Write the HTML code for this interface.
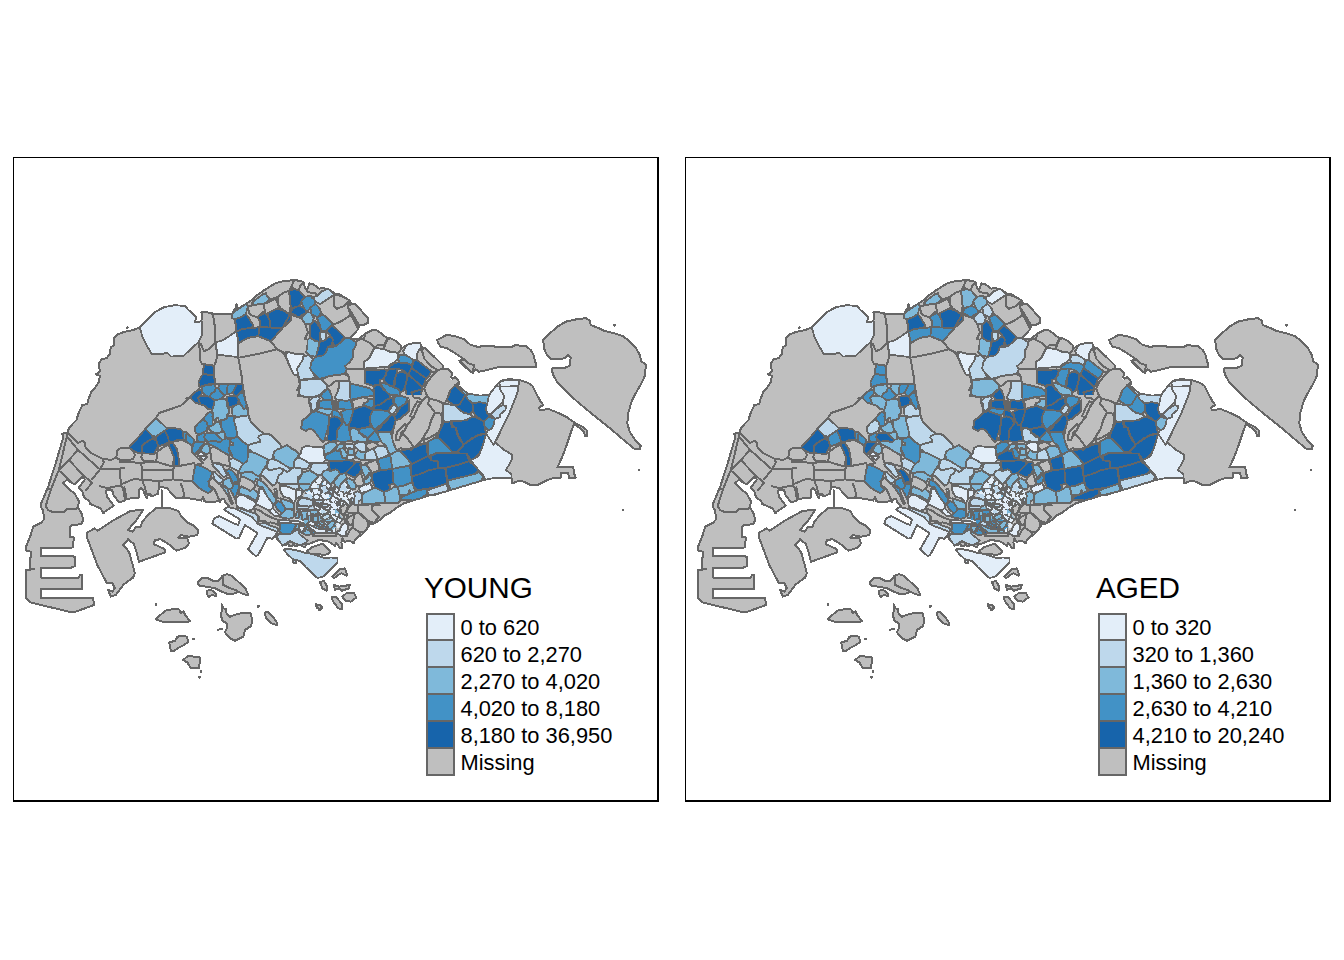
<!DOCTYPE html>
<html><head><meta charset="utf-8"><title>map</title>
<style>
html,body{margin:0;padding:0;background:#fff;}
body{width:1344px;height:960px;overflow:hidden;position:relative;font-family:"Liberation Sans",sans-serif;}
svg{position:absolute;left:0;top:0;}
text{font-family:"Liberation Sans",sans-serif;fill:#000;}
.m .b{fill:#BFBFBF;stroke:#BFBFBF;stroke-width:0.6;}
.m .w{fill:#fff;}
.m .g polygon{stroke:#666;stroke-width:2;stroke-linejoin:round;}
.m .l.t{stroke-width:1.85;}
.m .e{stroke-width:1.7;stroke-linejoin:round;}
.m .l{fill:none;stroke:#666;stroke-width:2;stroke-linejoin:round;stroke-linecap:round;}
</style></head><body>
<svg width="1344" height="960" viewBox="0 0 1344 960">

<rect x="0" y="0" width="1344" height="960" fill="#fff"/>
<g class="m" shape-rendering="crispEdges">
<polygon class="b" points="139.8,327.5 133.2,330 124.8,331.7 118.2,334.2 114,338.3 114,345 110.7,347.5 109.8,354.2 106.5,358.3 101.5,359.2 99,363.3 99.8,371.7 95.7,374.2 99.8,375.8 99,381.7 94.8,388.3 91.5,391.7 88.2,400 87.3,404.2 82.3,405 78.2,414.2 76.5,420 72.3,424.2 69,428.3 67.3,432.5 62.3,433.7 63.2,437.5 55.7,463.3 48.2,486.7 41.5,502.5 40.7,506.7 43.2,510.8 44,519.2 41.5,522.5 33.2,526.7 30.7,535 25.7,547.5 26.5,550.8 30.7,551.7 31.5,555.8 29.8,558.3 29.8,568.3 34,569.2 25.7,570 26,598.3 30.7,602.5 69,611.7 75.7,611.7 94,605 93.2,598 40.7,598 40.7,589.2 82.3,588.7 82,575 79.8,574.7 79.3,577.5 40.7,577.5 40.7,568.3 70.7,568 75.3,565.8 75.3,557.5 73.2,556.3 40.7,556.3 40.7,548 73.2,547.5 73.7,537.5 69.8,536.7 69.8,527.5 71.5,525 81.5,524.2 83.2,520 83.1,518.8 81.2,512.5 78.1,507.5 78.8,501.2 75,493.8 70,490 63.1,483.1 66.9,479.8 74.4,484.4 81.9,476.9 85,479.4 78.8,487.5 82.5,491.9 83.1,495 85,498.1 89.4,501.2 90,503.8 100,508.1 103.8,513.1 102.5,513.1 113.8,505.6 107.5,497.5 105.6,490.6 111.9,489.8 113.8,495.6 119.4,502.5 125,500.6 123.1,488.1 124.4,487.5 126.2,496.9 126.9,498.8 138.8,497.5 139,490 141.2,488.1 143.1,490 145,495 146.9,498.1 148.1,494.4 150,493.8 151.9,496.2 158.1,493.8 158.8,488.1 160.6,486.9 166.9,488.1 175.6,498.1 182.5,497.5 192.5,498.8 201.2,500.6 203.1,496.9 204.4,501.2 208.8,502.5 215,501.9 220,500 223.8,498.8 225.6,502.5 228.8,506.2 224.4,509.4 225.1,510.6 228.5,512.4 235.1,516.5 240.1,519.4 238.1,525 233.1,523.1 219.4,516.2 214.4,518.1 212.2,523.5 236.2,538.5 238.8,538.1 245,525 257.5,533.1 248.1,549.4 255.6,556 258.1,555 267.5,537.5 272.5,538.8 275.6,535 277.5,540 282.5,543.8 286.2,545 287.5,542.5 290,541.2 292.5,542.5 295,546.2 300,545 305,547.5 306.2,543.8 309.4,543.8 312.5,542.5 318.8,540 327.5,541.2 331.2,543.1 335,546.2 336.2,542.5 339.4,547.5 341.9,548.1 341.5,542.5 342.3,538.3 344.8,541.7 349.8,540.8 354,543.3 354.8,540 357.3,537.5 362.3,534.2 367.3,528.3 369.8,524.2 374.8,523.3 379.8,520 384,515.8 390.7,512.5 395.7,508.3 404,503.3 417.3,499.2 430.7,495 434,495 450.7,490 467.3,485 484,480 492.3,478.3 500.7,477.5 511.5,478.3 512.3,483.3 519,480.8 524,481.7 529.8,484.7 538.2,484.7 547.3,480 552.3,478.3 560.7,477.5 561.5,472.5 568.2,472.5 569,478 575.7,477.5 574,473.3 573.2,466.7 557.3,467.5 562.3,456.7 562.3,456.7 567.3,443.3 572.3,428.3 574,424.2 579,427.5 584,431.7 584.8,435.8 587.3,435.8 586.5,430 582.3,426.7 575.7,423.3 567.3,417.5 557.3,412.5 549,409.2 539.8,410 539,407.5 543.2,405 540.7,401.7 535.7,392.5 532.3,385.8 527.3,382.5 519,380 509,379.2 500.7,380.8 497.3,384.2 492.3,390.8 489,395 477.3,395.8 467.3,393.3 458.2,386.7 459,381.7 458,380 455,376.9 452.5,378.8 451.2,376.9 452.5,373.8 447.5,368.8 443.1,368.8 442.5,365 433.8,356.2 428.1,351.2 425,348.1 421.2,346.9 420,342.5 413.1,343.1 406.9,345 401.9,348.1 401.2,345.6 396.2,341.2 390,338.1 386.2,337.5 380,332.5 376.2,329.8 372.5,330 366.2,333.1 365,333.8 358.1,339.6 350,338.1 358.1,329.4 359.4,325.6 363.8,325 368.5,322.5 368.1,318.1 361.2,310.6 355,303.8 351.2,303.8 350,300.6 345.6,298.1 340,294.4 336.2,294.4 328.1,288.8 321.2,288.1 319.4,288.8 313.1,284 309.4,283.5 306.9,290 305,288.1 303.8,282.5 301.2,281.2 300.7,280.7 294,280.3 284.8,280.8 275.7,283 265.7,289.2 257.3,295 250.7,300.8 241.5,306.7 237.3,309.2 236.5,304.2 235.7,307.5 232.3,313.7 225.7,314.2 214,313.7 204,311.7 201.5,312.5 202.3,312.5 201.5,320 199,322.5 194.8,321.7 196.5,317.5 193.2,314.2 188.2,309.7 184.8,305.8 174,305.3 164,307.2 155.7,311.7 147.3,320 139.8,327.5"/>
<polygon class="b" points="87.3,532.5 94.8,528.3 97.3,530.8 114,520 130.7,510.8 143.2,510 136.5,520 130.7,526.7 128.2,530 132.3,531.7 136.5,526.7 140.7,526.7 142.3,521.7 147.3,515.8 155.7,508.3 161.5,507.5 170.7,508.3 178.2,510.8 181.5,516.7 187.3,522.5 194,525.8 198.2,530 197.3,535 189,536.7 180.7,535 178.2,537.5 187.3,538.3 189,543.3 185.7,547.5 176.5,550.8 169.8,545 160.7,539.2 154.8,540 154,544.2 164.8,549.2 164.8,552.5 139,561.7 136.5,551.7 134,544.2 128.2,539.2 123.2,545 129,551.7 133.2,566.7 134.8,573.3 133.2,577.5 124,584.2 115.7,595 110.7,596.7 108.2,590 112.3,591.7 114.8,588.3 112.3,583.3 106.5,582.5 97.3,565 87.3,538.3"/>
<polygon class="b" points="197.5,582.5 201.7,578.3 206.7,577.5 213.3,580.8 218.3,580.8 222.5,575.8 226.7,574.2 231.7,575.8 240,583.3 245.8,589.2 248.3,595 243.3,594.2 238.3,591.7 235.8,593.3 228.3,594.2 221.7,591.7 215,588.3 206.7,586.7 199.2,585.8"/>
<polygon class="b" points="206.7,590.8 210.8,589.7 215.8,593.3 215.8,595.8 211.7,595 209.2,597 206.7,594.2"/>
<polygon class="b" points="155.7,604.3 156.2,604.3 156.2,604.8 155.7,604.8"/>
<polygon class="b" points="155.8,619.2 165,610.8 174.2,608.8 179.2,609.5 180.8,613.3 183.3,611.3 185.8,615.8 190,621.3 181.7,622.5 162.5,621.7"/>
<polygon class="b" points="221.7,604.2 223.3,608.3 225.8,609.2 226.7,614.2 230,616.7 236.7,614.2 245,612.5 250.8,613.3 252,620 251.3,625.8 245,630 243.3,636.7 235,640.8 230,638.3 225,632.5 227.5,626.7 226.7,623.3 222.5,620.8 220.8,615 222,610"/>
<polygon class="b" points="258,606 258.7,606 258.7,606.7 258,606.7"/>
<polygon class="b" points="265,612.5 267.5,611.7 273.3,617.5 277.5,623.3 276.7,625.3 271.7,623.3 265.8,617.5"/>
<polygon class="b" points="169.2,642.5 175,640.8 177.5,636.7 181.7,635.8 186.7,636.7 188.3,641.7 184.2,645 179.2,647.5 174.2,650.8 170.8,650.8"/>
<polygon class="b" points="193.3,638.5 194,638.5 194,639.2 193.3,639.2"/>
<polygon class="b" points="183,660 188.3,655.8 200,657.5 199.2,668.3 190.8,668.3 187.5,662.5"/>
<polygon class="b" points="200.7,671 201.2,671 201.2,671.7 200.7,671.7"/>
<polygon class="b" points="199.2,676.7 199.8,676.7 199.8,677.7 199.2,677.7"/>
<polygon class="b" points="315.8,604.2 319.2,605 322.5,607.5 320,610 316.7,607.5"/>
<polygon class="b" points="437.3,340 446.5,335 454,335.8 464,339.2 470.7,345 477.3,346.7 492.3,345.8 497.3,347.5 512.3,346.7 514.8,345.3 525.7,345.8 530.7,350 533.2,354.2 535.7,363.3 535.7,367.5 527.3,366.7 514,367.5 504,366.7 497.3,367.5 487.3,370 479,371.7 475.7,369.2 473.2,372.5 470.7,371.7 460.7,363.3 459.8,360.8 464,360 461.5,357.5 447.3,348.3 440.7,346.7 438.2,343.3"/>
<polygon class="b" points="543.2,340 549,334.2 557.3,326.7 565.7,321.7 579,318.7 586.5,318.3 589.8,320.8 590.7,325 599,328.3 604,330.8 614,333.3 622.3,335.8 629,340.8 635.7,347.5 639.8,355 641.5,361.7 645.7,364.2 645.3,375 641.5,383.3 635.7,393.3 631.5,401.7 628.2,413.3 627.3,423.3 629.8,431.7 635.7,440.8 640.7,445.8 639.8,449.2 634.8,449.2 625.7,441.7 609,427.5 592.3,414.2 577.3,401.7 565.7,390.8 557.3,382.5 553.2,375 551.5,369.2 553.2,367.5 565.7,367.5 569.8,365.8 570.7,357.5 568.2,354.7 565.7,357.5 561.5,359.2 550.7,359.2 546.5,354.2 544,348.3"/>
<polygon class="b" points="306.9,551.2 312.5,546.9 322.5,543.8 326.2,547.5 330.6,551.2 328.8,553.8 323.8,555 317.5,553.8 310,553.8"/>
<polygon class="b" points="332.3,576.7 339.8,569.2 344.8,568.3 346.5,572.5 346.5,575.8 341.5,573.3 338.2,575 334,578.3"/>
<polygon class="b" points="319.8,581.7 324,581.3 327.3,586.7 326.5,590.8 322.3,588.3"/>
<polygon class="b" points="334,585 339,586.7 349.8,585 349,588.3 341.5,590.8 339,588.3 334.8,590"/>
<polygon class="b" points="342.3,596.7 347.3,592.5 354,593.3 356.5,597.5 350.7,601.7 345.7,600.8"/>
<polygon class="b" points="331.5,597.5 335.7,596.7 341.5,603.3 342.3,609.2 338.2,608.3 333.2,601.7"/>
<polygon class="b" points="315.7,604.2 319.8,605 322.3,608.3 319,610"/>
<polygon class="b" points="127.1,327.4 127.5,327.4 127.5,327.8 127.1,327.8"/>
<polygon class="b" points="459.4,360.6 465,359.4 468.1,363.1 473.8,365 473.1,373.1 467.5,368.8 462.5,363.8"/>
<polygon class="b" points="314.8,524.1 317.9,522.2 321.6,521 324.8,524.1 322.2,526.6 320.4,527.9 317.2,526"/>
<polygon class="b" points="312.9,534.1 316,532.9 333.5,532.6 336,534.1 336.6,536 312.9,536"/>
<polygon class="b" points="329.1,490.4 331.6,487.9 334.1,487.2 334.1,492.2 332.2,495.4 330.1,493.5"/>
<polygon class="b" points="337.2,501.6 339.8,502.2 340.4,504.1 338.5,505.4"/>
<polygon class="b" points="255.2,509 260.2,510.7 266,514.8 272.7,518.2 277.7,519.8 278.1,524.8 274.3,523.2 270.2,522.3 267.7,524 266,521.5 259.3,520.7 259.3,517.3 256,514.8 254.8,511.5"/>
<polygon class="b" points="315.2,524 321,521.1 325.2,524 321,527.3"/>
<polygon class="b" points="287.7,542.3 290.2,540.7 293.5,542.3 292.7,545.7 289.3,546.1"/>
<polygon class="b" points="614.3,325 614.8,325 614.8,325.5 614.3,325.5"/>
<polygon class="b" points="638.8,469.5 639.3,469.5 639.3,470 638.8,470"/>
<polygon class="b" points="622.8,509.5 623.3,509.5 623.3,510 622.8,510"/>
<clipPath id="c273_0"><polygon points="310.4,480.4 316.6,477.9 321,477.2 327.2,482.9 333.5,486.6 339.8,485.4 346,481.6 349.8,487.2 354.8,492.2 354.1,503.5 347.9,504.8 341,507.2 339.8,514.8 343.5,519.8 339.8,524.8 336,523.5 331,519.8 321,519.8 314.8,514.8 313.5,507.2 305.4,507.2 304.1,494.8 308.5,487.2"/></clipPath>
<g clip-path="url(#c273_0)" class="g"><polygon style="fill:#E3EEF9" points="312.7,445.1 316.5,448.5 314.9,452.4 311.3,449.7"/><polygon style="fill:#E3EEF9" points="311.3,449.7 314.9,452.4 312.9,458.2 308.2,454.7"/><polygon style="fill:#E3EEF9" points="308.2,454.7 312.9,458.2 309.3,461.6 304.5,458.8"/><polygon style="fill:#7FB9DA" points="304.5,458.8 309.3,461.6 307.3,467.1 302.2,463.0"/><polygon style="fill:#E3EEF9" points="302.2,463.0 307.3,467.1 306.2,470.3 300.4,466.6"/><polygon style="fill:#E3EEF9" points="300.4,466.6 306.2,470.3 304.7,474.7 298.0,473.3"/><polygon style="fill:#E3EEF9" points="298.0,473.3 304.7,474.7 300.1,479.9 295.7,475.9"/><polygon style="fill:#E3EEF9" points="295.7,475.9 300.1,479.9 297.5,483.3 293.6,482.7"/><polygon style="fill:#BED8EC" points="293.6,482.7 297.5,483.3 294.6,488.0 291.9,485.7"/><polygon style="fill:#BED8EC" points="291.9,485.7 294.6,488.0 294.2,493.2 291.0,489.8"/><polygon style="fill:#BED8EC" points="291.0,489.8 294.2,493.2 292.4,497.1 288.0,494.7"/><polygon style="fill:#7FB9DA" points="288.0,494.7 292.4,497.1 289.3,502.0 284.1,497.7"/><polygon style="fill:#7FB9DA" points="284.1,497.7 289.3,502.0 286.8,505.9 281.3,504.1"/><polygon style="fill:#E3EEF9" points="281.3,504.1 286.8,505.9 284.5,511.8 278.9,507.7"/><polygon style="fill:#E3EEF9" points="278.9,507.7 284.5,511.8 281.6,515.1 278.0,512.2"/><polygon style="fill:#7FB9DA" points="278.0,512.2 281.6,515.1 278.2,519.0 275.8,515.8"/><polygon style="fill:#BED8EC" points="275.8,515.8 278.2,519.0 276.9,525.0 272.1,519.9"/><polygon style="fill:#E3EEF9" points="272.1,519.9 276.9,525.0 275.9,527.8 271.0,525.7"/><polygon style="fill:#BED8EC" points="316.5,448.5 321.0,451.1 318.0,454.5 314.9,452.4"/><polygon style="fill:#E3EEF9" points="314.9,452.4 318.0,454.5 316.5,458.3 312.9,458.2"/><polygon style="fill:#E3EEF9" points="312.9,458.2 316.5,458.3 313.0,464.2 309.3,461.6"/><polygon style="fill:#E3EEF9" points="309.3,461.6 313.0,464.2 311.5,467.4 307.3,467.1"/><polygon style="fill:#E3EEF9" points="307.3,467.1 311.5,467.4 309.0,473.7 306.2,470.3"/><polygon style="fill:#E3EEF9" points="306.2,470.3 309.0,473.7 306.5,476.7 304.7,474.7"/><polygon style="fill:#E3EEF9" points="304.7,474.7 306.5,476.7 304.7,482.8 300.1,479.9"/><polygon style="fill:#E3EEF9" points="300.1,479.9 304.7,482.8 303.0,487.5 297.5,483.3"/><polygon style="fill:#7FB9DA" points="297.5,483.3 303.0,487.5 299.9,490.1 294.6,488.0"/><polygon style="fill:#E3EEF9" points="294.6,488.0 299.9,490.1 297.2,495.8 294.2,493.2"/><polygon style="fill:#7FB9DA" points="294.2,493.2 297.2,495.8 297.3,499.1 292.4,497.1"/><polygon style="fill:#E3EEF9" points="292.4,497.1 297.3,499.1 292.9,502.7 289.3,502.0"/><polygon style="fill:#E3EEF9" points="289.3,502.0 292.9,502.7 290.4,507.8 286.8,505.9"/><polygon style="fill:#BED8EC" points="286.8,505.9 290.4,507.8 289.2,512.2 284.5,511.8"/><polygon style="fill:#BED8EC" points="284.5,511.8 289.2,512.2 285.2,516.2 281.6,515.1"/><polygon style="fill:#E3EEF9" points="281.6,515.1 285.2,516.2 283.5,521.5 278.2,519.0"/><polygon style="fill:#E3EEF9" points="278.2,519.0 283.5,521.5 282.5,527.0 276.9,525.0"/><polygon style="fill:#E3EEF9" points="276.9,525.0 282.5,527.0 279.1,530.6 275.9,527.8"/><polygon style="fill:#E3EEF9" points="321.0,451.1 326.9,452.3 324.2,458.8 318.0,454.5"/><polygon style="fill:#7FB9DA" points="318.0,454.5 324.2,458.8 321.8,463.2 316.5,458.3"/><polygon style="fill:#E3EEF9" points="316.5,458.3 321.8,463.2 318.7,466.0 313.0,464.2"/><polygon style="fill:#E3EEF9" points="313.0,464.2 318.7,466.0 315.4,470.7 311.5,467.4"/><polygon style="fill:#BED8EC" points="311.5,467.4 315.4,470.7 313.7,473.6 309.0,473.7"/><polygon style="fill:#E3EEF9" points="309.0,473.7 313.7,473.6 311.6,478.5 306.5,476.7"/><polygon style="fill:#E3EEF9" points="306.5,476.7 311.6,478.5 309.7,482.8 304.7,482.8"/><polygon style="fill:#BED8EC" points="304.7,482.8 309.7,482.8 306.4,487.0 303.0,487.5"/><polygon style="fill:#BED8EC" points="303.0,487.5 306.4,487.0 304.0,492.1 299.9,490.1"/><polygon style="fill:#E3EEF9" points="299.9,490.1 304.0,492.1 300.8,497.6 297.2,495.8"/><polygon style="fill:#E3EEF9" points="297.2,495.8 300.8,497.6 300.8,501.0 297.3,499.1"/><polygon style="fill:#E3EEF9" points="297.3,499.1 300.8,501.0 297.3,505.5 292.9,502.7"/><polygon style="fill:#7FB9DA" points="292.9,502.7 297.3,505.5 295.6,509.5 290.4,507.8"/><polygon style="fill:#E3EEF9" points="290.4,507.8 295.6,509.5 293.3,516.7 289.2,512.2"/><polygon style="fill:#BED8EC" points="289.2,512.2 293.3,516.7 290.7,519.3 285.2,516.2"/><polygon style="fill:#BED8EC" points="285.2,516.2 290.7,519.3 287.9,522.3 283.5,521.5"/><polygon style="fill:#E3EEF9" points="283.5,521.5 287.9,522.3 285.9,527.5 282.5,527.0"/><polygon style="fill:#E3EEF9" points="282.5,527.0 285.9,527.5 284.9,532.2 279.1,530.6"/><polygon style="fill:#7FB9DA" points="326.9,452.3 328.6,456.0 328.5,459.1 324.2,458.8"/><polygon style="fill:#E3EEF9" points="324.2,458.8 328.5,459.1 326.4,463.3 321.8,463.2"/><polygon style="fill:#E3EEF9" points="321.8,463.2 326.4,463.3 322.7,470.0 318.7,466.0"/><polygon style="fill:#BED8EC" points="318.7,466.0 322.7,470.0 321.6,474.2 315.4,470.7"/><polygon style="fill:#E3EEF9" points="315.4,470.7 321.6,474.2 318.2,477.0 313.7,473.6"/><polygon style="fill:#E3EEF9" points="313.7,473.6 318.2,477.0 315.1,482.3 311.6,478.5"/><polygon style="fill:#E3EEF9" points="311.6,478.5 315.1,482.3 313.6,487.2 309.7,482.8"/><polygon style="fill:#BED8EC" points="309.7,482.8 313.6,487.2 311.5,489.9 306.4,487.0"/><polygon style="fill:#7FB9DA" points="306.4,487.0 311.5,489.9 309.3,496.9 304.0,492.1"/><polygon style="fill:#BED8EC" points="304.0,492.1 309.3,496.9 307.3,500.9 300.8,497.6"/><polygon style="fill:#7FB9DA" points="300.8,497.6 307.3,500.9 305.0,505.1 300.8,501.0"/><polygon style="fill:#E3EEF9" points="300.8,501.0 305.0,505.1 301.5,508.2 297.3,505.5"/><polygon style="fill:#E3EEF9" points="297.3,505.5 301.5,508.2 300.1,511.6 295.6,509.5"/><polygon style="fill:#E3EEF9" points="295.6,509.5 300.1,511.6 296.6,516.2 293.3,516.7"/><polygon style="fill:#7FB9DA" points="293.3,516.7 296.6,516.2 294.3,521.9 290.7,519.3"/><polygon style="fill:#7FB9DA" points="290.7,519.3 294.3,521.9 294.0,526.6 287.9,522.3"/><polygon style="fill:#E3EEF9" points="287.9,522.3 294.0,526.6 290.9,532.4 285.9,527.5"/><polygon style="fill:#E3EEF9" points="285.9,527.5 290.9,532.4 289.4,535.3 284.9,532.2"/><polygon style="fill:#E3EEF9" points="328.6,456.0 334.4,456.8 332.0,461.2 328.5,459.1"/><polygon style="fill:#E3EEF9" points="328.5,459.1 332.0,461.2 329.8,467.9 326.4,463.3"/><polygon style="fill:#7FB9DA" points="326.4,463.3 329.8,467.9 328.6,471.5 322.7,470.0"/><polygon style="fill:#E3EEF9" points="322.7,470.0 328.6,471.5 325.3,476.5 321.6,474.2"/><polygon style="fill:#BED8EC" points="321.6,474.2 325.3,476.5 321.8,479.8 318.2,477.0"/><polygon style="fill:#BED8EC" points="318.2,477.0 321.8,479.8 321.3,485.6 315.1,482.3"/><polygon style="fill:#BED8EC" points="315.1,482.3 321.3,485.6 319.0,489.1 313.6,487.2"/><polygon style="fill:#BED8EC" points="313.6,487.2 319.0,489.1 314.8,493.5 311.5,489.9"/><polygon style="fill:#E3EEF9" points="311.5,489.9 314.8,493.5 312.8,498.1 309.3,496.9"/><polygon style="fill:#E3EEF9" points="309.3,496.9 312.8,498.1 312.6,502.4 307.3,500.9"/><polygon style="fill:#E3EEF9" points="307.3,500.9 312.6,502.4 308.1,507.4 305.0,505.1"/><polygon style="fill:#E3EEF9" points="305.0,505.1 308.1,507.4 307.6,510.3 301.5,508.2"/><polygon style="fill:#BED8EC" points="301.5,508.2 307.6,510.3 303.8,513.9 300.1,511.6"/><polygon style="fill:#E3EEF9" points="300.1,511.6 303.8,513.9 302.5,521.0 296.6,516.2"/><polygon style="fill:#E3EEF9" points="296.6,516.2 302.5,521.0 298.2,524.4 294.3,521.9"/><polygon style="fill:#BED8EC" points="294.3,521.9 298.2,524.4 298.2,529.5 294.0,526.6"/><polygon style="fill:#E3EEF9" points="294.0,526.6 298.2,529.5 294.4,532.9 290.9,532.4"/><polygon style="fill:#E3EEF9" points="290.9,532.4 294.4,532.9 292.2,535.7 289.4,535.3"/><polygon style="fill:#E3EEF9" points="334.4,456.8 340.1,461.2 336.3,465.8 332.0,461.2"/><polygon style="fill:#E3EEF9" points="332.0,461.2 336.3,465.8 333.8,469.9 329.8,467.9"/><polygon style="fill:#E3EEF9" points="329.8,467.9 333.8,469.9 333.3,473.2 328.6,471.5"/><polygon style="fill:#7FB9DA" points="328.6,471.5 333.3,473.2 329.4,477.1 325.3,476.5"/><polygon style="fill:#BED8EC" points="325.3,476.5 329.4,477.1 326.7,482.2 321.8,479.8"/><polygon style="fill:#7FB9DA" points="321.8,479.8 326.7,482.2 324.6,486.2 321.3,485.6"/><polygon style="fill:#E3EEF9" points="321.3,485.6 324.6,486.2 321.3,491.7 319.0,489.1"/><polygon style="fill:#E3EEF9" points="319.0,489.1 321.3,491.7 320.1,495.3 314.8,493.5"/><polygon style="fill:#E3EEF9" points="314.8,493.5 320.1,495.3 317.7,501.1 312.8,498.1"/><polygon style="fill:#E3EEF9" points="312.8,498.1 317.7,501.1 314.9,505.3 312.6,502.4"/><polygon style="fill:#BED8EC" points="312.6,502.4 314.9,505.3 313.3,508.9 308.1,507.4"/><polygon style="fill:#E3EEF9" points="308.1,507.4 313.3,508.9 311.7,512.0 307.6,510.3"/><polygon style="fill:#E3EEF9" points="307.6,510.3 311.7,512.0 308.9,516.8 303.8,513.9"/><polygon style="fill:#E3EEF9" points="303.8,513.9 308.9,516.8 304.7,522.1 302.5,521.0"/><polygon style="fill:#BED8EC" points="302.5,521.0 304.7,522.1 303.2,526.0 298.2,524.4"/><polygon style="fill:#BED8EC" points="298.2,524.4 303.2,526.0 302.1,531.3 298.2,529.5"/><polygon style="fill:#BED8EC" points="298.2,529.5 302.1,531.3 298.8,535.1 294.4,532.9"/><polygon style="fill:#BED8EC" points="294.4,532.9 298.8,535.1 296.7,540.5 292.2,535.7"/><polygon style="fill:#BED8EC" points="340.1,461.2 342.5,462.2 340.9,466.1 336.3,465.8"/><polygon style="fill:#E3EEF9" points="336.3,465.8 340.9,466.1 339.6,471.8 333.8,469.9"/><polygon style="fill:#BED8EC" points="333.8,469.9 339.6,471.8 336.4,476.5 333.3,473.2"/><polygon style="fill:#E3EEF9" points="333.3,473.2 336.4,476.5 335.3,480.6 329.4,477.1"/><polygon style="fill:#E3EEF9" points="329.4,477.1 335.3,480.6 332.1,484.8 326.7,482.2"/><polygon style="fill:#E3EEF9" points="326.7,482.2 332.1,484.8 329.3,489.6 324.6,486.2"/><polygon style="fill:#BED8EC" points="324.6,486.2 329.3,489.6 327.0,493.5 321.3,491.7"/><polygon style="fill:#E3EEF9" points="321.3,491.7 327.0,493.5 324.2,499.0 320.1,495.3"/><polygon style="fill:#E3EEF9" points="320.1,495.3 324.2,499.0 322.5,503.5 317.7,501.1"/><polygon style="fill:#E3EEF9" points="317.7,501.1 322.5,503.5 321.5,506.7 314.9,505.3"/><polygon style="fill:#E3EEF9" points="314.9,505.3 321.5,506.7 317.3,512.3 313.3,508.9"/><polygon style="fill:#BED8EC" points="313.3,508.9 317.3,512.3 316.7,515.1 311.7,512.0"/><polygon style="fill:#E3EEF9" points="311.7,512.0 316.7,515.1 312.2,519.3 308.9,516.8"/><polygon style="fill:#E3EEF9" points="308.9,516.8 312.2,519.3 310.0,523.2 304.7,522.1"/><polygon style="fill:#E3EEF9" points="304.7,522.1 310.0,523.2 307.1,528.7 303.2,526.0"/><polygon style="fill:#7FB9DA" points="303.2,526.0 307.1,528.7 306.2,534.6 302.1,531.3"/><polygon style="fill:#E3EEF9" points="302.1,531.3 306.2,534.6 302.5,537.7 298.8,535.1"/><polygon style="fill:#E3EEF9" points="298.8,535.1 302.5,537.7 302.2,541.4 296.7,540.5"/><polygon style="fill:#BED8EC" points="342.5,462.2 348.3,466.6 344.4,470.1 340.9,466.1"/><polygon style="fill:#BED8EC" points="340.9,466.1 344.4,470.1 343.1,473.6 339.6,471.8"/><polygon style="fill:#7FB9DA" points="339.6,471.8 343.1,473.6 341.7,479.6 336.4,476.5"/><polygon style="fill:#E3EEF9" points="336.4,476.5 341.7,479.6 337.9,482.0 335.3,480.6"/><polygon style="fill:#E3EEF9" points="335.3,480.6 337.9,482.0 336.5,486.6 332.1,484.8"/><polygon style="fill:#BED8EC" points="332.1,484.8 336.5,486.6 333.4,490.6 329.3,489.6"/><polygon style="fill:#BED8EC" points="329.3,489.6 333.4,490.6 332.7,494.9 327.0,493.5"/><polygon style="fill:#7FB9DA" points="327.0,493.5 332.7,494.9 329.4,500.2 324.2,499.0"/><polygon style="fill:#E3EEF9" points="324.2,499.0 329.4,500.2 325.9,503.6 322.5,503.5"/><polygon style="fill:#E3EEF9" points="322.5,503.5 325.9,503.6 324.8,509.3 321.5,506.7"/><polygon style="fill:#E3EEF9" points="321.5,506.7 324.8,509.3 320.5,514.1 317.3,512.3"/><polygon style="fill:#E3EEF9" points="317.3,512.3 320.5,514.1 319.9,519.4 316.7,515.1"/><polygon style="fill:#7FB9DA" points="316.7,515.1 319.9,519.4 316.8,521.2 312.2,519.3"/><polygon style="fill:#E3EEF9" points="312.2,519.3 316.8,521.2 313.6,526.8 310.0,523.2"/><polygon style="fill:#7FB9DA" points="310.0,523.2 313.6,526.8 312.7,529.9 307.1,528.7"/><polygon style="fill:#E3EEF9" points="307.1,528.7 312.7,529.9 309.7,536.5 306.2,534.6"/><polygon style="fill:#BED8EC" points="306.2,534.6 309.7,536.5 309.2,539.8 302.5,537.7"/><polygon style="fill:#E3EEF9" points="302.5,537.7 309.2,539.8 304.3,545.0 302.2,541.4"/><polygon style="fill:#E3EEF9" points="348.3,466.6 352.3,467.9 349.6,470.1 344.4,470.1"/><polygon style="fill:#BED8EC" points="344.4,470.1 349.6,470.1 348.3,476.2 343.1,473.6"/><polygon style="fill:#7FB9DA" points="343.1,473.6 348.3,476.2 343.7,481.0 341.7,479.6"/><polygon style="fill:#E3EEF9" points="341.7,479.6 343.7,481.0 343.0,485.9 337.9,482.0"/><polygon style="fill:#E3EEF9" points="337.9,482.0 343.0,485.9 339.2,489.7 336.5,486.6"/><polygon style="fill:#E3EEF9" points="336.5,486.6 339.2,489.7 336.8,494.1 333.4,490.6"/><polygon style="fill:#E3EEF9" points="333.4,490.6 336.8,494.1 336.1,497.7 332.7,494.9"/><polygon style="fill:#E3EEF9" points="332.7,494.9 336.1,497.7 333.2,503.7 329.4,500.2"/><polygon style="fill:#E3EEF9" points="329.4,500.2 333.2,503.7 331.2,505.8 325.9,503.6"/><polygon style="fill:#E3EEF9" points="325.9,503.6 331.2,505.8 329.3,510.8 324.8,509.3"/><polygon style="fill:#E3EEF9" points="324.8,509.3 329.3,510.8 326.1,514.5 320.5,514.1"/><polygon style="fill:#E3EEF9" points="320.5,514.1 326.1,514.5 323.5,518.9 319.9,519.4"/><polygon style="fill:#BED8EC" points="319.9,519.4 323.5,518.9 321.7,523.9 316.8,521.2"/><polygon style="fill:#E3EEF9" points="316.8,521.2 321.7,523.9 320.5,528.9 313.6,526.8"/><polygon style="fill:#E3EEF9" points="313.6,526.8 320.5,528.9 317.6,532.7 312.7,529.9"/><polygon style="fill:#E3EEF9" points="312.7,529.9 317.6,532.7 315.1,536.5 309.7,536.5"/><polygon style="fill:#BED8EC" points="309.7,536.5 315.1,536.5 312.5,540.8 309.2,539.8"/><polygon style="fill:#E3EEF9" points="309.2,539.8 312.5,540.8 310.7,547.2 304.3,545.0"/><polygon style="fill:#E3EEF9" points="352.3,467.9 356.1,469.1 356.1,473.6 349.6,470.1"/><polygon style="fill:#E3EEF9" points="349.6,470.1 356.1,473.6 353.0,478.7 348.3,476.2"/><polygon style="fill:#BED8EC" points="348.3,476.2 353.0,478.7 349.3,483.7 343.7,481.0"/><polygon style="fill:#E3EEF9" points="343.7,481.0 349.3,483.7 347.2,487.2 343.0,485.9"/><polygon style="fill:#E3EEF9" points="343.0,485.9 347.2,487.2 344.9,493.1 339.2,489.7"/><polygon style="fill:#E3EEF9" points="339.2,489.7 344.9,493.1 341.9,496.7 336.8,494.1"/><polygon style="fill:#E3EEF9" points="336.8,494.1 341.9,496.7 340.7,501.1 336.1,497.7"/><polygon style="fill:#E3EEF9" points="336.1,497.7 340.7,501.1 338.0,504.4 333.2,503.7"/><polygon style="fill:#BED8EC" points="333.2,503.7 338.0,504.4 335.1,507.9 331.2,505.8"/><polygon style="fill:#E3EEF9" points="331.2,505.8 335.1,507.9 332.0,513.8 329.3,510.8"/><polygon style="fill:#E3EEF9" points="329.3,510.8 332.0,513.8 330.8,517.0 326.1,514.5"/><polygon style="fill:#BED8EC" points="326.1,514.5 330.8,517.0 327.2,522.9 323.5,518.9"/><polygon style="fill:#E3EEF9" points="323.5,518.9 327.2,522.9 327.0,527.9 321.7,523.9"/><polygon style="fill:#E3EEF9" points="321.7,523.9 327.0,527.9 323.8,530.5 320.5,528.9"/><polygon style="fill:#E3EEF9" points="320.5,528.9 323.8,530.5 321.2,535.5 317.6,532.7"/><polygon style="fill:#7FB9DA" points="317.6,532.7 321.2,535.5 318.5,539.7 315.1,536.5"/><polygon style="fill:#E3EEF9" points="315.1,536.5 318.5,539.7 315.7,545.5 312.5,540.8"/><polygon style="fill:#E3EEF9" points="312.5,540.8 315.7,545.5 315.7,549.8 310.7,547.2"/><polygon style="fill:#E3EEF9" points="356.1,469.1 360.0,472.8 358.6,475.8 356.1,473.6"/><polygon style="fill:#E3EEF9" points="356.1,473.6 358.6,475.8 355.5,479.8 353.0,478.7"/><polygon style="fill:#BED8EC" points="353.0,478.7 355.5,479.8 354.1,485.2 349.3,483.7"/><polygon style="fill:#7FB9DA" points="349.3,483.7 354.1,485.2 351.1,489.2 347.2,487.2"/><polygon style="fill:#E3EEF9" points="347.2,487.2 351.1,489.2 348.6,492.8 344.9,493.1"/><polygon style="fill:#E3EEF9" points="344.9,493.1 348.6,492.8 346.3,497.7 341.9,496.7"/><polygon style="fill:#BED8EC" points="341.9,496.7 346.3,497.7 344.3,501.1 340.7,501.1"/><polygon style="fill:#E3EEF9" points="340.7,501.1 344.3,501.1 342.3,506.4 338.0,504.4"/><polygon style="fill:#E3EEF9" points="338.0,504.4 342.3,506.4 340.3,511.9 335.1,507.9"/><polygon style="fill:#7FB9DA" points="335.1,507.9 340.3,511.9 338.2,516.8 332.0,513.8"/><polygon style="fill:#E3EEF9" points="332.0,513.8 338.2,516.8 335.5,521.8 330.8,517.0"/><polygon style="fill:#BED8EC" points="330.8,517.0 335.5,521.8 333.0,524.4 327.2,522.9"/><polygon style="fill:#E3EEF9" points="327.2,522.9 333.0,524.4 332.4,529.1 327.0,527.9"/><polygon style="fill:#BED8EC" points="327.0,527.9 332.4,529.1 328.7,534.4 323.8,530.5"/><polygon style="fill:#E3EEF9" points="323.8,530.5 328.7,534.4 324.5,538.4 321.2,535.5"/><polygon style="fill:#E3EEF9" points="321.2,535.5 324.5,538.4 324.5,543.4 318.5,539.7"/><polygon style="fill:#E3EEF9" points="318.5,539.7 324.5,543.4 321.5,548.1 315.7,545.5"/><polygon style="fill:#E3EEF9" points="315.7,545.5 321.5,548.1 318.1,551.0 315.7,549.8"/><polygon style="fill:#BED8EC" points="360.0,472.8 365.2,475.1 363.6,479.9 358.6,475.8"/><polygon style="fill:#7FB9DA" points="358.6,475.8 363.6,479.9 360.7,484.2 355.5,479.8"/><polygon style="fill:#E3EEF9" points="355.5,479.8 360.7,484.2 358.8,488.3 354.1,485.2"/><polygon style="fill:#BED8EC" points="354.1,485.2 358.8,488.3 356.2,490.5 351.1,489.2"/><polygon style="fill:#E3EEF9" points="351.1,489.2 356.2,490.5 353.2,495.6 348.6,492.8"/><polygon style="fill:#E3EEF9" points="348.6,492.8 353.2,495.6 350.2,501.1 346.3,497.7"/><polygon style="fill:#E3EEF9" points="346.3,497.7 350.2,501.1 349.2,505.6 344.3,501.1"/><polygon style="fill:#E3EEF9" points="344.3,501.1 349.2,505.6 347.0,510.2 342.3,506.4"/><polygon style="fill:#E3EEF9" points="342.3,506.4 347.0,510.2 345.2,512.8 340.3,511.9"/><polygon style="fill:#7FB9DA" points="340.3,511.9 345.2,512.8 342.6,519.5 338.2,516.8"/><polygon style="fill:#E3EEF9" points="338.2,516.8 342.6,519.5 339.8,523.0 335.5,521.8"/><polygon style="fill:#E3EEF9" points="335.5,521.8 339.8,523.0 338.5,526.4 333.0,524.4"/><polygon style="fill:#BED8EC" points="333.0,524.4 338.5,526.4 336.1,531.4 332.4,529.1"/><polygon style="fill:#7FB9DA" points="332.4,529.1 336.1,531.4 332.0,535.0 328.7,534.4"/><polygon style="fill:#E3EEF9" points="328.7,534.4 332.0,535.0 331.4,540.1 324.5,538.4"/><polygon style="fill:#E3EEF9" points="324.5,538.4 331.4,540.1 328.1,546.4 324.5,543.4"/><polygon style="fill:#7FB9DA" points="324.5,543.4 328.1,546.4 325.9,549.1 321.5,548.1"/><polygon style="fill:#7FB9DA" points="321.5,548.1 325.9,549.1 323.1,554.2 318.1,551.0"/><polygon style="fill:#E3EEF9" points="365.2,475.1 370.6,477.3 368.6,480.2 363.6,479.9"/><polygon style="fill:#E3EEF9" points="363.6,479.9 368.6,480.2 364.8,484.4 360.7,484.2"/><polygon style="fill:#7FB9DA" points="360.7,484.2 364.8,484.4 363.9,489.7 358.8,488.3"/><polygon style="fill:#E3EEF9" points="358.8,488.3 363.9,489.7 361.5,493.2 356.2,490.5"/><polygon style="fill:#7FB9DA" points="356.2,490.5 361.5,493.2 357.6,497.6 353.2,495.6"/><polygon style="fill:#BED8EC" points="353.2,495.6 357.6,497.6 356.2,503.9 350.2,501.1"/><polygon style="fill:#BED8EC" points="350.2,501.1 356.2,503.9 354.3,507.3 349.2,505.6"/><polygon style="fill:#E3EEF9" points="349.2,505.6 354.3,507.3 351.4,511.9 347.0,510.2"/><polygon style="fill:#BED8EC" points="347.0,510.2 351.4,511.9 349.4,515.4 345.2,512.8"/><polygon style="fill:#E3EEF9" points="345.2,512.8 349.4,515.4 348.0,520.6 342.6,519.5"/><polygon style="fill:#E3EEF9" points="342.6,519.5 348.0,520.6 344.9,526.9 339.8,523.0"/><polygon style="fill:#BED8EC" points="339.8,523.0 344.9,526.9 340.8,528.9 338.5,526.4"/><polygon style="fill:#BED8EC" points="338.5,526.4 340.8,528.9 339.7,535.6 336.1,531.4"/><polygon style="fill:#E3EEF9" points="336.1,531.4 339.7,535.6 337.4,537.8 332.0,535.0"/><polygon style="fill:#E3EEF9" points="332.0,535.0 337.4,537.8 333.6,543.6 331.4,540.1"/><polygon style="fill:#E3EEF9" points="331.4,540.1 333.6,543.6 331.7,547.1 328.1,546.4"/><polygon style="fill:#E3EEF9" points="328.1,546.4 331.7,547.1 329.2,551.3 325.9,549.1"/><polygon style="fill:#E3EEF9" points="325.9,549.1 329.2,551.3 329.4,555.8 323.1,554.2"/><polygon style="fill:#E3EEF9" points="370.6,477.3 375.3,479.5 372.8,484.4 368.6,480.2"/><polygon style="fill:#E3EEF9" points="368.6,480.2 372.8,484.4 368.6,488.5 364.8,484.4"/><polygon style="fill:#BED8EC" points="364.8,484.4 368.6,488.5 368.0,491.1 363.9,489.7"/><polygon style="fill:#BED8EC" points="363.9,489.7 368.0,491.1 363.9,496.0 361.5,493.2"/><polygon style="fill:#E3EEF9" points="361.5,493.2 363.9,496.0 362.9,500.5 357.6,497.6"/><polygon style="fill:#E3EEF9" points="357.6,497.6 362.9,500.5 359.7,504.6 356.2,503.9"/><polygon style="fill:#BED8EC" points="356.2,503.9 359.7,504.6 357.2,510.5 354.3,507.3"/><polygon style="fill:#E3EEF9" points="354.3,507.3 357.2,510.5 354.1,514.3 351.4,511.9"/><polygon style="fill:#BED8EC" points="351.4,511.9 354.1,514.3 354.7,518.2 349.4,515.4"/><polygon style="fill:#E3EEF9" points="349.4,515.4 354.7,518.2 351.8,524.2 348.0,520.6"/><polygon style="fill:#E3EEF9" points="348.0,520.6 351.8,524.2 349.9,527.6 344.9,526.9"/><polygon style="fill:#E3EEF9" points="344.9,526.9 349.9,527.6 346.1,531.6 340.8,528.9"/><polygon style="fill:#BED8EC" points="340.8,528.9 346.1,531.6 345.1,537.3 339.7,535.6"/><polygon style="fill:#E3EEF9" points="339.7,535.6 345.1,537.3 341.4,540.5 337.4,537.8"/><polygon style="fill:#E3EEF9" points="337.4,537.8 341.4,540.5 339.3,543.8 333.6,543.6"/><polygon style="fill:#E3EEF9" points="333.6,543.6 339.3,543.8 335.5,549.9 331.7,547.1"/><polygon style="fill:#E3EEF9" points="331.7,547.1 335.5,549.9 333.5,554.9 329.2,551.3"/><polygon style="fill:#BED8EC" points="329.2,551.3 333.5,554.9 331.9,557.6 329.4,555.8"/><polygon style="fill:#E3EEF9" points="375.3,479.5 379.3,480.6 375.6,486.7 372.8,484.4"/><polygon style="fill:#E3EEF9" points="372.8,484.4 375.6,486.7 374.7,491.5 368.6,488.5"/><polygon style="fill:#E3EEF9" points="368.6,488.5 374.7,491.5 371.6,495.8 368.0,491.1"/><polygon style="fill:#E3EEF9" points="368.0,491.1 371.6,495.8 370.5,499.7 363.9,496.0"/><polygon style="fill:#E3EEF9" points="363.9,496.0 370.5,499.7 368.3,502.6 362.9,500.5"/><polygon style="fill:#E3EEF9" points="362.9,500.5 368.3,502.6 365.5,508.0 359.7,504.6"/><polygon style="fill:#BED8EC" points="359.7,504.6 365.5,508.0 362.9,512.9 357.2,510.5"/><polygon style="fill:#BED8EC" points="357.2,510.5 362.9,512.9 360.2,515.3 354.1,514.3"/><polygon style="fill:#E3EEF9" points="354.1,514.3 360.2,515.3 359.3,520.7 354.7,518.2"/><polygon style="fill:#E3EEF9" points="354.7,518.2 359.3,520.7 355.6,525.1 351.8,524.2"/><polygon style="fill:#E3EEF9" points="351.8,524.2 355.6,525.1 352.3,530.2 349.9,527.6"/><polygon style="fill:#E3EEF9" points="349.9,527.6 352.3,530.2 352.2,534.4 346.1,531.6"/><polygon style="fill:#E3EEF9" points="346.1,531.6 352.2,534.4 349.0,538.5 345.1,537.3"/><polygon style="fill:#E3EEF9" points="345.1,537.3 349.0,538.5 346.3,543.0 341.4,540.5"/><polygon style="fill:#E3EEF9" points="341.4,540.5 346.3,543.0 343.3,546.3 339.3,543.8"/><polygon style="fill:#E3EEF9" points="339.3,543.8 343.3,546.3 340.1,552.6 335.5,549.9"/><polygon style="fill:#E3EEF9" points="335.5,549.9 340.1,552.6 339.4,555.7 333.5,554.9"/><polygon style="fill:#E3EEF9" points="333.5,554.9 339.4,555.7 337.0,562.6 331.9,557.6"/><polygon style="fill:#BED8EC" points="379.3,480.6 383.7,482.7 380.7,486.7 375.6,486.7"/><polygon style="fill:#E3EEF9" points="375.6,486.7 380.7,486.7 378.8,491.3 374.7,491.5"/><polygon style="fill:#BED8EC" points="374.7,491.5 378.8,491.3 375.9,496.0 371.6,495.8"/><polygon style="fill:#BED8EC" points="371.6,495.8 375.9,496.0 373.6,502.4 370.5,499.7"/><polygon style="fill:#E3EEF9" points="370.5,499.7 373.6,502.4 372.3,505.9 368.3,502.6"/><polygon style="fill:#E3EEF9" points="368.3,502.6 372.3,505.9 369.0,510.1 365.5,508.0"/><polygon style="fill:#E3EEF9" points="365.5,508.0 369.0,510.1 366.8,514.0 362.9,512.9"/><polygon style="fill:#E3EEF9" points="362.9,512.9 366.8,514.0 363.7,517.9 360.2,515.3"/><polygon style="fill:#7FB9DA" points="360.2,515.3 363.7,517.9 363.8,523.1 359.3,520.7"/><polygon style="fill:#E3EEF9" points="359.3,520.7 363.8,523.1 359.7,528.2 355.6,525.1"/><polygon style="fill:#BED8EC" points="355.6,525.1 359.7,528.2 358.8,532.0 352.3,530.2"/><polygon style="fill:#7FB9DA" points="352.3,530.2 358.8,532.0 354.9,535.8 352.2,534.4"/><polygon style="fill:#BED8EC" points="352.2,534.4 354.9,535.8 352.6,540.8 349.0,538.5"/><polygon style="fill:#BED8EC" points="349.0,538.5 352.6,540.8 351.1,547.0 346.3,543.0"/><polygon style="fill:#E3EEF9" points="346.3,543.0 351.1,547.0 349.7,549.2 343.3,546.3"/><polygon style="fill:#7FB9DA" points="343.3,546.3 349.7,549.2 344.3,554.2 340.1,552.6"/><polygon style="fill:#E3EEF9" points="340.1,552.6 344.3,554.2 344.4,559.2 339.4,555.7"/><polygon style="fill:#7FB9DA" points="339.4,555.7 344.4,559.2 341.9,562.0 337.0,562.6"/><polygon style="fill:#7FB9DA" points="383.7,482.7 386.9,487.0 385.7,491.8 380.7,486.7"/><polygon style="fill:#E3EEF9" points="380.7,486.7 385.7,491.8 384.5,494.9 378.8,491.3"/><polygon style="fill:#BED8EC" points="378.8,491.3 384.5,494.9 380.2,497.9 375.9,496.0"/><polygon style="fill:#7FB9DA" points="375.9,496.0 380.2,497.9 378.2,504.2 373.6,502.4"/><polygon style="fill:#E3EEF9" points="373.6,502.4 378.2,504.2 376.8,509.3 372.3,505.9"/><polygon style="fill:#E3EEF9" points="372.3,505.9 376.8,509.3 373.7,513.4 369.0,510.1"/><polygon style="fill:#BED8EC" points="369.0,510.1 373.7,513.4 371.1,517.0 366.8,514.0"/><polygon style="fill:#E3EEF9" points="366.8,514.0 371.1,517.0 367.4,521.5 363.7,517.9"/><polygon style="fill:#BED8EC" points="363.7,517.9 367.4,521.5 365.4,526.5 363.8,523.1"/><polygon style="fill:#E3EEF9" points="363.8,523.1 365.4,526.5 364.9,529.9 359.7,528.2"/><polygon style="fill:#BED8EC" points="359.7,528.2 364.9,529.9 361.3,533.5 358.8,532.0"/><polygon style="fill:#E3EEF9" points="358.8,532.0 361.3,533.5 359.6,539.7 354.9,535.8"/><polygon style="fill:#E3EEF9" points="354.9,535.8 359.6,539.7 356.8,541.9 352.6,540.8"/><polygon style="fill:#7FB9DA" points="352.6,540.8 356.8,541.9 354.8,548.1 351.1,547.0"/><polygon style="fill:#E3EEF9" points="351.1,547.0 354.8,548.1 352.6,551.4 349.7,549.2"/><polygon style="fill:#E3EEF9" points="349.7,549.2 352.6,551.4 351.1,555.6 344.3,554.2"/><polygon style="fill:#E3EEF9" points="344.3,554.2 351.1,555.6 347.4,560.7 344.4,559.2"/><polygon style="fill:#E3EEF9" points="344.4,559.2 347.4,560.7 346.4,566.5 341.9,562.0"/><polygon style="fill:#E3EEF9" points="386.9,487.0 393.1,488.8 389.5,491.8 385.7,491.8"/><polygon style="fill:#E3EEF9" points="385.7,491.8 389.5,491.8 388.3,498.3 384.5,494.9"/><polygon style="fill:#E3EEF9" points="384.5,494.9 388.3,498.3 385.3,500.2 380.2,497.9"/><polygon style="fill:#7FB9DA" points="380.2,497.9 385.3,500.2 382.5,506.5 378.2,504.2"/><polygon style="fill:#BED8EC" points="378.2,504.2 382.5,506.5 380.5,509.8 376.8,509.3"/><polygon style="fill:#BED8EC" points="376.8,509.3 380.5,509.8 377.9,516.2 373.7,513.4"/><polygon style="fill:#E3EEF9" points="373.7,513.4 377.9,516.2 375.7,517.8 371.1,517.0"/><polygon style="fill:#BED8EC" points="371.1,517.0 375.7,517.8 373.1,523.3 367.4,521.5"/><polygon style="fill:#E3EEF9" points="367.4,521.5 373.1,523.3 371.9,527.6 365.4,526.5"/><polygon style="fill:#E3EEF9" points="365.4,526.5 371.9,527.6 369.1,533.5 364.9,529.9"/><polygon style="fill:#BED8EC" points="364.9,529.9 369.1,533.5 366.7,536.2 361.3,533.5"/><polygon style="fill:#E3EEF9" points="361.3,533.5 366.7,536.2 365.4,541.5 359.6,539.7"/><polygon style="fill:#BED8EC" points="359.6,539.7 365.4,541.5 362.8,545.5 356.8,541.9"/><polygon style="fill:#E3EEF9" points="356.8,541.9 362.8,545.5 358.3,550.5 354.8,548.1"/><polygon style="fill:#E3EEF9" points="354.8,548.1 358.3,550.5 355.8,555.5 352.6,551.4"/><polygon style="fill:#BED8EC" points="352.6,551.4 355.8,555.5 355.0,558.3 351.1,555.6"/><polygon style="fill:#E3EEF9" points="351.1,555.6 355.0,558.3 351.7,562.9 347.4,560.7"/><polygon style="fill:#7FB9DA" points="347.4,560.7 351.7,562.9 349.7,569.2 346.4,566.5"/></g>
<clipPath id="c274_0"><polygon points="296,508.5 305.4,507.2 313.5,507.2 314.8,514.8 321,519.8 331,519.8 336,523.5 336,532.2 312.9,534.1 299.8,534.1 296,531"/></clipPath>
<g clip-path="url(#c274_0)" class="g"><polygon style="fill:#BED8EC" points="302.8,476.3 308.4,479.2 304.7,487.1 300.5,482.5"/><polygon style="fill:#4292C6" points="300.5,482.5 304.7,487.1 301.5,492.4 296.6,489.1"/><polygon style="fill:#E3EEF9" points="296.6,489.1 301.5,492.4 299.7,498.4 292.1,494.8"/><polygon style="fill:#7FB9DA" points="292.1,494.8 299.7,498.4 296.7,503.6 288.9,500.6"/><polygon style="fill:#7FB9DA" points="288.9,500.6 296.7,503.6 292.1,509.3 286.3,505.8"/><polygon style="fill:#7FB9DA" points="286.3,505.8 292.1,509.3 290.2,516.6 283.0,514.1"/><polygon style="fill:#7FB9DA" points="283.0,514.1 290.2,516.6 285.9,522.6 279.9,518.2"/><polygon style="fill:#7FB9DA" points="279.9,518.2 285.9,522.6 283.4,528.0 277.0,526.7"/><polygon style="fill:#7FB9DA" points="277.0,526.7 283.4,528.0 280.5,535.5 274.4,531.3"/><polygon style="fill:#BED8EC" points="274.4,531.3 280.5,535.5 276.1,540.5 272.6,536.9"/><polygon style="fill:#BED8EC" points="272.6,536.9 276.1,540.5 273.2,547.6 268.8,543.4"/><polygon style="fill:#E3EEF9" points="308.4,479.2 315.6,483.5 313.3,489.4 304.7,487.1"/><polygon style="fill:#7FB9DA" points="304.7,487.1 313.3,489.4 307.9,496.3 301.5,492.4"/><polygon style="fill:#BED8EC" points="301.5,492.4 307.9,496.3 304.4,501.3 299.7,498.4"/><polygon style="fill:#BED8EC" points="299.7,498.4 304.4,501.3 300.6,507.6 296.7,503.6"/><polygon style="fill:#7FB9DA" points="296.7,503.6 300.6,507.6 299.4,514.3 292.1,509.3"/><polygon style="fill:#E3EEF9" points="292.1,509.3 299.4,514.3 296.8,519.8 290.2,516.6"/><polygon style="fill:#4292C6" points="290.2,516.6 296.8,519.8 292.8,526.3 285.9,522.6"/><polygon style="fill:#7FB9DA" points="285.9,522.6 292.8,526.3 289.5,531.8 283.4,528.0"/><polygon style="fill:#4292C6" points="283.4,528.0 289.5,531.8 286.3,539.3 280.5,535.5"/><polygon style="fill:#7FB9DA" points="280.5,535.5 286.3,539.3 282.6,544.2 276.1,540.5"/><polygon style="fill:#7FB9DA" points="276.1,540.5 282.6,544.2 278.3,549.7 273.2,547.6"/><polygon style="fill:#4292C6" points="315.6,483.5 320.5,488.4 318.7,492.8 313.3,489.4"/><polygon style="fill:#E3EEF9" points="313.3,489.4 318.7,492.8 313.9,499.2 307.9,496.3"/><polygon style="fill:#7FB9DA" points="307.9,496.3 313.9,499.2 310.1,504.2 304.4,501.3"/><polygon style="fill:#7FB9DA" points="304.4,501.3 310.1,504.2 307.7,509.6 300.6,507.6"/><polygon style="fill:#BED8EC" points="300.6,507.6 307.7,509.6 303.4,517.1 299.4,514.3"/><polygon style="fill:#7FB9DA" points="299.4,514.3 303.4,517.1 301.0,521.9 296.8,519.8"/><polygon style="fill:#7FB9DA" points="296.8,519.8 301.0,521.9 297.7,529.8 292.8,526.3"/><polygon style="fill:#7FB9DA" points="292.8,526.3 297.7,529.8 294.3,534.3 289.5,531.8"/><polygon style="fill:#BED8EC" points="289.5,531.8 294.3,534.3 291.7,542.0 286.3,539.3"/><polygon style="fill:#7FB9DA" points="286.3,539.3 291.7,542.0 289.2,548.3 282.6,544.2"/><polygon style="fill:#BED8EC" points="282.6,544.2 289.2,548.3 285.2,552.5 278.3,549.7"/><polygon style="fill:#7FB9DA" points="320.5,488.4 325.9,490.9 325.2,495.9 318.7,492.8"/><polygon style="fill:#7FB9DA" points="318.7,492.8 325.2,495.9 320.0,501.1 313.9,499.2"/><polygon style="fill:#7FB9DA" points="313.9,499.2 320.0,501.1 316.6,507.8 310.1,504.2"/><polygon style="fill:#BED8EC" points="310.1,504.2 316.6,507.8 314.5,513.7 307.7,509.6"/><polygon style="fill:#BED8EC" points="307.7,509.6 314.5,513.7 309.7,519.3 303.4,517.1"/><polygon style="fill:#7FB9DA" points="303.4,517.1 309.7,519.3 307.2,526.2 301.0,521.9"/><polygon style="fill:#4292C6" points="301.0,521.9 307.2,526.2 305.3,533.2 297.7,529.8"/><polygon style="fill:#BED8EC" points="297.7,529.8 305.3,533.2 301.1,538.5 294.3,534.3"/><polygon style="fill:#4292C6" points="294.3,534.3 301.1,538.5 299.1,543.3 291.7,542.0"/><polygon style="fill:#7FB9DA" points="291.7,542.0 299.1,543.3 295.5,551.4 289.2,548.3"/><polygon style="fill:#7FB9DA" points="289.2,548.3 295.5,551.4 292.2,557.4 285.2,552.5"/><polygon style="fill:#7FB9DA" points="325.9,490.9 332.7,492.9 328.4,499.1 325.2,495.9"/><polygon style="fill:#BED8EC" points="325.2,495.9 328.4,499.1 325.9,503.7 320.0,501.1"/><polygon style="fill:#7FB9DA" points="320.0,501.1 325.9,503.7 322.9,510.1 316.6,507.8"/><polygon style="fill:#7FB9DA" points="316.6,507.8 322.9,510.1 320.2,516.0 314.5,513.7"/><polygon style="fill:#7FB9DA" points="314.5,513.7 320.2,516.0 316.0,521.8 309.7,519.3"/><polygon style="fill:#E3EEF9" points="309.7,519.3 316.0,521.8 312.8,528.5 307.2,526.2"/><polygon style="fill:#E3EEF9" points="307.2,526.2 312.8,528.5 308.8,535.7 305.3,533.2"/><polygon style="fill:#7FB9DA" points="305.3,533.2 308.8,535.7 308.0,540.6 301.1,538.5"/><polygon style="fill:#7FB9DA" points="301.1,538.5 308.0,540.6 303.6,546.7 299.1,543.3"/><polygon style="fill:#E3EEF9" points="299.1,543.3 303.6,546.7 301.0,552.3 295.5,551.4"/><polygon style="fill:#BED8EC" points="295.5,551.4 301.0,552.3 297.9,561.1 292.2,557.4"/><polygon style="fill:#BED8EC" points="332.7,492.9 338.7,496.4 335.1,501.0 328.4,499.1"/><polygon style="fill:#7FB9DA" points="328.4,499.1 335.1,501.0 332.3,507.7 325.9,503.7"/><polygon style="fill:#7FB9DA" points="325.9,503.7 332.3,507.7 330.5,514.1 322.9,510.1"/><polygon style="fill:#BED8EC" points="322.9,510.1 330.5,514.1 324.3,521.0 320.2,516.0"/><polygon style="fill:#7FB9DA" points="320.2,516.0 324.3,521.0 323.4,525.7 316.0,521.8"/><polygon style="fill:#7FB9DA" points="316.0,521.8 323.4,525.7 320.4,531.4 312.8,528.5"/><polygon style="fill:#4292C6" points="312.8,528.5 320.4,531.4 315.9,539.8 308.8,535.7"/><polygon style="fill:#BED8EC" points="308.8,535.7 315.9,539.8 313.9,545.5 308.0,540.6"/><polygon style="fill:#E3EEF9" points="308.0,540.6 313.9,545.5 309.6,549.9 303.6,546.7"/><polygon style="fill:#7FB9DA" points="303.6,546.7 309.6,549.9 305.7,556.8 301.0,552.3"/><polygon style="fill:#E3EEF9" points="301.0,552.3 305.7,556.8 303.4,563.3 297.9,561.1"/><polygon style="fill:#7FB9DA" points="338.7,496.4 344.7,498.8 341.7,507.3 335.1,501.0"/><polygon style="fill:#E3EEF9" points="335.1,501.0 341.7,507.3 338.9,512.9 332.3,507.7"/><polygon style="fill:#7FB9DA" points="332.3,507.7 338.9,512.9 335.7,518.7 330.5,514.1"/><polygon style="fill:#7FB9DA" points="330.5,514.1 335.7,518.7 331.3,523.4 324.3,521.0"/><polygon style="fill:#BED8EC" points="324.3,521.0 331.3,523.4 329.1,528.4 323.4,525.7"/><polygon style="fill:#4292C6" points="323.4,525.7 329.1,528.4 324.8,534.6 320.4,531.4"/><polygon style="fill:#7FB9DA" points="320.4,531.4 324.8,534.6 321.6,541.9 315.9,539.8"/><polygon style="fill:#7FB9DA" points="315.9,539.8 321.6,541.9 320.5,548.2 313.9,545.5"/><polygon style="fill:#BED8EC" points="313.9,545.5 320.5,548.2 316.5,555.5 309.6,549.9"/><polygon style="fill:#7FB9DA" points="309.6,549.9 316.5,555.5 314.2,560.0 305.7,556.8"/><polygon style="fill:#7FB9DA" points="305.7,556.8 314.2,560.0 309.3,564.7 303.4,563.3"/><polygon style="fill:#7FB9DA" points="344.7,498.8 350.4,501.8 347.4,510.1 341.7,507.3"/><polygon style="fill:#7FB9DA" points="341.7,507.3 347.4,510.1 345.3,515.3 338.9,512.9"/><polygon style="fill:#7FB9DA" points="338.9,512.9 345.3,515.3 341.2,521.9 335.7,518.7"/><polygon style="fill:#7FB9DA" points="335.7,518.7 341.2,521.9 336.8,526.8 331.3,523.4"/><polygon style="fill:#7FB9DA" points="331.3,523.4 336.8,526.8 335.5,534.2 329.1,528.4"/><polygon style="fill:#BED8EC" points="329.1,528.4 335.5,534.2 332.3,539.2 324.8,534.6"/><polygon style="fill:#7FB9DA" points="324.8,534.6 332.3,539.2 327.3,545.2 321.6,541.9"/><polygon style="fill:#BED8EC" points="321.6,541.9 327.3,545.2 324.5,551.5 320.5,548.2"/><polygon style="fill:#7FB9DA" points="320.5,548.2 324.5,551.5 323.4,557.3 316.5,555.5"/><polygon style="fill:#7FB9DA" points="316.5,555.5 323.4,557.3 318.0,563.9 314.2,560.0"/><polygon style="fill:#7FB9DA" points="314.2,560.0 318.0,563.9 316.7,568.4 309.3,564.7"/><polygon style="fill:#7FB9DA" points="350.4,501.8 356.3,504.8 354.2,513.4 347.4,510.1"/><polygon style="fill:#7FB9DA" points="347.4,510.1 354.2,513.4 349.1,518.5 345.3,515.3"/><polygon style="fill:#BED8EC" points="345.3,515.3 349.1,518.5 348.2,525.1 341.2,521.9"/><polygon style="fill:#BED8EC" points="341.2,521.9 348.2,525.1 343.6,530.0 336.8,526.8"/><polygon style="fill:#7FB9DA" points="336.8,526.8 343.6,530.0 340.6,534.4 335.5,534.2"/><polygon style="fill:#7FB9DA" points="335.5,534.2 340.6,534.4 338.6,543.1 332.3,539.2"/><polygon style="fill:#4292C6" points="332.3,539.2 338.6,543.1 334.0,549.2 327.3,545.2"/><polygon style="fill:#7FB9DA" points="327.3,545.2 334.0,549.2 330.6,555.0 324.5,551.5"/><polygon style="fill:#E3EEF9" points="324.5,551.5 330.6,555.0 329.3,559.9 323.4,557.3"/><polygon style="fill:#7FB9DA" points="323.4,557.3 329.3,559.9 324.5,565.3 318.0,563.9"/><polygon style="fill:#7FB9DA" points="318.0,563.9 324.5,565.3 320.9,572.0 316.7,568.4"/><polygon style="fill:#E3EEF9" points="356.3,504.8 362.3,508.8 358.2,515.8 354.2,513.4"/><polygon style="fill:#7FB9DA" points="354.2,513.4 358.2,515.8 356.1,521.0 349.1,518.5"/><polygon style="fill:#BED8EC" points="349.1,518.5 356.1,521.0 352.9,528.4 348.2,525.1"/><polygon style="fill:#BED8EC" points="348.2,525.1 352.9,528.4 349.3,534.2 343.6,530.0"/><polygon style="fill:#4292C6" points="343.6,530.0 349.3,534.2 346.8,539.4 340.6,534.4"/><polygon style="fill:#7FB9DA" points="340.6,534.4 346.8,539.4 344.3,544.2 338.6,543.1"/><polygon style="fill:#E3EEF9" points="338.6,543.1 344.3,544.2 340.7,550.5 334.0,549.2"/><polygon style="fill:#BED8EC" points="334.0,549.2 340.7,550.5 335.7,557.4 330.6,555.0"/><polygon style="fill:#BED8EC" points="330.6,555.0 335.7,557.4 333.3,562.8 329.3,559.9"/><polygon style="fill:#7FB9DA" points="329.3,559.9 333.3,562.8 331.4,569.8 324.5,565.3"/><polygon style="fill:#7FB9DA" points="324.5,565.3 331.4,569.8 327.2,575.2 320.9,572.0"/><polygon style="fill:#7FB9DA" points="362.3,508.8 368.6,513.3 364.6,518.1 358.2,515.8"/><polygon style="fill:#7FB9DA" points="358.2,515.8 364.6,518.1 362.1,523.6 356.1,521.0"/><polygon style="fill:#7FB9DA" points="356.1,521.0 362.1,523.6 359.9,530.9 352.9,528.4"/><polygon style="fill:#BED8EC" points="352.9,528.4 359.9,530.9 355.9,537.2 349.3,534.2"/><polygon style="fill:#7FB9DA" points="349.3,534.2 355.9,537.2 353.9,542.9 346.8,539.4"/><polygon style="fill:#7FB9DA" points="346.8,539.4 353.9,542.9 349.9,548.7 344.3,544.2"/><polygon style="fill:#7FB9DA" points="344.3,544.2 349.9,548.7 346.2,555.0 340.7,550.5"/><polygon style="fill:#E3EEF9" points="340.7,550.5 346.2,555.0 343.1,560.5 335.7,557.4"/><polygon style="fill:#E3EEF9" points="335.7,557.4 343.1,560.5 339.4,567.6 333.3,562.8"/><polygon style="fill:#BED8EC" points="333.3,562.8 339.4,567.6 336.9,573.7 331.4,569.8"/><polygon style="fill:#7FB9DA" points="331.4,569.8 336.9,573.7 335.1,578.5 327.2,575.2"/></g>
<polygon class="w" points="450,378.1 452.5,376.2 453.8,378.1 451.2,380"/>
<polygon class="l" points="139.8,327.5 133.2,330 124.8,331.7 118.2,334.2 114,338.3 114,345 110.7,347.5 109.8,354.2 106.5,358.3 101.5,359.2 99,363.3 99.8,371.7 95.7,374.2 99.8,375.8 99,381.7 94.8,388.3 91.5,391.7 88.2,400 87.3,404.2 82.3,405 78.2,414.2 76.5,420 72.3,424.2 69,428.3 67.3,432.5 62.3,433.7 63.2,437.5 55.7,463.3 48.2,486.7 41.5,502.5 40.7,506.7 43.2,510.8 44,519.2 41.5,522.5 33.2,526.7 30.7,535 25.7,547.5 26.5,550.8 30.7,551.7 31.5,555.8 29.8,558.3 29.8,568.3 34,569.2 25.7,570 26,598.3 30.7,602.5 69,611.7 75.7,611.7 94,605 93.2,598 40.7,598 40.7,589.2 82.3,588.7 82,575 79.8,574.7 79.3,577.5 40.7,577.5 40.7,568.3 70.7,568 75.3,565.8 75.3,557.5 73.2,556.3 40.7,556.3 40.7,548 73.2,547.5 73.7,537.5 69.8,536.7 69.8,527.5 71.5,525 81.5,524.2 83.2,520 83.1,518.8 81.2,512.5 78.1,507.5 78.8,501.2 75,493.8 70,490 63.1,483.1 66.9,479.8 74.4,484.4 81.9,476.9 85,479.4 78.8,487.5 82.5,491.9 83.1,495 85,498.1 89.4,501.2 90,503.8 100,508.1 103.8,513.1 102.5,513.1 113.8,505.6 107.5,497.5 105.6,490.6 111.9,489.8 113.8,495.6 119.4,502.5 125,500.6 123.1,488.1 124.4,487.5 126.2,496.9 126.9,498.8 138.8,497.5 139,490 141.2,488.1 143.1,490 145,495 146.9,498.1 148.1,494.4 150,493.8 151.9,496.2 158.1,493.8 158.8,488.1 160.6,486.9 166.9,488.1 175.6,498.1 182.5,497.5 192.5,498.8 201.2,500.6 203.1,496.9 204.4,501.2 208.8,502.5 215,501.9 220,500 223.8,498.8 225.6,502.5 228.8,506.2 224.4,509.4 225.1,510.6 228.5,512.4 235.1,516.5 240.1,519.4 238.1,525 233.1,523.1 219.4,516.2 214.4,518.1 212.2,523.5 236.2,538.5 238.8,538.1 245,525 257.5,533.1 248.1,549.4 255.6,556 258.1,555 267.5,537.5 272.5,538.8 275.6,535 277.5,540 282.5,543.8 286.2,545 287.5,542.5 290,541.2 292.5,542.5 295,546.2 300,545 305,547.5 306.2,543.8 309.4,543.8 312.5,542.5 318.8,540 327.5,541.2 331.2,543.1 335,546.2 336.2,542.5 339.4,547.5 341.9,548.1 341.5,542.5 342.3,538.3 344.8,541.7 349.8,540.8 354,543.3 354.8,540 357.3,537.5 362.3,534.2 367.3,528.3 369.8,524.2 374.8,523.3 379.8,520 384,515.8 390.7,512.5 395.7,508.3 404,503.3 417.3,499.2 430.7,495 434,495 450.7,490 467.3,485 484,480 492.3,478.3 500.7,477.5 511.5,478.3 512.3,483.3 519,480.8 524,481.7 529.8,484.7 538.2,484.7 547.3,480 552.3,478.3 560.7,477.5 561.5,472.5 568.2,472.5 569,478 575.7,477.5 574,473.3 573.2,466.7 557.3,467.5 562.3,456.7 562.3,456.7 567.3,443.3 572.3,428.3 574,424.2 579,427.5 584,431.7 584.8,435.8 587.3,435.8 586.5,430 582.3,426.7 575.7,423.3 567.3,417.5 557.3,412.5 549,409.2 539.8,410 539,407.5 543.2,405 540.7,401.7 535.7,392.5 532.3,385.8 527.3,382.5 519,380 509,379.2 500.7,380.8 497.3,384.2 492.3,390.8 489,395 477.3,395.8 467.3,393.3 458.2,386.7 459,381.7 458,380 455,376.9 452.5,378.8 451.2,376.9 452.5,373.8 447.5,368.8 443.1,368.8 442.5,365 433.8,356.2 428.1,351.2 425,348.1 421.2,346.9 420,342.5 413.1,343.1 406.9,345 401.9,348.1 401.2,345.6 396.2,341.2 390,338.1 386.2,337.5 380,332.5 376.2,329.8 372.5,330 366.2,333.1 365,333.8 358.1,339.6 350,338.1 358.1,329.4 359.4,325.6 363.8,325 368.5,322.5 368.1,318.1 361.2,310.6 355,303.8 351.2,303.8 350,300.6 345.6,298.1 340,294.4 336.2,294.4 328.1,288.8 321.2,288.1 319.4,288.8 313.1,284 309.4,283.5 306.9,290 305,288.1 303.8,282.5 301.2,281.2 300.7,280.7 294,280.3 284.8,280.8 275.7,283 265.7,289.2 257.3,295 250.7,300.8 241.5,306.7 237.3,309.2 236.5,304.2 235.7,307.5 232.3,313.7 225.7,314.2 214,313.7 204,311.7 201.5,312.5 202.3,312.5 201.5,320 199,322.5 194.8,321.7 196.5,317.5 193.2,314.2 188.2,309.7 184.8,305.8 174,305.3 164,307.2 155.7,311.7 147.3,320 139.8,327.5"/>
<polygon class="l" points="87.3,532.5 94.8,528.3 97.3,530.8 114,520 130.7,510.8 143.2,510 136.5,520 130.7,526.7 128.2,530 132.3,531.7 136.5,526.7 140.7,526.7 142.3,521.7 147.3,515.8 155.7,508.3 161.5,507.5 170.7,508.3 178.2,510.8 181.5,516.7 187.3,522.5 194,525.8 198.2,530 197.3,535 189,536.7 180.7,535 178.2,537.5 187.3,538.3 189,543.3 185.7,547.5 176.5,550.8 169.8,545 160.7,539.2 154.8,540 154,544.2 164.8,549.2 164.8,552.5 139,561.7 136.5,551.7 134,544.2 128.2,539.2 123.2,545 129,551.7 133.2,566.7 134.8,573.3 133.2,577.5 124,584.2 115.7,595 110.7,596.7 108.2,590 112.3,591.7 114.8,588.3 112.3,583.3 106.5,582.5 97.3,565 87.3,538.3"/>
<polygon class="l" points="197.5,582.5 201.7,578.3 206.7,577.5 213.3,580.8 218.3,580.8 222.5,575.8 226.7,574.2 231.7,575.8 240,583.3 245.8,589.2 248.3,595 243.3,594.2 238.3,591.7 235.8,593.3 228.3,594.2 221.7,591.7 215,588.3 206.7,586.7 199.2,585.8"/>
<polygon class="l" points="206.7,590.8 210.8,589.7 215.8,593.3 215.8,595.8 211.7,595 209.2,597 206.7,594.2"/>
<polygon class="l" points="155.7,604.3 156.2,604.3 156.2,604.8 155.7,604.8"/>
<polygon class="l" points="155.8,619.2 165,610.8 174.2,608.8 179.2,609.5 180.8,613.3 183.3,611.3 185.8,615.8 190,621.3 181.7,622.5 162.5,621.7"/>
<polygon class="l" points="221.7,604.2 223.3,608.3 225.8,609.2 226.7,614.2 230,616.7 236.7,614.2 245,612.5 250.8,613.3 252,620 251.3,625.8 245,630 243.3,636.7 235,640.8 230,638.3 225,632.5 227.5,626.7 226.7,623.3 222.5,620.8 220.8,615 222,610"/>
<polygon class="l" points="258,606 258.7,606 258.7,606.7 258,606.7"/>
<polygon class="l" points="265,612.5 267.5,611.7 273.3,617.5 277.5,623.3 276.7,625.3 271.7,623.3 265.8,617.5"/>
<polygon class="l" points="169.2,642.5 175,640.8 177.5,636.7 181.7,635.8 186.7,636.7 188.3,641.7 184.2,645 179.2,647.5 174.2,650.8 170.8,650.8"/>
<polygon class="l" points="193.3,638.5 194,638.5 194,639.2 193.3,639.2"/>
<polygon class="l" points="183,660 188.3,655.8 200,657.5 199.2,668.3 190.8,668.3 187.5,662.5"/>
<polygon class="l" points="200.7,671 201.2,671 201.2,671.7 200.7,671.7"/>
<polygon class="l" points="199.2,676.7 199.8,676.7 199.8,677.7 199.2,677.7"/>
<polygon class="l" points="315.8,604.2 319.2,605 322.5,607.5 320,610 316.7,607.5"/>
<polygon class="l" points="437.3,340 446.5,335 454,335.8 464,339.2 470.7,345 477.3,346.7 492.3,345.8 497.3,347.5 512.3,346.7 514.8,345.3 525.7,345.8 530.7,350 533.2,354.2 535.7,363.3 535.7,367.5 527.3,366.7 514,367.5 504,366.7 497.3,367.5 487.3,370 479,371.7 475.7,369.2 473.2,372.5 470.7,371.7 460.7,363.3 459.8,360.8 464,360 461.5,357.5 447.3,348.3 440.7,346.7 438.2,343.3"/>
<polygon class="l" points="543.2,340 549,334.2 557.3,326.7 565.7,321.7 579,318.7 586.5,318.3 589.8,320.8 590.7,325 599,328.3 604,330.8 614,333.3 622.3,335.8 629,340.8 635.7,347.5 639.8,355 641.5,361.7 645.7,364.2 645.3,375 641.5,383.3 635.7,393.3 631.5,401.7 628.2,413.3 627.3,423.3 629.8,431.7 635.7,440.8 640.7,445.8 639.8,449.2 634.8,449.2 625.7,441.7 609,427.5 592.3,414.2 577.3,401.7 565.7,390.8 557.3,382.5 553.2,375 551.5,369.2 553.2,367.5 565.7,367.5 569.8,365.8 570.7,357.5 568.2,354.7 565.7,357.5 561.5,359.2 550.7,359.2 546.5,354.2 544,348.3"/>
<polygon class="l" points="306.9,551.2 312.5,546.9 322.5,543.8 326.2,547.5 330.6,551.2 328.8,553.8 323.8,555 317.5,553.8 310,553.8"/>
<polygon class="l" points="332.3,576.7 339.8,569.2 344.8,568.3 346.5,572.5 346.5,575.8 341.5,573.3 338.2,575 334,578.3"/>
<polygon class="l" points="319.8,581.7 324,581.3 327.3,586.7 326.5,590.8 322.3,588.3"/>
<polygon class="l" points="334,585 339,586.7 349.8,585 349,588.3 341.5,590.8 339,588.3 334.8,590"/>
<polygon class="l" points="342.3,596.7 347.3,592.5 354,593.3 356.5,597.5 350.7,601.7 345.7,600.8"/>
<polygon class="l" points="331.5,597.5 335.7,596.7 341.5,603.3 342.3,609.2 338.2,608.3 333.2,601.7"/>
<polygon class="l" points="315.7,604.2 319.8,605 322.3,608.3 319,610"/>
<polygon class="l" points="127.1,327.4 127.5,327.4 127.5,327.8 127.1,327.8"/>
<polygon class="l" points="459.4,360.6 465,359.4 468.1,363.1 473.8,365 473.1,373.1 467.5,368.8 462.5,363.8"/>
<polygon class="l" points="314.8,524.1 317.9,522.2 321.6,521 324.8,524.1 322.2,526.6 320.4,527.9 317.2,526"/>
<polygon class="l" points="312.9,534.1 316,532.9 333.5,532.6 336,534.1 336.6,536 312.9,536"/>
<polygon class="l" points="329.1,490.4 331.6,487.9 334.1,487.2 334.1,492.2 332.2,495.4 330.1,493.5"/>
<polygon class="l" points="337.2,501.6 339.8,502.2 340.4,504.1 338.5,505.4"/>
<polygon class="l" points="255.2,509 260.2,510.7 266,514.8 272.7,518.2 277.7,519.8 278.1,524.8 274.3,523.2 270.2,522.3 267.7,524 266,521.5 259.3,520.7 259.3,517.3 256,514.8 254.8,511.5"/>
<polygon class="l" points="315.2,524 321,521.1 325.2,524 321,527.3"/>
<polygon class="l" points="287.7,542.3 290.2,540.7 293.5,542.3 292.7,545.7 289.3,546.1"/>
<polygon class="l" points="614.3,325 614.8,325 614.8,325.5 614.3,325.5"/>
<polygon class="l" points="638.8,469.5 639.3,469.5 639.3,470 638.8,470"/>
<polygon class="l" points="622.8,509.5 623.3,509.5 623.3,510 622.8,510"/>
<polygon class="e" style="fill:#BED8EC;stroke:#BED8EC" points="283.8,549.4 287.5,548.8 295,550 300,551.2 306.2,553.1 312.5,553.8 318.8,556.2 325,558.1 331.2,557.5 337.5,558.1 337.5,562.5 330,570 323.8,576.2 317.5,578.1 312.5,573.8 306.2,567.5 300,561.2 296.2,560 296.2,563.1 292.5,562.5 293.8,560 287.5,554.4"/>
<polygon class="e" style="fill:#E3EEF9;stroke:#E3EEF9" points="139.8,327.5 147.3,320 155.7,311.7 164,307.2 174,305.3 184.8,305.8 188.2,309.7 193.2,314.2 196.5,317.5 194.8,321.7 199,322.5 201.5,320 202,328.1 202,335 200.1,339.4 198,342.5 183.2,356.2 170.8,356.5 167,352.5 160.8,354.4 152,354.4 147.6,346.9 145.1,341.9 142.6,337.5"/>
<polygon class="e" style="fill:#E3EEF9;stroke:#E3EEF9" points="215.5,342.3 222,340.6 228.2,336.9 235.9,331.6 237.3,335.6 238.2,345 238.2,356.9 228.2,356.2 222,355 217.3,355"/>
<polygon class="e" style="fill:#7FB9DA;stroke:#7FB9DA" points="232,318.1 232.3,313.7 236,310.6 246.4,303.5 247.8,306.7 245.8,314.1 240.8,317.2 235.3,319.2"/>
<polygon class="e" style="fill:#7FB9DA;stroke:#7FB9DA" points="251.4,303.1 263.2,293.8 266.2,294.6 269.9,299.5 263.7,304.1 253.8,304.7"/>
<polygon class="e" style="fill:#1764AB;stroke:#1764AB" points="235.3,319.2 240.8,317.2 245.8,314.1 248.2,316.9 250.8,321.2 253.2,325.6 250.2,328.1 242,329.1 235.9,331.6 235.6,325"/>
<polygon class="e" style="fill:#1764AB;stroke:#1764AB" points="235.9,331.6 242,329.1 250.2,328.1 259.6,327.2 258.2,336.2 248.2,337.8 238.9,342.8 237.3,335.6"/>
<polygon class="e" style="fill:#1764AB;stroke:#1764AB" points="257.2,317.1 265.1,313.1 267.9,316.2 269.8,321.2 269.7,327.5 259.6,327.2 260.5,321.9"/>
<polygon class="e" style="fill:#1764AB;stroke:#1764AB" points="267.6,313.1 277,308.8 283.2,310.3 289.8,314.6 290.8,316.9 290.8,320 282.3,328.4 269.7,327.5 269.8,321.2 267.9,316.2"/>
<polygon class="e" style="fill:#1764AB;stroke:#1764AB" points="259.6,327.2 269.7,327.5 282.3,328.4 278.1,333.1 270.9,341.4 265.8,339.1 258.2,336.2"/>
<polygon class="e" style="fill:#1764AB;stroke:#1764AB" points="204.7,364.2 209.5,365 214.3,365.8 214.3,375.2 209.5,375.3 203.2,373.5 203.2,368.8"/>
<polygon class="e" style="fill:#1764AB;stroke:#1764AB" points="203.2,373.5 209.5,375.3 214.3,375.2 214.9,384.2 208.2,384.3 202.9,385.8 199.5,386.9 198.5,382.5 200.8,377.5"/>
<polygon class="e" style="fill:#1764AB;stroke:#1764AB" points="289,290.8 295,289.1 298.8,290.3 302.5,294.4 304.7,296.9 301.2,301.2 300,305.9 295.3,307 292.5,309.1 290.6,306.2 290,298.8"/>
<polygon class="e" style="fill:#4292C6;stroke:#4292C6" points="301.2,301.2 304.7,296.9 310.6,295.6 314.3,298.6 315.3,303.8 310.3,307.8 306.9,312.3 303.8,307.8"/>
<polygon class="e" style="fill:#BED8EC;stroke:#BED8EC" points="312,297.7 318.1,295.3 321.9,291.2 328.1,288.8 334.4,294.8 327.5,299.1 320,304.1 316.9,302.5"/>
<polygon class="e" style="fill:#1764AB;stroke:#1764AB" points="292.5,309.1 295.3,307 300,305.9 303.8,307.8 306.9,312.3 301.2,315.6 298.5,317.2 290,312.4"/>
<polygon class="e" style="fill:#4292C6;stroke:#4292C6" points="310.3,307.8 315.3,303.8 319.4,308.1 321.2,312.5 317.8,317.5 311.8,314.6"/>
<polygon class="e" style="fill:#7FB9DA;stroke:#7FB9DA" points="301.2,318.1 306.9,312.3 310.6,312.5 313.8,318.1 312.5,323.1 308.1,324.4 305,323.8"/>
<polygon class="e" style="fill:#4292C6;stroke:#4292C6" points="316.9,318.1 322.5,314.4 327.5,318.1 332.5,323.8 329.4,328.2 325.9,331.2 321.2,331.2 320,325"/>
<polygon class="e" style="fill:#1764AB;stroke:#1764AB" points="310,325.6 315,320.6 317.5,323.8 320.9,329.7 319.6,341.9 315,340.9 310.3,337.8 310,332.5"/>
<polygon class="e" style="fill:#BED8EC;stroke:#BED8EC" points="319.5,333.1 324.4,331.2 326.5,335 325.9,339.7 321.4,341.3"/>
<polygon class="e" style="fill:#1764AB;stroke:#1764AB" points="325.9,331.2 331.6,324.7 338.8,331.2 344.4,336.9 340.3,342.8 335,346.5 332.4,341.9 332.8,339.4 329.4,334.4"/>
<polygon class="e" style="fill:#1764AB;stroke:#1764AB" points="319.6,341.9 325.9,339.7 330.2,335.6 332.8,339.4 331.9,345 327.8,347.2 326.5,351.5 323.5,355.3 315.8,356.9 317.8,350"/>
<polygon class="e" style="fill:#7FB9DA;stroke:#7FB9DA" points="307.5,339.7 310.3,337.8 315,340.9 319.6,341.9 317.8,350 315.8,356.9 309.4,355.3 306.2,352.5 307.5,345"/>
<polygon class="e" style="fill:#4292C6;stroke:#4292C6" points="315.8,356.9 323.5,355.3 326.5,351.5 327.8,347.2 335,346.5 340.3,342.8 345.6,338.1 350,338.1 356.2,342.5 355.6,346.2 353.1,350 353.1,357.5 349.4,362.5 345,366.2 347,369.1 344.5,374.1 335,375.3 327.7,376.6 318.9,379 313.5,373.8 310.3,368.8 310.9,363.1 313.1,359.4"/>
<polygon class="e" style="fill:#E3EEF9;stroke:#E3EEF9" points="284.8,355 288.1,351.9 295,353.8 303.8,354.4 302.8,359.7 300,364.1 297.2,368.8 298.1,375.4 293.8,374.4 290,366.9"/>
<polygon class="e" style="fill:#BED8EC;stroke:#BED8EC" points="303.5,355.9 309.4,355.3 313.1,359.4 310.9,363.1 310.3,368.8 313.5,373.8 315,377.5 307.6,379.7 299.9,379.8 298.1,375.4 297.2,368.8 300,364.1 302.8,359.7"/>
<polygon class="e" style="fill:#E3EEF9;stroke:#E3EEF9" points="363.7,365 363.5,362.2 369.5,357.9 372.3,351.1 374.7,348 383.8,349 389.4,351.5 398.1,352.8 398.2,358.2 392.3,364.6 387.8,366.9 377.5,367.5 364,368.6"/>
<polygon class="e" style="fill:#E3EEF9;stroke:#E3EEF9" points="403.1,351.2 406.9,345 413.1,343.1 420,342.5 421.2,346.9 418.8,350 416.9,355 416.5,359.7 414,360.6 409.4,357.2 405,354.7"/>
<polygon class="e" style="fill:#4292C6;stroke:#4292C6" points="397.5,359.4 400,355 405,354.7 409.4,357.2 414,360.6 411.5,365.3 406.2,362.8 400,362.6"/>
<polygon class="e" style="fill:#1764AB;stroke:#1764AB" points="414,360.6 416.5,359.7 431.2,371.2 429.4,375.6 426.2,378.5 411.7,368.1"/>
<polygon class="e" style="fill:#1764AB;stroke:#1764AB" points="411.7,368.1 426.2,378.5 423.8,385 422.5,387.2 408.3,374.4"/>
<polygon class="e" style="fill:#1764AB;stroke:#1764AB" points="387.8,366.9 392.6,362.9 397.5,362.5 406.2,362.8 411.5,365.3 411.7,368.1 408.3,374.4 402.5,370 396.2,368.5 390,369.1"/>
<polygon class="e" style="fill:#1764AB;stroke:#1764AB" points="365.1,370.1 385,369.4 386.9,370.3 385.9,375 383.5,378.8 380,380 380.2,384.5 372.5,385.6 365,383.1"/>
<polygon class="e" style="fill:#1764AB;stroke:#1764AB" points="386.9,370.3 390,369.1 396.2,368.5 397.5,370.6 395.7,376.5 394.5,385.4 390.1,386 383.8,381.2 383.5,378.8 385.9,375"/>
<polygon class="e" style="fill:#1764AB;stroke:#1764AB" points="406.2,393.8 405.1,386.4 406.9,379.4 408.3,374.4 422.5,387.2 421.2,393.8"/>
<polygon class="e" style="fill:#1764AB;stroke:#1764AB" points="446.3,400 447.8,397.5 450.3,390.3 455,385.4 458.8,388.8 465.6,395.1 462.8,399.1 460,404.1 455,405.6"/>
<polygon class="e" style="fill:#7FB9DA;stroke:#7FB9DA" points="455,385.4 456.3,384.2 467.3,393.3 465.6,395.1"/>
<polygon class="e" style="fill:#7FB9DA;stroke:#7FB9DA" points="465.6,395.1 470,394 480,395.6 487.6,395.1 489,395 487.3,403.6 480,402.2 472.5,403.1 468.1,399.7"/>
<polygon class="e" style="fill:#1764AB;stroke:#1764AB" points="455,405.6 460,404.1 462.8,399.1 465.6,395.1 468.1,399.7 472.5,403.1 472.8,411.2 470,414.1 463.8,412.8 458.8,409.1"/>
<polygon class="e" style="fill:#1764AB;stroke:#1764AB" points="472.5,403.1 480,402.2 487.3,403.6 485.9,408.8 487.5,413.5 489.1,416.5 483.8,421.5 480,419.1 475,415 472.8,411.2"/>
<polygon class="e" style="fill:#BED8EC;stroke:#BED8EC" points="443.1,404.4 446.2,403.8 455,405.6 458.8,409.1 463.8,412.8 470,414.1 472.8,416.5 466.2,420.3 460,420.7 452.8,421.2 443.7,422.1 443.1,412.5"/>
<polygon class="e" style="fill:#1764AB;stroke:#1764AB" points="452.8,421.2 466.2,420.3 472.8,416.5 480,419.1 483.8,421.5 485,428.8 486.1,433.9 481.2,433.8 475.8,436.2 470.1,440.1 463.6,444.5 459.4,438.8 457.2,434 455.9,427.9 451.5,425.1"/>
<polygon class="e" style="fill:#4292C6;stroke:#4292C6" points="483.8,421.5 489.1,416.5 494.8,419 493.5,425 491.5,429.1 487.8,430.3 484.6,426.4"/>
<polygon class="e" style="fill:#E3EEF9;stroke:#E3EEF9" points="485.9,408.8 487.3,403.6 489,395 495.6,386.4 499.7,386.6 500.3,390 504.1,395.6 503.1,401.2 495.6,409.1 490.3,414.4 487.5,413.5"/>
<polygon class="e" style="fill:#E3EEF9;stroke:#E3EEF9" points="499.7,386.6 499.5,382 506,379.8 519,380 518.5,385.9 508.8,386.5 499.7,386.6"/>
<polygon class="e" style="fill:#BED8EC;stroke:#BED8EC" points="490.3,414.4 495.6,409.1 502.5,405.3 506.5,405.9 505.3,410.3 500.3,414.1 499.7,417.2 494.8,419"/>
<polygon class="e" style="fill:#E3EEF9;stroke:#E3EEF9" points="487.8,430.3 491.5,429.1 493.5,425 494.8,419 499.7,417.2 500.3,414.1 505.3,410.3 506.5,405.9 502.5,405.3 503.1,401.2 504.1,395.6 500.3,390 499.7,386.6 508.8,386.5 518.5,385.9 517.5,392.5 513.1,403.8 507.5,417.5 501.2,430 496.9,438.8 493.6,444.8 490.4,440 486.1,433.9"/>
<polygon class="e" style="fill:#4292C6;stroke:#4292C6" points="202.9,385.8 205.8,385.4 214.9,384.2 215.8,388.5 214.4,392 211.4,393.3 209.6,396.7 205.6,396 202.7,392.7 201.8,389.3"/>
<polygon class="e" style="fill:#1764AB;stroke:#1764AB" points="190.2,397.2 194.3,392.9 198.9,389.1 202.4,391.4 201,395.6 198.1,397.4 198.9,400.4 200.2,404.3 195.2,402.7 191.8,399.3"/>
<polygon class="e" style="fill:#1764AB;stroke:#1764AB" points="198.1,397.4 201,395.6 205.6,396 209.6,396.7 214.8,400.3 213.9,404.8 212.2,409.7 208.1,408.9 204.8,405.6 200.2,404.3 198.9,400.4"/>
<polygon class="e" style="fill:#4292C6;stroke:#4292C6" points="209.6,396.7 211.4,393.3 214.4,392 215.8,388.5 218.3,387.4 219.6,390.4 222.9,393.7 224.6,395.8 221,398.9 214.8,400.3"/>
<polygon class="e" style="fill:#4292C6;stroke:#4292C6" points="218.3,387.4 220.2,384.1 228,383.9 227.2,388.5 226.8,393.9 224.6,395.8 222.9,393.7 219.6,390.4"/>
<polygon class="e" style="fill:#4292C6;stroke:#4292C6" points="228,383.9 237.2,383.9 234.8,388.7 232.6,393.3 226.8,393.9 227.2,388.5"/>
<polygon class="e" style="fill:#1764AB;stroke:#1764AB" points="237.2,383.9 242.4,383.6 243,389.2 240.4,392.9 236.3,396.4 232.6,393.3 234.8,388.7"/>
<polygon class="e" style="fill:#1764AB;stroke:#1764AB" points="226.8,396.8 231.8,396 236.3,396.4 238.9,400.2 237.2,404.4 232.7,406.4 227.8,408.6 226.6,403.7"/>
<polygon class="e" style="fill:#4292C6;stroke:#4292C6" points="236.3,396.4 240.4,392.9 243.3,392.7 244.6,397.6 246.6,404.2 245.6,408.5 243.3,408.7 242,405.8 240.2,403.9 238.9,400.2"/>
<polygon class="e" style="fill:#7FB9DA;stroke:#7FB9DA" points="231.8,409.8 233.7,405.9 237.2,404.4 240.2,403.9 242,405.8 243.3,408.7 245.6,408.5 247.8,409.2 248.4,415.3 244.4,415.9 237.9,416.8 232.8,416"/>
<polygon class="e" style="fill:#7FB9DA;stroke:#7FB9DA" points="211.8,411 213.9,404.8 214.8,400.3 221,398.9 224.8,398.9 227.3,400.8 228.7,406.3 229.3,412.7 226.8,415.2 227.4,418.5 223,420.5 218.9,421 218.1,417.7 216.4,417.7 215.8,422.4 212.3,417 213.1,412.7"/>
<polygon class="e" style="fill:#4292C6;stroke:#4292C6" points="202.9,419.1 206.8,414.3 209.8,411.8 213.2,414.2 212.7,419.3 212.4,425.4 207.8,425.6 206.4,421.8"/>
<polygon class="e" style="fill:#4292C6;stroke:#4292C6" points="194.8,427.2 198.5,423.1 202.9,419.1 206.4,421.8 207.8,425.6 206.8,431 203.5,432.2 200.6,434.1 196,433.5 194.8,430.2"/>
<polygon class="e" style="fill:#7FB9DA;stroke:#7FB9DA" points="207.4,427.8 212.4,425.4 215.2,422.7 218.9,421 220.8,426 222.9,430.6 219.3,432.9 215.2,433.2 211,431"/>
<polygon class="e" style="fill:#4292C6;stroke:#4292C6" points="220.7,420.4 227.4,418.5 227,416.3 232.8,416 233.9,418.1 234.6,423.1 236.4,429.3 237.1,436.4 233.6,438 226.4,438.5 225,433.7 222.9,430.6 220.8,426"/>
<polygon class="e" style="fill:#BED8EC;stroke:#BED8EC" points="233.9,418.1 237.9,416.8 248.4,415.3 250.2,420.6 252.9,424.1 258.1,429.1 263.9,433.8 258.9,435.8 258.1,437.7 260.2,439.8 259.8,442 255.2,442.9 251,444.3 248.1,445.2 243.5,442.2 240.2,439.1 237.1,436.4 236.4,429.3 234.6,423.1"/>
<polygon class="e" style="fill:#BED8EC;stroke:#BED8EC" points="248.1,445.2 255.2,442.9 259.8,442 260.2,439.8 258.1,437.7 258.9,435.8 263.9,433.8 270.2,434.6 274.8,438.5 279.8,444.1 282.4,447.3 277.2,449.5 274.1,451.6 273.3,455.1 272.9,459.1 268.2,459.8 261,456 252.7,452.2 248.5,449.1"/>
<polygon class="e" style="fill:#4292C6;stroke:#4292C6" points="196.8,436 200.6,434.1 203.5,432.2 205.2,433.9 204.2,437 205.6,440.2 203.1,442.7 196.8,440.6"/>
<polygon class="e" style="fill:#4292C6;stroke:#4292C6" points="205.2,433.9 208.5,432.7 215.2,433.2 219.6,437.4 222.4,439.9 220.4,442.2 214.3,441 207.8,441.7 205,438.7 204.2,437"/>
<polygon class="e" style="fill:#7FB9DA;stroke:#7FB9DA" points="215.2,433.2 223.8,431.9 225,433.7 225.2,438.9 222.4,439.9 219.6,437.4"/>
<polygon class="e" style="fill:#4292C6;stroke:#4292C6" points="206.4,441.8 214.3,441 220.4,442.2 222.4,439.9 226.4,438.5 230.6,439.3 229.8,445.2 228.9,449.3 231.2,453.8 232.1,455.6 227.9,454.9 221,450.9 213.5,446 207.7,443.5"/>
<polygon class="e" style="fill:#4292C6;stroke:#4292C6" points="230.6,439.3 237.1,436.4 240.2,439.1 243.5,442.2 248.1,445.2 248.5,449.1 248,452.1 247.4,461 243.4,463.8 239.3,461.2 233.5,458.4 229.8,452.9 228.9,449.3 229.8,445.2 233.5,445.2 232.7,442.7 230.3,441.6"/>
<polygon class="e" style="fill:#4292C6;stroke:#4292C6" points="191.9,449.3 193.8,442.6 201.1,441.4 204.8,443.5 202,447.9 198.5,450.2 194.6,454.9 192.1,452.3"/>
<polygon class="e" style="fill:#7FB9DA;stroke:#7FB9DA" points="200.3,447.7 204,444.2 208.3,443.8 209.9,448.4 210.4,452.5 206.8,454.3 202,452.7"/>
<polygon class="e" style="fill:#E3EEF9;stroke:#E3EEF9" points="197.7,453.5 201,451.8 205.2,454.8 204.3,456 197.7,456"/>
<polygon class="e" style="fill:#4292C6;stroke:#4292C6" points="186.5,431.9 188.8,434.7 194.2,439.6 193.8,442.6 191.6,445.3 186.2,441.6"/>
<polygon class="e" style="fill:#7FB9DA;stroke:#7FB9DA" points="145.4,428.8 155.7,418 167.3,428.5 164.7,430.6 155.4,436.9 152,435.3"/>
<polygon class="e" style="fill:#1764AB;stroke:#1764AB" points="128.9,447.5 137,438.8 145.4,428.8 152,435.3 152.9,438.5 147.3,441.5 142.3,445.3 142,450.1 141.8,453.3 137,452.5 132.6,450.3"/>
<polygon class="e" style="fill:#1764AB;stroke:#1764AB" points="141.8,453.3 142.3,445.3 147.3,441.5 152.9,438.5 156.7,441.2 158.4,446.4 155.8,450 154.5,453.8"/>
<polygon class="e" style="fill:#1764AB;stroke:#1764AB" points="155.4,436.9 164.7,430.6 167.3,435.6 169.2,441.9 165.8,443.8 158.4,446.4 156.7,441.2"/>
<polygon class="e" style="fill:#1764AB;stroke:#1764AB" points="164.7,430.6 167.3,428.5 174.5,428.1 180.8,429.4 183.2,431.5 183.6,440 177,440 172,442.2 169.2,441.9 167.3,435.6"/>
<polygon class="e" style="fill:#1764AB;stroke:#1764AB" points="168.6,444.4 172,442.2 175.1,446.2 177,449.4 178.2,455 178.9,461.2 179.5,465.9 175.7,466.2 173.9,466.5 174.5,458.1 172,452.5 170.1,448.1"/>
<polygon class="e" style="fill:#4292C6;stroke:#4292C6" points="183.2,431.5 186.5,431.9 192.8,438.1 194.2,439.6 193.8,442.6 191.6,445.3 188.2,442.8 183.6,440"/>
<polygon class="e" style="fill:#4292C6;stroke:#4292C6" points="195.2,465 196.6,464.7 204.5,467.5 212.6,472.6 211.4,475.6 209.2,480.8 209,485.7 212.6,490 208.2,493.1 202,490 197,486.2 192.3,481.5 193.2,476.2"/>
<polygon class="e" style="fill:#E3EEF9;stroke:#E3EEF9" points="197.2,454.6 200.6,451.7 204.6,453 206.8,457.1 203.9,460 201.8,458.8"/>
<polygon class="e" style="fill:#BED8EC;stroke:#BED8EC" points="229.4,458.8 233.5,458.4 239.3,461.2 243.4,463.8 240.6,467.5 238.8,471.3 232.7,468.3 229.6,466.7"/>
<polygon class="e" style="fill:#7FB9DA;stroke:#7FB9DA" points="248,452.1 252.7,452.2 261,456 268.2,459.8 268.1,462.5 264.6,467.7 262,471.9 259.6,476.2 255.6,475 252.4,472.3 246,471.9 241.2,473.6 238.3,472.5 240.6,467.5 243.4,463.8 247.4,461 248,452.1"/>
<polygon class="e" style="fill:#7FB9DA;stroke:#7FB9DA" points="273.3,455.1 274.1,451.6 277.2,449.5 282.4,447.3 287.2,445 291.2,448.3 296,450.8 299.4,454.8 297.9,456.2 296.4,458.4 293.9,461.9 293.6,467.4 289.1,467.7 284.8,465.2 278.9,461.4 274.3,459.6"/>
<polygon class="e" style="fill:#BED8EC;stroke:#BED8EC" points="268.2,459.8 272.9,459.1 278.9,461.4 284.8,465.2 289.1,467.7 290.2,470.2 287.2,472.3 284,469.5 280,468.1 274.3,469 270,470.6 267.4,468.6 266.7,463.5"/>
<polygon class="e" style="fill:#BED8EC;stroke:#BED8EC" points="262,471.9 264.6,467.7 267.4,468.6 270,470.6 274.3,469 280,468.1 284,469.5 282,473.3 278.7,475.2 277.9,478.3 276.6,481.7 275.6,484.2 272.7,485.8 269.3,482.5 266,478.8 262.7,475.8 259.6,476.2"/>
<polygon class="e" style="fill:#7FB9DA;stroke:#7FB9DA" points="241.2,473.6 246,471.9 252.4,472.3 255.6,475 259.6,476.2 261,478.8 258.9,479.6 256,479.2 254.1,482.9 251,480.4 246,477.9 241.2,476.2"/>
<polygon class="e" style="fill:#7FB9DA;stroke:#7FB9DA" points="238.8,490 241.5,486.4 246.8,488.8 250.2,491 253.1,488.8 256.8,491.7 258.8,495.9 257.5,500.5 252,500.3 247,497.1 243.1,494.8 239,493.3"/>
<polygon class="e" style="fill:#E3EEF9;stroke:#E3EEF9" points="235.7,497.9 239.1,495.6 243.1,494.8 248.5,496.3 253.1,499.3 256.2,504.4 252.7,509.2 247.3,510.9 242.3,509.4 236.8,506.7"/>
<polygon class="e" style="fill:#E3EEF9;stroke:#E3EEF9" points="256.2,504.4 257.5,497 259.3,492.5 258.5,489.2 263.3,488.9 265.6,493.8 268.9,498.8 272.7,503.8 272.9,508.1 269.4,510.5 264.3,508.3 259.3,505.8"/>
<polygon class="e" style="fill:#E3EEF9;stroke:#E3EEF9" points="268.9,510.8 272.9,508.1 276,511.7 279.6,515.2 278.1,516.2 274.3,515.8"/>
<polygon class="e" style="fill:#4292C6;stroke:#4292C6" points="274.8,505 277.7,500.8 282,503.1 283.9,506.2 285.7,509.5 282.2,513.3 277.7,510"/>
<polygon class="e" style="fill:#7FB9DA;stroke:#7FB9DA" points="278.1,516.2 282.2,513.3 285.7,509.5 289.3,509 294.3,510.4 293.5,517.5 289.3,518.8 281.8,517.5"/>
<polygon class="e" style="fill:#7FB9DA;stroke:#7FB9DA" points="280.2,498.3 283.9,499.6 289.3,501.2 294.3,503.3 294.3,508.3 289.3,509 285.7,509.5 283.9,506.2 282,503.1"/>
<polygon class="e" style="fill:#7FB9DA;stroke:#7FB9DA" points="256.8,481.7 258.9,479.6 262.7,481.7 266,485 269.3,489.2 272.7,493.3 275.6,498.3 276.1,503.1 272.7,503.8 268.9,498.8 265.6,493.8 262.7,487.5 259.3,486.7 256.8,485.4"/>
<polygon class="e" style="fill:#BED8EC;stroke:#BED8EC" points="274.3,489.2 276.4,489.2 277.2,493.3 277.7,498.3 276,497.5"/>
<polygon class="e" style="fill:#BED8EC;stroke:#BED8EC" points="299.9,379.8 305.9,379 314.3,379.3 321,378.9 323.5,381.8 327.7,386 325.4,391.2 320.2,394.3 316.1,397.1 310.2,397.2 304.1,397.2 298.5,393.9 299.8,387.7"/>
<polygon class="e" style="fill:#BED8EC;stroke:#BED8EC" points="309,401.2 313.8,397 318.2,395.5 319.8,398.5 317.2,402.7 316.8,407.7 313.9,412 311.6,409.8 311.4,404.3"/>
<polygon class="e" style="fill:#4292C6;stroke:#4292C6" points="321,396 323.8,390.8 328.1,388.5 329.8,391 331.4,394.8 332,399.8 323.5,399.8"/>
<polygon class="e" style="fill:#4292C6;stroke:#4292C6" points="318.9,403.5 320.2,401 323.5,399.8 332,399.8 332.8,409.6 328.5,409.1 323.5,408.5 318.9,407.5"/>
<polygon class="e" style="fill:#7FB9DA;stroke:#7FB9DA" points="316.6,411.2 318.9,407.5 323.5,408.5 332.8,409.6 332.2,412.2 329.3,415.2 323.5,413.9 319.3,412.2"/>
<polygon class="e" style="fill:#4292C6;stroke:#4292C6" points="301.3,428.5 301.8,421 306,417.7 311.3,412.6 316.6,411.2 323.5,413.9 329.3,415.2 329.4,421.1 328.2,428.2"/>
<polygon class="e" style="fill:#BED8EC;stroke:#BED8EC" points="339,381.3 349.6,381.2 350.2,389.3 350.5,399.7 346,401 341,400 335.6,399.3 335.2,396.8 337.2,392.7 339.4,386"/>
<polygon class="e" style="fill:#E3EEF9;stroke:#E3EEF9" points="333.9,400.6 336,400.6 336.4,408.9 333.9,408.9"/>
<polygon class="e" style="fill:#4292C6;stroke:#4292C6" points="337.7,401.8 341,400 346,401 350.5,399.7 352.8,404 353.3,409.4 346,409.5 337.7,408.9"/>
<polygon class="e" style="fill:#4292C6;stroke:#4292C6" points="332.2,412.2 332.8,409.6 336.8,410.6 339.3,412.7 342,416.4 341,419.8 337.7,417.2 334.6,416.4 331.8,417"/>
<polygon class="e" style="fill:#1764AB;stroke:#1764AB" points="328.2,428.2 328.9,418.4 331.8,417 334.6,416.4 337.7,417.2 341,419.8 341.8,424 339,427.9"/>
<polygon class="e" style="fill:#4292C6;stroke:#4292C6" points="341,411.8 346,409.5 353.3,409.4 352.2,414.8 350.6,420.6 348.5,425.1 346,424.8 343.7,421.4 342,416.4"/>
<polygon class="e" style="fill:#4292C6;stroke:#4292C6" points="349.8,383.6 356,384.8 362.7,386.4 369.3,388.1 373.7,391.4 373.9,396 369.3,396.4 362.7,397.2 356,398.9 350.5,399.7 350.2,389.3"/>
<polygon class="e" style="fill:#4292C6;stroke:#4292C6" points="363.9,403.1 367.4,402.2 368.1,398.9 374,398.9 374.4,406 370.6,408.9 367.2,407.2 364.3,406"/>
<polygon class="e" style="fill:#1764AB;stroke:#1764AB" points="350.6,420.6 352.2,414.8 353.3,409.4 358.9,407.2 364.3,406 369,406.9 372.9,410.2 370.6,415.2 369.5,418.9 370.6,423.8 369.3,426.9 362.7,428.1 358.4,429.2 358.4,429.2 348.8,427.3 348.5,425.1"/>
<polygon class="e" style="fill:#1764AB;stroke:#1764AB" points="373.5,387.7 376.8,385 380.2,384.5 382.6,386.9 386.4,392 389.8,394.8 390.4,398.5 386.2,399.8 383.5,402.2 379.3,404.8 374.4,406 373.9,396"/>
<polygon class="e" style="fill:#4292C6;stroke:#4292C6" points="380.2,384.5 382.7,382.7 388.1,384.7 393.9,387.4 398.9,389.3 400.4,392.4 399.3,395.6 394.3,394.8 389.8,394.8 386.4,392 382.7,388.5"/>
<polygon class="e" style="fill:#1764AB;stroke:#1764AB" points="396.7,373.3 401,371.8 406.4,373 406.9,379.4 405.1,386.4 403.5,391 400.4,392.4 398.9,389.3 393.9,387.4 394.2,381.4 395.7,376.5"/>
<polygon class="e" style="fill:#1764AB;stroke:#1764AB" points="374.4,406 379.3,404.8 383.5,402.2 386.2,399.8 390.4,398.5 392.7,396.8 393.5,403.9 390.7,408.2 388.1,411 379.3,410.2 373.9,410.2"/>
<polygon class="e" style="fill:#4292C6;stroke:#4292C6" points="394.8,396.8 399.3,395.6 404.3,396.8 408,398.1 405.1,404 400.6,406.6 397.4,408.3 396,404.3 393.5,403.9"/>
<polygon class="e" style="fill:#BED8EC;stroke:#BED8EC" points="388.1,411 392.1,405.5 394.5,404.1 397.4,408.3 393.5,413.5 391.5,414.9"/>
<polygon class="e" style="fill:#4292C6;stroke:#4292C6" points="369.5,418.9 370.6,415.2 372.9,410.2 379.3,410.2 388.1,411 391.5,414.9 387.5,419.3 383.6,423.3 379.3,425.8 374.8,430.6 371.8,425.8 370.6,423.8"/>
<polygon class="e" style="fill:#1764AB;stroke:#1764AB" points="380.2,428.2 383.7,421.6 387.9,417.7 391.5,414.9 394.3,416.4 395.6,420.6 393.6,428.2"/>
<polygon class="e" style="fill:#1764AB;stroke:#1764AB" points="394.3,416.4 398.5,410.2 400.6,406.6 406,403.5 409.3,400.2 409.3,411 403.9,415.8 399.8,418.9 395.6,420.6"/>
<polygon class="e" style="fill:#4292C6;stroke:#4292C6" points="328.2,428.2 328.2,428.2 325.6,435 325.2,440.4 322.7,442.1 319.3,437.9 315.2,432.5 312.7,429.6 309.3,428.8 306,430.8 301.3,428.5 301.3,428.5"/>
<polygon class="e" style="fill:#1764AB;stroke:#1764AB" points="339,427.9 337,431 336.4,441 330.9,442.2 327.2,440 328.2,428.2 328.2,428.2"/>
<polygon class="e" style="fill:#4292C6;stroke:#4292C6" points="337,431 339,427.9 341.8,424 343.7,421.4 346,424.8 348.5,425.1 349.7,430.7 351.4,440.6 342.7,442.1 336.4,441"/>
<polygon class="e" style="fill:#1764AB;stroke:#1764AB" points="380.2,428.2 374.8,430.6 379.3,431.9 390.8,432.3 393.6,428.2"/>
<polygon class="e" style="fill:#4292C6;stroke:#4292C6" points="358.4,429.2 362.7,428.1 369.3,426.9 372.7,427.3 374.8,430.6 371.4,434.6 368.1,438.4 363.6,436.6 360.5,434.1"/>
<polygon class="e" style="fill:#7FB9DA;stroke:#7FB9DA" points="349.1,429.2 353.7,428 358.4,429.2 358.5,432.9 362.3,434.3 365.9,436.9 367.9,440.2 365.2,442.5 357.7,441.2 353.5,442.1 351.4,440.6 350.1,434.3"/>
<polygon class="e" style="fill:#4292C6;stroke:#4292C6" points="368.1,438.4 371.4,434.6 374.8,430.6 377.9,434.4 379.8,438.3 381.2,441.2 376,442.1 371,441.2 367.7,441.7"/>
<polygon class="e" style="fill:#7FB9DA;stroke:#7FB9DA" points="377.9,434.4 379.3,431.9 390.8,432.3 391.8,437.1 393.7,443.3 396.8,451 390.3,454.7 388.1,451.2 386,445.8 381.8,442.5 379.8,438.3"/>
<polygon class="e" style="fill:#7FB9DA;stroke:#7FB9DA" points="390.3,454.7 396.8,451 399.6,450.8 403.7,454.4 411.7,464 409.1,465.8 400.2,467.3 392.4,468.9 391.2,461.7"/>
<polygon class="e" style="fill:#4292C6;stroke:#4292C6" points="377.8,459.3 383.5,457.5 387.8,455.3 390.3,454.7 391.2,461.7 392.4,468.9 386.4,469.6 381,470.4 378.9,465"/>
<polygon class="e" style="fill:#BED8EC;stroke:#BED8EC" points="373.6,448.5 377.4,446.4 381.8,445.8 386.5,447.1 388.1,451.2 389.3,455.8 383.5,457.5 377.8,459.3 375.6,453.3"/>
<polygon class="e" style="fill:#BED8EC;stroke:#BED8EC" points="365.6,452.1 369.3,450 373.6,448.5 375.6,453.3 376.7,456.3 377.8,459.3 371,460 365,460.4 365.3,455.8"/>
<polygon class="e" style="fill:#BED8EC;stroke:#BED8EC" points="353.4,445 359.5,441.5 365.2,442.5 366.4,447.9 365.6,452.1 361,452.1 357.7,449.2 354.8,446.7"/>
<polygon class="e" style="fill:#7FB9DA;stroke:#7FB9DA" points="356,452.5 358.5,449.9 361,452.1 365.6,452.1 365,460.4 361.8,460.4 357.7,458.3 354.5,456"/>
<polygon class="e" style="fill:#BED8EC;stroke:#BED8EC" points="344.8,444.4 352.7,444.2 354.8,446.7 353.9,448.8 349.5,449.4 346,447.9"/>
<polygon class="e" style="fill:#7FB9DA;stroke:#7FB9DA" points="348.3,448.2 353.9,448.8 354.3,454.8 347.8,454.6"/>
<polygon class="e" style="fill:#BED8EC;stroke:#BED8EC" points="346.5,458.1 347.8,454.6 354.3,454.8 354.8,458.3 349.3,460.6 346.5,458.1"/>
<polygon class="e" style="fill:#7FB9DA;stroke:#7FB9DA" points="340.2,448.8 343.7,448.1 346,451.7 347.8,454.6 346.5,458.1 342.2,457.7 341.2,453.8"/>
<polygon class="e" style="fill:#7FB9DA;stroke:#7FB9DA" points="324.3,445 329.3,442.1 334.4,440.9 337.4,445.6 334.3,448.8 331,452.3 324.1,454.6 323.5,449.2"/>
<polygon class="e" style="fill:#7FB9DA;stroke:#7FB9DA" points="335.4,450.4 337.7,445 341,443.8 344.8,444.4 343.7,448.1 340.2,448.8 337.6,451.1"/>
<polygon class="e" style="fill:#4292C6;stroke:#4292C6" points="324.5,456 331,452.3 335.4,450.4 340.7,451.4 341.2,453.8 342.2,457.7 346.5,458.1 345.6,460.4 337.7,461 329.1,461 325.6,459.6"/>
<polygon class="e" style="fill:#1764AB;stroke:#1764AB" points="329.1,461 337.7,461 345.6,460.4 354.3,460.8 353.9,464.6 349.8,468.8 345.5,473.2 339.9,474 338.1,470.4 335.2,469.2 331,471.2 328.7,466.7"/>
<polygon class="e" style="fill:#1764AB;stroke:#1764AB" points="345.5,473.2 349.8,468.8 353.9,464.6 356,461.7 361,462.5 360.2,465 361.6,469.6 358.5,475.2 354.3,477.5 350.2,475.8"/>
<polygon class="e" style="fill:#E3EEF9;stroke:#E3EEF9" points="297.9,456.2 301,453.3 301.8,448.3 306,446.2 314.3,446.7 321.8,446.7 323.5,449.2 324.1,454.6 325.6,459.6 323.5,462.9 316,463.2 312.2,463.4 307.2,462.3 304.5,460 301,458.4"/>
<polygon class="e" style="fill:#BED8EC;stroke:#BED8EC" points="309.6,470.4 311,466.7 312.2,463.4 323.5,462.9 326.8,462.5 328.7,466.7 328.1,470.2 323.7,470.8 321.4,474.6 316.8,474.6 312.7,472.1"/>
<polygon class="e" style="fill:#7FB9DA;stroke:#7FB9DA" points="297.5,481.7 300.2,477.5 302.7,472.5 309.6,470.4 312.7,472.1 316.8,474.6 318.5,476.7 315.2,480 311.8,483.3 309.3,489.1 303.7,490.9 299.8,487.5"/>
<polygon class="e" style="fill:#7FB9DA;stroke:#7FB9DA" points="323.7,470.8 328.1,470.2 331,471.2 335.2,469.2 338.1,470.4 339.9,474 336.8,478.1 332.7,481.7 331,485 327.7,481.7 324.3,478.3 321.4,474.6"/>
<polygon class="e" style="fill:#7FB9DA;stroke:#7FB9DA" points="333.9,483.3 335.2,478.6 339.9,474 345.5,473.2 346.8,477.5 344.3,480.8 341,484.2 339.3,488.3 336,486.7"/>
<polygon class="e" style="fill:#7FB9DA;stroke:#7FB9DA" points="345.6,479.1 349.3,478.3 353.8,481.1 356.4,485.4 355.2,489.2 351.8,489.2 348.5,485.8"/>
<polygon class="e" style="fill:#7FB9DA;stroke:#7FB9DA" points="360.4,465.8 364.3,464.2 367.9,466.9 371.2,471.1 368.8,475.9 366.4,479 363.5,474.2 361.6,469.6"/>
<polygon class="e" style="fill:#1764AB;stroke:#1764AB" points="372.2,472.9 379.3,470.6 386.4,469.6 392.4,468.9 392.9,477.5 393.6,483.8 389.3,485 390.2,489.6 383.8,492.1 379.8,489.8 374.8,487.3 372.2,480"/>
<polygon class="e" style="fill:#4292C6;stroke:#4292C6" points="392.4,468.9 400.2,467.3 409.1,465.8 411,470 411.5,476.5 411.6,482.3 404.5,485.4 397.5,486.7 393.6,483.8 392.9,477.5"/>
<polygon class="e" style="fill:#7FB9DA;stroke:#7FB9DA" points="363.4,482 365.8,477.5 369,473.3 372.2,477.5 370.2,483.1 366.3,484.7"/>
<polygon class="e" style="fill:#E3EEF9;stroke:#E3EEF9" points="358.9,488.3 363,484.5 370.2,483.1 372.2,486.7 371.4,489.4 364.8,492.3 360.4,492.7"/>
<polygon class="e" style="fill:#7FB9DA;stroke:#7FB9DA" points="361.6,505.3 362.1,494.9 364.8,492.3 371.4,489.4 374.8,487.3 379.8,489.8 383.8,492.1 385.7,502.9"/>
<polygon class="e" style="fill:#7FB9DA;stroke:#7FB9DA" points="385.7,502.9 383.8,492.1 390.2,489.6 394.3,486.7 397.5,486.7 399.3,492.5 400.1,500.8 397.6,503.3"/>
<polygon class="e" style="fill:#7FB9DA;stroke:#7FB9DA" points="397.5,486.7 404.5,485.4 411.6,482.3 413.4,486.2 415.4,491.1 411.4,493 409.5,490.4 407.6,494.7 399.5,495.1 398.8,490.8"/>
<polygon class="e" style="fill:#BED8EC;stroke:#BED8EC" points="293.9,461.9 296.4,458.4 301,458.4 304.5,460 307.2,462.3 310.3,463 308.5,467.5 306.8,468.8 301.6,468.6 293.6,467.4"/>
<polygon class="e" style="fill:#BED8EC;stroke:#BED8EC" points="284,469.5 287.2,472.3 290.2,470.2 293.6,467.4 301.6,468.6 302,474 297.7,477.5 297.5,481.7 299.8,487.5 295.6,489.9 291,487.9 284.3,485.5 280.6,484.1 276.6,481.7 277.9,478.3 278.7,475.2 282,473.3"/>
<polygon class="e" style="fill:#E3EEF9;stroke:#E3EEF9" points="279.8,486.2 284.3,485.5 291,487.9 295.6,489.9 299.8,487.5 303.7,490.9 302.3,492.5 300.6,497.1 296.4,498.6 293.7,503.1 289.3,498.3 283.5,496.7 281.4,493.3 280.2,490"/>
<polygon class="e" style="fill:#BED8EC;stroke:#BED8EC" points="297.8,502.1 300.6,497.1 306.3,497.8 312.8,500.6 313.5,505.3 308.5,506.5 302.7,505.8 297.2,506"/>
<polygon class="e" style="fill:#BED8EC;stroke:#BED8EC" points="354.1,492.9 357.9,491.3 360.4,492.7 362.1,494.9 361.8,499.2 358.5,501.6 358.5,505.7 354.3,504.6 354.1,499.8 354.8,496"/>
<polygon class="e" style="fill:#E3EEF9;stroke:#E3EEF9" points="336,532.2 339.8,530.4 341,526.6 343.5,523.5 346,522.9 347.9,525.4 347.9,529.1 346,532.2 345.4,536 341,536 338.5,534.1"/>
<polygon class="e" style="fill:#7FB9DA;stroke:#7FB9DA" points="327.2,524.8 329.8,522.2 332.9,520.4 335.4,522.2 334.1,525.4 331.6,527.9 329.8,530.4 328.5,527.9"/>
<polygon class="e" style="fill:#BED8EC;stroke:#BED8EC" points="321.6,516.6 325.4,514.8 328.5,514.1 331,516 328.5,518.5 325.4,519.8 322.9,519.1"/>
<polygon class="e" style="fill:#7FB9DA;stroke:#7FB9DA" points="310.1,509.8 316,509.2 318.3,511.2 318.9,513.8 314.6,514.5 310.7,514.1"/>
<polygon class="e" style="fill:#BED8EC;stroke:#BED8EC" points="297,503.5 299,499 303.8,497.8 308.5,499.1 312.8,500.6 313.5,505.3 308.5,506.5 305.5,506.1 301,505.9"/>
<polygon class="e" style="fill:#BED8EC;stroke:#BED8EC" points="314.8,500.4 322.2,500.1 322.9,502.2 319.8,503.5 314.8,502.9"/>
<polygon class="e" style="fill:#BED8EC;stroke:#BED8EC" points="317.9,504.8 327.2,504.4 327.9,506.6 323.5,507.2 319.1,506.9"/>
<polygon class="e" style="fill:#E3EEF9;stroke:#E3EEF9" points="295.6,489.9 303.7,490.9 301.1,496.1 296.4,498.6 296.4,498.6"/>
<polygon class="e" style="fill:#7FB9DA;stroke:#7FB9DA" points="301.3,532.6 304.7,528.4 307.9,529.8 311.5,531.4 310.4,534.5 306.7,535.1 303.5,533.6"/>
<polygon class="e" style="fill:#E3EEF9;stroke:#E3EEF9" points="306.6,524.1 310.4,525.4 314.1,527.2 316.6,528.5 326,529.1 326.6,532.7 316,532.9 313.5,530.4 308.3,527.5"/>
<polygon class="e" style="fill:#E3EEF9;stroke:#E3EEF9" points="224.4,509.4 226.9,507.6 227.7,507 235.4,508.7 241,511.3 246.9,514.6 251.9,517.1 254.7,520.2 257.9,523.7 262.6,526.3 269.4,528.8 274.3,530.8 277.6,532.1 275.6,535 272.5,538.8 267.5,537.5 258.1,555 255.6,556 248.1,549.4 257.5,533.1 245,525 238.8,538.1 236.2,538.5 212.2,523.5 214.4,518.1 219.4,516.2 233.1,523.1 238.1,525 240.1,519.4 235.1,516.5 228.5,512.4 224.4,509.4"/>
<polygon class="e" style="fill:#BED8EC;stroke:#BED8EC" points="235.4,508.7 241.3,507.6 249.3,511.5 255.5,513.5 257.7,516.1 257.9,523.7 251.9,517.1 246.9,514.6 241,511.3 235.4,508.7"/>
<polygon class="e" style="fill:#BED8EC;stroke:#BED8EC" points="257.9,523.7 265.2,523.2 267.7,524 270.2,525.7 277.7,528.2 277.6,532.1 269.4,528.8 262.6,526.3"/>
<polygon class="e" style="fill:#BED8EC;stroke:#BED8EC" points="297.2,506 302.7,505.8 308.5,506.5 308.5,509 296.8,509"/>
<polygon class="e" style="fill:#4292C6;stroke:#4292C6" points="279.3,531.5 280.2,525.7 280,522.8 285.2,523.1 291,523.4 296.8,523.8 294.3,529 291,533.6 282.7,534.4"/>
<polygon class="e" style="fill:#BED8EC;stroke:#BED8EC" points="276.4,537.1 278.5,534 282.7,534.4 291,533.6 295.2,530.7 297.7,529 299.3,534 303.5,537.3 307.7,540.7 304.3,544 300,545 292.5,542.5 290,541.2 287.5,542.5 282.7,545.7 279.7,541.7"/>
<polygon class="e" style="fill:#7FB9DA;stroke:#7FB9DA" points="295.2,516.5 297.7,510.7 299.3,511.5 299.3,517.3 296,518.2"/>
<polygon class="e" style="fill:#7FB9DA;stroke:#7FB9DA" points="301,511.5 307.7,511.1 306.8,519 302.7,519.8"/>
<polygon class="e" style="fill:#7FB9DA;stroke:#7FB9DA" points="310.1,509.8 317.2,509.8 318.9,513.8 314.6,514.5 310.7,514.1"/>
<polygon class="e" style="fill:#7FB9DA;stroke:#7FB9DA" points="308.5,515.7 311,515.2 311.4,521.5 308.5,521.5"/>
<polygon class="e" style="fill:#7FB9DA;stroke:#7FB9DA" points="312.7,516.5 318.5,515.7 317.9,522.2 312.7,522.3"/>
<polygon class="e" style="fill:#7FB9DA;stroke:#7FB9DA" points="301.3,532.6 305,531.1 307.1,525 310.5,528.5 312.9,534.1 306.7,535.1"/>
<polygon class="e" style="fill:#BED8EC;stroke:#BED8EC" points="298.5,526.5 304.3,525.7 305,531.1 301.3,532.6"/>
<polygon class="e" style="fill:#E3EEF9;stroke:#E3EEF9" points="277.7,519.8 291,520.7 299.3,521.5 303.5,524 296.8,523.8 291,523.4 280,522.8"/>
<polygon class="e" style="fill:#7FB9DA;stroke:#7FB9DA" points="298.9,484 311.3,484.5 309.3,489.1 303.7,490.9 299.8,487.5"/>
<polygon class="e" style="fill:#BED8EC;stroke:#BED8EC" points="280.6,484.1 298.9,484 299.8,487.5 303.7,490.9 295.6,489.9 291,487.9 284.3,485.5"/>
<polygon class="e" style="fill:#1764AB;stroke:#1764AB" points="437.1,438 439.9,430.4 443.7,422.1 451.1,421.4 451.6,426.7 455.9,427.9 458.8,436.4 463.6,444.5 462.4,446.7 457.4,451.9 452.6,452.1 445.3,444.4 439.5,438.6"/>
<polygon class="e" style="fill:#1764AB;stroke:#1764AB" points="463.6,444.5 471.6,438.4 479.5,435 486.1,433.9 484.1,440.8 482,447.9 479.6,453.7 474.8,458.1 470.8,460.4 466.8,453.6 458.7,453.4 457.4,451.9 462.4,446.7"/>
<polygon class="e" style="fill:#4292C6;stroke:#4292C6" points="427.8,441.7 435.3,437.5 439.5,438.6 445.3,444.4 452.6,452.1 445.3,453.4 437,452.9 431.7,455.9 427.8,456.2"/>
<polygon class="e" style="fill:#1764AB;stroke:#1764AB" points="399.6,450.8 407.5,449.2 414.1,447.5 419.7,444.6 426.2,443.3 427.8,456.2 419.5,460.4 411.7,464 408.1,459.7 403.7,454.4"/>
<polygon class="e" style="fill:#1764AB;stroke:#1764AB" points="429.9,455.5 437,452.9 445.3,453.4 458.7,453.4 466.8,453.6 469.1,461.2 458.7,464.6 445.3,468 438.1,468.1 437.6,461 431.6,460.4"/>
<polygon class="e" style="fill:#1764AB;stroke:#1764AB" points="411.7,464 419.5,460.4 427.8,456.2 431.6,460.4 437.6,461 438.1,468.1 428.7,470.4 419.5,474.2 411.5,476.5 411,470"/>
<polygon class="e" style="fill:#1764AB;stroke:#1764AB" points="445.3,468 458.7,464.6 469.1,461.2 475.3,466.2 478.7,470.4 475.3,473.8 458.7,477.9 447.6,480.6 445.8,474.3"/>
<polygon class="e" style="fill:#1764AB;stroke:#1764AB" points="411.5,476.5 419.5,474.2 428.7,470.4 438.1,468.1 445.3,468 447.2,478.1 446.6,483.8 433.7,487.9 425.8,488.8 417,490.4 413.4,486.2"/>
<polygon class="e" style="fill:#7FB9DA;stroke:#7FB9DA" points="447.6,480.6 458.7,477.9 475.3,473.8 480.2,471.7 483.7,476.2 481.2,480.8 467.3,485 450.7,490 448.7,485.8"/>
<polygon class="e" style="fill:#BED8EC;stroke:#BED8EC" points="426.9,491.2 433.7,487.9 446.6,483.8 448.3,490.7 442.2,492.5 428.9,495.6"/>
<polygon class="e" style="fill:#4292C6;stroke:#4292C6" points="399.8,497.6 408.7,494.2 417,490.4 425.8,488.8 428.3,493.2 421.6,497.9 413.2,500.5 402,500"/>
<polygon class="e" style="fill:#E3EEF9;stroke:#E3EEF9" points="470.8,460.4 478.7,455.8 482,447.9 484.1,440.8 486.1,433.9 490.4,440 493.6,444.8 495,442.2 504,450 511.5,454.2 512.3,458.3 509,465 505.7,470 511.5,474.2 511.5,478.3 500.7,477.5 492.3,478.3 485.5,479.7 480.8,474.2 478.7,470.4 475.3,466.2"/>
<polygon class="e" style="fill:#BED8EC;stroke:#BED8EC" points="212.2,464.3 216.9,462.7 221.1,463.9 224.3,469.5 227.2,475.3 223.9,477.4 220.2,473.7 216.4,469.1 213.1,465.8"/>
<polygon class="e" style="fill:#BED8EC;stroke:#BED8EC" points="212.6,472.6 214.3,471.6 218.5,475.8 223.9,480.1 219.2,483.9 214.6,479.7 213.5,475.3"/>
<polygon class="e" style="fill:#4292C6;stroke:#4292C6" points="224.8,470.5 229.3,468.9 232.7,471 236,474.9 238.3,478.7 238.5,482 231.7,482.7 230.4,478.4 228.5,473.7"/>
<polygon class="e" style="fill:#7FB9DA;stroke:#7FB9DA" points="222.6,484.2 223.9,480.1 227.7,477.8 230.4,478.4 232.5,481.2 233.1,485.6 232.1,488.2 228.5,489.1 224.8,487.2"/>
<polygon class="e" style="fill:#4292C6;stroke:#4292C6" points="229.8,488.8 232.1,488.2 233.1,485.6 234.3,483.7 238.5,483.7 238.7,487.8 236.8,494.5 235.2,499.5 234.3,497.8 232.7,493.7"/>
<polygon class="e" style="fill:#7FB9DA;stroke:#7FB9DA" points="220.8,485.3 222.6,484.2 226.9,487.7 229.3,494.5 231.4,499.5 233.1,503.7 231,503.7 228.1,496.2 224.6,490.3"/>
<polygon style="fill:#7FB9DA" points="295.6,510.3 299.4,510.3 300.2,516.6 295.6,517.3"/>
<polygon style="fill:#7FB9DA" points="300.4,510.9 305.9,510.6 306.7,516.4 302,518 300.8,514.9"/>
<polygon style="fill:#7FB9DA" points="308.2,515.4 312.1,514.7 312.9,520.1 308.2,521.7 307.4,518.6"/>
<polygon style="fill:#7FB9DA" points="313.1,515.2 319.3,514.5 320.1,519.2 314.6,520.8 312.2,523.1 311.5,519.9"/>
<polygon style="fill:#BED8EC" points="304.4,494.2 310.6,493.5 313,497.4 311.4,499.8 306.8,498.2"/>
<polygon style="fill:#E3EEF9" points="295.2,519.2 300.6,519.6 303.8,521.6 302.2,524.7 295.2,523.9"/>
<polygon style="fill:#E3EEF9" points="298.4,526.3 303.9,525.5 304.7,529.4 300,530.2"/>
<polygon style="fill:#E3EEF9" points="310.2,485.3 314.1,482.2 317.2,483.8 316.5,488.4 311.8,487.7"/>
<polygon style="fill:#E3EEF9" points="315.9,481 319.9,477.1 322.2,479.4 320.6,483.3 317.5,484.1"/>
<polygon style="fill:#BED8EC" points="321.7,486.7 325.6,485.9 326.4,492.1 323.2,492.9"/>
<polygon style="fill:#E3EEF9" points="312.8,490.1 318.2,489.2 319.1,493.2 314.4,493.9"/>
<polygon style="fill:#E3EEF9" points="313.6,495.8 319,495.8 319,498.1 313.6,498.1"/>
<polygon style="fill:#E3EEF9" points="306.1,492.1 310.1,490.6 310.8,493.7 306.9,494.4"/>
<polygon style="fill:#E3EEF9" points="321.2,495.1 329.1,494.2 329.8,498.2 324.4,498.9"/>
<polygon style="fill:#E3EEF9" points="330.2,503.6 334.9,502.8 337.3,508.2 334.9,509.8 331.8,506.7"/>
<polygon style="fill:#E3EEF9" points="330.5,510.7 334.4,509.9 335.2,513.8 331.3,514.6"/>
<polygon style="fill:#E3EEF9" points="335.7,513.2 338.1,512.5 338.4,515.6 336.1,515.6"/>
<polygon style="fill:#E3EEF9" points="331.1,501.1 333.5,498 335.8,499.6 333.5,502.7"/>
<polygon style="fill:#BED8EC" points="339.1,488.7 340.7,485.6 343.8,483.2 346.1,486.4 343,490.2 340.7,491.1"/>
<polygon style="fill:#BED8EC" points="343,488.9 346.1,486.6 347.7,490.5 344.6,492.9"/>
<polygon style="fill:#E3EEF9" points="350.6,494.4 353.8,493.7 354.5,497.6 350.6,497.2"/>
<polygon style="fill:#E3EEF9" points="340.1,495.1 342.4,493.6 343.2,497.5 340.8,498.2"/>
<polygon style="fill:#E3EEF9" points="334.4,495.1 336.8,494.8 337.2,497.1 334.8,497.5"/>
<polygon style="fill:#BED8EC" points="320.4,510.8 324.3,509.2 325.9,512.4 322,513.9"/>
<polygon style="fill:#E3EEF9" points="336.2,525.2 339.3,522.9 340.1,526.1 337.8,528.4"/>
<polygon style="fill:#E3EEF9" points="332.6,528.9 334.9,528.1 335.7,531.2 333.3,532"/>
<polygon style="fill:#E3EEF9" points="322.4,482 325.6,481.2 326.4,484.3 323.2,485.1"/>
<polygon style="fill:#E3EEF9" points="342.9,497.7 346.1,496.1 348.4,498.5 345.2,501.6"/>
<polygon style="fill:#E3EEF9" points="324.9,500.8 328.8,500.1 329.6,502.4 325.7,503.2"/>
<polygon class="l t" points="283.8,549.4 287.5,548.8 295,550 300,551.2 306.2,553.1 312.5,553.8 318.8,556.2 325,558.1 331.2,557.5 337.5,558.1 337.5,562.5 330,570 323.8,576.2 317.5,578.1 312.5,573.8 306.2,567.5 300,561.2 296.2,560 296.2,563.1 292.5,562.5 293.8,560 287.5,554.4"/>
<polygon class="l t" points="139.8,327.5 147.3,320 155.7,311.7 164,307.2 174,305.3 184.8,305.8 188.2,309.7 193.2,314.2 196.5,317.5 194.8,321.7 199,322.5 201.5,320 202,328.1 202,335 200.1,339.4 198,342.5 183.2,356.2 170.8,356.5 167,352.5 160.8,354.4 152,354.4 147.6,346.9 145.1,341.9 142.6,337.5"/>
<polygon class="l t" points="215.5,342.3 222,340.6 228.2,336.9 235.9,331.6 237.3,335.6 238.2,345 238.2,356.9 228.2,356.2 222,355 217.3,355"/>
<polygon class="l t" points="232,318.1 232.3,313.7 236,310.6 246.4,303.5 247.8,306.7 245.8,314.1 240.8,317.2 235.3,319.2"/>
<polygon class="l t" points="251.4,303.1 263.2,293.8 266.2,294.6 269.9,299.5 263.7,304.1 253.8,304.7"/>
<polygon class="l t" points="235.3,319.2 240.8,317.2 245.8,314.1 248.2,316.9 250.8,321.2 253.2,325.6 250.2,328.1 242,329.1 235.9,331.6 235.6,325"/>
<polygon class="l t" points="235.9,331.6 242,329.1 250.2,328.1 259.6,327.2 258.2,336.2 248.2,337.8 238.9,342.8 237.3,335.6"/>
<polygon class="l t" points="257.2,317.1 265.1,313.1 267.9,316.2 269.8,321.2 269.7,327.5 259.6,327.2 260.5,321.9"/>
<polygon class="l t" points="267.6,313.1 277,308.8 283.2,310.3 289.8,314.6 290.8,316.9 290.8,320 282.3,328.4 269.7,327.5 269.8,321.2 267.9,316.2"/>
<polygon class="l t" points="259.6,327.2 269.7,327.5 282.3,328.4 278.1,333.1 270.9,341.4 265.8,339.1 258.2,336.2"/>
<polygon class="l t" points="204.7,364.2 209.5,365 214.3,365.8 214.3,375.2 209.5,375.3 203.2,373.5 203.2,368.8"/>
<polygon class="l t" points="203.2,373.5 209.5,375.3 214.3,375.2 214.9,384.2 208.2,384.3 202.9,385.8 199.5,386.9 198.5,382.5 200.8,377.5"/>
<polygon class="l t" points="289,290.8 295,289.1 298.8,290.3 302.5,294.4 304.7,296.9 301.2,301.2 300,305.9 295.3,307 292.5,309.1 290.6,306.2 290,298.8"/>
<polygon class="l t" points="301.2,301.2 304.7,296.9 310.6,295.6 314.3,298.6 315.3,303.8 310.3,307.8 306.9,312.3 303.8,307.8"/>
<polygon class="l t" points="312,297.7 318.1,295.3 321.9,291.2 328.1,288.8 334.4,294.8 327.5,299.1 320,304.1 316.9,302.5"/>
<polygon class="l t" points="292.5,309.1 295.3,307 300,305.9 303.8,307.8 306.9,312.3 301.2,315.6 298.5,317.2 290,312.4"/>
<polygon class="l t" points="310.3,307.8 315.3,303.8 319.4,308.1 321.2,312.5 317.8,317.5 311.8,314.6"/>
<polygon class="l t" points="301.2,318.1 306.9,312.3 310.6,312.5 313.8,318.1 312.5,323.1 308.1,324.4 305,323.8"/>
<polygon class="l t" points="316.9,318.1 322.5,314.4 327.5,318.1 332.5,323.8 329.4,328.2 325.9,331.2 321.2,331.2 320,325"/>
<polygon class="l t" points="310,325.6 315,320.6 317.5,323.8 320.9,329.7 319.6,341.9 315,340.9 310.3,337.8 310,332.5"/>
<polygon class="l t" points="319.5,333.1 324.4,331.2 326.5,335 325.9,339.7 321.4,341.3"/>
<polygon class="l t" points="325.9,331.2 331.6,324.7 338.8,331.2 344.4,336.9 340.3,342.8 335,346.5 332.4,341.9 332.8,339.4 329.4,334.4"/>
<polygon class="l t" points="319.6,341.9 325.9,339.7 330.2,335.6 332.8,339.4 331.9,345 327.8,347.2 326.5,351.5 323.5,355.3 315.8,356.9 317.8,350"/>
<polygon class="l t" points="307.5,339.7 310.3,337.8 315,340.9 319.6,341.9 317.8,350 315.8,356.9 309.4,355.3 306.2,352.5 307.5,345"/>
<polygon class="l t" points="315.8,356.9 323.5,355.3 326.5,351.5 327.8,347.2 335,346.5 340.3,342.8 345.6,338.1 350,338.1 356.2,342.5 355.6,346.2 353.1,350 353.1,357.5 349.4,362.5 345,366.2 347,369.1 344.5,374.1 335,375.3 327.7,376.6 318.9,379 313.5,373.8 310.3,368.8 310.9,363.1 313.1,359.4"/>
<polygon class="l t" points="284.8,355 288.1,351.9 295,353.8 303.8,354.4 302.8,359.7 300,364.1 297.2,368.8 298.1,375.4 293.8,374.4 290,366.9"/>
<polygon class="l t" points="303.5,355.9 309.4,355.3 313.1,359.4 310.9,363.1 310.3,368.8 313.5,373.8 315,377.5 307.6,379.7 299.9,379.8 298.1,375.4 297.2,368.8 300,364.1 302.8,359.7"/>
<polygon class="l t" points="363.7,365 363.5,362.2 369.5,357.9 372.3,351.1 374.7,348 383.8,349 389.4,351.5 398.1,352.8 398.2,358.2 392.3,364.6 387.8,366.9 377.5,367.5 364,368.6"/>
<polygon class="l t" points="403.1,351.2 406.9,345 413.1,343.1 420,342.5 421.2,346.9 418.8,350 416.9,355 416.5,359.7 414,360.6 409.4,357.2 405,354.7"/>
<polygon class="l t" points="397.5,359.4 400,355 405,354.7 409.4,357.2 414,360.6 411.5,365.3 406.2,362.8 400,362.6"/>
<polygon class="l t" points="414,360.6 416.5,359.7 431.2,371.2 429.4,375.6 426.2,378.5 411.7,368.1"/>
<polygon class="l t" points="411.7,368.1 426.2,378.5 423.8,385 422.5,387.2 408.3,374.4"/>
<polygon class="l t" points="387.8,366.9 392.6,362.9 397.5,362.5 406.2,362.8 411.5,365.3 411.7,368.1 408.3,374.4 402.5,370 396.2,368.5 390,369.1"/>
<polygon class="l t" points="365.1,370.1 385,369.4 386.9,370.3 385.9,375 383.5,378.8 380,380 380.2,384.5 372.5,385.6 365,383.1"/>
<polygon class="l t" points="386.9,370.3 390,369.1 396.2,368.5 397.5,370.6 395.7,376.5 394.5,385.4 390.1,386 383.8,381.2 383.5,378.8 385.9,375"/>
<polyline class="l t" points="406.2,393.8 405.1,386.4 406.9,379.4 408.3,374.4 422.5,387.2 421.2,393.8"/>
<polygon class="l t" points="446.3,400 447.8,397.5 450.3,390.3 455,385.4 458.8,388.8 465.6,395.1 462.8,399.1 460,404.1 455,405.6"/>
<polygon class="l t" points="455,385.4 456.3,384.2 467.3,393.3 465.6,395.1"/>
<polygon class="l t" points="465.6,395.1 470,394 480,395.6 487.6,395.1 489,395 487.3,403.6 480,402.2 472.5,403.1 468.1,399.7"/>
<polygon class="l t" points="455,405.6 460,404.1 462.8,399.1 465.6,395.1 468.1,399.7 472.5,403.1 472.8,411.2 470,414.1 463.8,412.8 458.8,409.1"/>
<polygon class="l t" points="472.5,403.1 480,402.2 487.3,403.6 485.9,408.8 487.5,413.5 489.1,416.5 483.8,421.5 480,419.1 475,415 472.8,411.2"/>
<polygon class="l t" points="443.1,404.4 446.2,403.8 455,405.6 458.8,409.1 463.8,412.8 470,414.1 472.8,416.5 466.2,420.3 460,420.7 452.8,421.2 443.7,422.1 443.1,412.5"/>
<polygon class="l t" points="452.8,421.2 466.2,420.3 472.8,416.5 480,419.1 483.8,421.5 485,428.8 486.1,433.9 481.2,433.8 475.8,436.2 470.1,440.1 463.6,444.5 459.4,438.8 457.2,434 455.9,427.9 451.5,425.1"/>
<polygon class="l t" points="483.8,421.5 489.1,416.5 494.8,419 493.5,425 491.5,429.1 487.8,430.3 484.6,426.4"/>
<polygon class="l t" points="485.9,408.8 487.3,403.6 489,395 495.6,386.4 499.7,386.6 500.3,390 504.1,395.6 503.1,401.2 495.6,409.1 490.3,414.4 487.5,413.5"/>
<polygon class="l t" points="499.7,386.6 499.5,382 506,379.8 519,380 518.5,385.9 508.8,386.5 499.7,386.6"/>
<polygon class="l t" points="490.3,414.4 495.6,409.1 502.5,405.3 506.5,405.9 505.3,410.3 500.3,414.1 499.7,417.2 494.8,419"/>
<polygon class="l t" points="487.8,430.3 491.5,429.1 493.5,425 494.8,419 499.7,417.2 500.3,414.1 505.3,410.3 506.5,405.9 502.5,405.3 503.1,401.2 504.1,395.6 500.3,390 499.7,386.6 508.8,386.5 518.5,385.9 517.5,392.5 513.1,403.8 507.5,417.5 501.2,430 496.9,438.8 493.6,444.8 490.4,440 486.1,433.9"/>
<polygon class="l t" points="202.9,385.8 205.8,385.4 214.9,384.2 215.8,388.5 214.4,392 211.4,393.3 209.6,396.7 205.6,396 202.7,392.7 201.8,389.3"/>
<polygon class="l t" points="190.2,397.2 194.3,392.9 198.9,389.1 202.4,391.4 201,395.6 198.1,397.4 198.9,400.4 200.2,404.3 195.2,402.7 191.8,399.3"/>
<polygon class="l t" points="198.1,397.4 201,395.6 205.6,396 209.6,396.7 214.8,400.3 213.9,404.8 212.2,409.7 208.1,408.9 204.8,405.6 200.2,404.3 198.9,400.4"/>
<polygon class="l t" points="209.6,396.7 211.4,393.3 214.4,392 215.8,388.5 218.3,387.4 219.6,390.4 222.9,393.7 224.6,395.8 221,398.9 214.8,400.3"/>
<polygon class="l t" points="218.3,387.4 220.2,384.1 228,383.9 227.2,388.5 226.8,393.9 224.6,395.8 222.9,393.7 219.6,390.4"/>
<polygon class="l t" points="228,383.9 237.2,383.9 234.8,388.7 232.6,393.3 226.8,393.9 227.2,388.5"/>
<polygon class="l t" points="237.2,383.9 242.4,383.6 243,389.2 240.4,392.9 236.3,396.4 232.6,393.3 234.8,388.7"/>
<polygon class="l t" points="226.8,396.8 231.8,396 236.3,396.4 238.9,400.2 237.2,404.4 232.7,406.4 227.8,408.6 226.6,403.7"/>
<polygon class="l t" points="236.3,396.4 240.4,392.9 243.3,392.7 244.6,397.6 246.6,404.2 245.6,408.5 243.3,408.7 242,405.8 240.2,403.9 238.9,400.2"/>
<polygon class="l t" points="231.8,409.8 233.7,405.9 237.2,404.4 240.2,403.9 242,405.8 243.3,408.7 245.6,408.5 247.8,409.2 248.4,415.3 244.4,415.9 237.9,416.8 232.8,416"/>
<polygon class="l t" points="211.8,411 213.9,404.8 214.8,400.3 221,398.9 224.8,398.9 227.3,400.8 228.7,406.3 229.3,412.7 226.8,415.2 227.4,418.5 223,420.5 218.9,421 218.1,417.7 216.4,417.7 215.8,422.4 212.3,417 213.1,412.7"/>
<polygon class="l t" points="202.9,419.1 206.8,414.3 209.8,411.8 213.2,414.2 212.7,419.3 212.4,425.4 207.8,425.6 206.4,421.8"/>
<polygon class="l t" points="194.8,427.2 198.5,423.1 202.9,419.1 206.4,421.8 207.8,425.6 206.8,431 203.5,432.2 200.6,434.1 196,433.5 194.8,430.2"/>
<polygon class="l t" points="207.4,427.8 212.4,425.4 215.2,422.7 218.9,421 220.8,426 222.9,430.6 219.3,432.9 215.2,433.2 211,431"/>
<polygon class="l t" points="220.7,420.4 227.4,418.5 227,416.3 232.8,416 233.9,418.1 234.6,423.1 236.4,429.3 237.1,436.4 233.6,438 226.4,438.5 225,433.7 222.9,430.6 220.8,426"/>
<polygon class="l t" points="233.9,418.1 237.9,416.8 248.4,415.3 250.2,420.6 252.9,424.1 258.1,429.1 263.9,433.8 258.9,435.8 258.1,437.7 260.2,439.8 259.8,442 255.2,442.9 251,444.3 248.1,445.2 243.5,442.2 240.2,439.1 237.1,436.4 236.4,429.3 234.6,423.1"/>
<polygon class="l t" points="248.1,445.2 255.2,442.9 259.8,442 260.2,439.8 258.1,437.7 258.9,435.8 263.9,433.8 270.2,434.6 274.8,438.5 279.8,444.1 282.4,447.3 277.2,449.5 274.1,451.6 273.3,455.1 272.9,459.1 268.2,459.8 261,456 252.7,452.2 248.5,449.1"/>
<polygon class="l t" points="196.8,436 200.6,434.1 203.5,432.2 205.2,433.9 204.2,437 205.6,440.2 203.1,442.7 196.8,440.6"/>
<polygon class="l t" points="205.2,433.9 208.5,432.7 215.2,433.2 219.6,437.4 222.4,439.9 220.4,442.2 214.3,441 207.8,441.7 205,438.7 204.2,437"/>
<polygon class="l t" points="215.2,433.2 223.8,431.9 225,433.7 225.2,438.9 222.4,439.9 219.6,437.4"/>
<polygon class="l t" points="206.4,441.8 214.3,441 220.4,442.2 222.4,439.9 226.4,438.5 230.6,439.3 229.8,445.2 228.9,449.3 231.2,453.8 232.1,455.6 227.9,454.9 221,450.9 213.5,446 207.7,443.5"/>
<polygon class="l t" points="230.6,439.3 237.1,436.4 240.2,439.1 243.5,442.2 248.1,445.2 248.5,449.1 248,452.1 247.4,461 243.4,463.8 239.3,461.2 233.5,458.4 229.8,452.9 228.9,449.3 229.8,445.2 233.5,445.2 232.7,442.7 230.3,441.6"/>
<polygon class="l t" points="191.9,449.3 193.8,442.6 201.1,441.4 204.8,443.5 202,447.9 198.5,450.2 194.6,454.9 192.1,452.3"/>
<polygon class="l t" points="200.3,447.7 204,444.2 208.3,443.8 209.9,448.4 210.4,452.5 206.8,454.3 202,452.7"/>
<polygon class="l t" points="197.7,453.5 201,451.8 205.2,454.8 204.3,456 197.7,456"/>
<polygon class="l t" points="186.5,431.9 188.8,434.7 194.2,439.6 193.8,442.6 191.6,445.3 186.2,441.6"/>
<polygon class="l t" points="145.4,428.8 155.7,418 167.3,428.5 164.7,430.6 155.4,436.9 152,435.3"/>
<polygon class="l t" points="128.9,447.5 137,438.8 145.4,428.8 152,435.3 152.9,438.5 147.3,441.5 142.3,445.3 142,450.1 141.8,453.3 137,452.5 132.6,450.3"/>
<polygon class="l t" points="141.8,453.3 142.3,445.3 147.3,441.5 152.9,438.5 156.7,441.2 158.4,446.4 155.8,450 154.5,453.8"/>
<polygon class="l t" points="155.4,436.9 164.7,430.6 167.3,435.6 169.2,441.9 165.8,443.8 158.4,446.4 156.7,441.2"/>
<polygon class="l t" points="164.7,430.6 167.3,428.5 174.5,428.1 180.8,429.4 183.2,431.5 183.6,440 177,440 172,442.2 169.2,441.9 167.3,435.6"/>
<polygon class="l t" points="168.6,444.4 172,442.2 175.1,446.2 177,449.4 178.2,455 178.9,461.2 179.5,465.9 175.7,466.2 173.9,466.5 174.5,458.1 172,452.5 170.1,448.1"/>
<polygon class="l t" points="183.2,431.5 186.5,431.9 192.8,438.1 194.2,439.6 193.8,442.6 191.6,445.3 188.2,442.8 183.6,440"/>
<polygon class="l t" points="195.2,465 196.6,464.7 204.5,467.5 212.6,472.6 211.4,475.6 209.2,480.8 209,485.7 212.6,490 208.2,493.1 202,490 197,486.2 192.3,481.5 193.2,476.2"/>
<polygon class="l t" points="197.2,454.6 200.6,451.7 204.6,453 206.8,457.1 203.9,460 201.8,458.8"/>
<polygon class="l t" points="229.4,458.8 233.5,458.4 239.3,461.2 243.4,463.8 240.6,467.5 238.8,471.3 232.7,468.3 229.6,466.7"/>
<polygon class="l t" points="248,452.1 252.7,452.2 261,456 268.2,459.8 268.1,462.5 264.6,467.7 262,471.9 259.6,476.2 255.6,475 252.4,472.3 246,471.9 241.2,473.6 238.3,472.5 240.6,467.5 243.4,463.8 247.4,461 248,452.1"/>
<polygon class="l t" points="273.3,455.1 274.1,451.6 277.2,449.5 282.4,447.3 287.2,445 291.2,448.3 296,450.8 299.4,454.8 297.9,456.2 296.4,458.4 293.9,461.9 293.6,467.4 289.1,467.7 284.8,465.2 278.9,461.4 274.3,459.6"/>
<polygon class="l t" points="268.2,459.8 272.9,459.1 278.9,461.4 284.8,465.2 289.1,467.7 290.2,470.2 287.2,472.3 284,469.5 280,468.1 274.3,469 270,470.6 267.4,468.6 266.7,463.5"/>
<polygon class="l t" points="262,471.9 264.6,467.7 267.4,468.6 270,470.6 274.3,469 280,468.1 284,469.5 282,473.3 278.7,475.2 277.9,478.3 276.6,481.7 275.6,484.2 272.7,485.8 269.3,482.5 266,478.8 262.7,475.8 259.6,476.2"/>
<polygon class="l t" points="241.2,473.6 246,471.9 252.4,472.3 255.6,475 259.6,476.2 261,478.8 258.9,479.6 256,479.2 254.1,482.9 251,480.4 246,477.9 241.2,476.2"/>
<polygon class="l t" points="238.8,490 241.5,486.4 246.8,488.8 250.2,491 253.1,488.8 256.8,491.7 258.8,495.9 257.5,500.5 252,500.3 247,497.1 243.1,494.8 239,493.3"/>
<polygon class="l t" points="235.7,497.9 239.1,495.6 243.1,494.8 248.5,496.3 253.1,499.3 256.2,504.4 252.7,509.2 247.3,510.9 242.3,509.4 236.8,506.7"/>
<polygon class="l t" points="256.2,504.4 257.5,497 259.3,492.5 258.5,489.2 263.3,488.9 265.6,493.8 268.9,498.8 272.7,503.8 272.9,508.1 269.4,510.5 264.3,508.3 259.3,505.8"/>
<polygon class="l t" points="268.9,510.8 272.9,508.1 276,511.7 279.6,515.2 278.1,516.2 274.3,515.8"/>
<polygon class="l t" points="274.8,505 277.7,500.8 282,503.1 283.9,506.2 285.7,509.5 282.2,513.3 277.7,510"/>
<polygon class="l t" points="278.1,516.2 282.2,513.3 285.7,509.5 289.3,509 294.3,510.4 293.5,517.5 289.3,518.8 281.8,517.5"/>
<polygon class="l t" points="280.2,498.3 283.9,499.6 289.3,501.2 294.3,503.3 294.3,508.3 289.3,509 285.7,509.5 283.9,506.2 282,503.1"/>
<polygon class="l t" points="256.8,481.7 258.9,479.6 262.7,481.7 266,485 269.3,489.2 272.7,493.3 275.6,498.3 276.1,503.1 272.7,503.8 268.9,498.8 265.6,493.8 262.7,487.5 259.3,486.7 256.8,485.4"/>
<polygon class="l t" points="274.3,489.2 276.4,489.2 277.2,493.3 277.7,498.3 276,497.5"/>
<polygon class="l t" points="299.9,379.8 305.9,379 314.3,379.3 321,378.9 323.5,381.8 327.7,386 325.4,391.2 320.2,394.3 316.1,397.1 310.2,397.2 304.1,397.2 298.5,393.9 299.8,387.7"/>
<polygon class="l t" points="309,401.2 313.8,397 318.2,395.5 319.8,398.5 317.2,402.7 316.8,407.7 313.9,412 311.6,409.8 311.4,404.3"/>
<polygon class="l t" points="321,396 323.8,390.8 328.1,388.5 329.8,391 331.4,394.8 332,399.8 323.5,399.8"/>
<polygon class="l t" points="318.9,403.5 320.2,401 323.5,399.8 332,399.8 332.8,409.6 328.5,409.1 323.5,408.5 318.9,407.5"/>
<polygon class="l t" points="316.6,411.2 318.9,407.5 323.5,408.5 332.8,409.6 332.2,412.2 329.3,415.2 323.5,413.9 319.3,412.2"/>
<polyline class="l t" points="301.3,428.5 301.8,421 306,417.7 311.3,412.6 316.6,411.2 323.5,413.9 329.3,415.2 329.4,421.1 328.2,428.2"/>
<polygon class="l t" points="339,381.3 349.6,381.2 350.2,389.3 350.5,399.7 346,401 341,400 335.6,399.3 335.2,396.8 337.2,392.7 339.4,386"/>
<polygon class="l t" points="333.9,400.6 336,400.6 336.4,408.9 333.9,408.9"/>
<polygon class="l t" points="337.7,401.8 341,400 346,401 350.5,399.7 352.8,404 353.3,409.4 346,409.5 337.7,408.9"/>
<polygon class="l t" points="332.2,412.2 332.8,409.6 336.8,410.6 339.3,412.7 342,416.4 341,419.8 337.7,417.2 334.6,416.4 331.8,417"/>
<polyline class="l t" points="328.2,428.2 328.9,418.4 331.8,417 334.6,416.4 337.7,417.2 341,419.8 341.8,424 339,427.9"/>
<polygon class="l t" points="341,411.8 346,409.5 353.3,409.4 352.2,414.8 350.6,420.6 348.5,425.1 346,424.8 343.7,421.4 342,416.4"/>
<polygon class="l t" points="349.8,383.6 356,384.8 362.7,386.4 369.3,388.1 373.7,391.4 373.9,396 369.3,396.4 362.7,397.2 356,398.9 350.5,399.7 350.2,389.3"/>
<polygon class="l t" points="363.9,403.1 367.4,402.2 368.1,398.9 374,398.9 374.4,406 370.6,408.9 367.2,407.2 364.3,406"/>
<polygon class="l t" points="350.6,420.6 352.2,414.8 353.3,409.4 358.9,407.2 364.3,406 369,406.9 372.9,410.2 370.6,415.2 369.5,418.9 370.6,423.8 369.3,426.9 362.7,428.1 358.4,429.2 358.4,429.2 348.8,427.3 348.5,425.1"/>
<polygon class="l t" points="373.5,387.7 376.8,385 380.2,384.5 382.6,386.9 386.4,392 389.8,394.8 390.4,398.5 386.2,399.8 383.5,402.2 379.3,404.8 374.4,406 373.9,396"/>
<polygon class="l t" points="380.2,384.5 382.7,382.7 388.1,384.7 393.9,387.4 398.9,389.3 400.4,392.4 399.3,395.6 394.3,394.8 389.8,394.8 386.4,392 382.7,388.5"/>
<polygon class="l t" points="396.7,373.3 401,371.8 406.4,373 406.9,379.4 405.1,386.4 403.5,391 400.4,392.4 398.9,389.3 393.9,387.4 394.2,381.4 395.7,376.5"/>
<polygon class="l t" points="374.4,406 379.3,404.8 383.5,402.2 386.2,399.8 390.4,398.5 392.7,396.8 393.5,403.9 390.7,408.2 388.1,411 379.3,410.2 373.9,410.2"/>
<polygon class="l t" points="394.8,396.8 399.3,395.6 404.3,396.8 408,398.1 405.1,404 400.6,406.6 397.4,408.3 396,404.3 393.5,403.9"/>
<polygon class="l t" points="388.1,411 392.1,405.5 394.5,404.1 397.4,408.3 393.5,413.5 391.5,414.9"/>
<polygon class="l t" points="369.5,418.9 370.6,415.2 372.9,410.2 379.3,410.2 388.1,411 391.5,414.9 387.5,419.3 383.6,423.3 379.3,425.8 374.8,430.6 371.8,425.8 370.6,423.8"/>
<polyline class="l t" points="380.2,428.2 383.7,421.6 387.9,417.7 391.5,414.9 394.3,416.4 395.6,420.6 393.6,428.2"/>
<polygon class="l t" points="394.3,416.4 398.5,410.2 400.6,406.6 406,403.5 409.3,400.2 409.3,411 403.9,415.8 399.8,418.9 395.6,420.6"/>
<polyline class="l t" points="328.2,428.2 328.2,428.2 325.6,435 325.2,440.4 322.7,442.1 319.3,437.9 315.2,432.5 312.7,429.6 309.3,428.8 306,430.8 301.3,428.5 301.3,428.5"/>
<polyline class="l t" points="339,427.9 337,431 336.4,441 330.9,442.2 327.2,440 328.2,428.2 328.2,428.2"/>
<polygon class="l t" points="337,431 339,427.9 341.8,424 343.7,421.4 346,424.8 348.5,425.1 349.7,430.7 351.4,440.6 342.7,442.1 336.4,441"/>
<polyline class="l t" points="380.2,428.2 374.8,430.6 379.3,431.9 390.8,432.3 393.6,428.2"/>
<polygon class="l t" points="358.4,429.2 362.7,428.1 369.3,426.9 372.7,427.3 374.8,430.6 371.4,434.6 368.1,438.4 363.6,436.6 360.5,434.1"/>
<polygon class="l t" points="349.1,429.2 353.7,428 358.4,429.2 358.5,432.9 362.3,434.3 365.9,436.9 367.9,440.2 365.2,442.5 357.7,441.2 353.5,442.1 351.4,440.6 350.1,434.3"/>
<polygon class="l t" points="368.1,438.4 371.4,434.6 374.8,430.6 377.9,434.4 379.8,438.3 381.2,441.2 376,442.1 371,441.2 367.7,441.7"/>
<polygon class="l t" points="377.9,434.4 379.3,431.9 390.8,432.3 391.8,437.1 393.7,443.3 396.8,451 390.3,454.7 388.1,451.2 386,445.8 381.8,442.5 379.8,438.3"/>
<polygon class="l t" points="390.3,454.7 396.8,451 399.6,450.8 403.7,454.4 411.7,464 409.1,465.8 400.2,467.3 392.4,468.9 391.2,461.7"/>
<polygon class="l t" points="377.8,459.3 383.5,457.5 387.8,455.3 390.3,454.7 391.2,461.7 392.4,468.9 386.4,469.6 381,470.4 378.9,465"/>
<polygon class="l t" points="373.6,448.5 377.4,446.4 381.8,445.8 386.5,447.1 388.1,451.2 389.3,455.8 383.5,457.5 377.8,459.3 375.6,453.3"/>
<polygon class="l t" points="365.6,452.1 369.3,450 373.6,448.5 375.6,453.3 376.7,456.3 377.8,459.3 371,460 365,460.4 365.3,455.8"/>
<polygon class="l t" points="353.4,445 359.5,441.5 365.2,442.5 366.4,447.9 365.6,452.1 361,452.1 357.7,449.2 354.8,446.7"/>
<polygon class="l t" points="356,452.5 358.5,449.9 361,452.1 365.6,452.1 365,460.4 361.8,460.4 357.7,458.3 354.5,456"/>
<polygon class="l t" points="344.8,444.4 352.7,444.2 354.8,446.7 353.9,448.8 349.5,449.4 346,447.9"/>
<polygon class="l t" points="348.3,448.2 353.9,448.8 354.3,454.8 347.8,454.6"/>
<polygon class="l t" points="346.5,458.1 347.8,454.6 354.3,454.8 354.8,458.3 349.3,460.6 346.5,458.1"/>
<polygon class="l t" points="340.2,448.8 343.7,448.1 346,451.7 347.8,454.6 346.5,458.1 342.2,457.7 341.2,453.8"/>
<polygon class="l t" points="324.3,445 329.3,442.1 334.4,440.9 337.4,445.6 334.3,448.8 331,452.3 324.1,454.6 323.5,449.2"/>
<polygon class="l t" points="335.4,450.4 337.7,445 341,443.8 344.8,444.4 343.7,448.1 340.2,448.8 337.6,451.1"/>
<polygon class="l t" points="324.5,456 331,452.3 335.4,450.4 340.7,451.4 341.2,453.8 342.2,457.7 346.5,458.1 345.6,460.4 337.7,461 329.1,461 325.6,459.6"/>
<polygon class="l t" points="329.1,461 337.7,461 345.6,460.4 354.3,460.8 353.9,464.6 349.8,468.8 345.5,473.2 339.9,474 338.1,470.4 335.2,469.2 331,471.2 328.7,466.7"/>
<polygon class="l t" points="345.5,473.2 349.8,468.8 353.9,464.6 356,461.7 361,462.5 360.2,465 361.6,469.6 358.5,475.2 354.3,477.5 350.2,475.8"/>
<polygon class="l t" points="297.9,456.2 301,453.3 301.8,448.3 306,446.2 314.3,446.7 321.8,446.7 323.5,449.2 324.1,454.6 325.6,459.6 323.5,462.9 316,463.2 312.2,463.4 307.2,462.3 304.5,460 301,458.4"/>
<polygon class="l t" points="309.6,470.4 311,466.7 312.2,463.4 323.5,462.9 326.8,462.5 328.7,466.7 328.1,470.2 323.7,470.8 321.4,474.6 316.8,474.6 312.7,472.1"/>
<polygon class="l t" points="297.5,481.7 300.2,477.5 302.7,472.5 309.6,470.4 312.7,472.1 316.8,474.6 318.5,476.7 315.2,480 311.8,483.3 309.3,489.1 303.7,490.9 299.8,487.5"/>
<polygon class="l t" points="323.7,470.8 328.1,470.2 331,471.2 335.2,469.2 338.1,470.4 339.9,474 336.8,478.1 332.7,481.7 331,485 327.7,481.7 324.3,478.3 321.4,474.6"/>
<polygon class="l t" points="333.9,483.3 335.2,478.6 339.9,474 345.5,473.2 346.8,477.5 344.3,480.8 341,484.2 339.3,488.3 336,486.7"/>
<polygon class="l t" points="345.6,479.1 349.3,478.3 353.8,481.1 356.4,485.4 355.2,489.2 351.8,489.2 348.5,485.8"/>
<polygon class="l t" points="360.4,465.8 364.3,464.2 367.9,466.9 371.2,471.1 368.8,475.9 366.4,479 363.5,474.2 361.6,469.6"/>
<polygon class="l t" points="372.2,472.9 379.3,470.6 386.4,469.6 392.4,468.9 392.9,477.5 393.6,483.8 389.3,485 390.2,489.6 383.8,492.1 379.8,489.8 374.8,487.3 372.2,480"/>
<polygon class="l t" points="392.4,468.9 400.2,467.3 409.1,465.8 411,470 411.5,476.5 411.6,482.3 404.5,485.4 397.5,486.7 393.6,483.8 392.9,477.5"/>
<polygon class="l t" points="363.4,482 365.8,477.5 369,473.3 372.2,477.5 370.2,483.1 366.3,484.7"/>
<polygon class="l t" points="358.9,488.3 363,484.5 370.2,483.1 372.2,486.7 371.4,489.4 364.8,492.3 360.4,492.7"/>
<polygon class="l t" points="361.6,505.3 362.1,494.9 364.8,492.3 371.4,489.4 374.8,487.3 379.8,489.8 383.8,492.1 385.7,502.9"/>
<polygon class="l t" points="385.7,502.9 383.8,492.1 390.2,489.6 394.3,486.7 397.5,486.7 399.3,492.5 400.1,500.8 397.6,503.3"/>
<polygon class="l t" points="397.5,486.7 404.5,485.4 411.6,482.3 413.4,486.2 415.4,491.1 411.4,493 409.5,490.4 407.6,494.7 399.5,495.1 398.8,490.8"/>
<polygon class="l t" points="293.9,461.9 296.4,458.4 301,458.4 304.5,460 307.2,462.3 310.3,463 308.5,467.5 306.8,468.8 301.6,468.6 293.6,467.4"/>
<polygon class="l t" points="284,469.5 287.2,472.3 290.2,470.2 293.6,467.4 301.6,468.6 302,474 297.7,477.5 297.5,481.7 299.8,487.5 295.6,489.9 291,487.9 284.3,485.5 280.6,484.1 276.6,481.7 277.9,478.3 278.7,475.2 282,473.3"/>
<polygon class="l t" points="279.8,486.2 284.3,485.5 291,487.9 295.6,489.9 299.8,487.5 303.7,490.9 302.3,492.5 300.6,497.1 296.4,498.6 293.7,503.1 289.3,498.3 283.5,496.7 281.4,493.3 280.2,490"/>
<polygon class="l t" points="297.8,502.1 300.6,497.1 306.3,497.8 312.8,500.6 313.5,505.3 308.5,506.5 302.7,505.8 297.2,506"/>
<polygon class="l t" points="354.1,492.9 357.9,491.3 360.4,492.7 362.1,494.9 361.8,499.2 358.5,501.6 358.5,505.7 354.3,504.6 354.1,499.8 354.8,496"/>
<polygon class="l t" points="336,532.2 339.8,530.4 341,526.6 343.5,523.5 346,522.9 347.9,525.4 347.9,529.1 346,532.2 345.4,536 341,536 338.5,534.1"/>
<polygon class="l t" points="327.2,524.8 329.8,522.2 332.9,520.4 335.4,522.2 334.1,525.4 331.6,527.9 329.8,530.4 328.5,527.9"/>
<polygon class="l t" points="321.6,516.6 325.4,514.8 328.5,514.1 331,516 328.5,518.5 325.4,519.8 322.9,519.1"/>
<polygon class="l t" points="310.1,509.8 316,509.2 318.3,511.2 318.9,513.8 314.6,514.5 310.7,514.1"/>
<polygon class="l t" points="297,503.5 299,499 303.8,497.8 308.5,499.1 312.8,500.6 313.5,505.3 308.5,506.5 305.5,506.1 301,505.9"/>
<polygon class="l t" points="314.8,500.4 322.2,500.1 322.9,502.2 319.8,503.5 314.8,502.9"/>
<polygon class="l t" points="317.9,504.8 327.2,504.4 327.9,506.6 323.5,507.2 319.1,506.9"/>
<polygon class="l t" points="295.6,489.9 303.7,490.9 301.1,496.1 296.4,498.6 296.4,498.6"/>
<polygon class="l t" points="301.3,532.6 304.7,528.4 307.9,529.8 311.5,531.4 310.4,534.5 306.7,535.1 303.5,533.6"/>
<polygon class="l t" points="306.6,524.1 310.4,525.4 314.1,527.2 316.6,528.5 326,529.1 326.6,532.7 316,532.9 313.5,530.4 308.3,527.5"/>
<polygon class="l t" points="224.4,509.4 226.9,507.6 227.7,507 235.4,508.7 241,511.3 246.9,514.6 251.9,517.1 254.7,520.2 257.9,523.7 262.6,526.3 269.4,528.8 274.3,530.8 277.6,532.1 275.6,535 272.5,538.8 267.5,537.5 258.1,555 255.6,556 248.1,549.4 257.5,533.1 245,525 238.8,538.1 236.2,538.5 212.2,523.5 214.4,518.1 219.4,516.2 233.1,523.1 238.1,525 240.1,519.4 235.1,516.5 228.5,512.4 224.4,509.4"/>
<polygon class="l t" points="235.4,508.7 241.3,507.6 249.3,511.5 255.5,513.5 257.7,516.1 257.9,523.7 251.9,517.1 246.9,514.6 241,511.3 235.4,508.7"/>
<polygon class="l t" points="257.9,523.7 265.2,523.2 267.7,524 270.2,525.7 277.7,528.2 277.6,532.1 269.4,528.8 262.6,526.3"/>
<polygon class="l t" points="297.2,506 302.7,505.8 308.5,506.5 308.5,509 296.8,509"/>
<polygon class="l t" points="279.3,531.5 280.2,525.7 280,522.8 285.2,523.1 291,523.4 296.8,523.8 294.3,529 291,533.6 282.7,534.4"/>
<polygon class="l t" points="276.4,537.1 278.5,534 282.7,534.4 291,533.6 295.2,530.7 297.7,529 299.3,534 303.5,537.3 307.7,540.7 304.3,544 300,545 292.5,542.5 290,541.2 287.5,542.5 282.7,545.7 279.7,541.7"/>
<polygon class="l t" points="295.2,516.5 297.7,510.7 299.3,511.5 299.3,517.3 296,518.2"/>
<polygon class="l t" points="301,511.5 307.7,511.1 306.8,519 302.7,519.8"/>
<polygon class="l t" points="310.1,509.8 317.2,509.8 318.9,513.8 314.6,514.5 310.7,514.1"/>
<polygon class="l t" points="308.5,515.7 311,515.2 311.4,521.5 308.5,521.5"/>
<polygon class="l t" points="312.7,516.5 318.5,515.7 317.9,522.2 312.7,522.3"/>
<polygon class="l t" points="301.3,532.6 305,531.1 307.1,525 310.5,528.5 312.9,534.1 306.7,535.1"/>
<polygon class="l t" points="298.5,526.5 304.3,525.7 305,531.1 301.3,532.6"/>
<polygon class="l t" points="277.7,519.8 291,520.7 299.3,521.5 303.5,524 296.8,523.8 291,523.4 280,522.8"/>
<polygon class="l t" points="298.9,484 311.3,484.5 309.3,489.1 303.7,490.9 299.8,487.5"/>
<polygon class="l t" points="280.6,484.1 298.9,484 299.8,487.5 303.7,490.9 295.6,489.9 291,487.9 284.3,485.5"/>
<polygon class="l t" points="437.1,438 439.9,430.4 443.7,422.1 451.1,421.4 451.6,426.7 455.9,427.9 458.8,436.4 463.6,444.5 462.4,446.7 457.4,451.9 452.6,452.1 445.3,444.4 439.5,438.6"/>
<polygon class="l t" points="463.6,444.5 471.6,438.4 479.5,435 486.1,433.9 484.1,440.8 482,447.9 479.6,453.7 474.8,458.1 470.8,460.4 466.8,453.6 458.7,453.4 457.4,451.9 462.4,446.7"/>
<polygon class="l t" points="427.8,441.7 435.3,437.5 439.5,438.6 445.3,444.4 452.6,452.1 445.3,453.4 437,452.9 431.7,455.9 427.8,456.2"/>
<polygon class="l t" points="399.6,450.8 407.5,449.2 414.1,447.5 419.7,444.6 426.2,443.3 427.8,456.2 419.5,460.4 411.7,464 408.1,459.7 403.7,454.4"/>
<polygon class="l t" points="429.9,455.5 437,452.9 445.3,453.4 458.7,453.4 466.8,453.6 469.1,461.2 458.7,464.6 445.3,468 438.1,468.1 437.6,461 431.6,460.4"/>
<polygon class="l t" points="411.7,464 419.5,460.4 427.8,456.2 431.6,460.4 437.6,461 438.1,468.1 428.7,470.4 419.5,474.2 411.5,476.5 411,470"/>
<polygon class="l t" points="445.3,468 458.7,464.6 469.1,461.2 475.3,466.2 478.7,470.4 475.3,473.8 458.7,477.9 447.6,480.6 445.8,474.3"/>
<polygon class="l t" points="411.5,476.5 419.5,474.2 428.7,470.4 438.1,468.1 445.3,468 447.2,478.1 446.6,483.8 433.7,487.9 425.8,488.8 417,490.4 413.4,486.2"/>
<polygon class="l t" points="447.6,480.6 458.7,477.9 475.3,473.8 480.2,471.7 483.7,476.2 481.2,480.8 467.3,485 450.7,490 448.7,485.8"/>
<polygon class="l t" points="426.9,491.2 433.7,487.9 446.6,483.8 448.3,490.7 442.2,492.5 428.9,495.6"/>
<polygon class="l t" points="399.8,497.6 408.7,494.2 417,490.4 425.8,488.8 428.3,493.2 421.6,497.9 413.2,500.5 402,500"/>
<polygon class="l t" points="470.8,460.4 478.7,455.8 482,447.9 484.1,440.8 486.1,433.9 490.4,440 493.6,444.8 495,442.2 504,450 511.5,454.2 512.3,458.3 509,465 505.7,470 511.5,474.2 511.5,478.3 500.7,477.5 492.3,478.3 485.5,479.7 480.8,474.2 478.7,470.4 475.3,466.2"/>
<polygon class="l t" points="212.2,464.3 216.9,462.7 221.1,463.9 224.3,469.5 227.2,475.3 223.9,477.4 220.2,473.7 216.4,469.1 213.1,465.8"/>
<polygon class="l t" points="212.6,472.6 214.3,471.6 218.5,475.8 223.9,480.1 219.2,483.9 214.6,479.7 213.5,475.3"/>
<polygon class="l t" points="224.8,470.5 229.3,468.9 232.7,471 236,474.9 238.3,478.7 238.5,482 231.7,482.7 230.4,478.4 228.5,473.7"/>
<polygon class="l t" points="222.6,484.2 223.9,480.1 227.7,477.8 230.4,478.4 232.5,481.2 233.1,485.6 232.1,488.2 228.5,489.1 224.8,487.2"/>
<polygon class="l t" points="229.8,488.8 232.1,488.2 233.1,485.6 234.3,483.7 238.5,483.7 238.7,487.8 236.8,494.5 235.2,499.5 234.3,497.8 232.7,493.7"/>
<polygon class="l t" points="220.8,485.3 222.6,484.2 226.9,487.7 229.3,494.5 231.4,499.5 233.1,503.7 231,503.7 228.1,496.2 224.6,490.3"/>
<polyline class="l" points="161.5,490 161.5,507.5"/>
<polyline class="l" points="222.5,575.8 223.3,585 228.3,587.5 235.8,590 238.3,591.7"/>
<polyline class="l" points="217.5,629.7 222.5,629.2"/>
<polyline class="l" points="212,313.3 213.9,318.8 215.1,330 215.5,342.3 217.3,355 216.4,360 214.3,365.8 214.3,375.2 214.9,384.2"/>
<polyline class="l" points="215.5,342.3 208.2,349.4 203.9,351.2 200.8,343.8 198,342.5"/>
<polyline class="l" points="198,342.5 200.1,350 200.1,360 202,363.8 214.3,365.8"/>
<polyline class="l" points="247.8,306.7 253.8,304.7 263.7,304.1 264.8,310.9 257.2,317.1 252,315.6 248.9,312.5 247.8,306.7"/>
<polyline class="l" points="252,315.6 257.2,317.1 260.5,321.9 259.6,327.2"/>
<polyline class="l" points="263.7,304.1 275.8,298.8 278.9,306.9 277,308.8"/>
<polyline class="l" points="266.2,294.6 269.9,299.5 275.8,298.8"/>
<polyline class="l" points="278.9,306.9 283.2,310.3"/>
<polyline class="l" points="235.3,319.2 235.9,331.6"/>
<polyline class="l" points="238.9,342.8 248.2,337.8 258.2,336.2 265.8,339.1 270.9,341.4 277.1,349.2 280.6,350.9 284.8,355"/>
<polyline class="l" points="238.2,356.9 240.1,367.5 241.9,377.6 242.4,383.6 245.3,400.1"/>
<polyline class="l" points="214.9,384.2 228,383.9 242.4,383.6"/>
<polyline class="l" points="266.2,292.5 266.2,294.6 269.9,299.5 277.5,296.9 283.8,292.5 289,290.8 291.2,287.5 294,280.3"/>
<polyline class="l" points="291.2,287.5 295,289.1 298.8,290.3 300,286.2 303.8,282.5"/>
<polyline class="l" points="269.9,299.5 263.7,304.1 264.8,310.9"/>
<polyline class="l" points="277.5,296.9 277.9,304.2 280.9,308.5 289.8,314.6"/>
<polyline class="l" points="289,290.8 290,298.8 290.6,306.2 289.8,314.6"/>
<polyline class="l" points="306.9,290 307.5,291.9 310,292.5 315,293.1 318.1,295.3"/>
<polyline class="l" points="363.1,339.4 370,343.1 374.7,348"/>
<polyline class="l" points="383.8,345.6 387.1,339.7 390,338.1"/>
<polyline class="l" points="384.3,347.3 383.8,345.6 377.5,345 374.7,348"/>
<polyline class="l" points="356.2,342.5 358.1,339.6 363.1,339.4 365,336.2"/>
<polyline class="l" points="364,368.6 347,369.1 345,366.2"/>
<polyline class="l" points="320,304.1 327.5,299.1 334.4,294.8 336.2,294.4 343.8,296.9 350,300.6 350,300.6 343.8,306.2 336.9,308.8 334.4,306.2 333.8,298.1 334.4,294.8"/>
<polyline class="l" points="350,300.6 347.6,306.4 349.4,311.2 350.3,315.3 345,318.8 340,321.9 335.6,323.8 332.5,323.8"/>
<polyline class="l" points="347.6,306.4 359.4,325.6"/>
<polyline class="l" points="347.6,306.4 351.2,303.8 355,303.8 361.2,310.6 368.1,318.1 368.5,322.5 363.8,325 359.4,325.6 359.4,325.6 353.5,319.4 349.4,311.2 347.6,306.4"/>
<polyline class="l" points="350.3,315.3 353.5,319.4 356.9,326.2 358.1,329.4 352.1,335.8 350,338.1"/>
<polyline class="l" points="289.8,314.6 282.3,328.4 270.9,341.4 277.1,349.2 284.4,352.8 288.1,351.9"/>
<polyline class="l" points="289.8,314.6 298.5,317.2 301.2,318.1"/>
<polyline class="l" points="305,323.8 308.1,332.5 305,338.8 307.5,339.7"/>
<polyline class="l" points="240,357.5 258.8,353.8 277.1,349.2"/>
<polyline class="l" points="284.4,352.8 290,366.9 293.8,374.4 298.1,375.4 299.8,385 296.9,390"/>
<polyline class="l" points="418.8,350 425,348.1 428.1,351.2 436.9,359.3 442.5,365"/>
<polyline class="l" points="421.5,349.2 424.4,358.8 431.2,366.2 437.5,370.2"/>
<polyline class="l" points="443.1,368.8 437.5,370.2 433.1,372.5 431.2,371.2"/>
<polyline class="l" points="374.7,348 371.9,352.8 368.3,359.2 363.5,362.2 364,368.6"/>
<polyline class="l" points="383.8,349 389.4,351.5 398.1,352.8 400.6,350 401.2,345.6"/>
<polyline class="l" points="383.8,349 386.6,341.4 388.1,337.8"/>
<polyline class="l" points="424.4,388.6 426.9,382.5 431.9,376.2 437.5,370.2 443.1,368.8 447.5,368.8"/>
<polyline class="l" points="424.4,388.6 426.2,394.4 429.4,398.5 437.5,400.6 444.6,404.1 447.8,397.5 450.3,390.3 455,385.4 459,381.7"/>
<polyline class="l" points="411.2,392.5 424.4,388.6"/>
<polyline class="l" points="411.2,392.5 413.8,397.5 418.8,398.1 422.3,400.4 426.9,396.5"/>
<polyline class="l" points="429.4,398.5 428.1,403.8 431.2,407.5 435,412.5 441.2,413.8 443.1,412.5"/>
<polyline class="l" points="426.9,396.5 422.3,400.4 417.5,408.1 413.6,417.1 407.5,425 402.5,433.8 400,438.1"/>
<polyline class="l" points="422.3,400.4 418.8,405 413.6,417.1 411.6,419.7"/>
<polyline class="l" points="435,412.5 431.2,420 428.8,428.6 424,436.3 423.9,443.6 414.1,447.5"/>
<polyline class="l" points="441.2,413.8 442.4,423.2 438.6,432.4 430,437.5 423.8,440"/>
<polyline class="l" points="402.5,433.8 407.5,438.8 414.1,447.5 411.2,450"/>
<polyline class="l" points="242.2,375.9 242.4,383.6 243.3,392.7 245.3,400.1 247.7,407.7 248.4,415.3 250.2,420.6 252.9,424.1 258.1,429.1 263.9,433.8 270.2,434.6 274.8,438.5 279.8,444.1 282.4,447.3 287.2,445 291.2,448.3 296,450.8 297.3,452.4"/>
<polyline class="l" points="186,398.5 190.2,397.2 194.3,392.9 198.9,389.1"/>
<polyline class="l" points="190.2,397.2 180.8,405.6 166.4,410.6 159.5,412.8 155.7,418"/>
<polyline class="l" points="122,447.5 128.9,447.5"/>
<polyline class="l" points="132.6,450.3 135.1,455 132.6,459.4 122,460"/>
<polyline class="l" points="141.8,453.3 141.4,457.5 143.2,460.6 156.2,461.7 157,455 158.4,446.4"/>
<polyline class="l" points="159.5,450 165.1,446.2 168.6,444.4"/>
<polyline class="l" points="174.5,458.1 172,466.5 156.2,461.7"/>
<polyline class="l" points="122,461.9 141.4,462.8 156.2,461.7 172,466.5 179.5,465.9 194.5,463.1"/>
<polyline class="l" points="141.4,462.8 142,480 134.5,478.8 122,483.9"/>
<polyline class="l" points="141.7,470 173.2,470 173.9,466.5"/>
<polyline class="l" points="173.2,470 173.2,479.4 159.5,480.9 142,480"/>
<polyline class="l" points="173.2,479.4 192.3,481.5"/>
<polyline class="l" points="142,480 144.5,486.2 146.4,493.8 151.9,496.2"/>
<polyline class="l" points="159.5,480.9 158.8,488.1 158.3,492.3"/>
<polyline class="l" points="180.8,483.8 183.2,490 184.5,497.8"/>
<polyline class="l" points="174.5,441.1 182,440 188.2,442.8 191.6,445.3 192.1,452.3 197,457.5 203.2,463.1 195.2,465"/>
<polyline class="l" points="209.9,448.4 214.4,446.6 221,450.9 229.4,455.6 229.6,466.7 224.3,465 218,464.2 211.8,462.1 211,456.7 209.9,448.4"/>
<polyline class="l" points="240.2,478.8 241.2,476.2 246,477.9 251,480.4 254.1,482.9 255.2,486.7 253.1,488.8 250.2,491 246.8,488.8 238.6,485.9 240.2,478.8"/>
<polyline class="l" points="321.5,379.5 329.3,375.9 344.5,374.1 348.5,376 349.6,381.2 339,381.3 335.2,381.4 332.2,383.7 329.3,386"/>
<polyline class="l" points="332.2,383.7 335.2,381.4 339,381.3 339.4,386 337.2,392.7 335.2,396.8 335.6,399.3"/>
<polyline class="l" points="350.9,401.2 356,398.9 362.7,397.2 368.1,398.9 367.4,402.2 363.9,403.1 362.9,406.3 358.9,407.2 353.3,409.4 352.4,406.3 350.9,401.2"/>
<polyline class="l" points="347,369.1 364,368.6 365.1,370.1"/>
<polyline class="l" points="347,369.1 345.6,372 348.5,376"/>
<polyline class="l" points="298.5,393.9 297.7,396 308.7,396.9 309.3,403.5 311.6,409.8 310.1,414.2 306,417.7 301.8,421 301.5,426.1"/>
<polyline class="l" points="395.6,420.6 399.8,418.9 407.6,412.2"/>
<polyline class="l" points="391.8,437.1 393.6,428.2 395.6,420.6"/>
<polyline class="l" points="393.7,443.3 396.8,451 400.2,448.3 407.5,449.2"/>
<polyline class="l" points="365.7,444.5 372.9,441.5 377.7,444.2 377.4,446.4 373.6,448.5 369.3,450 366.4,447.9 365.7,444.5"/>
<polyline class="l" points="353.8,481.1 356.9,475 361,473.3 362.7,478.3 364.4,485.4 359.3,485.8 356.4,485.4 353.8,481.1"/>
<polyline class="l" points="366,463.3 371,461.7 375.9,459.5 378.9,465 379.3,470.6 372.2,472.9 369.2,469.7 367.9,466.9 366,463.3"/>
<polyline class="l" points="358.5,505.7 364.8,504 371,503.7 372.8,505.4 371.6,509.6 374.1,512.2 378.9,517 376,520.4 374.8,523.3 369.8,521.6 366.3,519.5 360.7,515.1 358.2,512.6 358.4,508.5 358.5,505.7"/>
<polyline class="l" points="372.8,505.4 372.8,505.4 380,505.4"/>
<polyline class="l" points="346.4,510.6 349.1,507.2 352.2,503.5 354.3,504.6 355.4,504.9 358.5,505.7 358.2,512.6 352.2,512.9 345.4,512.2 346.4,510.6"/>
<polyline class="l" points="340.4,507.9 343.5,505.4 346,504.1 347.9,505.4 346.4,510.6 344.1,514.4 342.2,514.8 340.7,512.2 340.4,507.9"/>
<polyline class="l" points="344.1,514.4 347.9,515.1 346.6,518.5 345.1,521 344.1,518.5 344.1,514.4"/>
<polyline class="l" points="346.3,519 351,516 354.4,514.2 353.5,519.1 352.9,522.5 350.4,525.4 348.5,523.5 346.3,519"/>
<polyline class="l" points="354.4,514.2 358.2,512.6 362.5,515.2 366.3,519.5 368.5,522.9 367.3,528.3 364.9,531.1 360.7,532.5 356,530.1 352.5,527.2 352.9,522.5 354.4,514.2"/>
<polyline class="l" points="351,528.5 352.5,527.2 356,530.1 360.7,532.5 358.8,536.5"/>
<polyline class="l" points="351,528.5 349.1,531.6 347.2,536"/>
<polyline class="l" points="414.1,447.5 416.1,446.3 421.2,440.8 425.2,434.1 428.8,428.6 431.2,420"/>
<polyline class="l" points="435.3,437.5 439.9,430.4 441.4,424.2 443.7,422.1"/>
<polyline class="l" points="375,503.5 385.7,502.9 397.6,503.3 400.1,500.8"/>
<polyline class="l" points="372.8,505.4 371.6,509.6 378.9,517"/>
<polyline class="l" points="67.3,432.5 72.5,437.5 78.1,443.1 82.5,440.6 85,443.1 85.6,448.1 91.2,453.1 96.2,455.6 102.5,458.8 103.8,462.5 100,469.4 95.6,475 91.9,478.8"/>
<polyline class="l" points="67.3,432.5 66.9,436.5 58.8,470 51.2,488.8 45.6,506.2 48.1,510 52.5,511.9 64.4,511.9 66.2,509.4 75,509.4 78.1,507.5"/>
<polyline class="l" points="47,489.5 51.2,488.8"/>
<polyline class="l" points="66.9,436.5 78.1,450 100,469.4"/>
<polyline class="l" points="78.1,450 68.8,460 58.8,470"/>
<polyline class="l" points="68.8,460 83.1,475 92.2,483"/>
<polyline class="l" points="58.6,470.6 63.1,473.8 71.2,482.5 74.4,484.4"/>
<polyline class="l" points="102.5,458.8 111.2,460 116.2,457.5 117.5,450 122,447.5"/>
<polyline class="l" points="116.2,457.5 120,460 122,460"/>
<polyline class="l" points="120,461.9 122,461.9"/>
<polyline class="l" points="100,469.4 120,468.5 123.8,467.9"/>
<polyline class="l" points="120,468.5 120.8,485.4 123.1,488.1"/>
<polyline class="l" points="120.8,485.4 122,483.9"/>
<polyline class="l" points="100,486.2 107.5,488.1 120.8,485.4"/>
<polyline class="l" points="85.8,490.1 92.2,483"/>
<polyline class="l" points="85.8,490.1 92.2,483"/>
<polyline class="l" points="208.5,481.6 211.8,477.8 213.5,478.7 219.2,483.9 220.8,485.3 224.6,490.3 228.1,496.2 229.9,500.8"/>
<polyline class="l" points="208.5,481.6 209,485.7 213.5,487.8 216,492.4 218.5,498.7 220.2,502"/>
<polyline class="l" points="238.3,472.5 238.3,478.7 239.1,495.6"/>
<polyline class="l" points="410,416.2 413.8,407.5 417.5,401.2 420.7,402.5 417.5,408.1 415,413.8 413.6,417.1 410,416.2"/>
<polyline class="l" points="395.6,437.5 397.5,431.2 401.2,428.1 405,423.8 406.7,426.5 404.4,430.4 401.2,432.5 400,438.1 398.8,440 396.2,440 395.6,437.5"/>
</g>
<g class="m" shape-rendering="crispEdges">
<polygon class="b" points="811.8,327.5 805.2,330 796.8,331.7 790.2,334.2 786,338.3 786,345 782.7,347.5 781.8,354.2 778.5,358.3 773.5,359.2 771,363.3 771.8,371.7 767.7,374.2 771.8,375.8 771,381.7 766.8,388.3 763.5,391.7 760.2,400 759.3,404.2 754.3,405 750.2,414.2 748.5,420 744.3,424.2 741,428.3 739.3,432.5 734.3,433.7 735.2,437.5 727.7,463.3 720.2,486.7 713.5,502.5 712.7,506.7 715.2,510.8 716,519.2 713.5,522.5 705.2,526.7 702.7,535 697.7,547.5 698.5,550.8 702.7,551.7 703.5,555.8 701.8,558.3 701.8,568.3 706,569.2 697.7,570 698,598.3 702.7,602.5 741,611.7 747.7,611.7 766,605 765.2,598 712.7,598 712.7,589.2 754.3,588.7 754,575 751.8,574.7 751.3,577.5 712.7,577.5 712.7,568.3 742.7,568 747.3,565.8 747.3,557.5 745.2,556.3 712.7,556.3 712.7,548 745.2,547.5 745.7,537.5 741.8,536.7 741.8,527.5 743.5,525 753.5,524.2 755.2,520 755.1,518.8 753.2,512.5 750.1,507.5 750.8,501.2 747,493.8 742,490 735.1,483.1 738.9,479.8 746.4,484.4 753.9,476.9 757,479.4 750.8,487.5 754.5,491.9 755.1,495 757,498.1 761.4,501.2 762,503.8 772,508.1 775.8,513.1 774.5,513.1 785.8,505.6 779.5,497.5 777.6,490.6 783.9,489.8 785.8,495.6 791.4,502.5 797,500.6 795.1,488.1 796.4,487.5 798.2,496.9 798.9,498.8 810.8,497.5 811,490 813.2,488.1 815.1,490 817,495 818.9,498.1 820.1,494.4 822,493.8 823.9,496.2 830.1,493.8 830.8,488.1 832.6,486.9 838.9,488.1 847.6,498.1 854.5,497.5 864.5,498.8 873.2,500.6 875.1,496.9 876.4,501.2 880.8,502.5 887,501.9 892,500 895.8,498.8 897.6,502.5 900.8,506.2 896.4,509.4 897.1,510.6 900.5,512.4 907.1,516.5 912.1,519.4 910.1,525 905.1,523.1 891.4,516.2 886.4,518.1 884.2,523.5 908.2,538.5 910.8,538.1 917,525 929.5,533.1 920.1,549.4 927.6,556 930.1,555 939.5,537.5 944.5,538.8 947.6,535 949.5,540 954.5,543.8 958.2,545 959.5,542.5 962,541.2 964.5,542.5 967,546.2 972,545 977,547.5 978.2,543.8 981.4,543.8 984.5,542.5 990.8,540 999.5,541.2 1003.2,543.1 1007,546.2 1008.2,542.5 1011.4,547.5 1013.9,548.1 1013.5,542.5 1014.3,538.3 1016.8,541.7 1021.8,540.8 1026,543.3 1026.8,540 1029.3,537.5 1034.3,534.2 1039.3,528.3 1041.8,524.2 1046.8,523.3 1051.8,520 1056,515.8 1062.7,512.5 1067.7,508.3 1076,503.3 1089.3,499.2 1102.7,495 1106,495 1122.7,490 1139.3,485 1156,480 1164.3,478.3 1172.7,477.5 1183.5,478.3 1184.3,483.3 1191,480.8 1196,481.7 1201.8,484.7 1210.2,484.7 1219.3,480 1224.3,478.3 1232.7,477.5 1233.5,472.5 1240.2,472.5 1241,478 1247.7,477.5 1246,473.3 1245.2,466.7 1229.3,467.5 1234.3,456.7 1234.3,456.7 1239.3,443.3 1244.3,428.3 1246,424.2 1251,427.5 1256,431.7 1256.8,435.8 1259.3,435.8 1258.5,430 1254.3,426.7 1247.7,423.3 1239.3,417.5 1229.3,412.5 1221,409.2 1211.8,410 1211,407.5 1215.2,405 1212.7,401.7 1207.7,392.5 1204.3,385.8 1199.3,382.5 1191,380 1181,379.2 1172.7,380.8 1169.3,384.2 1164.3,390.8 1161,395 1149.3,395.8 1139.3,393.3 1130.2,386.7 1131,381.7 1130,380 1127,376.9 1124.5,378.8 1123.2,376.9 1124.5,373.8 1119.5,368.8 1115.1,368.8 1114.5,365 1105.8,356.2 1100.1,351.2 1097,348.1 1093.2,346.9 1092,342.5 1085.1,343.1 1078.9,345 1073.9,348.1 1073.2,345.6 1068.2,341.2 1062,338.1 1058.2,337.5 1052,332.5 1048.2,329.8 1044.5,330 1038.2,333.1 1037,333.8 1030.1,339.6 1022,338.1 1030.1,329.4 1031.4,325.6 1035.8,325 1040.5,322.5 1040.1,318.1 1033.2,310.6 1027,303.8 1023.2,303.8 1022,300.6 1017.6,298.1 1012,294.4 1008.2,294.4 1000.1,288.8 993.2,288.1 991.4,288.8 985.1,284 981.4,283.5 978.9,290 977,288.1 975.8,282.5 973.2,281.2 972.7,280.7 966,280.3 956.8,280.8 947.7,283 937.7,289.2 929.3,295 922.7,300.8 913.5,306.7 909.3,309.2 908.5,304.2 907.7,307.5 904.3,313.7 897.7,314.2 886,313.7 876,311.7 873.5,312.5 874.3,312.5 873.5,320 871,322.5 866.8,321.7 868.5,317.5 865.2,314.2 860.2,309.7 856.8,305.8 846,305.3 836,307.2 827.7,311.7 819.3,320 811.8,327.5"/>
<polygon class="b" points="759.3,532.5 766.8,528.3 769.3,530.8 786,520 802.7,510.8 815.2,510 808.5,520 802.7,526.7 800.2,530 804.3,531.7 808.5,526.7 812.7,526.7 814.3,521.7 819.3,515.8 827.7,508.3 833.5,507.5 842.7,508.3 850.2,510.8 853.5,516.7 859.3,522.5 866,525.8 870.2,530 869.3,535 861,536.7 852.7,535 850.2,537.5 859.3,538.3 861,543.3 857.7,547.5 848.5,550.8 841.8,545 832.7,539.2 826.8,540 826,544.2 836.8,549.2 836.8,552.5 811,561.7 808.5,551.7 806,544.2 800.2,539.2 795.2,545 801,551.7 805.2,566.7 806.8,573.3 805.2,577.5 796,584.2 787.7,595 782.7,596.7 780.2,590 784.3,591.7 786.8,588.3 784.3,583.3 778.5,582.5 769.3,565 759.3,538.3"/>
<polygon class="b" points="869.5,582.5 873.7,578.3 878.7,577.5 885.3,580.8 890.3,580.8 894.5,575.8 898.7,574.2 903.7,575.8 912,583.3 917.8,589.2 920.3,595 915.3,594.2 910.3,591.7 907.8,593.3 900.3,594.2 893.7,591.7 887,588.3 878.7,586.7 871.2,585.8"/>
<polygon class="b" points="878.7,590.8 882.8,589.7 887.8,593.3 887.8,595.8 883.7,595 881.2,597 878.7,594.2"/>
<polygon class="b" points="827.7,604.3 828.2,604.3 828.2,604.8 827.7,604.8"/>
<polygon class="b" points="827.8,619.2 837,610.8 846.2,608.8 851.2,609.5 852.8,613.3 855.3,611.3 857.8,615.8 862,621.3 853.7,622.5 834.5,621.7"/>
<polygon class="b" points="893.7,604.2 895.3,608.3 897.8,609.2 898.7,614.2 902,616.7 908.7,614.2 917,612.5 922.8,613.3 924,620 923.3,625.8 917,630 915.3,636.7 907,640.8 902,638.3 897,632.5 899.5,626.7 898.7,623.3 894.5,620.8 892.8,615 894,610"/>
<polygon class="b" points="930,606 930.7,606 930.7,606.7 930,606.7"/>
<polygon class="b" points="937,612.5 939.5,611.7 945.3,617.5 949.5,623.3 948.7,625.3 943.7,623.3 937.8,617.5"/>
<polygon class="b" points="841.2,642.5 847,640.8 849.5,636.7 853.7,635.8 858.7,636.7 860.3,641.7 856.2,645 851.2,647.5 846.2,650.8 842.8,650.8"/>
<polygon class="b" points="865.3,638.5 866,638.5 866,639.2 865.3,639.2"/>
<polygon class="b" points="855,660 860.3,655.8 872,657.5 871.2,668.3 862.8,668.3 859.5,662.5"/>
<polygon class="b" points="872.7,671 873.2,671 873.2,671.7 872.7,671.7"/>
<polygon class="b" points="871.2,676.7 871.8,676.7 871.8,677.7 871.2,677.7"/>
<polygon class="b" points="987.8,604.2 991.2,605 994.5,607.5 992,610 988.7,607.5"/>
<polygon class="b" points="1109.3,340 1118.5,335 1126,335.8 1136,339.2 1142.7,345 1149.3,346.7 1164.3,345.8 1169.3,347.5 1184.3,346.7 1186.8,345.3 1197.7,345.8 1202.7,350 1205.2,354.2 1207.7,363.3 1207.7,367.5 1199.3,366.7 1186,367.5 1176,366.7 1169.3,367.5 1159.3,370 1151,371.7 1147.7,369.2 1145.2,372.5 1142.7,371.7 1132.7,363.3 1131.8,360.8 1136,360 1133.5,357.5 1119.3,348.3 1112.7,346.7 1110.2,343.3"/>
<polygon class="b" points="1215.2,340 1221,334.2 1229.3,326.7 1237.7,321.7 1251,318.7 1258.5,318.3 1261.8,320.8 1262.7,325 1271,328.3 1276,330.8 1286,333.3 1294.3,335.8 1301,340.8 1307.7,347.5 1311.8,355 1313.5,361.7 1317.7,364.2 1317.3,375 1313.5,383.3 1307.7,393.3 1303.5,401.7 1300.2,413.3 1299.3,423.3 1301.8,431.7 1307.7,440.8 1312.7,445.8 1311.8,449.2 1306.8,449.2 1297.7,441.7 1281,427.5 1264.3,414.2 1249.3,401.7 1237.7,390.8 1229.3,382.5 1225.2,375 1223.5,369.2 1225.2,367.5 1237.7,367.5 1241.8,365.8 1242.7,357.5 1240.2,354.7 1237.7,357.5 1233.5,359.2 1222.7,359.2 1218.5,354.2 1216,348.3"/>
<polygon class="b" points="978.9,551.2 984.5,546.9 994.5,543.8 998.2,547.5 1002.6,551.2 1000.8,553.8 995.8,555 989.5,553.8 982,553.8"/>
<polygon class="b" points="1004.3,576.7 1011.8,569.2 1016.8,568.3 1018.5,572.5 1018.5,575.8 1013.5,573.3 1010.2,575 1006,578.3"/>
<polygon class="b" points="991.8,581.7 996,581.3 999.3,586.7 998.5,590.8 994.3,588.3"/>
<polygon class="b" points="1006,585 1011,586.7 1021.8,585 1021,588.3 1013.5,590.8 1011,588.3 1006.8,590"/>
<polygon class="b" points="1014.3,596.7 1019.3,592.5 1026,593.3 1028.5,597.5 1022.7,601.7 1017.7,600.8"/>
<polygon class="b" points="1003.5,597.5 1007.7,596.7 1013.5,603.3 1014.3,609.2 1010.2,608.3 1005.2,601.7"/>
<polygon class="b" points="987.7,604.2 991.8,605 994.3,608.3 991,610"/>
<polygon class="b" points="799.1,327.4 799.5,327.4 799.5,327.8 799.1,327.8"/>
<polygon class="b" points="1131.4,360.6 1137,359.4 1140.1,363.1 1145.8,365 1145.1,373.1 1139.5,368.8 1134.5,363.8"/>
<polygon class="b" points="986.8,524.1 989.9,522.2 993.6,521 996.8,524.1 994.2,526.6 992.4,527.9 989.2,526"/>
<polygon class="b" points="984.9,534.1 988,532.9 1005.5,532.6 1008,534.1 1008.6,536 984.9,536"/>
<polygon class="b" points="1001.1,490.4 1003.6,487.9 1006.1,487.2 1006.1,492.2 1004.2,495.4 1002.1,493.5"/>
<polygon class="b" points="1009.2,501.6 1011.8,502.2 1012.4,504.1 1010.5,505.4"/>
<polygon class="b" points="927.2,509 932.2,510.7 938,514.8 944.7,518.2 949.7,519.8 950.1,524.8 946.3,523.2 942.2,522.3 939.7,524 938,521.5 931.3,520.7 931.3,517.3 928,514.8 926.8,511.5"/>
<polygon class="b" points="987.2,524 993,521.1 997.2,524 993,527.3"/>
<polygon class="b" points="959.7,542.3 962.2,540.7 965.5,542.3 964.7,545.7 961.3,546.1"/>
<polygon class="b" points="1286.3,325 1286.8,325 1286.8,325.5 1286.3,325.5"/>
<polygon class="b" points="1310.8,469.5 1311.3,469.5 1311.3,470 1310.8,470"/>
<polygon class="b" points="1294.8,509.5 1295.3,509.5 1295.3,510 1294.8,510"/>
<clipPath id="c273_1"><polygon points="982.4,480.4 988.6,477.9 993,477.2 999.2,482.9 1005.5,486.6 1011.8,485.4 1018,481.6 1021.8,487.2 1026.8,492.2 1026.1,503.5 1019.9,504.8 1013,507.2 1011.8,514.8 1015.5,519.8 1011.8,524.8 1008,523.5 1003,519.8 993,519.8 986.8,514.8 985.5,507.2 977.4,507.2 976.1,494.8 980.5,487.2"/></clipPath>
<g clip-path="url(#c273_1)" class="g"><polygon style="fill:#E3EEF9" points="984.7,445.1 988.5,448.5 986.9,452.4 983.3,449.7"/><polygon style="fill:#E3EEF9" points="983.3,449.7 986.9,452.4 984.9,458.2 980.2,454.7"/><polygon style="fill:#E3EEF9" points="980.2,454.7 984.9,458.2 981.3,461.6 976.5,458.8"/><polygon style="fill:#7FB9DA" points="976.5,458.8 981.3,461.6 979.3,467.1 974.2,463.0"/><polygon style="fill:#E3EEF9" points="974.2,463.0 979.3,467.1 978.2,470.3 972.4,466.6"/><polygon style="fill:#E3EEF9" points="972.4,466.6 978.2,470.3 976.7,474.7 970.0,473.3"/><polygon style="fill:#E3EEF9" points="970.0,473.3 976.7,474.7 972.1,479.9 967.7,475.9"/><polygon style="fill:#E3EEF9" points="967.7,475.9 972.1,479.9 969.5,483.3 965.6,482.7"/><polygon style="fill:#BED8EC" points="965.6,482.7 969.5,483.3 966.6,488.0 963.9,485.7"/><polygon style="fill:#BED8EC" points="963.9,485.7 966.6,488.0 966.2,493.2 963.0,489.8"/><polygon style="fill:#BED8EC" points="963.0,489.8 966.2,493.2 964.4,497.1 960.0,494.7"/><polygon style="fill:#7FB9DA" points="960.0,494.7 964.4,497.1 961.3,502.0 956.1,497.7"/><polygon style="fill:#7FB9DA" points="956.1,497.7 961.3,502.0 958.8,505.9 953.3,504.1"/><polygon style="fill:#E3EEF9" points="953.3,504.1 958.8,505.9 956.5,511.8 950.9,507.7"/><polygon style="fill:#E3EEF9" points="950.9,507.7 956.5,511.8 953.6,515.1 950.0,512.2"/><polygon style="fill:#7FB9DA" points="950.0,512.2 953.6,515.1 950.2,519.0 947.8,515.8"/><polygon style="fill:#BED8EC" points="947.8,515.8 950.2,519.0 948.9,525.0 944.1,519.9"/><polygon style="fill:#E3EEF9" points="944.1,519.9 948.9,525.0 947.9,527.8 943.0,525.7"/><polygon style="fill:#BED8EC" points="988.5,448.5 993.0,451.1 990.0,454.5 986.9,452.4"/><polygon style="fill:#E3EEF9" points="986.9,452.4 990.0,454.5 988.5,458.3 984.9,458.2"/><polygon style="fill:#E3EEF9" points="984.9,458.2 988.5,458.3 985.0,464.2 981.3,461.6"/><polygon style="fill:#E3EEF9" points="981.3,461.6 985.0,464.2 983.5,467.4 979.3,467.1"/><polygon style="fill:#E3EEF9" points="979.3,467.1 983.5,467.4 981.0,473.7 978.2,470.3"/><polygon style="fill:#E3EEF9" points="978.2,470.3 981.0,473.7 978.5,476.7 976.7,474.7"/><polygon style="fill:#E3EEF9" points="976.7,474.7 978.5,476.7 976.7,482.8 972.1,479.9"/><polygon style="fill:#E3EEF9" points="972.1,479.9 976.7,482.8 975.0,487.5 969.5,483.3"/><polygon style="fill:#7FB9DA" points="969.5,483.3 975.0,487.5 971.9,490.1 966.6,488.0"/><polygon style="fill:#E3EEF9" points="966.6,488.0 971.9,490.1 969.2,495.8 966.2,493.2"/><polygon style="fill:#7FB9DA" points="966.2,493.2 969.2,495.8 969.3,499.1 964.4,497.1"/><polygon style="fill:#E3EEF9" points="964.4,497.1 969.3,499.1 964.9,502.7 961.3,502.0"/><polygon style="fill:#E3EEF9" points="961.3,502.0 964.9,502.7 962.4,507.8 958.8,505.9"/><polygon style="fill:#BED8EC" points="958.8,505.9 962.4,507.8 961.2,512.2 956.5,511.8"/><polygon style="fill:#BED8EC" points="956.5,511.8 961.2,512.2 957.2,516.2 953.6,515.1"/><polygon style="fill:#E3EEF9" points="953.6,515.1 957.2,516.2 955.5,521.5 950.2,519.0"/><polygon style="fill:#E3EEF9" points="950.2,519.0 955.5,521.5 954.5,527.0 948.9,525.0"/><polygon style="fill:#E3EEF9" points="948.9,525.0 954.5,527.0 951.1,530.6 947.9,527.8"/><polygon style="fill:#E3EEF9" points="993.0,451.1 998.9,452.3 996.2,458.8 990.0,454.5"/><polygon style="fill:#7FB9DA" points="990.0,454.5 996.2,458.8 993.8,463.2 988.5,458.3"/><polygon style="fill:#E3EEF9" points="988.5,458.3 993.8,463.2 990.7,466.0 985.0,464.2"/><polygon style="fill:#E3EEF9" points="985.0,464.2 990.7,466.0 987.4,470.7 983.5,467.4"/><polygon style="fill:#BED8EC" points="983.5,467.4 987.4,470.7 985.7,473.6 981.0,473.7"/><polygon style="fill:#E3EEF9" points="981.0,473.7 985.7,473.6 983.6,478.5 978.5,476.7"/><polygon style="fill:#E3EEF9" points="978.5,476.7 983.6,478.5 981.7,482.8 976.7,482.8"/><polygon style="fill:#BED8EC" points="976.7,482.8 981.7,482.8 978.4,487.0 975.0,487.5"/><polygon style="fill:#BED8EC" points="975.0,487.5 978.4,487.0 976.0,492.1 971.9,490.1"/><polygon style="fill:#E3EEF9" points="971.9,490.1 976.0,492.1 972.8,497.6 969.2,495.8"/><polygon style="fill:#E3EEF9" points="969.2,495.8 972.8,497.6 972.8,501.0 969.3,499.1"/><polygon style="fill:#E3EEF9" points="969.3,499.1 972.8,501.0 969.3,505.5 964.9,502.7"/><polygon style="fill:#7FB9DA" points="964.9,502.7 969.3,505.5 967.6,509.5 962.4,507.8"/><polygon style="fill:#E3EEF9" points="962.4,507.8 967.6,509.5 965.3,516.7 961.2,512.2"/><polygon style="fill:#BED8EC" points="961.2,512.2 965.3,516.7 962.7,519.3 957.2,516.2"/><polygon style="fill:#BED8EC" points="957.2,516.2 962.7,519.3 959.9,522.3 955.5,521.5"/><polygon style="fill:#E3EEF9" points="955.5,521.5 959.9,522.3 957.9,527.5 954.5,527.0"/><polygon style="fill:#E3EEF9" points="954.5,527.0 957.9,527.5 956.9,532.2 951.1,530.6"/><polygon style="fill:#7FB9DA" points="998.9,452.3 1000.6,456.0 1000.5,459.1 996.2,458.8"/><polygon style="fill:#E3EEF9" points="996.2,458.8 1000.5,459.1 998.4,463.3 993.8,463.2"/><polygon style="fill:#E3EEF9" points="993.8,463.2 998.4,463.3 994.7,470.0 990.7,466.0"/><polygon style="fill:#BED8EC" points="990.7,466.0 994.7,470.0 993.6,474.2 987.4,470.7"/><polygon style="fill:#E3EEF9" points="987.4,470.7 993.6,474.2 990.2,477.0 985.7,473.6"/><polygon style="fill:#E3EEF9" points="985.7,473.6 990.2,477.0 987.1,482.3 983.6,478.5"/><polygon style="fill:#E3EEF9" points="983.6,478.5 987.1,482.3 985.6,487.2 981.7,482.8"/><polygon style="fill:#BED8EC" points="981.7,482.8 985.6,487.2 983.5,489.9 978.4,487.0"/><polygon style="fill:#7FB9DA" points="978.4,487.0 983.5,489.9 981.3,496.9 976.0,492.1"/><polygon style="fill:#BED8EC" points="976.0,492.1 981.3,496.9 979.3,500.9 972.8,497.6"/><polygon style="fill:#7FB9DA" points="972.8,497.6 979.3,500.9 977.0,505.1 972.8,501.0"/><polygon style="fill:#E3EEF9" points="972.8,501.0 977.0,505.1 973.5,508.2 969.3,505.5"/><polygon style="fill:#E3EEF9" points="969.3,505.5 973.5,508.2 972.1,511.6 967.6,509.5"/><polygon style="fill:#E3EEF9" points="967.6,509.5 972.1,511.6 968.6,516.2 965.3,516.7"/><polygon style="fill:#7FB9DA" points="965.3,516.7 968.6,516.2 966.3,521.9 962.7,519.3"/><polygon style="fill:#7FB9DA" points="962.7,519.3 966.3,521.9 966.0,526.6 959.9,522.3"/><polygon style="fill:#E3EEF9" points="959.9,522.3 966.0,526.6 962.9,532.4 957.9,527.5"/><polygon style="fill:#E3EEF9" points="957.9,527.5 962.9,532.4 961.4,535.3 956.9,532.2"/><polygon style="fill:#E3EEF9" points="1000.6,456.0 1006.4,456.8 1004.0,461.2 1000.5,459.1"/><polygon style="fill:#E3EEF9" points="1000.5,459.1 1004.0,461.2 1001.8,467.9 998.4,463.3"/><polygon style="fill:#7FB9DA" points="998.4,463.3 1001.8,467.9 1000.6,471.5 994.7,470.0"/><polygon style="fill:#E3EEF9" points="994.7,470.0 1000.6,471.5 997.3,476.5 993.6,474.2"/><polygon style="fill:#BED8EC" points="993.6,474.2 997.3,476.5 993.8,479.8 990.2,477.0"/><polygon style="fill:#BED8EC" points="990.2,477.0 993.8,479.8 993.3,485.6 987.1,482.3"/><polygon style="fill:#BED8EC" points="987.1,482.3 993.3,485.6 991.0,489.1 985.6,487.2"/><polygon style="fill:#BED8EC" points="985.6,487.2 991.0,489.1 986.8,493.5 983.5,489.9"/><polygon style="fill:#E3EEF9" points="983.5,489.9 986.8,493.5 984.8,498.1 981.3,496.9"/><polygon style="fill:#E3EEF9" points="981.3,496.9 984.8,498.1 984.6,502.4 979.3,500.9"/><polygon style="fill:#E3EEF9" points="979.3,500.9 984.6,502.4 980.1,507.4 977.0,505.1"/><polygon style="fill:#E3EEF9" points="977.0,505.1 980.1,507.4 979.6,510.3 973.5,508.2"/><polygon style="fill:#BED8EC" points="973.5,508.2 979.6,510.3 975.8,513.9 972.1,511.6"/><polygon style="fill:#E3EEF9" points="972.1,511.6 975.8,513.9 974.5,521.0 968.6,516.2"/><polygon style="fill:#E3EEF9" points="968.6,516.2 974.5,521.0 970.2,524.4 966.3,521.9"/><polygon style="fill:#BED8EC" points="966.3,521.9 970.2,524.4 970.2,529.5 966.0,526.6"/><polygon style="fill:#E3EEF9" points="966.0,526.6 970.2,529.5 966.4,532.9 962.9,532.4"/><polygon style="fill:#E3EEF9" points="962.9,532.4 966.4,532.9 964.2,535.7 961.4,535.3"/><polygon style="fill:#E3EEF9" points="1006.4,456.8 1012.1,461.2 1008.3,465.8 1004.0,461.2"/><polygon style="fill:#E3EEF9" points="1004.0,461.2 1008.3,465.8 1005.8,469.9 1001.8,467.9"/><polygon style="fill:#E3EEF9" points="1001.8,467.9 1005.8,469.9 1005.3,473.2 1000.6,471.5"/><polygon style="fill:#7FB9DA" points="1000.6,471.5 1005.3,473.2 1001.4,477.1 997.3,476.5"/><polygon style="fill:#BED8EC" points="997.3,476.5 1001.4,477.1 998.7,482.2 993.8,479.8"/><polygon style="fill:#7FB9DA" points="993.8,479.8 998.7,482.2 996.6,486.2 993.3,485.6"/><polygon style="fill:#E3EEF9" points="993.3,485.6 996.6,486.2 993.3,491.7 991.0,489.1"/><polygon style="fill:#E3EEF9" points="991.0,489.1 993.3,491.7 992.1,495.3 986.8,493.5"/><polygon style="fill:#E3EEF9" points="986.8,493.5 992.1,495.3 989.7,501.1 984.8,498.1"/><polygon style="fill:#E3EEF9" points="984.8,498.1 989.7,501.1 986.9,505.3 984.6,502.4"/><polygon style="fill:#BED8EC" points="984.6,502.4 986.9,505.3 985.3,508.9 980.1,507.4"/><polygon style="fill:#E3EEF9" points="980.1,507.4 985.3,508.9 983.7,512.0 979.6,510.3"/><polygon style="fill:#E3EEF9" points="979.6,510.3 983.7,512.0 980.9,516.8 975.8,513.9"/><polygon style="fill:#E3EEF9" points="975.8,513.9 980.9,516.8 976.7,522.1 974.5,521.0"/><polygon style="fill:#BED8EC" points="974.5,521.0 976.7,522.1 975.2,526.0 970.2,524.4"/><polygon style="fill:#BED8EC" points="970.2,524.4 975.2,526.0 974.1,531.3 970.2,529.5"/><polygon style="fill:#BED8EC" points="970.2,529.5 974.1,531.3 970.8,535.1 966.4,532.9"/><polygon style="fill:#BED8EC" points="966.4,532.9 970.8,535.1 968.7,540.5 964.2,535.7"/><polygon style="fill:#BED8EC" points="1012.1,461.2 1014.5,462.2 1012.9,466.1 1008.3,465.8"/><polygon style="fill:#E3EEF9" points="1008.3,465.8 1012.9,466.1 1011.6,471.8 1005.8,469.9"/><polygon style="fill:#BED8EC" points="1005.8,469.9 1011.6,471.8 1008.4,476.5 1005.3,473.2"/><polygon style="fill:#E3EEF9" points="1005.3,473.2 1008.4,476.5 1007.3,480.6 1001.4,477.1"/><polygon style="fill:#E3EEF9" points="1001.4,477.1 1007.3,480.6 1004.1,484.8 998.7,482.2"/><polygon style="fill:#E3EEF9" points="998.7,482.2 1004.1,484.8 1001.3,489.6 996.6,486.2"/><polygon style="fill:#BED8EC" points="996.6,486.2 1001.3,489.6 999.0,493.5 993.3,491.7"/><polygon style="fill:#E3EEF9" points="993.3,491.7 999.0,493.5 996.2,499.0 992.1,495.3"/><polygon style="fill:#E3EEF9" points="992.1,495.3 996.2,499.0 994.5,503.5 989.7,501.1"/><polygon style="fill:#E3EEF9" points="989.7,501.1 994.5,503.5 993.5,506.7 986.9,505.3"/><polygon style="fill:#E3EEF9" points="986.9,505.3 993.5,506.7 989.3,512.3 985.3,508.9"/><polygon style="fill:#BED8EC" points="985.3,508.9 989.3,512.3 988.7,515.1 983.7,512.0"/><polygon style="fill:#E3EEF9" points="983.7,512.0 988.7,515.1 984.2,519.3 980.9,516.8"/><polygon style="fill:#E3EEF9" points="980.9,516.8 984.2,519.3 982.0,523.2 976.7,522.1"/><polygon style="fill:#E3EEF9" points="976.7,522.1 982.0,523.2 979.1,528.7 975.2,526.0"/><polygon style="fill:#7FB9DA" points="975.2,526.0 979.1,528.7 978.2,534.6 974.1,531.3"/><polygon style="fill:#E3EEF9" points="974.1,531.3 978.2,534.6 974.5,537.7 970.8,535.1"/><polygon style="fill:#E3EEF9" points="970.8,535.1 974.5,537.7 974.2,541.4 968.7,540.5"/><polygon style="fill:#BED8EC" points="1014.5,462.2 1020.3,466.6 1016.4,470.1 1012.9,466.1"/><polygon style="fill:#BED8EC" points="1012.9,466.1 1016.4,470.1 1015.1,473.6 1011.6,471.8"/><polygon style="fill:#7FB9DA" points="1011.6,471.8 1015.1,473.6 1013.7,479.6 1008.4,476.5"/><polygon style="fill:#E3EEF9" points="1008.4,476.5 1013.7,479.6 1009.9,482.0 1007.3,480.6"/><polygon style="fill:#E3EEF9" points="1007.3,480.6 1009.9,482.0 1008.5,486.6 1004.1,484.8"/><polygon style="fill:#BED8EC" points="1004.1,484.8 1008.5,486.6 1005.4,490.6 1001.3,489.6"/><polygon style="fill:#BED8EC" points="1001.3,489.6 1005.4,490.6 1004.7,494.9 999.0,493.5"/><polygon style="fill:#7FB9DA" points="999.0,493.5 1004.7,494.9 1001.4,500.2 996.2,499.0"/><polygon style="fill:#E3EEF9" points="996.2,499.0 1001.4,500.2 997.9,503.6 994.5,503.5"/><polygon style="fill:#E3EEF9" points="994.5,503.5 997.9,503.6 996.8,509.3 993.5,506.7"/><polygon style="fill:#E3EEF9" points="993.5,506.7 996.8,509.3 992.5,514.1 989.3,512.3"/><polygon style="fill:#E3EEF9" points="989.3,512.3 992.5,514.1 991.9,519.4 988.7,515.1"/><polygon style="fill:#7FB9DA" points="988.7,515.1 991.9,519.4 988.8,521.2 984.2,519.3"/><polygon style="fill:#E3EEF9" points="984.2,519.3 988.8,521.2 985.6,526.8 982.0,523.2"/><polygon style="fill:#7FB9DA" points="982.0,523.2 985.6,526.8 984.7,529.9 979.1,528.7"/><polygon style="fill:#E3EEF9" points="979.1,528.7 984.7,529.9 981.7,536.5 978.2,534.6"/><polygon style="fill:#BED8EC" points="978.2,534.6 981.7,536.5 981.2,539.8 974.5,537.7"/><polygon style="fill:#E3EEF9" points="974.5,537.7 981.2,539.8 976.3,545.0 974.2,541.4"/><polygon style="fill:#E3EEF9" points="1020.3,466.6 1024.3,467.9 1021.6,470.1 1016.4,470.1"/><polygon style="fill:#BED8EC" points="1016.4,470.1 1021.6,470.1 1020.3,476.2 1015.1,473.6"/><polygon style="fill:#7FB9DA" points="1015.1,473.6 1020.3,476.2 1015.7,481.0 1013.7,479.6"/><polygon style="fill:#E3EEF9" points="1013.7,479.6 1015.7,481.0 1015.0,485.9 1009.9,482.0"/><polygon style="fill:#E3EEF9" points="1009.9,482.0 1015.0,485.9 1011.2,489.7 1008.5,486.6"/><polygon style="fill:#E3EEF9" points="1008.5,486.6 1011.2,489.7 1008.8,494.1 1005.4,490.6"/><polygon style="fill:#E3EEF9" points="1005.4,490.6 1008.8,494.1 1008.1,497.7 1004.7,494.9"/><polygon style="fill:#E3EEF9" points="1004.7,494.9 1008.1,497.7 1005.2,503.7 1001.4,500.2"/><polygon style="fill:#E3EEF9" points="1001.4,500.2 1005.2,503.7 1003.2,505.8 997.9,503.6"/><polygon style="fill:#E3EEF9" points="997.9,503.6 1003.2,505.8 1001.3,510.8 996.8,509.3"/><polygon style="fill:#E3EEF9" points="996.8,509.3 1001.3,510.8 998.1,514.5 992.5,514.1"/><polygon style="fill:#E3EEF9" points="992.5,514.1 998.1,514.5 995.5,518.9 991.9,519.4"/><polygon style="fill:#BED8EC" points="991.9,519.4 995.5,518.9 993.7,523.9 988.8,521.2"/><polygon style="fill:#E3EEF9" points="988.8,521.2 993.7,523.9 992.5,528.9 985.6,526.8"/><polygon style="fill:#E3EEF9" points="985.6,526.8 992.5,528.9 989.6,532.7 984.7,529.9"/><polygon style="fill:#E3EEF9" points="984.7,529.9 989.6,532.7 987.1,536.5 981.7,536.5"/><polygon style="fill:#BED8EC" points="981.7,536.5 987.1,536.5 984.5,540.8 981.2,539.8"/><polygon style="fill:#E3EEF9" points="981.2,539.8 984.5,540.8 982.7,547.2 976.3,545.0"/><polygon style="fill:#E3EEF9" points="1024.3,467.9 1028.1,469.1 1028.1,473.6 1021.6,470.1"/><polygon style="fill:#E3EEF9" points="1021.6,470.1 1028.1,473.6 1025.0,478.7 1020.3,476.2"/><polygon style="fill:#BED8EC" points="1020.3,476.2 1025.0,478.7 1021.3,483.7 1015.7,481.0"/><polygon style="fill:#E3EEF9" points="1015.7,481.0 1021.3,483.7 1019.2,487.2 1015.0,485.9"/><polygon style="fill:#E3EEF9" points="1015.0,485.9 1019.2,487.2 1016.9,493.1 1011.2,489.7"/><polygon style="fill:#E3EEF9" points="1011.2,489.7 1016.9,493.1 1013.9,496.7 1008.8,494.1"/><polygon style="fill:#E3EEF9" points="1008.8,494.1 1013.9,496.7 1012.7,501.1 1008.1,497.7"/><polygon style="fill:#E3EEF9" points="1008.1,497.7 1012.7,501.1 1010.0,504.4 1005.2,503.7"/><polygon style="fill:#BED8EC" points="1005.2,503.7 1010.0,504.4 1007.1,507.9 1003.2,505.8"/><polygon style="fill:#E3EEF9" points="1003.2,505.8 1007.1,507.9 1004.0,513.8 1001.3,510.8"/><polygon style="fill:#E3EEF9" points="1001.3,510.8 1004.0,513.8 1002.8,517.0 998.1,514.5"/><polygon style="fill:#BED8EC" points="998.1,514.5 1002.8,517.0 999.2,522.9 995.5,518.9"/><polygon style="fill:#E3EEF9" points="995.5,518.9 999.2,522.9 999.0,527.9 993.7,523.9"/><polygon style="fill:#E3EEF9" points="993.7,523.9 999.0,527.9 995.8,530.5 992.5,528.9"/><polygon style="fill:#E3EEF9" points="992.5,528.9 995.8,530.5 993.2,535.5 989.6,532.7"/><polygon style="fill:#7FB9DA" points="989.6,532.7 993.2,535.5 990.5,539.7 987.1,536.5"/><polygon style="fill:#E3EEF9" points="987.1,536.5 990.5,539.7 987.7,545.5 984.5,540.8"/><polygon style="fill:#E3EEF9" points="984.5,540.8 987.7,545.5 987.7,549.8 982.7,547.2"/><polygon style="fill:#E3EEF9" points="1028.1,469.1 1032.0,472.8 1030.6,475.8 1028.1,473.6"/><polygon style="fill:#E3EEF9" points="1028.1,473.6 1030.6,475.8 1027.5,479.8 1025.0,478.7"/><polygon style="fill:#BED8EC" points="1025.0,478.7 1027.5,479.8 1026.1,485.2 1021.3,483.7"/><polygon style="fill:#7FB9DA" points="1021.3,483.7 1026.1,485.2 1023.1,489.2 1019.2,487.2"/><polygon style="fill:#E3EEF9" points="1019.2,487.2 1023.1,489.2 1020.6,492.8 1016.9,493.1"/><polygon style="fill:#E3EEF9" points="1016.9,493.1 1020.6,492.8 1018.3,497.7 1013.9,496.7"/><polygon style="fill:#BED8EC" points="1013.9,496.7 1018.3,497.7 1016.3,501.1 1012.7,501.1"/><polygon style="fill:#E3EEF9" points="1012.7,501.1 1016.3,501.1 1014.3,506.4 1010.0,504.4"/><polygon style="fill:#E3EEF9" points="1010.0,504.4 1014.3,506.4 1012.3,511.9 1007.1,507.9"/><polygon style="fill:#7FB9DA" points="1007.1,507.9 1012.3,511.9 1010.2,516.8 1004.0,513.8"/><polygon style="fill:#E3EEF9" points="1004.0,513.8 1010.2,516.8 1007.5,521.8 1002.8,517.0"/><polygon style="fill:#BED8EC" points="1002.8,517.0 1007.5,521.8 1005.0,524.4 999.2,522.9"/><polygon style="fill:#E3EEF9" points="999.2,522.9 1005.0,524.4 1004.4,529.1 999.0,527.9"/><polygon style="fill:#BED8EC" points="999.0,527.9 1004.4,529.1 1000.7,534.4 995.8,530.5"/><polygon style="fill:#E3EEF9" points="995.8,530.5 1000.7,534.4 996.5,538.4 993.2,535.5"/><polygon style="fill:#E3EEF9" points="993.2,535.5 996.5,538.4 996.5,543.4 990.5,539.7"/><polygon style="fill:#E3EEF9" points="990.5,539.7 996.5,543.4 993.5,548.1 987.7,545.5"/><polygon style="fill:#E3EEF9" points="987.7,545.5 993.5,548.1 990.1,551.0 987.7,549.8"/><polygon style="fill:#BED8EC" points="1032.0,472.8 1037.2,475.1 1035.6,479.9 1030.6,475.8"/><polygon style="fill:#7FB9DA" points="1030.6,475.8 1035.6,479.9 1032.7,484.2 1027.5,479.8"/><polygon style="fill:#E3EEF9" points="1027.5,479.8 1032.7,484.2 1030.8,488.3 1026.1,485.2"/><polygon style="fill:#BED8EC" points="1026.1,485.2 1030.8,488.3 1028.2,490.5 1023.1,489.2"/><polygon style="fill:#E3EEF9" points="1023.1,489.2 1028.2,490.5 1025.2,495.6 1020.6,492.8"/><polygon style="fill:#E3EEF9" points="1020.6,492.8 1025.2,495.6 1022.2,501.1 1018.3,497.7"/><polygon style="fill:#E3EEF9" points="1018.3,497.7 1022.2,501.1 1021.2,505.6 1016.3,501.1"/><polygon style="fill:#E3EEF9" points="1016.3,501.1 1021.2,505.6 1019.0,510.2 1014.3,506.4"/><polygon style="fill:#E3EEF9" points="1014.3,506.4 1019.0,510.2 1017.2,512.8 1012.3,511.9"/><polygon style="fill:#7FB9DA" points="1012.3,511.9 1017.2,512.8 1014.6,519.5 1010.2,516.8"/><polygon style="fill:#E3EEF9" points="1010.2,516.8 1014.6,519.5 1011.8,523.0 1007.5,521.8"/><polygon style="fill:#E3EEF9" points="1007.5,521.8 1011.8,523.0 1010.5,526.4 1005.0,524.4"/><polygon style="fill:#BED8EC" points="1005.0,524.4 1010.5,526.4 1008.1,531.4 1004.4,529.1"/><polygon style="fill:#7FB9DA" points="1004.4,529.1 1008.1,531.4 1004.0,535.0 1000.7,534.4"/><polygon style="fill:#E3EEF9" points="1000.7,534.4 1004.0,535.0 1003.4,540.1 996.5,538.4"/><polygon style="fill:#E3EEF9" points="996.5,538.4 1003.4,540.1 1000.1,546.4 996.5,543.4"/><polygon style="fill:#7FB9DA" points="996.5,543.4 1000.1,546.4 997.9,549.1 993.5,548.1"/><polygon style="fill:#7FB9DA" points="993.5,548.1 997.9,549.1 995.1,554.2 990.1,551.0"/><polygon style="fill:#E3EEF9" points="1037.2,475.1 1042.6,477.3 1040.6,480.2 1035.6,479.9"/><polygon style="fill:#E3EEF9" points="1035.6,479.9 1040.6,480.2 1036.8,484.4 1032.7,484.2"/><polygon style="fill:#7FB9DA" points="1032.7,484.2 1036.8,484.4 1035.9,489.7 1030.8,488.3"/><polygon style="fill:#E3EEF9" points="1030.8,488.3 1035.9,489.7 1033.5,493.2 1028.2,490.5"/><polygon style="fill:#7FB9DA" points="1028.2,490.5 1033.5,493.2 1029.6,497.6 1025.2,495.6"/><polygon style="fill:#BED8EC" points="1025.2,495.6 1029.6,497.6 1028.2,503.9 1022.2,501.1"/><polygon style="fill:#BED8EC" points="1022.2,501.1 1028.2,503.9 1026.3,507.3 1021.2,505.6"/><polygon style="fill:#E3EEF9" points="1021.2,505.6 1026.3,507.3 1023.4,511.9 1019.0,510.2"/><polygon style="fill:#BED8EC" points="1019.0,510.2 1023.4,511.9 1021.4,515.4 1017.2,512.8"/><polygon style="fill:#E3EEF9" points="1017.2,512.8 1021.4,515.4 1020.0,520.6 1014.6,519.5"/><polygon style="fill:#E3EEF9" points="1014.6,519.5 1020.0,520.6 1016.9,526.9 1011.8,523.0"/><polygon style="fill:#BED8EC" points="1011.8,523.0 1016.9,526.9 1012.8,528.9 1010.5,526.4"/><polygon style="fill:#BED8EC" points="1010.5,526.4 1012.8,528.9 1011.7,535.6 1008.1,531.4"/><polygon style="fill:#E3EEF9" points="1008.1,531.4 1011.7,535.6 1009.4,537.8 1004.0,535.0"/><polygon style="fill:#E3EEF9" points="1004.0,535.0 1009.4,537.8 1005.6,543.6 1003.4,540.1"/><polygon style="fill:#E3EEF9" points="1003.4,540.1 1005.6,543.6 1003.7,547.1 1000.1,546.4"/><polygon style="fill:#E3EEF9" points="1000.1,546.4 1003.7,547.1 1001.2,551.3 997.9,549.1"/><polygon style="fill:#E3EEF9" points="997.9,549.1 1001.2,551.3 1001.4,555.8 995.1,554.2"/><polygon style="fill:#E3EEF9" points="1042.6,477.3 1047.3,479.5 1044.8,484.4 1040.6,480.2"/><polygon style="fill:#E3EEF9" points="1040.6,480.2 1044.8,484.4 1040.6,488.5 1036.8,484.4"/><polygon style="fill:#BED8EC" points="1036.8,484.4 1040.6,488.5 1040.0,491.1 1035.9,489.7"/><polygon style="fill:#BED8EC" points="1035.9,489.7 1040.0,491.1 1035.9,496.0 1033.5,493.2"/><polygon style="fill:#E3EEF9" points="1033.5,493.2 1035.9,496.0 1034.9,500.5 1029.6,497.6"/><polygon style="fill:#E3EEF9" points="1029.6,497.6 1034.9,500.5 1031.7,504.6 1028.2,503.9"/><polygon style="fill:#BED8EC" points="1028.2,503.9 1031.7,504.6 1029.2,510.5 1026.3,507.3"/><polygon style="fill:#E3EEF9" points="1026.3,507.3 1029.2,510.5 1026.1,514.3 1023.4,511.9"/><polygon style="fill:#BED8EC" points="1023.4,511.9 1026.1,514.3 1026.7,518.2 1021.4,515.4"/><polygon style="fill:#E3EEF9" points="1021.4,515.4 1026.7,518.2 1023.8,524.2 1020.0,520.6"/><polygon style="fill:#E3EEF9" points="1020.0,520.6 1023.8,524.2 1021.9,527.6 1016.9,526.9"/><polygon style="fill:#E3EEF9" points="1016.9,526.9 1021.9,527.6 1018.1,531.6 1012.8,528.9"/><polygon style="fill:#BED8EC" points="1012.8,528.9 1018.1,531.6 1017.1,537.3 1011.7,535.6"/><polygon style="fill:#E3EEF9" points="1011.7,535.6 1017.1,537.3 1013.4,540.5 1009.4,537.8"/><polygon style="fill:#E3EEF9" points="1009.4,537.8 1013.4,540.5 1011.3,543.8 1005.6,543.6"/><polygon style="fill:#E3EEF9" points="1005.6,543.6 1011.3,543.8 1007.5,549.9 1003.7,547.1"/><polygon style="fill:#E3EEF9" points="1003.7,547.1 1007.5,549.9 1005.5,554.9 1001.2,551.3"/><polygon style="fill:#BED8EC" points="1001.2,551.3 1005.5,554.9 1003.9,557.6 1001.4,555.8"/><polygon style="fill:#E3EEF9" points="1047.3,479.5 1051.3,480.6 1047.6,486.7 1044.8,484.4"/><polygon style="fill:#E3EEF9" points="1044.8,484.4 1047.6,486.7 1046.7,491.5 1040.6,488.5"/><polygon style="fill:#E3EEF9" points="1040.6,488.5 1046.7,491.5 1043.6,495.8 1040.0,491.1"/><polygon style="fill:#E3EEF9" points="1040.0,491.1 1043.6,495.8 1042.5,499.7 1035.9,496.0"/><polygon style="fill:#E3EEF9" points="1035.9,496.0 1042.5,499.7 1040.3,502.6 1034.9,500.5"/><polygon style="fill:#E3EEF9" points="1034.9,500.5 1040.3,502.6 1037.5,508.0 1031.7,504.6"/><polygon style="fill:#BED8EC" points="1031.7,504.6 1037.5,508.0 1034.9,512.9 1029.2,510.5"/><polygon style="fill:#BED8EC" points="1029.2,510.5 1034.9,512.9 1032.2,515.3 1026.1,514.3"/><polygon style="fill:#E3EEF9" points="1026.1,514.3 1032.2,515.3 1031.3,520.7 1026.7,518.2"/><polygon style="fill:#E3EEF9" points="1026.7,518.2 1031.3,520.7 1027.6,525.1 1023.8,524.2"/><polygon style="fill:#E3EEF9" points="1023.8,524.2 1027.6,525.1 1024.3,530.2 1021.9,527.6"/><polygon style="fill:#E3EEF9" points="1021.9,527.6 1024.3,530.2 1024.2,534.4 1018.1,531.6"/><polygon style="fill:#E3EEF9" points="1018.1,531.6 1024.2,534.4 1021.0,538.5 1017.1,537.3"/><polygon style="fill:#E3EEF9" points="1017.1,537.3 1021.0,538.5 1018.3,543.0 1013.4,540.5"/><polygon style="fill:#E3EEF9" points="1013.4,540.5 1018.3,543.0 1015.3,546.3 1011.3,543.8"/><polygon style="fill:#E3EEF9" points="1011.3,543.8 1015.3,546.3 1012.1,552.6 1007.5,549.9"/><polygon style="fill:#E3EEF9" points="1007.5,549.9 1012.1,552.6 1011.4,555.7 1005.5,554.9"/><polygon style="fill:#E3EEF9" points="1005.5,554.9 1011.4,555.7 1009.0,562.6 1003.9,557.6"/><polygon style="fill:#BED8EC" points="1051.3,480.6 1055.7,482.7 1052.7,486.7 1047.6,486.7"/><polygon style="fill:#E3EEF9" points="1047.6,486.7 1052.7,486.7 1050.8,491.3 1046.7,491.5"/><polygon style="fill:#BED8EC" points="1046.7,491.5 1050.8,491.3 1047.9,496.0 1043.6,495.8"/><polygon style="fill:#BED8EC" points="1043.6,495.8 1047.9,496.0 1045.6,502.4 1042.5,499.7"/><polygon style="fill:#E3EEF9" points="1042.5,499.7 1045.6,502.4 1044.3,505.9 1040.3,502.6"/><polygon style="fill:#E3EEF9" points="1040.3,502.6 1044.3,505.9 1041.0,510.1 1037.5,508.0"/><polygon style="fill:#E3EEF9" points="1037.5,508.0 1041.0,510.1 1038.8,514.0 1034.9,512.9"/><polygon style="fill:#E3EEF9" points="1034.9,512.9 1038.8,514.0 1035.7,517.9 1032.2,515.3"/><polygon style="fill:#7FB9DA" points="1032.2,515.3 1035.7,517.9 1035.8,523.1 1031.3,520.7"/><polygon style="fill:#E3EEF9" points="1031.3,520.7 1035.8,523.1 1031.7,528.2 1027.6,525.1"/><polygon style="fill:#BED8EC" points="1027.6,525.1 1031.7,528.2 1030.8,532.0 1024.3,530.2"/><polygon style="fill:#7FB9DA" points="1024.3,530.2 1030.8,532.0 1026.9,535.8 1024.2,534.4"/><polygon style="fill:#BED8EC" points="1024.2,534.4 1026.9,535.8 1024.6,540.8 1021.0,538.5"/><polygon style="fill:#BED8EC" points="1021.0,538.5 1024.6,540.8 1023.1,547.0 1018.3,543.0"/><polygon style="fill:#E3EEF9" points="1018.3,543.0 1023.1,547.0 1021.7,549.2 1015.3,546.3"/><polygon style="fill:#7FB9DA" points="1015.3,546.3 1021.7,549.2 1016.3,554.2 1012.1,552.6"/><polygon style="fill:#E3EEF9" points="1012.1,552.6 1016.3,554.2 1016.4,559.2 1011.4,555.7"/><polygon style="fill:#7FB9DA" points="1011.4,555.7 1016.4,559.2 1013.9,562.0 1009.0,562.6"/><polygon style="fill:#7FB9DA" points="1055.7,482.7 1058.9,487.0 1057.7,491.8 1052.7,486.7"/><polygon style="fill:#E3EEF9" points="1052.7,486.7 1057.7,491.8 1056.5,494.9 1050.8,491.3"/><polygon style="fill:#BED8EC" points="1050.8,491.3 1056.5,494.9 1052.2,497.9 1047.9,496.0"/><polygon style="fill:#7FB9DA" points="1047.9,496.0 1052.2,497.9 1050.2,504.2 1045.6,502.4"/><polygon style="fill:#E3EEF9" points="1045.6,502.4 1050.2,504.2 1048.8,509.3 1044.3,505.9"/><polygon style="fill:#E3EEF9" points="1044.3,505.9 1048.8,509.3 1045.7,513.4 1041.0,510.1"/><polygon style="fill:#BED8EC" points="1041.0,510.1 1045.7,513.4 1043.1,517.0 1038.8,514.0"/><polygon style="fill:#E3EEF9" points="1038.8,514.0 1043.1,517.0 1039.4,521.5 1035.7,517.9"/><polygon style="fill:#BED8EC" points="1035.7,517.9 1039.4,521.5 1037.4,526.5 1035.8,523.1"/><polygon style="fill:#E3EEF9" points="1035.8,523.1 1037.4,526.5 1036.9,529.9 1031.7,528.2"/><polygon style="fill:#BED8EC" points="1031.7,528.2 1036.9,529.9 1033.3,533.5 1030.8,532.0"/><polygon style="fill:#E3EEF9" points="1030.8,532.0 1033.3,533.5 1031.6,539.7 1026.9,535.8"/><polygon style="fill:#E3EEF9" points="1026.9,535.8 1031.6,539.7 1028.8,541.9 1024.6,540.8"/><polygon style="fill:#7FB9DA" points="1024.6,540.8 1028.8,541.9 1026.8,548.1 1023.1,547.0"/><polygon style="fill:#E3EEF9" points="1023.1,547.0 1026.8,548.1 1024.6,551.4 1021.7,549.2"/><polygon style="fill:#E3EEF9" points="1021.7,549.2 1024.6,551.4 1023.1,555.6 1016.3,554.2"/><polygon style="fill:#E3EEF9" points="1016.3,554.2 1023.1,555.6 1019.4,560.7 1016.4,559.2"/><polygon style="fill:#E3EEF9" points="1016.4,559.2 1019.4,560.7 1018.4,566.5 1013.9,562.0"/><polygon style="fill:#E3EEF9" points="1058.9,487.0 1065.1,488.8 1061.5,491.8 1057.7,491.8"/><polygon style="fill:#E3EEF9" points="1057.7,491.8 1061.5,491.8 1060.3,498.3 1056.5,494.9"/><polygon style="fill:#E3EEF9" points="1056.5,494.9 1060.3,498.3 1057.3,500.2 1052.2,497.9"/><polygon style="fill:#7FB9DA" points="1052.2,497.9 1057.3,500.2 1054.5,506.5 1050.2,504.2"/><polygon style="fill:#BED8EC" points="1050.2,504.2 1054.5,506.5 1052.5,509.8 1048.8,509.3"/><polygon style="fill:#BED8EC" points="1048.8,509.3 1052.5,509.8 1049.9,516.2 1045.7,513.4"/><polygon style="fill:#E3EEF9" points="1045.7,513.4 1049.9,516.2 1047.7,517.8 1043.1,517.0"/><polygon style="fill:#BED8EC" points="1043.1,517.0 1047.7,517.8 1045.1,523.3 1039.4,521.5"/><polygon style="fill:#E3EEF9" points="1039.4,521.5 1045.1,523.3 1043.9,527.6 1037.4,526.5"/><polygon style="fill:#E3EEF9" points="1037.4,526.5 1043.9,527.6 1041.1,533.5 1036.9,529.9"/><polygon style="fill:#BED8EC" points="1036.9,529.9 1041.1,533.5 1038.7,536.2 1033.3,533.5"/><polygon style="fill:#E3EEF9" points="1033.3,533.5 1038.7,536.2 1037.4,541.5 1031.6,539.7"/><polygon style="fill:#BED8EC" points="1031.6,539.7 1037.4,541.5 1034.8,545.5 1028.8,541.9"/><polygon style="fill:#E3EEF9" points="1028.8,541.9 1034.8,545.5 1030.3,550.5 1026.8,548.1"/><polygon style="fill:#E3EEF9" points="1026.8,548.1 1030.3,550.5 1027.8,555.5 1024.6,551.4"/><polygon style="fill:#BED8EC" points="1024.6,551.4 1027.8,555.5 1027.0,558.3 1023.1,555.6"/><polygon style="fill:#E3EEF9" points="1023.1,555.6 1027.0,558.3 1023.7,562.9 1019.4,560.7"/><polygon style="fill:#7FB9DA" points="1019.4,560.7 1023.7,562.9 1021.7,569.2 1018.4,566.5"/></g>
<clipPath id="c274_1"><polygon points="968,508.5 977.4,507.2 985.5,507.2 986.8,514.8 993,519.8 1003,519.8 1008,523.5 1008,532.2 984.9,534.1 971.8,534.1 968,531"/></clipPath>
<g clip-path="url(#c274_1)" class="g"><polygon style="fill:#7FB9DA" points="974.8,476.3 980.4,479.2 976.7,487.1 972.5,482.5"/><polygon style="fill:#1764AB" points="972.5,482.5 976.7,487.1 973.5,492.4 968.6,489.1"/><polygon style="fill:#BED8EC" points="968.6,489.1 973.5,492.4 971.7,498.4 964.1,494.8"/><polygon style="fill:#4292C6" points="964.1,494.8 971.7,498.4 968.7,503.6 960.9,500.6"/><polygon style="fill:#4292C6" points="960.9,500.6 968.7,503.6 964.1,509.3 958.3,505.8"/><polygon style="fill:#4292C6" points="958.3,505.8 964.1,509.3 962.2,516.6 955.0,514.1"/><polygon style="fill:#4292C6" points="955.0,514.1 962.2,516.6 957.9,522.6 951.9,518.2"/><polygon style="fill:#4292C6" points="951.9,518.2 957.9,522.6 955.4,528.0 949.0,526.7"/><polygon style="fill:#4292C6" points="949.0,526.7 955.4,528.0 952.5,535.5 946.4,531.3"/><polygon style="fill:#7FB9DA" points="946.4,531.3 952.5,535.5 948.1,540.5 944.6,536.9"/><polygon style="fill:#7FB9DA" points="944.6,536.9 948.1,540.5 945.2,547.6 940.8,543.4"/><polygon style="fill:#BED8EC" points="980.4,479.2 987.6,483.5 985.3,489.4 976.7,487.1"/><polygon style="fill:#4292C6" points="976.7,487.1 985.3,489.4 979.9,496.3 973.5,492.4"/><polygon style="fill:#7FB9DA" points="973.5,492.4 979.9,496.3 976.4,501.3 971.7,498.4"/><polygon style="fill:#7FB9DA" points="971.7,498.4 976.4,501.3 972.6,507.6 968.7,503.6"/><polygon style="fill:#4292C6" points="968.7,503.6 972.6,507.6 971.4,514.3 964.1,509.3"/><polygon style="fill:#BED8EC" points="964.1,509.3 971.4,514.3 968.8,519.8 962.2,516.6"/><polygon style="fill:#1764AB" points="962.2,516.6 968.8,519.8 964.8,526.3 957.9,522.6"/><polygon style="fill:#4292C6" points="957.9,522.6 964.8,526.3 961.5,531.8 955.4,528.0"/><polygon style="fill:#1764AB" points="955.4,528.0 961.5,531.8 958.3,539.3 952.5,535.5"/><polygon style="fill:#4292C6" points="952.5,535.5 958.3,539.3 954.6,544.2 948.1,540.5"/><polygon style="fill:#4292C6" points="948.1,540.5 954.6,544.2 950.3,549.7 945.2,547.6"/><polygon style="fill:#1764AB" points="987.6,483.5 992.5,488.4 990.7,492.8 985.3,489.4"/><polygon style="fill:#BED8EC" points="985.3,489.4 990.7,492.8 985.9,499.2 979.9,496.3"/><polygon style="fill:#4292C6" points="979.9,496.3 985.9,499.2 982.1,504.2 976.4,501.3"/><polygon style="fill:#4292C6" points="976.4,501.3 982.1,504.2 979.7,509.6 972.6,507.6"/><polygon style="fill:#7FB9DA" points="972.6,507.6 979.7,509.6 975.4,517.1 971.4,514.3"/><polygon style="fill:#4292C6" points="971.4,514.3 975.4,517.1 973.0,521.9 968.8,519.8"/><polygon style="fill:#4292C6" points="968.8,519.8 973.0,521.9 969.7,529.8 964.8,526.3"/><polygon style="fill:#4292C6" points="964.8,526.3 969.7,529.8 966.3,534.3 961.5,531.8"/><polygon style="fill:#7FB9DA" points="961.5,531.8 966.3,534.3 963.7,542.0 958.3,539.3"/><polygon style="fill:#4292C6" points="958.3,539.3 963.7,542.0 961.2,548.3 954.6,544.2"/><polygon style="fill:#7FB9DA" points="954.6,544.2 961.2,548.3 957.2,552.5 950.3,549.7"/><polygon style="fill:#4292C6" points="992.5,488.4 997.9,490.9 997.2,495.9 990.7,492.8"/><polygon style="fill:#4292C6" points="990.7,492.8 997.2,495.9 992.0,501.1 985.9,499.2"/><polygon style="fill:#4292C6" points="985.9,499.2 992.0,501.1 988.6,507.8 982.1,504.2"/><polygon style="fill:#7FB9DA" points="982.1,504.2 988.6,507.8 986.5,513.7 979.7,509.6"/><polygon style="fill:#7FB9DA" points="979.7,509.6 986.5,513.7 981.7,519.3 975.4,517.1"/><polygon style="fill:#4292C6" points="975.4,517.1 981.7,519.3 979.2,526.2 973.0,521.9"/><polygon style="fill:#1764AB" points="973.0,521.9 979.2,526.2 977.3,533.2 969.7,529.8"/><polygon style="fill:#7FB9DA" points="969.7,529.8 977.3,533.2 973.1,538.5 966.3,534.3"/><polygon style="fill:#1764AB" points="966.3,534.3 973.1,538.5 971.1,543.3 963.7,542.0"/><polygon style="fill:#4292C6" points="963.7,542.0 971.1,543.3 967.5,551.4 961.2,548.3"/><polygon style="fill:#4292C6" points="961.2,548.3 967.5,551.4 964.2,557.4 957.2,552.5"/><polygon style="fill:#4292C6" points="997.9,490.9 1004.7,492.9 1000.4,499.1 997.2,495.9"/><polygon style="fill:#7FB9DA" points="997.2,495.9 1000.4,499.1 997.9,503.7 992.0,501.1"/><polygon style="fill:#4292C6" points="992.0,501.1 997.9,503.7 994.9,510.1 988.6,507.8"/><polygon style="fill:#4292C6" points="988.6,507.8 994.9,510.1 992.2,516.0 986.5,513.7"/><polygon style="fill:#4292C6" points="986.5,513.7 992.2,516.0 988.0,521.8 981.7,519.3"/><polygon style="fill:#BED8EC" points="981.7,519.3 988.0,521.8 984.8,528.5 979.2,526.2"/><polygon style="fill:#BED8EC" points="979.2,526.2 984.8,528.5 980.8,535.7 977.3,533.2"/><polygon style="fill:#4292C6" points="977.3,533.2 980.8,535.7 980.0,540.6 973.1,538.5"/><polygon style="fill:#4292C6" points="973.1,538.5 980.0,540.6 975.6,546.7 971.1,543.3"/><polygon style="fill:#BED8EC" points="971.1,543.3 975.6,546.7 973.0,552.3 967.5,551.4"/><polygon style="fill:#7FB9DA" points="967.5,551.4 973.0,552.3 969.9,561.1 964.2,557.4"/><polygon style="fill:#7FB9DA" points="1004.7,492.9 1010.7,496.4 1007.1,501.0 1000.4,499.1"/><polygon style="fill:#4292C6" points="1000.4,499.1 1007.1,501.0 1004.3,507.7 997.9,503.7"/><polygon style="fill:#4292C6" points="997.9,503.7 1004.3,507.7 1002.5,514.1 994.9,510.1"/><polygon style="fill:#7FB9DA" points="994.9,510.1 1002.5,514.1 996.3,521.0 992.2,516.0"/><polygon style="fill:#4292C6" points="992.2,516.0 996.3,521.0 995.4,525.7 988.0,521.8"/><polygon style="fill:#4292C6" points="988.0,521.8 995.4,525.7 992.4,531.4 984.8,528.5"/><polygon style="fill:#1764AB" points="984.8,528.5 992.4,531.4 987.9,539.8 980.8,535.7"/><polygon style="fill:#7FB9DA" points="980.8,535.7 987.9,539.8 985.9,545.5 980.0,540.6"/><polygon style="fill:#BED8EC" points="980.0,540.6 985.9,545.5 981.6,549.9 975.6,546.7"/><polygon style="fill:#4292C6" points="975.6,546.7 981.6,549.9 977.7,556.8 973.0,552.3"/><polygon style="fill:#BED8EC" points="973.0,552.3 977.7,556.8 975.4,563.3 969.9,561.1"/><polygon style="fill:#4292C6" points="1010.7,496.4 1016.7,498.8 1013.7,507.3 1007.1,501.0"/><polygon style="fill:#BED8EC" points="1007.1,501.0 1013.7,507.3 1010.9,512.9 1004.3,507.7"/><polygon style="fill:#4292C6" points="1004.3,507.7 1010.9,512.9 1007.7,518.7 1002.5,514.1"/><polygon style="fill:#4292C6" points="1002.5,514.1 1007.7,518.7 1003.3,523.4 996.3,521.0"/><polygon style="fill:#7FB9DA" points="996.3,521.0 1003.3,523.4 1001.1,528.4 995.4,525.7"/><polygon style="fill:#1764AB" points="995.4,525.7 1001.1,528.4 996.8,534.6 992.4,531.4"/><polygon style="fill:#4292C6" points="992.4,531.4 996.8,534.6 993.6,541.9 987.9,539.8"/><polygon style="fill:#4292C6" points="987.9,539.8 993.6,541.9 992.5,548.2 985.9,545.5"/><polygon style="fill:#7FB9DA" points="985.9,545.5 992.5,548.2 988.5,555.5 981.6,549.9"/><polygon style="fill:#4292C6" points="981.6,549.9 988.5,555.5 986.2,560.0 977.7,556.8"/><polygon style="fill:#4292C6" points="977.7,556.8 986.2,560.0 981.3,564.7 975.4,563.3"/><polygon style="fill:#4292C6" points="1016.7,498.8 1022.4,501.8 1019.4,510.1 1013.7,507.3"/><polygon style="fill:#4292C6" points="1013.7,507.3 1019.4,510.1 1017.3,515.3 1010.9,512.9"/><polygon style="fill:#4292C6" points="1010.9,512.9 1017.3,515.3 1013.2,521.9 1007.7,518.7"/><polygon style="fill:#4292C6" points="1007.7,518.7 1013.2,521.9 1008.8,526.8 1003.3,523.4"/><polygon style="fill:#4292C6" points="1003.3,523.4 1008.8,526.8 1007.5,534.2 1001.1,528.4"/><polygon style="fill:#7FB9DA" points="1001.1,528.4 1007.5,534.2 1004.3,539.2 996.8,534.6"/><polygon style="fill:#4292C6" points="996.8,534.6 1004.3,539.2 999.3,545.2 993.6,541.9"/><polygon style="fill:#7FB9DA" points="993.6,541.9 999.3,545.2 996.5,551.5 992.5,548.2"/><polygon style="fill:#4292C6" points="992.5,548.2 996.5,551.5 995.4,557.3 988.5,555.5"/><polygon style="fill:#4292C6" points="988.5,555.5 995.4,557.3 990.0,563.9 986.2,560.0"/><polygon style="fill:#4292C6" points="986.2,560.0 990.0,563.9 988.7,568.4 981.3,564.7"/><polygon style="fill:#4292C6" points="1022.4,501.8 1028.3,504.8 1026.2,513.4 1019.4,510.1"/><polygon style="fill:#4292C6" points="1019.4,510.1 1026.2,513.4 1021.1,518.5 1017.3,515.3"/><polygon style="fill:#7FB9DA" points="1017.3,515.3 1021.1,518.5 1020.2,525.1 1013.2,521.9"/><polygon style="fill:#7FB9DA" points="1013.2,521.9 1020.2,525.1 1015.6,530.0 1008.8,526.8"/><polygon style="fill:#4292C6" points="1008.8,526.8 1015.6,530.0 1012.6,534.4 1007.5,534.2"/><polygon style="fill:#4292C6" points="1007.5,534.2 1012.6,534.4 1010.6,543.1 1004.3,539.2"/><polygon style="fill:#1764AB" points="1004.3,539.2 1010.6,543.1 1006.0,549.2 999.3,545.2"/><polygon style="fill:#4292C6" points="999.3,545.2 1006.0,549.2 1002.6,555.0 996.5,551.5"/><polygon style="fill:#BED8EC" points="996.5,551.5 1002.6,555.0 1001.3,559.9 995.4,557.3"/><polygon style="fill:#4292C6" points="995.4,557.3 1001.3,559.9 996.5,565.3 990.0,563.9"/><polygon style="fill:#4292C6" points="990.0,563.9 996.5,565.3 992.9,572.0 988.7,568.4"/><polygon style="fill:#BED8EC" points="1028.3,504.8 1034.3,508.8 1030.2,515.8 1026.2,513.4"/><polygon style="fill:#4292C6" points="1026.2,513.4 1030.2,515.8 1028.1,521.0 1021.1,518.5"/><polygon style="fill:#7FB9DA" points="1021.1,518.5 1028.1,521.0 1024.9,528.4 1020.2,525.1"/><polygon style="fill:#7FB9DA" points="1020.2,525.1 1024.9,528.4 1021.3,534.2 1015.6,530.0"/><polygon style="fill:#1764AB" points="1015.6,530.0 1021.3,534.2 1018.8,539.4 1012.6,534.4"/><polygon style="fill:#4292C6" points="1012.6,534.4 1018.8,539.4 1016.3,544.2 1010.6,543.1"/><polygon style="fill:#BED8EC" points="1010.6,543.1 1016.3,544.2 1012.7,550.5 1006.0,549.2"/><polygon style="fill:#7FB9DA" points="1006.0,549.2 1012.7,550.5 1007.7,557.4 1002.6,555.0"/><polygon style="fill:#7FB9DA" points="1002.6,555.0 1007.7,557.4 1005.3,562.8 1001.3,559.9"/><polygon style="fill:#4292C6" points="1001.3,559.9 1005.3,562.8 1003.4,569.8 996.5,565.3"/><polygon style="fill:#4292C6" points="996.5,565.3 1003.4,569.8 999.2,575.2 992.9,572.0"/><polygon style="fill:#4292C6" points="1034.3,508.8 1040.6,513.3 1036.6,518.1 1030.2,515.8"/><polygon style="fill:#4292C6" points="1030.2,515.8 1036.6,518.1 1034.1,523.6 1028.1,521.0"/><polygon style="fill:#4292C6" points="1028.1,521.0 1034.1,523.6 1031.9,530.9 1024.9,528.4"/><polygon style="fill:#7FB9DA" points="1024.9,528.4 1031.9,530.9 1027.9,537.2 1021.3,534.2"/><polygon style="fill:#4292C6" points="1021.3,534.2 1027.9,537.2 1025.9,542.9 1018.8,539.4"/><polygon style="fill:#4292C6" points="1018.8,539.4 1025.9,542.9 1021.9,548.7 1016.3,544.2"/><polygon style="fill:#4292C6" points="1016.3,544.2 1021.9,548.7 1018.2,555.0 1012.7,550.5"/><polygon style="fill:#BED8EC" points="1012.7,550.5 1018.2,555.0 1015.1,560.5 1007.7,557.4"/><polygon style="fill:#BED8EC" points="1007.7,557.4 1015.1,560.5 1011.4,567.6 1005.3,562.8"/><polygon style="fill:#7FB9DA" points="1005.3,562.8 1011.4,567.6 1008.9,573.7 1003.4,569.8"/><polygon style="fill:#4292C6" points="1003.4,569.8 1008.9,573.7 1007.1,578.5 999.2,575.2"/></g>
<polygon class="w" points="1122,378.1 1124.5,376.2 1125.8,378.1 1123.2,380"/>
<polygon class="l" points="811.8,327.5 805.2,330 796.8,331.7 790.2,334.2 786,338.3 786,345 782.7,347.5 781.8,354.2 778.5,358.3 773.5,359.2 771,363.3 771.8,371.7 767.7,374.2 771.8,375.8 771,381.7 766.8,388.3 763.5,391.7 760.2,400 759.3,404.2 754.3,405 750.2,414.2 748.5,420 744.3,424.2 741,428.3 739.3,432.5 734.3,433.7 735.2,437.5 727.7,463.3 720.2,486.7 713.5,502.5 712.7,506.7 715.2,510.8 716,519.2 713.5,522.5 705.2,526.7 702.7,535 697.7,547.5 698.5,550.8 702.7,551.7 703.5,555.8 701.8,558.3 701.8,568.3 706,569.2 697.7,570 698,598.3 702.7,602.5 741,611.7 747.7,611.7 766,605 765.2,598 712.7,598 712.7,589.2 754.3,588.7 754,575 751.8,574.7 751.3,577.5 712.7,577.5 712.7,568.3 742.7,568 747.3,565.8 747.3,557.5 745.2,556.3 712.7,556.3 712.7,548 745.2,547.5 745.7,537.5 741.8,536.7 741.8,527.5 743.5,525 753.5,524.2 755.2,520 755.1,518.8 753.2,512.5 750.1,507.5 750.8,501.2 747,493.8 742,490 735.1,483.1 738.9,479.8 746.4,484.4 753.9,476.9 757,479.4 750.8,487.5 754.5,491.9 755.1,495 757,498.1 761.4,501.2 762,503.8 772,508.1 775.8,513.1 774.5,513.1 785.8,505.6 779.5,497.5 777.6,490.6 783.9,489.8 785.8,495.6 791.4,502.5 797,500.6 795.1,488.1 796.4,487.5 798.2,496.9 798.9,498.8 810.8,497.5 811,490 813.2,488.1 815.1,490 817,495 818.9,498.1 820.1,494.4 822,493.8 823.9,496.2 830.1,493.8 830.8,488.1 832.6,486.9 838.9,488.1 847.6,498.1 854.5,497.5 864.5,498.8 873.2,500.6 875.1,496.9 876.4,501.2 880.8,502.5 887,501.9 892,500 895.8,498.8 897.6,502.5 900.8,506.2 896.4,509.4 897.1,510.6 900.5,512.4 907.1,516.5 912.1,519.4 910.1,525 905.1,523.1 891.4,516.2 886.4,518.1 884.2,523.5 908.2,538.5 910.8,538.1 917,525 929.5,533.1 920.1,549.4 927.6,556 930.1,555 939.5,537.5 944.5,538.8 947.6,535 949.5,540 954.5,543.8 958.2,545 959.5,542.5 962,541.2 964.5,542.5 967,546.2 972,545 977,547.5 978.2,543.8 981.4,543.8 984.5,542.5 990.8,540 999.5,541.2 1003.2,543.1 1007,546.2 1008.2,542.5 1011.4,547.5 1013.9,548.1 1013.5,542.5 1014.3,538.3 1016.8,541.7 1021.8,540.8 1026,543.3 1026.8,540 1029.3,537.5 1034.3,534.2 1039.3,528.3 1041.8,524.2 1046.8,523.3 1051.8,520 1056,515.8 1062.7,512.5 1067.7,508.3 1076,503.3 1089.3,499.2 1102.7,495 1106,495 1122.7,490 1139.3,485 1156,480 1164.3,478.3 1172.7,477.5 1183.5,478.3 1184.3,483.3 1191,480.8 1196,481.7 1201.8,484.7 1210.2,484.7 1219.3,480 1224.3,478.3 1232.7,477.5 1233.5,472.5 1240.2,472.5 1241,478 1247.7,477.5 1246,473.3 1245.2,466.7 1229.3,467.5 1234.3,456.7 1234.3,456.7 1239.3,443.3 1244.3,428.3 1246,424.2 1251,427.5 1256,431.7 1256.8,435.8 1259.3,435.8 1258.5,430 1254.3,426.7 1247.7,423.3 1239.3,417.5 1229.3,412.5 1221,409.2 1211.8,410 1211,407.5 1215.2,405 1212.7,401.7 1207.7,392.5 1204.3,385.8 1199.3,382.5 1191,380 1181,379.2 1172.7,380.8 1169.3,384.2 1164.3,390.8 1161,395 1149.3,395.8 1139.3,393.3 1130.2,386.7 1131,381.7 1130,380 1127,376.9 1124.5,378.8 1123.2,376.9 1124.5,373.8 1119.5,368.8 1115.1,368.8 1114.5,365 1105.8,356.2 1100.1,351.2 1097,348.1 1093.2,346.9 1092,342.5 1085.1,343.1 1078.9,345 1073.9,348.1 1073.2,345.6 1068.2,341.2 1062,338.1 1058.2,337.5 1052,332.5 1048.2,329.8 1044.5,330 1038.2,333.1 1037,333.8 1030.1,339.6 1022,338.1 1030.1,329.4 1031.4,325.6 1035.8,325 1040.5,322.5 1040.1,318.1 1033.2,310.6 1027,303.8 1023.2,303.8 1022,300.6 1017.6,298.1 1012,294.4 1008.2,294.4 1000.1,288.8 993.2,288.1 991.4,288.8 985.1,284 981.4,283.5 978.9,290 977,288.1 975.8,282.5 973.2,281.2 972.7,280.7 966,280.3 956.8,280.8 947.7,283 937.7,289.2 929.3,295 922.7,300.8 913.5,306.7 909.3,309.2 908.5,304.2 907.7,307.5 904.3,313.7 897.7,314.2 886,313.7 876,311.7 873.5,312.5 874.3,312.5 873.5,320 871,322.5 866.8,321.7 868.5,317.5 865.2,314.2 860.2,309.7 856.8,305.8 846,305.3 836,307.2 827.7,311.7 819.3,320 811.8,327.5"/>
<polygon class="l" points="759.3,532.5 766.8,528.3 769.3,530.8 786,520 802.7,510.8 815.2,510 808.5,520 802.7,526.7 800.2,530 804.3,531.7 808.5,526.7 812.7,526.7 814.3,521.7 819.3,515.8 827.7,508.3 833.5,507.5 842.7,508.3 850.2,510.8 853.5,516.7 859.3,522.5 866,525.8 870.2,530 869.3,535 861,536.7 852.7,535 850.2,537.5 859.3,538.3 861,543.3 857.7,547.5 848.5,550.8 841.8,545 832.7,539.2 826.8,540 826,544.2 836.8,549.2 836.8,552.5 811,561.7 808.5,551.7 806,544.2 800.2,539.2 795.2,545 801,551.7 805.2,566.7 806.8,573.3 805.2,577.5 796,584.2 787.7,595 782.7,596.7 780.2,590 784.3,591.7 786.8,588.3 784.3,583.3 778.5,582.5 769.3,565 759.3,538.3"/>
<polygon class="l" points="869.5,582.5 873.7,578.3 878.7,577.5 885.3,580.8 890.3,580.8 894.5,575.8 898.7,574.2 903.7,575.8 912,583.3 917.8,589.2 920.3,595 915.3,594.2 910.3,591.7 907.8,593.3 900.3,594.2 893.7,591.7 887,588.3 878.7,586.7 871.2,585.8"/>
<polygon class="l" points="878.7,590.8 882.8,589.7 887.8,593.3 887.8,595.8 883.7,595 881.2,597 878.7,594.2"/>
<polygon class="l" points="827.7,604.3 828.2,604.3 828.2,604.8 827.7,604.8"/>
<polygon class="l" points="827.8,619.2 837,610.8 846.2,608.8 851.2,609.5 852.8,613.3 855.3,611.3 857.8,615.8 862,621.3 853.7,622.5 834.5,621.7"/>
<polygon class="l" points="893.7,604.2 895.3,608.3 897.8,609.2 898.7,614.2 902,616.7 908.7,614.2 917,612.5 922.8,613.3 924,620 923.3,625.8 917,630 915.3,636.7 907,640.8 902,638.3 897,632.5 899.5,626.7 898.7,623.3 894.5,620.8 892.8,615 894,610"/>
<polygon class="l" points="930,606 930.7,606 930.7,606.7 930,606.7"/>
<polygon class="l" points="937,612.5 939.5,611.7 945.3,617.5 949.5,623.3 948.7,625.3 943.7,623.3 937.8,617.5"/>
<polygon class="l" points="841.2,642.5 847,640.8 849.5,636.7 853.7,635.8 858.7,636.7 860.3,641.7 856.2,645 851.2,647.5 846.2,650.8 842.8,650.8"/>
<polygon class="l" points="865.3,638.5 866,638.5 866,639.2 865.3,639.2"/>
<polygon class="l" points="855,660 860.3,655.8 872,657.5 871.2,668.3 862.8,668.3 859.5,662.5"/>
<polygon class="l" points="872.7,671 873.2,671 873.2,671.7 872.7,671.7"/>
<polygon class="l" points="871.2,676.7 871.8,676.7 871.8,677.7 871.2,677.7"/>
<polygon class="l" points="987.8,604.2 991.2,605 994.5,607.5 992,610 988.7,607.5"/>
<polygon class="l" points="1109.3,340 1118.5,335 1126,335.8 1136,339.2 1142.7,345 1149.3,346.7 1164.3,345.8 1169.3,347.5 1184.3,346.7 1186.8,345.3 1197.7,345.8 1202.7,350 1205.2,354.2 1207.7,363.3 1207.7,367.5 1199.3,366.7 1186,367.5 1176,366.7 1169.3,367.5 1159.3,370 1151,371.7 1147.7,369.2 1145.2,372.5 1142.7,371.7 1132.7,363.3 1131.8,360.8 1136,360 1133.5,357.5 1119.3,348.3 1112.7,346.7 1110.2,343.3"/>
<polygon class="l" points="1215.2,340 1221,334.2 1229.3,326.7 1237.7,321.7 1251,318.7 1258.5,318.3 1261.8,320.8 1262.7,325 1271,328.3 1276,330.8 1286,333.3 1294.3,335.8 1301,340.8 1307.7,347.5 1311.8,355 1313.5,361.7 1317.7,364.2 1317.3,375 1313.5,383.3 1307.7,393.3 1303.5,401.7 1300.2,413.3 1299.3,423.3 1301.8,431.7 1307.7,440.8 1312.7,445.8 1311.8,449.2 1306.8,449.2 1297.7,441.7 1281,427.5 1264.3,414.2 1249.3,401.7 1237.7,390.8 1229.3,382.5 1225.2,375 1223.5,369.2 1225.2,367.5 1237.7,367.5 1241.8,365.8 1242.7,357.5 1240.2,354.7 1237.7,357.5 1233.5,359.2 1222.7,359.2 1218.5,354.2 1216,348.3"/>
<polygon class="l" points="978.9,551.2 984.5,546.9 994.5,543.8 998.2,547.5 1002.6,551.2 1000.8,553.8 995.8,555 989.5,553.8 982,553.8"/>
<polygon class="l" points="1004.3,576.7 1011.8,569.2 1016.8,568.3 1018.5,572.5 1018.5,575.8 1013.5,573.3 1010.2,575 1006,578.3"/>
<polygon class="l" points="991.8,581.7 996,581.3 999.3,586.7 998.5,590.8 994.3,588.3"/>
<polygon class="l" points="1006,585 1011,586.7 1021.8,585 1021,588.3 1013.5,590.8 1011,588.3 1006.8,590"/>
<polygon class="l" points="1014.3,596.7 1019.3,592.5 1026,593.3 1028.5,597.5 1022.7,601.7 1017.7,600.8"/>
<polygon class="l" points="1003.5,597.5 1007.7,596.7 1013.5,603.3 1014.3,609.2 1010.2,608.3 1005.2,601.7"/>
<polygon class="l" points="987.7,604.2 991.8,605 994.3,608.3 991,610"/>
<polygon class="l" points="799.1,327.4 799.5,327.4 799.5,327.8 799.1,327.8"/>
<polygon class="l" points="1131.4,360.6 1137,359.4 1140.1,363.1 1145.8,365 1145.1,373.1 1139.5,368.8 1134.5,363.8"/>
<polygon class="l" points="986.8,524.1 989.9,522.2 993.6,521 996.8,524.1 994.2,526.6 992.4,527.9 989.2,526"/>
<polygon class="l" points="984.9,534.1 988,532.9 1005.5,532.6 1008,534.1 1008.6,536 984.9,536"/>
<polygon class="l" points="1001.1,490.4 1003.6,487.9 1006.1,487.2 1006.1,492.2 1004.2,495.4 1002.1,493.5"/>
<polygon class="l" points="1009.2,501.6 1011.8,502.2 1012.4,504.1 1010.5,505.4"/>
<polygon class="l" points="927.2,509 932.2,510.7 938,514.8 944.7,518.2 949.7,519.8 950.1,524.8 946.3,523.2 942.2,522.3 939.7,524 938,521.5 931.3,520.7 931.3,517.3 928,514.8 926.8,511.5"/>
<polygon class="l" points="987.2,524 993,521.1 997.2,524 993,527.3"/>
<polygon class="l" points="959.7,542.3 962.2,540.7 965.5,542.3 964.7,545.7 961.3,546.1"/>
<polygon class="l" points="1286.3,325 1286.8,325 1286.8,325.5 1286.3,325.5"/>
<polygon class="l" points="1310.8,469.5 1311.3,469.5 1311.3,470 1310.8,470"/>
<polygon class="l" points="1294.8,509.5 1295.3,509.5 1295.3,510 1294.8,510"/>
<polygon class="e" style="fill:#E3EEF9;stroke:#E3EEF9" points="955.8,549.4 959.5,548.8 967,550 972,551.2 978.2,553.1 984.5,553.8 990.8,556.2 997,558.1 1003.2,557.5 1009.5,558.1 1009.5,562.5 1002,570 995.8,576.2 989.5,578.1 984.5,573.8 978.2,567.5 972,561.2 968.2,560 968.2,563.1 964.5,562.5 965.8,560 959.5,554.4"/>
<polygon class="e" style="fill:#E3EEF9;stroke:#E3EEF9" points="811.8,327.5 819.3,320 827.7,311.7 836,307.2 846,305.3 856.8,305.8 860.2,309.7 865.2,314.2 868.5,317.5 866.8,321.7 871,322.5 873.5,320 874,328.1 874,335 872.1,339.4 870,342.5 855.2,356.2 842.8,356.5 839,352.5 832.8,354.4 824,354.4 819.6,346.9 817.1,341.9 814.6,337.5"/>
<polygon class="e" style="fill:#E3EEF9;stroke:#E3EEF9" points="887.5,342.3 894,340.6 900.2,336.9 907.9,331.6 909.3,335.6 910.2,345 910.2,356.9 900.2,356.2 894,355 889.3,355"/>
<polygon class="e" style="fill:#7FB9DA;stroke:#7FB9DA" points="904,318.1 904.3,313.7 908,310.6 918.4,303.5 919.8,306.7 917.8,314.1 912.8,317.2 907.3,319.2"/>
<polygon class="e" style="fill:#7FB9DA;stroke:#7FB9DA" points="923.4,303.1 935.2,293.8 938.2,294.6 941.9,299.5 935.7,304.1 925.8,304.7"/>
<polygon class="e" style="fill:#1764AB;stroke:#1764AB" points="907.3,319.2 912.8,317.2 917.8,314.1 920.2,316.9 922.8,321.2 925.2,325.6 922.2,328.1 914,329.1 907.9,331.6 907.6,325"/>
<polygon class="e" style="fill:#4292C6;stroke:#4292C6" points="907.9,331.6 914,329.1 922.2,328.1 931.6,327.2 930.2,336.2 920.2,337.8 910.9,342.8 909.3,335.6"/>
<polygon class="e" style="fill:#4292C6;stroke:#4292C6" points="929.2,317.1 937.1,313.1 939.9,316.2 941.8,321.2 941.7,327.5 931.6,327.2 932.5,321.9"/>
<polygon class="e" style="fill:#1764AB;stroke:#1764AB" points="939.6,313.1 949,308.8 955.2,310.3 961.8,314.6 962.8,316.9 962.8,320 954.3,328.4 941.7,327.5 941.8,321.2 939.9,316.2"/>
<polygon class="e" style="fill:#4292C6;stroke:#4292C6" points="931.6,327.2 941.7,327.5 954.3,328.4 950.1,333.1 942.9,341.4 937.8,339.1 930.2,336.2"/>
<polygon class="e" style="fill:#4292C6;stroke:#4292C6" points="876.7,364.2 881.5,365 886.3,365.8 886.3,375.2 881.5,375.3 875.2,373.5 875.2,368.8"/>
<polygon class="e" style="fill:#4292C6;stroke:#4292C6" points="875.2,373.5 881.5,375.3 886.3,375.2 886.9,384.2 880.2,384.3 874.9,385.8 871.5,386.9 870.5,382.5 872.8,377.5"/>
<polygon class="e" style="fill:#7FB9DA;stroke:#7FB9DA" points="961,290.8 967,289.1 970.8,290.3 974.5,294.4 976.7,296.9 973.2,301.2 972,305.9 967.3,307 964.5,309.1 962.6,306.2 962,298.8"/>
<polygon class="e" style="fill:#7FB9DA;stroke:#7FB9DA" points="973.2,301.2 976.7,296.9 982.6,295.6 986.3,298.6 987.3,303.8 982.3,307.8 978.9,312.3 975.8,307.8"/>
<polygon class="e" style="fill:#E3EEF9;stroke:#E3EEF9" points="984,297.7 990.1,295.3 993.9,291.2 1000.1,288.8 1006.4,294.8 999.5,299.1 992,304.1 988.9,302.5"/>
<polygon class="e" style="fill:#4292C6;stroke:#4292C6" points="964.5,309.1 967.3,307 972,305.9 975.8,307.8 978.9,312.3 973.2,315.6 970.5,317.2 962,312.4"/>
<polygon class="e" style="fill:#BED8EC;stroke:#BED8EC" points="982.3,307.8 987.3,303.8 991.4,308.1 993.2,312.5 989.8,317.5 983.8,314.6"/>
<polygon class="e" style="fill:#BED8EC;stroke:#BED8EC" points="973.2,318.1 978.9,312.3 982.6,312.5 985.8,318.1 984.5,323.1 980.1,324.4 977,323.8"/>
<polygon class="e" style="fill:#4292C6;stroke:#4292C6" points="988.9,318.1 994.5,314.4 999.5,318.1 1004.5,323.8 1001.4,328.2 997.9,331.2 993.2,331.2 992,325"/>
<polygon class="e" style="fill:#1764AB;stroke:#1764AB" points="982,325.6 987,320.6 989.5,323.8 992.9,329.7 991.6,341.9 987,340.9 982.3,337.8 982,332.5"/>
<polygon class="e" style="fill:#BED8EC;stroke:#BED8EC" points="991.5,333.1 996.4,331.2 998.5,335 997.9,339.7 993.4,341.3"/>
<polygon class="e" style="fill:#1764AB;stroke:#1764AB" points="997.9,331.2 1003.6,324.7 1010.8,331.2 1016.4,336.9 1012.3,342.8 1007,346.5 1004.4,341.9 1004.8,339.4 1001.4,334.4"/>
<polygon class="e" style="fill:#1764AB;stroke:#1764AB" points="991.6,341.9 997.9,339.7 1002.2,335.6 1004.8,339.4 1003.9,345 999.8,347.2 998.5,351.5 995.5,355.3 987.8,356.9 989.8,350"/>
<polygon class="e" style="fill:#7FB9DA;stroke:#7FB9DA" points="979.5,339.7 982.3,337.8 987,340.9 991.6,341.9 989.8,350 987.8,356.9 981.4,355.3 978.2,352.5 979.5,345"/>
<polygon class="e" style="fill:#BED8EC;stroke:#BED8EC" points="987.8,356.9 995.5,355.3 998.5,351.5 999.8,347.2 1007,346.5 1012.3,342.8 1017.6,338.1 1022,338.1 1028.2,342.5 1027.6,346.2 1025.1,350 1025.1,357.5 1021.4,362.5 1017,366.2 1019,369.1 1016.5,374.1 1007,375.3 999.7,376.6 990.9,379 985.5,373.8 982.3,368.8 982.9,363.1 985.1,359.4"/>
<polygon class="e" style="fill:#E3EEF9;stroke:#E3EEF9" points="956.8,355 960.1,351.9 967,353.8 975.8,354.4 974.8,359.7 972,364.1 969.2,368.8 970.1,375.4 965.8,374.4 962,366.9"/>
<polygon class="e" style="fill:#BED8EC;stroke:#BED8EC" points="975.5,355.9 981.4,355.3 985.1,359.4 982.9,363.1 982.3,368.8 985.5,373.8 987,377.5 979.6,379.7 971.9,379.8 970.1,375.4 969.2,368.8 972,364.1 974.8,359.7"/>
<polygon class="e" style="fill:#E3EEF9;stroke:#E3EEF9" points="1035.7,365 1035.5,362.2 1041.5,357.9 1044.3,351.1 1046.7,348 1055.8,349 1061.4,351.5 1070.1,352.8 1070.2,358.2 1064.3,364.6 1059.8,366.9 1049.5,367.5 1036,368.6"/>
<polygon class="e" style="fill:#E3EEF9;stroke:#E3EEF9" points="1075.1,351.2 1078.9,345 1085.1,343.1 1092,342.5 1093.2,346.9 1090.8,350 1088.9,355 1088.5,359.7 1086,360.6 1081.4,357.2 1077,354.7"/>
<polygon class="e" style="fill:#BED8EC;stroke:#BED8EC" points="1069.5,359.4 1072,355 1077,354.7 1081.4,357.2 1086,360.6 1083.5,365.3 1078.2,362.8 1072,362.6"/>
<polygon class="e" style="fill:#4292C6;stroke:#4292C6" points="1086,360.6 1088.5,359.7 1103.2,371.2 1101.4,375.6 1098.2,378.5 1083.7,368.1"/>
<polygon class="e" style="fill:#1764AB;stroke:#1764AB" points="1083.7,368.1 1098.2,378.5 1095.8,385 1094.5,387.2 1080.3,374.4"/>
<polygon class="e" style="fill:#4292C6;stroke:#4292C6" points="1059.8,366.9 1064.6,362.9 1069.5,362.5 1078.2,362.8 1083.5,365.3 1083.7,368.1 1080.3,374.4 1074.5,370 1068.2,368.5 1062,369.1"/>
<polygon class="e" style="fill:#1764AB;stroke:#1764AB" points="1037.1,370.1 1057,369.4 1058.9,370.3 1057.9,375 1055.5,378.8 1052,380 1052.2,384.5 1044.5,385.6 1037,383.1"/>
<polygon class="e" style="fill:#4292C6;stroke:#4292C6" points="1058.9,370.3 1062,369.1 1068.2,368.5 1069.5,370.6 1067.7,376.5 1066.5,385.4 1062.1,386 1055.8,381.2 1055.5,378.8 1057.9,375"/>
<polygon class="e" style="fill:#1764AB;stroke:#1764AB" points="1078.2,393.8 1077.1,386.4 1078.9,379.4 1080.3,374.4 1094.5,387.2 1093.2,393.8"/>
<polygon class="e" style="fill:#4292C6;stroke:#4292C6" points="1118.3,400 1119.8,397.5 1122.3,390.3 1127,385.4 1130.8,388.8 1137.6,395.1 1134.8,399.1 1132,404.1 1127,405.6"/>
<polygon class="e" style="fill:#BED8EC;stroke:#BED8EC" points="1127,385.4 1128.3,384.2 1139.3,393.3 1137.6,395.1"/>
<polygon class="e" style="fill:#BED8EC;stroke:#BED8EC" points="1137.6,395.1 1142,394 1152,395.6 1159.6,395.1 1161,395 1159.3,403.6 1152,402.2 1144.5,403.1 1140.1,399.7"/>
<polygon class="e" style="fill:#4292C6;stroke:#4292C6" points="1127,405.6 1132,404.1 1134.8,399.1 1137.6,395.1 1140.1,399.7 1144.5,403.1 1144.8,411.2 1142,414.1 1135.8,412.8 1130.8,409.1"/>
<polygon class="e" style="fill:#1764AB;stroke:#1764AB" points="1144.5,403.1 1152,402.2 1159.3,403.6 1157.9,408.8 1159.5,413.5 1161.1,416.5 1155.8,421.5 1152,419.1 1147,415 1144.8,411.2"/>
<polygon class="e" style="fill:#BED8EC;stroke:#BED8EC" points="1115.1,404.4 1118.2,403.8 1127,405.6 1130.8,409.1 1135.8,412.8 1142,414.1 1144.8,416.5 1138.2,420.3 1132,420.7 1124.8,421.2 1115.7,422.1 1115.1,412.5"/>
<polygon class="e" style="fill:#1764AB;stroke:#1764AB" points="1124.8,421.2 1138.2,420.3 1144.8,416.5 1152,419.1 1155.8,421.5 1157,428.8 1158.1,433.9 1153.2,433.8 1147.8,436.2 1142.1,440.1 1135.6,444.5 1131.4,438.8 1129.2,434 1127.9,427.9 1123.5,425.1"/>
<polygon class="e" style="fill:#7FB9DA;stroke:#7FB9DA" points="1155.8,421.5 1161.1,416.5 1166.8,419 1165.5,425 1163.5,429.1 1159.8,430.3 1156.6,426.4"/>
<polygon class="e" style="fill:#E3EEF9;stroke:#E3EEF9" points="1157.9,408.8 1159.3,403.6 1161,395 1167.6,386.4 1171.7,386.6 1172.3,390 1176.1,395.6 1175.1,401.2 1167.6,409.1 1162.3,414.4 1159.5,413.5"/>
<polygon class="e" style="fill:#E3EEF9;stroke:#E3EEF9" points="1171.7,386.6 1171.5,382 1178,379.8 1191,380 1190.5,385.9 1180.8,386.5 1171.7,386.6"/>
<polygon class="e" style="fill:#BED8EC;stroke:#BED8EC" points="1162.3,414.4 1167.6,409.1 1174.5,405.3 1178.5,405.9 1177.3,410.3 1172.3,414.1 1171.7,417.2 1166.8,419"/>
<polygon class="e" style="fill:#E3EEF9;stroke:#E3EEF9" points="1159.8,430.3 1163.5,429.1 1165.5,425 1166.8,419 1171.7,417.2 1172.3,414.1 1177.3,410.3 1178.5,405.9 1174.5,405.3 1175.1,401.2 1176.1,395.6 1172.3,390 1171.7,386.6 1180.8,386.5 1190.5,385.9 1189.5,392.5 1185.1,403.8 1179.5,417.5 1173.2,430 1168.9,438.8 1165.6,444.8 1162.4,440 1158.1,433.9"/>
<polygon class="e" style="fill:#7FB9DA;stroke:#7FB9DA" points="874.9,385.8 877.8,385.4 886.9,384.2 887.8,388.5 886.4,392 883.4,393.3 881.6,396.7 877.6,396 874.7,392.7 873.8,389.3"/>
<polygon class="e" style="fill:#4292C6;stroke:#4292C6" points="862.2,397.2 866.3,392.9 870.9,389.1 874.4,391.4 873,395.6 870.1,397.4 870.9,400.4 872.2,404.3 867.2,402.7 863.8,399.3"/>
<polygon class="e" style="fill:#7FB9DA;stroke:#7FB9DA" points="870.1,397.4 873,395.6 877.6,396 881.6,396.7 886.8,400.3 885.9,404.8 884.2,409.7 880.1,408.9 876.8,405.6 872.2,404.3 870.9,400.4"/>
<polygon class="e" style="fill:#4292C6;stroke:#4292C6" points="881.6,396.7 883.4,393.3 886.4,392 887.8,388.5 890.3,387.4 891.6,390.4 894.9,393.7 896.6,395.8 893,398.9 886.8,400.3"/>
<polygon class="e" style="fill:#7FB9DA;stroke:#7FB9DA" points="890.3,387.4 892.2,384.1 900,383.9 899.2,388.5 898.8,393.9 896.6,395.8 894.9,393.7 891.6,390.4"/>
<polygon class="e" style="fill:#4292C6;stroke:#4292C6" points="900,383.9 909.2,383.9 906.8,388.7 904.6,393.3 898.8,393.9 899.2,388.5"/>
<polygon class="e" style="fill:#4292C6;stroke:#4292C6" points="909.2,383.9 914.4,383.6 915,389.2 912.4,392.9 908.3,396.4 904.6,393.3 906.8,388.7"/>
<polygon class="e" style="fill:#1764AB;stroke:#1764AB" points="898.8,396.8 903.8,396 908.3,396.4 910.9,400.2 909.2,404.4 904.7,406.4 899.8,408.6 898.6,403.7"/>
<polygon class="e" style="fill:#4292C6;stroke:#4292C6" points="908.3,396.4 912.4,392.9 915.3,392.7 916.6,397.6 918.6,404.2 917.6,408.5 915.3,408.7 914,405.8 912.2,403.9 910.9,400.2"/>
<polygon class="e" style="fill:#BED8EC;stroke:#BED8EC" points="903.8,409.8 905.7,405.9 909.2,404.4 912.2,403.9 914,405.8 915.3,408.7 917.6,408.5 919.8,409.2 920.4,415.3 916.4,415.9 909.9,416.8 904.8,416"/>
<polygon class="e" style="fill:#7FB9DA;stroke:#7FB9DA" points="883.8,411 885.9,404.8 886.8,400.3 893,398.9 896.8,398.9 899.3,400.8 900.7,406.3 901.3,412.7 898.8,415.2 899.4,418.5 895,420.5 890.9,421 890.1,417.7 888.4,417.7 887.8,422.4 884.3,417 885.1,412.7"/>
<polygon class="e" style="fill:#4292C6;stroke:#4292C6" points="874.9,419.1 878.8,414.3 881.8,411.8 885.2,414.2 884.7,419.3 884.4,425.4 879.8,425.6 878.4,421.8"/>
<polygon class="e" style="fill:#BED8EC;stroke:#BED8EC" points="866.8,427.2 870.5,423.1 874.9,419.1 878.4,421.8 879.8,425.6 878.8,431 875.5,432.2 872.6,434.1 868,433.5 866.8,430.2"/>
<polygon class="e" style="fill:#7FB9DA;stroke:#7FB9DA" points="879.4,427.8 884.4,425.4 887.2,422.7 890.9,421 892.8,426 894.9,430.6 891.3,432.9 887.2,433.2 883,431"/>
<polygon class="e" style="fill:#7FB9DA;stroke:#7FB9DA" points="892.7,420.4 899.4,418.5 899,416.3 904.8,416 905.9,418.1 906.6,423.1 908.4,429.3 909.1,436.4 905.6,438 898.4,438.5 897,433.7 894.9,430.6 892.8,426"/>
<polygon class="e" style="fill:#BED8EC;stroke:#BED8EC" points="905.9,418.1 909.9,416.8 920.4,415.3 922.2,420.6 924.9,424.1 930.1,429.1 935.9,433.8 930.9,435.8 930.1,437.7 932.2,439.8 931.8,442 927.2,442.9 923,444.3 920.1,445.2 915.5,442.2 912.2,439.1 909.1,436.4 908.4,429.3 906.6,423.1"/>
<polygon class="e" style="fill:#BED8EC;stroke:#BED8EC" points="920.1,445.2 927.2,442.9 931.8,442 932.2,439.8 930.1,437.7 930.9,435.8 935.9,433.8 942.2,434.6 946.8,438.5 951.8,444.1 954.4,447.3 949.2,449.5 946.1,451.6 945.3,455.1 944.9,459.1 940.2,459.8 933,456 924.7,452.2 920.5,449.1"/>
<polygon class="e" style="fill:#4292C6;stroke:#4292C6" points="868.8,436 872.6,434.1 875.5,432.2 877.2,433.9 876.2,437 877.6,440.2 875.1,442.7 868.8,440.6"/>
<polygon class="e" style="fill:#1764AB;stroke:#1764AB" points="877.2,433.9 880.5,432.7 887.2,433.2 891.6,437.4 894.4,439.9 892.4,442.2 886.3,441 879.8,441.7 877,438.7 876.2,437"/>
<polygon class="e" style="fill:#7FB9DA;stroke:#7FB9DA" points="887.2,433.2 895.8,431.9 897,433.7 897.2,438.9 894.4,439.9 891.6,437.4"/>
<polygon class="e" style="fill:#7FB9DA;stroke:#7FB9DA" points="878.4,441.8 886.3,441 892.4,442.2 894.4,439.9 898.4,438.5 902.6,439.3 901.8,445.2 900.9,449.3 903.2,453.8 904.1,455.6 899.9,454.9 893,450.9 885.5,446 879.7,443.5"/>
<polygon class="e" style="fill:#4292C6;stroke:#4292C6" points="902.6,439.3 909.1,436.4 912.2,439.1 915.5,442.2 920.1,445.2 920.5,449.1 920,452.1 919.4,461 915.4,463.8 911.3,461.2 905.5,458.4 901.8,452.9 900.9,449.3 901.8,445.2 905.5,445.2 904.7,442.7 902.3,441.6"/>
<polygon class="e" style="fill:#1764AB;stroke:#1764AB" points="863.9,449.3 865.8,442.6 873.1,441.4 876.8,443.5 874,447.9 870.5,450.2 866.6,454.9 864.1,452.3"/>
<polygon class="e" style="fill:#7FB9DA;stroke:#7FB9DA" points="872.3,447.7 876,444.2 880.3,443.8 881.9,448.4 882.4,452.5 878.8,454.3 874,452.7"/>
<polygon class="e" style="fill:#E3EEF9;stroke:#E3EEF9" points="869.7,453.5 873,451.8 877.2,454.8 876.3,456 869.7,456"/>
<polygon class="e" style="fill:#4292C6;stroke:#4292C6" points="858.5,431.9 860.8,434.7 866.2,439.6 865.8,442.6 863.6,445.3 858.2,441.6"/>
<polygon class="e" style="fill:#BED8EC;stroke:#BED8EC" points="817.4,428.8 827.7,418 839.3,428.5 836.7,430.6 827.4,436.9 824,435.3"/>
<polygon class="e" style="fill:#1764AB;stroke:#1764AB" points="800.9,447.5 809,438.8 817.4,428.8 824,435.3 824.9,438.5 819.3,441.5 814.3,445.3 814,450.1 813.8,453.3 809,452.5 804.6,450.3"/>
<polygon class="e" style="fill:#1764AB;stroke:#1764AB" points="813.8,453.3 814.3,445.3 819.3,441.5 824.9,438.5 828.7,441.2 830.4,446.4 827.8,450 826.5,453.8"/>
<polygon class="e" style="fill:#4292C6;stroke:#4292C6" points="827.4,436.9 836.7,430.6 839.3,435.6 841.2,441.9 837.8,443.8 830.4,446.4 828.7,441.2"/>
<polygon class="e" style="fill:#1764AB;stroke:#1764AB" points="836.7,430.6 839.3,428.5 846.5,428.1 852.8,429.4 855.2,431.5 855.6,440 849,440 844,442.2 841.2,441.9 839.3,435.6"/>
<polygon class="e" style="fill:#1764AB;stroke:#1764AB" points="840.6,444.4 844,442.2 847.1,446.2 849,449.4 850.2,455 850.9,461.2 851.5,465.9 847.7,466.2 845.9,466.5 846.5,458.1 844,452.5 842.1,448.1"/>
<polygon class="e" style="fill:#4292C6;stroke:#4292C6" points="855.2,431.5 858.5,431.9 864.8,438.1 866.2,439.6 865.8,442.6 863.6,445.3 860.2,442.8 855.6,440"/>
<polygon class="e" style="fill:#4292C6;stroke:#4292C6" points="867.2,465 868.6,464.7 876.5,467.5 884.6,472.6 883.4,475.6 881.2,480.8 881,485.7 884.6,490 880.2,493.1 874,490 869,486.2 864.3,481.5 865.2,476.2"/>
<polygon class="e" style="fill:#E3EEF9;stroke:#E3EEF9" points="869.2,454.6 872.6,451.7 876.6,453 878.8,457.1 875.9,460 873.8,458.8"/>
<polygon class="e" style="fill:#BED8EC;stroke:#BED8EC" points="901.4,458.8 905.5,458.4 911.3,461.2 915.4,463.8 912.6,467.5 910.8,471.3 904.7,468.3 901.6,466.7"/>
<polygon class="e" style="fill:#7FB9DA;stroke:#7FB9DA" points="920,452.1 924.7,452.2 933,456 940.2,459.8 940.1,462.5 936.6,467.7 934,471.9 931.6,476.2 927.6,475 924.4,472.3 918,471.9 913.2,473.6 910.3,472.5 912.6,467.5 915.4,463.8 919.4,461 920,452.1"/>
<polygon class="e" style="fill:#7FB9DA;stroke:#7FB9DA" points="945.3,455.1 946.1,451.6 949.2,449.5 954.4,447.3 959.2,445 963.2,448.3 968,450.8 971.4,454.8 969.9,456.2 968.4,458.4 965.9,461.9 965.6,467.4 961.1,467.7 956.8,465.2 950.9,461.4 946.3,459.6"/>
<polygon class="e" style="fill:#BED8EC;stroke:#BED8EC" points="940.2,459.8 944.9,459.1 950.9,461.4 956.8,465.2 961.1,467.7 962.2,470.2 959.2,472.3 956,469.5 952,468.1 946.3,469 942,470.6 939.4,468.6 938.7,463.5"/>
<polygon class="e" style="fill:#BED8EC;stroke:#BED8EC" points="934,471.9 936.6,467.7 939.4,468.6 942,470.6 946.3,469 952,468.1 956,469.5 954,473.3 950.7,475.2 949.9,478.3 948.6,481.7 947.6,484.2 944.7,485.8 941.3,482.5 938,478.8 934.7,475.8 931.6,476.2"/>
<polygon class="e" style="fill:#7FB9DA;stroke:#7FB9DA" points="913.2,473.6 918,471.9 924.4,472.3 927.6,475 931.6,476.2 933,478.8 930.9,479.6 928,479.2 926.1,482.9 923,480.4 918,477.9 913.2,476.2"/>
<polygon class="e" style="fill:#7FB9DA;stroke:#7FB9DA" points="910.8,490 913.5,486.4 918.8,488.8 922.2,491 925.1,488.8 928.8,491.7 930.8,495.9 929.5,500.5 924,500.3 919,497.1 915.1,494.8 911,493.3"/>
<polygon class="e" style="fill:#E3EEF9;stroke:#E3EEF9" points="907.7,497.9 911.1,495.6 915.1,494.8 920.5,496.3 925.1,499.3 928.2,504.4 924.7,509.2 919.3,510.9 914.3,509.4 908.8,506.7"/>
<polygon class="e" style="fill:#E3EEF9;stroke:#E3EEF9" points="928.2,504.4 929.5,497 931.3,492.5 930.5,489.2 935.3,488.9 937.6,493.8 940.9,498.8 944.7,503.8 944.9,508.1 941.4,510.5 936.3,508.3 931.3,505.8"/>
<polygon class="e" style="fill:#E3EEF9;stroke:#E3EEF9" points="940.9,510.8 944.9,508.1 948,511.7 951.6,515.2 950.1,516.2 946.3,515.8"/>
<polygon class="e" style="fill:#4292C6;stroke:#4292C6" points="946.8,505 949.7,500.8 954,503.1 955.9,506.2 957.7,509.5 954.2,513.3 949.7,510"/>
<polygon class="e" style="fill:#4292C6;stroke:#4292C6" points="950.1,516.2 954.2,513.3 957.7,509.5 961.3,509 966.3,510.4 965.5,517.5 961.3,518.8 953.8,517.5"/>
<polygon class="e" style="fill:#7FB9DA;stroke:#7FB9DA" points="952.2,498.3 955.9,499.6 961.3,501.2 966.3,503.3 966.3,508.3 961.3,509 957.7,509.5 955.9,506.2 954,503.1"/>
<polygon class="e" style="fill:#4292C6;stroke:#4292C6" points="928.8,481.7 930.9,479.6 934.7,481.7 938,485 941.3,489.2 944.7,493.3 947.6,498.3 948.1,503.1 944.7,503.8 940.9,498.8 937.6,493.8 934.7,487.5 931.3,486.7 928.8,485.4"/>
<polygon class="e" style="fill:#BED8EC;stroke:#BED8EC" points="946.3,489.2 948.4,489.2 949.2,493.3 949.7,498.3 948,497.5"/>
<polygon class="e" style="fill:#7FB9DA;stroke:#7FB9DA" points="971.9,379.8 977.9,379 986.3,379.3 993,378.9 995.5,381.8 999.7,386 997.4,391.2 992.2,394.3 988.1,397.1 982.2,397.2 976.1,397.2 970.5,393.9 971.8,387.7"/>
<polygon class="e" style="fill:#BED8EC;stroke:#BED8EC" points="981,401.2 985.8,397 990.2,395.5 991.8,398.5 989.2,402.7 988.8,407.7 985.9,412 983.6,409.8 983.4,404.3"/>
<polygon class="e" style="fill:#1764AB;stroke:#1764AB" points="993,396 995.8,390.8 1000.1,388.5 1001.8,391 1003.4,394.8 1004,399.8 995.5,399.8"/>
<polygon class="e" style="fill:#1764AB;stroke:#1764AB" points="990.9,403.5 992.2,401 995.5,399.8 1004,399.8 1004.8,409.6 1000.5,409.1 995.5,408.5 990.9,407.5"/>
<polygon class="e" style="fill:#4292C6;stroke:#4292C6" points="988.6,411.2 990.9,407.5 995.5,408.5 1004.8,409.6 1004.2,412.2 1001.3,415.2 995.5,413.9 991.3,412.2"/>
<polygon class="e" style="fill:#1764AB;stroke:#1764AB" points="973.3,428.5 973.8,421 978,417.7 983.3,412.6 988.6,411.2 995.5,413.9 1001.3,415.2 1001.4,421.1 1000.2,428.2"/>
<polygon class="e" style="fill:#BED8EC;stroke:#BED8EC" points="1011,381.3 1021.6,381.2 1022.2,389.3 1022.5,399.7 1018,401 1013,400 1007.6,399.3 1007.2,396.8 1009.2,392.7 1011.4,386"/>
<polygon class="e" style="fill:#E3EEF9;stroke:#E3EEF9" points="1005.9,400.6 1008,400.6 1008.4,408.9 1005.9,408.9"/>
<polygon class="e" style="fill:#1764AB;stroke:#1764AB" points="1009.7,401.8 1013,400 1018,401 1022.5,399.7 1024.8,404 1025.3,409.4 1018,409.5 1009.7,408.9"/>
<polygon class="e" style="fill:#1764AB;stroke:#1764AB" points="1004.2,412.2 1004.8,409.6 1008.8,410.6 1011.3,412.7 1014,416.4 1013,419.8 1009.7,417.2 1006.6,416.4 1003.8,417"/>
<polygon class="e" style="fill:#1764AB;stroke:#1764AB" points="1000.2,428.2 1000.9,418.4 1003.8,417 1006.6,416.4 1009.7,417.2 1013,419.8 1013.8,424 1011,427.9"/>
<polygon class="e" style="fill:#1764AB;stroke:#1764AB" points="1013,411.8 1018,409.5 1025.3,409.4 1024.2,414.8 1022.6,420.6 1020.5,425.1 1018,424.8 1015.7,421.4 1014,416.4"/>
<polygon class="e" style="fill:#4292C6;stroke:#4292C6" points="1021.8,383.6 1028,384.8 1034.7,386.4 1041.3,388.1 1045.7,391.4 1045.9,396 1041.3,396.4 1034.7,397.2 1028,398.9 1022.5,399.7 1022.2,389.3"/>
<polygon class="e" style="fill:#7FB9DA;stroke:#7FB9DA" points="1035.9,403.1 1039.4,402.2 1040.1,398.9 1046,398.9 1046.4,406 1042.6,408.9 1039.2,407.2 1036.3,406"/>
<polygon class="e" style="fill:#1764AB;stroke:#1764AB" points="1022.6,420.6 1024.2,414.8 1025.3,409.4 1030.9,407.2 1036.3,406 1041,406.9 1044.9,410.2 1042.6,415.2 1041.5,418.9 1042.6,423.8 1041.3,426.9 1034.7,428.1 1030.4,429.2 1030.4,429.2 1020.8,427.3 1020.5,425.1"/>
<polygon class="e" style="fill:#1764AB;stroke:#1764AB" points="1045.5,387.7 1048.8,385 1052.2,384.5 1054.6,386.9 1058.4,392 1061.8,394.8 1062.4,398.5 1058.2,399.8 1055.5,402.2 1051.3,404.8 1046.4,406 1045.9,396"/>
<polygon class="e" style="fill:#7FB9DA;stroke:#7FB9DA" points="1052.2,384.5 1054.7,382.7 1060.1,384.7 1065.9,387.4 1070.9,389.3 1072.4,392.4 1071.3,395.6 1066.3,394.8 1061.8,394.8 1058.4,392 1054.7,388.5"/>
<polygon class="e" style="fill:#1764AB;stroke:#1764AB" points="1068.7,373.3 1073,371.8 1078.4,373 1078.9,379.4 1077.1,386.4 1075.5,391 1072.4,392.4 1070.9,389.3 1065.9,387.4 1066.2,381.4 1067.7,376.5"/>
<polygon class="e" style="fill:#1764AB;stroke:#1764AB" points="1046.4,406 1051.3,404.8 1055.5,402.2 1058.2,399.8 1062.4,398.5 1064.7,396.8 1065.5,403.9 1062.7,408.2 1060.1,411 1051.3,410.2 1045.9,410.2"/>
<polygon class="e" style="fill:#4292C6;stroke:#4292C6" points="1066.8,396.8 1071.3,395.6 1076.3,396.8 1080,398.1 1077.1,404 1072.6,406.6 1069.4,408.3 1068,404.3 1065.5,403.9"/>
<polygon class="e" style="fill:#BED8EC;stroke:#BED8EC" points="1060.1,411 1064.1,405.5 1066.5,404.1 1069.4,408.3 1065.5,413.5 1063.5,414.9"/>
<polygon class="e" style="fill:#4292C6;stroke:#4292C6" points="1041.5,418.9 1042.6,415.2 1044.9,410.2 1051.3,410.2 1060.1,411 1063.5,414.9 1059.5,419.3 1055.6,423.3 1051.3,425.8 1046.8,430.6 1043.8,425.8 1042.6,423.8"/>
<polygon class="e" style="fill:#1764AB;stroke:#1764AB" points="1052.2,428.2 1055.7,421.6 1059.9,417.7 1063.5,414.9 1066.3,416.4 1067.6,420.6 1065.6,428.2"/>
<polygon class="e" style="fill:#1764AB;stroke:#1764AB" points="1066.3,416.4 1070.5,410.2 1072.6,406.6 1078,403.5 1081.3,400.2 1081.3,411 1075.9,415.8 1071.8,418.9 1067.6,420.6"/>
<polygon class="e" style="fill:#1764AB;stroke:#1764AB" points="1000.2,428.2 1000.2,428.2 997.6,435 997.2,440.4 994.7,442.1 991.3,437.9 987.2,432.5 984.7,429.6 981.3,428.8 978,430.8 973.3,428.5 973.3,428.5"/>
<polygon class="e" style="fill:#1764AB;stroke:#1764AB" points="1011,427.9 1009,431 1008.4,441 1002.9,442.2 999.2,440 1000.2,428.2 1000.2,428.2"/>
<polygon class="e" style="fill:#1764AB;stroke:#1764AB" points="1009,431 1011,427.9 1013.8,424 1015.7,421.4 1018,424.8 1020.5,425.1 1021.7,430.7 1023.4,440.6 1014.7,442.1 1008.4,441"/>
<polygon class="e" style="fill:#1764AB;stroke:#1764AB" points="1052.2,428.2 1046.8,430.6 1051.3,431.9 1062.8,432.3 1065.6,428.2"/>
<polygon class="e" style="fill:#1764AB;stroke:#1764AB" points="1030.4,429.2 1034.7,428.1 1041.3,426.9 1044.7,427.3 1046.8,430.6 1043.4,434.6 1040.1,438.4 1035.6,436.6 1032.5,434.1"/>
<polygon class="e" style="fill:#BED8EC;stroke:#BED8EC" points="1021.1,429.2 1025.7,428 1030.4,429.2 1030.5,432.9 1034.3,434.3 1037.9,436.9 1039.9,440.2 1037.2,442.5 1029.7,441.2 1025.5,442.1 1023.4,440.6 1022.1,434.3"/>
<polygon class="e" style="fill:#4292C6;stroke:#4292C6" points="1040.1,438.4 1043.4,434.6 1046.8,430.6 1049.9,434.4 1051.8,438.3 1053.2,441.2 1048,442.1 1043,441.2 1039.7,441.7"/>
<polygon class="e" style="fill:#4292C6;stroke:#4292C6" points="1049.9,434.4 1051.3,431.9 1062.8,432.3 1063.8,437.1 1065.7,443.3 1068.8,451 1062.3,454.7 1060.1,451.2 1058,445.8 1053.8,442.5 1051.8,438.3"/>
<polygon class="e" style="fill:#7FB9DA;stroke:#7FB9DA" points="1062.3,454.7 1068.8,451 1071.6,450.8 1075.7,454.4 1083.7,464 1081.1,465.8 1072.2,467.3 1064.4,468.9 1063.2,461.7"/>
<polygon class="e" style="fill:#1764AB;stroke:#1764AB" points="1049.8,459.3 1055.5,457.5 1059.8,455.3 1062.3,454.7 1063.2,461.7 1064.4,468.9 1058.4,469.6 1053,470.4 1050.9,465"/>
<polygon class="e" style="fill:#7FB9DA;stroke:#7FB9DA" points="1045.6,448.5 1049.4,446.4 1053.8,445.8 1058.5,447.1 1060.1,451.2 1061.3,455.8 1055.5,457.5 1049.8,459.3 1047.6,453.3"/>
<polygon class="e" style="fill:#BED8EC;stroke:#BED8EC" points="1037.6,452.1 1041.3,450 1045.6,448.5 1047.6,453.3 1048.7,456.3 1049.8,459.3 1043,460 1037,460.4 1037.3,455.8"/>
<polygon class="e" style="fill:#E3EEF9;stroke:#E3EEF9" points="1025.4,445 1031.5,441.5 1037.2,442.5 1038.4,447.9 1037.6,452.1 1033,452.1 1029.7,449.2 1026.8,446.7"/>
<polygon class="e" style="fill:#7FB9DA;stroke:#7FB9DA" points="1028,452.5 1030.5,449.9 1033,452.1 1037.6,452.1 1037,460.4 1033.8,460.4 1029.7,458.3 1026.5,456"/>
<polygon class="e" style="fill:#7FB9DA;stroke:#7FB9DA" points="1016.8,444.4 1024.7,444.2 1026.8,446.7 1025.9,448.8 1021.5,449.4 1018,447.9"/>
<polygon class="e" style="fill:#7FB9DA;stroke:#7FB9DA" points="1020.3,448.2 1025.9,448.8 1026.3,454.8 1019.8,454.6"/>
<polygon class="e" style="fill:#7FB9DA;stroke:#7FB9DA" points="1018.5,458.1 1019.8,454.6 1026.3,454.8 1026.8,458.3 1021.3,460.6 1018.5,458.1"/>
<polygon class="e" style="fill:#4292C6;stroke:#4292C6" points="1012.2,448.8 1015.7,448.1 1018,451.7 1019.8,454.6 1018.5,458.1 1014.2,457.7 1013.2,453.8"/>
<polygon class="e" style="fill:#4292C6;stroke:#4292C6" points="996.3,445 1001.3,442.1 1006.4,440.9 1009.4,445.6 1006.3,448.8 1003,452.3 996.1,454.6 995.5,449.2"/>
<polygon class="e" style="fill:#7FB9DA;stroke:#7FB9DA" points="1007.4,450.4 1009.7,445 1013,443.8 1016.8,444.4 1015.7,448.1 1012.2,448.8 1009.6,451.1"/>
<polygon class="e" style="fill:#1764AB;stroke:#1764AB" points="996.5,456 1003,452.3 1007.4,450.4 1012.7,451.4 1013.2,453.8 1014.2,457.7 1018.5,458.1 1017.6,460.4 1009.7,461 1001.1,461 997.6,459.6"/>
<polygon class="e" style="fill:#1764AB;stroke:#1764AB" points="1001.1,461 1009.7,461 1017.6,460.4 1026.3,460.8 1025.9,464.6 1021.8,468.8 1017.5,473.2 1011.9,474 1010.1,470.4 1007.2,469.2 1003,471.2 1000.7,466.7"/>
<polygon class="e" style="fill:#1764AB;stroke:#1764AB" points="1017.5,473.2 1021.8,468.8 1025.9,464.6 1028,461.7 1033,462.5 1032.2,465 1033.6,469.6 1030.5,475.2 1026.3,477.5 1022.2,475.8"/>
<polygon class="e" style="fill:#E3EEF9;stroke:#E3EEF9" points="969.9,456.2 973,453.3 973.8,448.3 978,446.2 986.3,446.7 993.8,446.7 995.5,449.2 996.1,454.6 997.6,459.6 995.5,462.9 988,463.2 984.2,463.4 979.2,462.3 976.5,460 973,458.4"/>
<polygon class="e" style="fill:#BED8EC;stroke:#BED8EC" points="981.6,470.4 983,466.7 984.2,463.4 995.5,462.9 998.8,462.5 1000.7,466.7 1000.1,470.2 995.7,470.8 993.4,474.6 988.8,474.6 984.7,472.1"/>
<polygon class="e" style="fill:#7FB9DA;stroke:#7FB9DA" points="969.5,481.7 972.2,477.5 974.7,472.5 981.6,470.4 984.7,472.1 988.8,474.6 990.5,476.7 987.2,480 983.8,483.3 981.3,489.1 975.7,490.9 971.8,487.5"/>
<polygon class="e" style="fill:#BED8EC;stroke:#BED8EC" points="995.7,470.8 1000.1,470.2 1003,471.2 1007.2,469.2 1010.1,470.4 1011.9,474 1008.8,478.1 1004.7,481.7 1003,485 999.7,481.7 996.3,478.3 993.4,474.6"/>
<polygon class="e" style="fill:#7FB9DA;stroke:#7FB9DA" points="1005.9,483.3 1007.2,478.6 1011.9,474 1017.5,473.2 1018.8,477.5 1016.3,480.8 1013,484.2 1011.3,488.3 1008,486.7"/>
<polygon class="e" style="fill:#7FB9DA;stroke:#7FB9DA" points="1017.6,479.1 1021.3,478.3 1025.8,481.1 1028.4,485.4 1027.2,489.2 1023.8,489.2 1020.5,485.8"/>
<polygon class="e" style="fill:#7FB9DA;stroke:#7FB9DA" points="1032.4,465.8 1036.3,464.2 1039.9,466.9 1043.2,471.1 1040.8,475.9 1038.4,479 1035.5,474.2 1033.6,469.6"/>
<polygon class="e" style="fill:#1764AB;stroke:#1764AB" points="1044.2,472.9 1051.3,470.6 1058.4,469.6 1064.4,468.9 1064.9,477.5 1065.6,483.8 1061.3,485 1062.2,489.6 1055.8,492.1 1051.8,489.8 1046.8,487.3 1044.2,480"/>
<polygon class="e" style="fill:#1764AB;stroke:#1764AB" points="1064.4,468.9 1072.2,467.3 1081.1,465.8 1083,470 1083.5,476.5 1083.6,482.3 1076.5,485.4 1069.5,486.7 1065.6,483.8 1064.9,477.5"/>
<polygon class="e" style="fill:#4292C6;stroke:#4292C6" points="1035.4,482 1037.8,477.5 1041,473.3 1044.2,477.5 1042.2,483.1 1038.3,484.7"/>
<polygon class="e" style="fill:#E3EEF9;stroke:#E3EEF9" points="1030.9,488.3 1035,484.5 1042.2,483.1 1044.2,486.7 1043.4,489.4 1036.8,492.3 1032.4,492.7"/>
<polygon class="e" style="fill:#7FB9DA;stroke:#7FB9DA" points="1033.6,505.3 1034.1,494.9 1036.8,492.3 1043.4,489.4 1046.8,487.3 1051.8,489.8 1055.8,492.1 1057.7,502.9"/>
<polygon class="e" style="fill:#7FB9DA;stroke:#7FB9DA" points="1057.7,502.9 1055.8,492.1 1062.2,489.6 1066.3,486.7 1069.5,486.7 1071.3,492.5 1072.1,500.8 1069.6,503.3"/>
<polygon class="e" style="fill:#7FB9DA;stroke:#7FB9DA" points="1069.5,486.7 1076.5,485.4 1083.6,482.3 1085.4,486.2 1087.4,491.1 1083.4,493 1081.5,490.4 1079.6,494.7 1071.5,495.1 1070.8,490.8"/>
<polygon class="e" style="fill:#BED8EC;stroke:#BED8EC" points="965.9,461.9 968.4,458.4 973,458.4 976.5,460 979.2,462.3 982.3,463 980.5,467.5 978.8,468.8 973.6,468.6 965.6,467.4"/>
<polygon class="e" style="fill:#BED8EC;stroke:#BED8EC" points="956,469.5 959.2,472.3 962.2,470.2 965.6,467.4 973.6,468.6 974,474 969.7,477.5 969.5,481.7 971.8,487.5 967.6,489.9 963,487.9 956.3,485.5 952.6,484.1 948.6,481.7 949.9,478.3 950.7,475.2 954,473.3"/>
<polygon class="e" style="fill:#E3EEF9;stroke:#E3EEF9" points="951.8,486.2 956.3,485.5 963,487.9 967.6,489.9 971.8,487.5 975.7,490.9 974.3,492.5 972.6,497.1 968.4,498.6 965.7,503.1 961.3,498.3 955.5,496.7 953.4,493.3 952.2,490"/>
<polygon class="e" style="fill:#BED8EC;stroke:#BED8EC" points="969.8,502.1 972.6,497.1 978.3,497.8 984.8,500.6 985.5,505.3 980.5,506.5 974.7,505.8 969.2,506"/>
<polygon class="e" style="fill:#7FB9DA;stroke:#7FB9DA" points="1026.1,492.9 1029.9,491.3 1032.4,492.7 1034.1,494.9 1033.8,499.2 1030.5,501.6 1030.5,505.7 1026.3,504.6 1026.1,499.8 1026.8,496"/>
<polygon class="e" style="fill:#E3EEF9;stroke:#E3EEF9" points="1008,532.2 1011.8,530.4 1013,526.6 1015.5,523.5 1018,522.9 1019.9,525.4 1019.9,529.1 1018,532.2 1017.4,536 1013,536 1010.5,534.1"/>
<polygon class="e" style="fill:#7FB9DA;stroke:#7FB9DA" points="999.2,524.8 1001.8,522.2 1004.9,520.4 1007.4,522.2 1006.1,525.4 1003.6,527.9 1001.8,530.4 1000.5,527.9"/>
<polygon class="e" style="fill:#7FB9DA;stroke:#7FB9DA" points="993.6,516.6 997.4,514.8 1000.5,514.1 1003,516 1000.5,518.5 997.4,519.8 994.9,519.1"/>
<polygon class="e" style="fill:#4292C6;stroke:#4292C6" points="982.1,509.8 988,509.2 990.3,511.2 990.9,513.8 986.6,514.5 982.7,514.1"/>
<polygon class="e" style="fill:#BED8EC;stroke:#BED8EC" points="969,503.5 971,499 975.8,497.8 980.5,499.1 984.8,500.6 985.5,505.3 980.5,506.5 977.5,506.1 973,505.9"/>
<polygon class="e" style="fill:#BED8EC;stroke:#BED8EC" points="986.8,500.4 994.2,500.1 994.9,502.2 991.8,503.5 986.8,502.9"/>
<polygon class="e" style="fill:#BED8EC;stroke:#BED8EC" points="989.9,504.8 999.2,504.4 999.9,506.6 995.5,507.2 991.1,506.9"/>
<polygon class="e" style="fill:#E3EEF9;stroke:#E3EEF9" points="967.6,489.9 975.7,490.9 973.1,496.1 968.4,498.6 968.4,498.6"/>
<polygon class="e" style="fill:#4292C6;stroke:#4292C6" points="973.3,532.6 976.7,528.4 979.9,529.8 983.5,531.4 982.4,534.5 978.7,535.1 975.5,533.6"/>
<polygon class="e" style="fill:#7FB9DA;stroke:#7FB9DA" points="978.6,524.1 982.4,525.4 986.1,527.2 988.6,528.5 998,529.1 998.6,532.7 988,532.9 985.5,530.4 980.3,527.5"/>
<polygon class="e" style="fill:#E3EEF9;stroke:#E3EEF9" points="896.4,509.4 898.9,507.6 899.7,507 907.4,508.7 913,511.3 918.9,514.6 923.9,517.1 926.7,520.2 929.9,523.7 934.6,526.3 941.4,528.8 946.3,530.8 949.6,532.1 947.6,535 944.5,538.8 939.5,537.5 930.1,555 927.6,556 920.1,549.4 929.5,533.1 917,525 910.8,538.1 908.2,538.5 884.2,523.5 886.4,518.1 891.4,516.2 905.1,523.1 910.1,525 912.1,519.4 907.1,516.5 900.5,512.4 896.4,509.4"/>
<polygon class="e" style="fill:#BED8EC;stroke:#BED8EC" points="907.4,508.7 913.3,507.6 921.3,511.5 927.5,513.5 929.7,516.1 929.9,523.7 923.9,517.1 918.9,514.6 913,511.3 907.4,508.7"/>
<polygon class="e" style="fill:#BED8EC;stroke:#BED8EC" points="929.9,523.7 937.2,523.2 939.7,524 942.2,525.7 949.7,528.2 949.6,532.1 941.4,528.8 934.6,526.3"/>
<polygon class="e" style="fill:#BED8EC;stroke:#BED8EC" points="969.2,506 974.7,505.8 980.5,506.5 980.5,509 968.8,509"/>
<polygon class="e" style="fill:#4292C6;stroke:#4292C6" points="951.3,531.5 952.2,525.7 952,522.8 957.2,523.1 963,523.4 968.8,523.8 966.3,529 963,533.6 954.7,534.4"/>
<polygon class="e" style="fill:#BED8EC;stroke:#BED8EC" points="948.4,537.1 950.5,534 954.7,534.4 963,533.6 967.2,530.7 969.7,529 971.3,534 975.5,537.3 979.7,540.7 976.3,544 972,545 964.5,542.5 962,541.2 959.5,542.5 954.7,545.7 951.7,541.7"/>
<polygon class="e" style="fill:#4292C6;stroke:#4292C6" points="967.2,516.5 969.7,510.7 971.3,511.5 971.3,517.3 968,518.2"/>
<polygon class="e" style="fill:#4292C6;stroke:#4292C6" points="973,511.5 979.7,511.1 978.8,519 974.7,519.8"/>
<polygon class="e" style="fill:#4292C6;stroke:#4292C6" points="982.1,509.8 989.2,509.8 990.9,513.8 986.6,514.5 982.7,514.1"/>
<polygon class="e" style="fill:#4292C6;stroke:#4292C6" points="980.5,515.7 983,515.2 983.4,521.5 980.5,521.5"/>
<polygon class="e" style="fill:#7FB9DA;stroke:#7FB9DA" points="984.7,516.5 990.5,515.7 989.9,522.2 984.7,522.3"/>
<polygon class="e" style="fill:#4292C6;stroke:#4292C6" points="973.3,532.6 977,531.1 979.1,525 982.5,528.5 984.9,534.1 978.7,535.1"/>
<polygon class="e" style="fill:#7FB9DA;stroke:#7FB9DA" points="970.5,526.5 976.3,525.7 977,531.1 973.3,532.6"/>
<polygon class="e" style="fill:#E3EEF9;stroke:#E3EEF9" points="949.7,519.8 963,520.7 971.3,521.5 975.5,524 968.8,523.8 963,523.4 952,522.8"/>
<polygon class="e" style="fill:#7FB9DA;stroke:#7FB9DA" points="970.9,484 983.3,484.5 981.3,489.1 975.7,490.9 971.8,487.5"/>
<polygon class="e" style="fill:#BED8EC;stroke:#BED8EC" points="952.6,484.1 970.9,484 971.8,487.5 975.7,490.9 967.6,489.9 963,487.9 956.3,485.5"/>
<polygon class="e" style="fill:#1764AB;stroke:#1764AB" points="1109.1,438 1111.9,430.4 1115.7,422.1 1123.1,421.4 1123.6,426.7 1127.9,427.9 1130.8,436.4 1135.6,444.5 1134.4,446.7 1129.4,451.9 1124.6,452.1 1117.3,444.4 1111.5,438.6"/>
<polygon class="e" style="fill:#1764AB;stroke:#1764AB" points="1135.6,444.5 1143.6,438.4 1151.5,435 1158.1,433.9 1156.1,440.8 1154,447.9 1151.6,453.7 1146.8,458.1 1142.8,460.4 1138.8,453.6 1130.7,453.4 1129.4,451.9 1134.4,446.7"/>
<polygon class="e" style="fill:#4292C6;stroke:#4292C6" points="1099.8,441.7 1107.3,437.5 1111.5,438.6 1117.3,444.4 1124.6,452.1 1117.3,453.4 1109,452.9 1103.7,455.9 1099.8,456.2"/>
<polygon class="e" style="fill:#1764AB;stroke:#1764AB" points="1071.6,450.8 1079.5,449.2 1086.1,447.5 1091.7,444.6 1098.2,443.3 1099.8,456.2 1091.5,460.4 1083.7,464 1080.1,459.7 1075.7,454.4"/>
<polygon class="e" style="fill:#1764AB;stroke:#1764AB" points="1101.9,455.5 1109,452.9 1117.3,453.4 1130.7,453.4 1138.8,453.6 1141.1,461.2 1130.7,464.6 1117.3,468 1110.1,468.1 1109.6,461 1103.6,460.4"/>
<polygon class="e" style="fill:#1764AB;stroke:#1764AB" points="1083.7,464 1091.5,460.4 1099.8,456.2 1103.6,460.4 1109.6,461 1110.1,468.1 1100.7,470.4 1091.5,474.2 1083.5,476.5 1083,470"/>
<polygon class="e" style="fill:#1764AB;stroke:#1764AB" points="1117.3,468 1130.7,464.6 1141.1,461.2 1147.3,466.2 1150.7,470.4 1147.3,473.8 1130.7,477.9 1119.6,480.6 1117.8,474.3"/>
<polygon class="e" style="fill:#1764AB;stroke:#1764AB" points="1083.5,476.5 1091.5,474.2 1100.7,470.4 1110.1,468.1 1117.3,468 1119.2,478.1 1118.6,483.8 1105.7,487.9 1097.8,488.8 1089,490.4 1085.4,486.2"/>
<polygon class="e" style="fill:#BED8EC;stroke:#BED8EC" points="1119.6,480.6 1130.7,477.9 1147.3,473.8 1152.2,471.7 1155.7,476.2 1153.2,480.8 1139.3,485 1122.7,490 1120.7,485.8"/>
<polygon class="e" style="fill:#7FB9DA;stroke:#7FB9DA" points="1098.9,491.2 1105.7,487.9 1118.6,483.8 1120.3,490.7 1114.2,492.5 1100.9,495.6"/>
<polygon class="e" style="fill:#1764AB;stroke:#1764AB" points="1071.8,497.6 1080.7,494.2 1089,490.4 1097.8,488.8 1100.3,493.2 1093.6,497.9 1085.2,500.5 1074,500"/>
<polygon class="e" style="fill:#E3EEF9;stroke:#E3EEF9" points="1142.8,460.4 1150.7,455.8 1154,447.9 1156.1,440.8 1158.1,433.9 1162.4,440 1165.6,444.8 1167,442.2 1176,450 1183.5,454.2 1184.3,458.3 1181,465 1177.7,470 1183.5,474.2 1183.5,478.3 1172.7,477.5 1164.3,478.3 1157.5,479.7 1152.8,474.2 1150.7,470.4 1147.3,466.2"/>
<polygon class="e" style="fill:#BED8EC;stroke:#BED8EC" points="884.2,464.3 888.9,462.7 893.1,463.9 896.3,469.5 899.2,475.3 895.9,477.4 892.2,473.7 888.4,469.1 885.1,465.8"/>
<polygon class="e" style="fill:#BED8EC;stroke:#BED8EC" points="884.6,472.6 886.3,471.6 890.5,475.8 895.9,480.1 891.2,483.9 886.6,479.7 885.5,475.3"/>
<polygon class="e" style="fill:#1764AB;stroke:#1764AB" points="896.8,470.5 901.3,468.9 904.7,471 908,474.9 910.3,478.7 910.5,482 903.7,482.7 902.4,478.4 900.5,473.7"/>
<polygon class="e" style="fill:#4292C6;stroke:#4292C6" points="894.6,484.2 895.9,480.1 899.7,477.8 902.4,478.4 904.5,481.2 905.1,485.6 904.1,488.2 900.5,489.1 896.8,487.2"/>
<polygon class="e" style="fill:#4292C6;stroke:#4292C6" points="901.8,488.8 904.1,488.2 905.1,485.6 906.3,483.7 910.5,483.7 910.7,487.8 908.8,494.5 907.2,499.5 906.3,497.8 904.7,493.7"/>
<polygon class="e" style="fill:#4292C6;stroke:#4292C6" points="892.8,485.3 894.6,484.2 898.9,487.7 901.3,494.5 903.4,499.5 905.1,503.7 903,503.7 900.1,496.2 896.6,490.3"/>
<polygon style="fill:#7FB9DA" points="967.6,510.3 971.4,510.3 972.2,516.6 967.6,517.3"/>
<polygon style="fill:#4292C6" points="972.4,510.9 977.9,510.6 978.7,516.4 974,518 972.8,514.9"/>
<polygon style="fill:#4292C6" points="980.2,515.4 984.1,514.7 984.9,520.1 980.2,521.7 979.4,518.6"/>
<polygon style="fill:#7FB9DA" points="985.1,515.2 991.3,514.5 992.1,519.2 986.6,520.8 984.2,523.1 983.5,519.9"/>
<polygon style="fill:#BED8EC" points="976.4,494.2 982.6,493.5 985,497.4 983.4,499.8 978.8,498.2"/>
<polygon style="fill:#E3EEF9" points="967.2,519.2 972.6,519.6 975.8,521.6 974.2,524.7 967.2,523.9"/>
<polygon style="fill:#7FB9DA" points="970.4,526.3 975.9,525.5 976.7,529.4 972,530.2"/>
<polygon style="fill:#E3EEF9" points="982.2,485.3 986.1,482.2 989.2,483.8 988.5,488.4 983.8,487.7"/>
<polygon style="fill:#E3EEF9" points="987.9,481 991.9,477.1 994.2,479.4 992.6,483.3 989.5,484.1"/>
<polygon style="fill:#BED8EC" points="993.7,486.7 997.6,485.9 998.4,492.1 995.2,492.9"/>
<polygon style="fill:#E3EEF9" points="984.8,490.1 990.2,489.2 991.1,493.2 986.4,493.9"/>
<polygon style="fill:#E3EEF9" points="985.6,495.8 991,495.8 991,498.1 985.6,498.1"/>
<polygon style="fill:#E3EEF9" points="978.1,492.1 982.1,490.6 982.8,493.7 978.9,494.4"/>
<polygon style="fill:#E3EEF9" points="993.2,495.1 1001.1,494.2 1001.8,498.2 996.4,498.9"/>
<polygon style="fill:#E3EEF9" points="1002.2,503.6 1006.9,502.8 1009.3,508.2 1006.9,509.8 1003.8,506.7"/>
<polygon style="fill:#E3EEF9" points="1002.5,510.7 1006.4,509.9 1007.2,513.8 1003.3,514.6"/>
<polygon style="fill:#E3EEF9" points="1007.7,513.2 1010.1,512.5 1010.4,515.6 1008.1,515.6"/>
<polygon style="fill:#E3EEF9" points="1003.1,501.1 1005.5,498 1007.8,499.6 1005.5,502.7"/>
<polygon style="fill:#BED8EC" points="1011.1,488.7 1012.7,485.6 1015.8,483.2 1018.1,486.4 1015,490.2 1012.7,491.1"/>
<polygon style="fill:#BED8EC" points="1015,488.9 1018.1,486.6 1019.7,490.5 1016.6,492.9"/>
<polygon style="fill:#E3EEF9" points="1022.6,494.4 1025.8,493.7 1026.5,497.6 1022.6,497.2"/>
<polygon style="fill:#E3EEF9" points="1012.1,495.1 1014.4,493.6 1015.2,497.5 1012.8,498.2"/>
<polygon style="fill:#E3EEF9" points="1006.4,495.1 1008.8,494.8 1009.2,497.1 1006.8,497.5"/>
<polygon style="fill:#BED8EC" points="992.4,510.8 996.3,509.2 997.9,512.4 994,513.9"/>
<polygon style="fill:#E3EEF9" points="1008.2,525.2 1011.3,522.9 1012.1,526.1 1009.8,528.4"/>
<polygon style="fill:#E3EEF9" points="1004.6,528.9 1006.9,528.1 1007.7,531.2 1005.3,532"/>
<polygon style="fill:#E3EEF9" points="994.4,482 997.6,481.2 998.4,484.3 995.2,485.1"/>
<polygon style="fill:#E3EEF9" points="1014.9,497.7 1018.1,496.1 1020.4,498.5 1017.2,501.6"/>
<polygon style="fill:#E3EEF9" points="996.9,500.8 1000.8,500.1 1001.6,502.4 997.7,503.2"/>
<polygon class="l t" points="955.8,549.4 959.5,548.8 967,550 972,551.2 978.2,553.1 984.5,553.8 990.8,556.2 997,558.1 1003.2,557.5 1009.5,558.1 1009.5,562.5 1002,570 995.8,576.2 989.5,578.1 984.5,573.8 978.2,567.5 972,561.2 968.2,560 968.2,563.1 964.5,562.5 965.8,560 959.5,554.4"/>
<polygon class="l t" points="811.8,327.5 819.3,320 827.7,311.7 836,307.2 846,305.3 856.8,305.8 860.2,309.7 865.2,314.2 868.5,317.5 866.8,321.7 871,322.5 873.5,320 874,328.1 874,335 872.1,339.4 870,342.5 855.2,356.2 842.8,356.5 839,352.5 832.8,354.4 824,354.4 819.6,346.9 817.1,341.9 814.6,337.5"/>
<polygon class="l t" points="887.5,342.3 894,340.6 900.2,336.9 907.9,331.6 909.3,335.6 910.2,345 910.2,356.9 900.2,356.2 894,355 889.3,355"/>
<polygon class="l t" points="904,318.1 904.3,313.7 908,310.6 918.4,303.5 919.8,306.7 917.8,314.1 912.8,317.2 907.3,319.2"/>
<polygon class="l t" points="923.4,303.1 935.2,293.8 938.2,294.6 941.9,299.5 935.7,304.1 925.8,304.7"/>
<polygon class="l t" points="907.3,319.2 912.8,317.2 917.8,314.1 920.2,316.9 922.8,321.2 925.2,325.6 922.2,328.1 914,329.1 907.9,331.6 907.6,325"/>
<polygon class="l t" points="907.9,331.6 914,329.1 922.2,328.1 931.6,327.2 930.2,336.2 920.2,337.8 910.9,342.8 909.3,335.6"/>
<polygon class="l t" points="929.2,317.1 937.1,313.1 939.9,316.2 941.8,321.2 941.7,327.5 931.6,327.2 932.5,321.9"/>
<polygon class="l t" points="939.6,313.1 949,308.8 955.2,310.3 961.8,314.6 962.8,316.9 962.8,320 954.3,328.4 941.7,327.5 941.8,321.2 939.9,316.2"/>
<polygon class="l t" points="931.6,327.2 941.7,327.5 954.3,328.4 950.1,333.1 942.9,341.4 937.8,339.1 930.2,336.2"/>
<polygon class="l t" points="876.7,364.2 881.5,365 886.3,365.8 886.3,375.2 881.5,375.3 875.2,373.5 875.2,368.8"/>
<polygon class="l t" points="875.2,373.5 881.5,375.3 886.3,375.2 886.9,384.2 880.2,384.3 874.9,385.8 871.5,386.9 870.5,382.5 872.8,377.5"/>
<polygon class="l t" points="961,290.8 967,289.1 970.8,290.3 974.5,294.4 976.7,296.9 973.2,301.2 972,305.9 967.3,307 964.5,309.1 962.6,306.2 962,298.8"/>
<polygon class="l t" points="973.2,301.2 976.7,296.9 982.6,295.6 986.3,298.6 987.3,303.8 982.3,307.8 978.9,312.3 975.8,307.8"/>
<polygon class="l t" points="984,297.7 990.1,295.3 993.9,291.2 1000.1,288.8 1006.4,294.8 999.5,299.1 992,304.1 988.9,302.5"/>
<polygon class="l t" points="964.5,309.1 967.3,307 972,305.9 975.8,307.8 978.9,312.3 973.2,315.6 970.5,317.2 962,312.4"/>
<polygon class="l t" points="982.3,307.8 987.3,303.8 991.4,308.1 993.2,312.5 989.8,317.5 983.8,314.6"/>
<polygon class="l t" points="973.2,318.1 978.9,312.3 982.6,312.5 985.8,318.1 984.5,323.1 980.1,324.4 977,323.8"/>
<polygon class="l t" points="988.9,318.1 994.5,314.4 999.5,318.1 1004.5,323.8 1001.4,328.2 997.9,331.2 993.2,331.2 992,325"/>
<polygon class="l t" points="982,325.6 987,320.6 989.5,323.8 992.9,329.7 991.6,341.9 987,340.9 982.3,337.8 982,332.5"/>
<polygon class="l t" points="991.5,333.1 996.4,331.2 998.5,335 997.9,339.7 993.4,341.3"/>
<polygon class="l t" points="997.9,331.2 1003.6,324.7 1010.8,331.2 1016.4,336.9 1012.3,342.8 1007,346.5 1004.4,341.9 1004.8,339.4 1001.4,334.4"/>
<polygon class="l t" points="991.6,341.9 997.9,339.7 1002.2,335.6 1004.8,339.4 1003.9,345 999.8,347.2 998.5,351.5 995.5,355.3 987.8,356.9 989.8,350"/>
<polygon class="l t" points="979.5,339.7 982.3,337.8 987,340.9 991.6,341.9 989.8,350 987.8,356.9 981.4,355.3 978.2,352.5 979.5,345"/>
<polygon class="l t" points="987.8,356.9 995.5,355.3 998.5,351.5 999.8,347.2 1007,346.5 1012.3,342.8 1017.6,338.1 1022,338.1 1028.2,342.5 1027.6,346.2 1025.1,350 1025.1,357.5 1021.4,362.5 1017,366.2 1019,369.1 1016.5,374.1 1007,375.3 999.7,376.6 990.9,379 985.5,373.8 982.3,368.8 982.9,363.1 985.1,359.4"/>
<polygon class="l t" points="956.8,355 960.1,351.9 967,353.8 975.8,354.4 974.8,359.7 972,364.1 969.2,368.8 970.1,375.4 965.8,374.4 962,366.9"/>
<polygon class="l t" points="975.5,355.9 981.4,355.3 985.1,359.4 982.9,363.1 982.3,368.8 985.5,373.8 987,377.5 979.6,379.7 971.9,379.8 970.1,375.4 969.2,368.8 972,364.1 974.8,359.7"/>
<polygon class="l t" points="1035.7,365 1035.5,362.2 1041.5,357.9 1044.3,351.1 1046.7,348 1055.8,349 1061.4,351.5 1070.1,352.8 1070.2,358.2 1064.3,364.6 1059.8,366.9 1049.5,367.5 1036,368.6"/>
<polygon class="l t" points="1075.1,351.2 1078.9,345 1085.1,343.1 1092,342.5 1093.2,346.9 1090.8,350 1088.9,355 1088.5,359.7 1086,360.6 1081.4,357.2 1077,354.7"/>
<polygon class="l t" points="1069.5,359.4 1072,355 1077,354.7 1081.4,357.2 1086,360.6 1083.5,365.3 1078.2,362.8 1072,362.6"/>
<polygon class="l t" points="1086,360.6 1088.5,359.7 1103.2,371.2 1101.4,375.6 1098.2,378.5 1083.7,368.1"/>
<polygon class="l t" points="1083.7,368.1 1098.2,378.5 1095.8,385 1094.5,387.2 1080.3,374.4"/>
<polygon class="l t" points="1059.8,366.9 1064.6,362.9 1069.5,362.5 1078.2,362.8 1083.5,365.3 1083.7,368.1 1080.3,374.4 1074.5,370 1068.2,368.5 1062,369.1"/>
<polygon class="l t" points="1037.1,370.1 1057,369.4 1058.9,370.3 1057.9,375 1055.5,378.8 1052,380 1052.2,384.5 1044.5,385.6 1037,383.1"/>
<polygon class="l t" points="1058.9,370.3 1062,369.1 1068.2,368.5 1069.5,370.6 1067.7,376.5 1066.5,385.4 1062.1,386 1055.8,381.2 1055.5,378.8 1057.9,375"/>
<polyline class="l t" points="1078.2,393.8 1077.1,386.4 1078.9,379.4 1080.3,374.4 1094.5,387.2 1093.2,393.8"/>
<polygon class="l t" points="1118.3,400 1119.8,397.5 1122.3,390.3 1127,385.4 1130.8,388.8 1137.6,395.1 1134.8,399.1 1132,404.1 1127,405.6"/>
<polygon class="l t" points="1127,385.4 1128.3,384.2 1139.3,393.3 1137.6,395.1"/>
<polygon class="l t" points="1137.6,395.1 1142,394 1152,395.6 1159.6,395.1 1161,395 1159.3,403.6 1152,402.2 1144.5,403.1 1140.1,399.7"/>
<polygon class="l t" points="1127,405.6 1132,404.1 1134.8,399.1 1137.6,395.1 1140.1,399.7 1144.5,403.1 1144.8,411.2 1142,414.1 1135.8,412.8 1130.8,409.1"/>
<polygon class="l t" points="1144.5,403.1 1152,402.2 1159.3,403.6 1157.9,408.8 1159.5,413.5 1161.1,416.5 1155.8,421.5 1152,419.1 1147,415 1144.8,411.2"/>
<polygon class="l t" points="1115.1,404.4 1118.2,403.8 1127,405.6 1130.8,409.1 1135.8,412.8 1142,414.1 1144.8,416.5 1138.2,420.3 1132,420.7 1124.8,421.2 1115.7,422.1 1115.1,412.5"/>
<polygon class="l t" points="1124.8,421.2 1138.2,420.3 1144.8,416.5 1152,419.1 1155.8,421.5 1157,428.8 1158.1,433.9 1153.2,433.8 1147.8,436.2 1142.1,440.1 1135.6,444.5 1131.4,438.8 1129.2,434 1127.9,427.9 1123.5,425.1"/>
<polygon class="l t" points="1155.8,421.5 1161.1,416.5 1166.8,419 1165.5,425 1163.5,429.1 1159.8,430.3 1156.6,426.4"/>
<polygon class="l t" points="1157.9,408.8 1159.3,403.6 1161,395 1167.6,386.4 1171.7,386.6 1172.3,390 1176.1,395.6 1175.1,401.2 1167.6,409.1 1162.3,414.4 1159.5,413.5"/>
<polygon class="l t" points="1171.7,386.6 1171.5,382 1178,379.8 1191,380 1190.5,385.9 1180.8,386.5 1171.7,386.6"/>
<polygon class="l t" points="1162.3,414.4 1167.6,409.1 1174.5,405.3 1178.5,405.9 1177.3,410.3 1172.3,414.1 1171.7,417.2 1166.8,419"/>
<polygon class="l t" points="1159.8,430.3 1163.5,429.1 1165.5,425 1166.8,419 1171.7,417.2 1172.3,414.1 1177.3,410.3 1178.5,405.9 1174.5,405.3 1175.1,401.2 1176.1,395.6 1172.3,390 1171.7,386.6 1180.8,386.5 1190.5,385.9 1189.5,392.5 1185.1,403.8 1179.5,417.5 1173.2,430 1168.9,438.8 1165.6,444.8 1162.4,440 1158.1,433.9"/>
<polygon class="l t" points="874.9,385.8 877.8,385.4 886.9,384.2 887.8,388.5 886.4,392 883.4,393.3 881.6,396.7 877.6,396 874.7,392.7 873.8,389.3"/>
<polygon class="l t" points="862.2,397.2 866.3,392.9 870.9,389.1 874.4,391.4 873,395.6 870.1,397.4 870.9,400.4 872.2,404.3 867.2,402.7 863.8,399.3"/>
<polygon class="l t" points="870.1,397.4 873,395.6 877.6,396 881.6,396.7 886.8,400.3 885.9,404.8 884.2,409.7 880.1,408.9 876.8,405.6 872.2,404.3 870.9,400.4"/>
<polygon class="l t" points="881.6,396.7 883.4,393.3 886.4,392 887.8,388.5 890.3,387.4 891.6,390.4 894.9,393.7 896.6,395.8 893,398.9 886.8,400.3"/>
<polygon class="l t" points="890.3,387.4 892.2,384.1 900,383.9 899.2,388.5 898.8,393.9 896.6,395.8 894.9,393.7 891.6,390.4"/>
<polygon class="l t" points="900,383.9 909.2,383.9 906.8,388.7 904.6,393.3 898.8,393.9 899.2,388.5"/>
<polygon class="l t" points="909.2,383.9 914.4,383.6 915,389.2 912.4,392.9 908.3,396.4 904.6,393.3 906.8,388.7"/>
<polygon class="l t" points="898.8,396.8 903.8,396 908.3,396.4 910.9,400.2 909.2,404.4 904.7,406.4 899.8,408.6 898.6,403.7"/>
<polygon class="l t" points="908.3,396.4 912.4,392.9 915.3,392.7 916.6,397.6 918.6,404.2 917.6,408.5 915.3,408.7 914,405.8 912.2,403.9 910.9,400.2"/>
<polygon class="l t" points="903.8,409.8 905.7,405.9 909.2,404.4 912.2,403.9 914,405.8 915.3,408.7 917.6,408.5 919.8,409.2 920.4,415.3 916.4,415.9 909.9,416.8 904.8,416"/>
<polygon class="l t" points="883.8,411 885.9,404.8 886.8,400.3 893,398.9 896.8,398.9 899.3,400.8 900.7,406.3 901.3,412.7 898.8,415.2 899.4,418.5 895,420.5 890.9,421 890.1,417.7 888.4,417.7 887.8,422.4 884.3,417 885.1,412.7"/>
<polygon class="l t" points="874.9,419.1 878.8,414.3 881.8,411.8 885.2,414.2 884.7,419.3 884.4,425.4 879.8,425.6 878.4,421.8"/>
<polygon class="l t" points="866.8,427.2 870.5,423.1 874.9,419.1 878.4,421.8 879.8,425.6 878.8,431 875.5,432.2 872.6,434.1 868,433.5 866.8,430.2"/>
<polygon class="l t" points="879.4,427.8 884.4,425.4 887.2,422.7 890.9,421 892.8,426 894.9,430.6 891.3,432.9 887.2,433.2 883,431"/>
<polygon class="l t" points="892.7,420.4 899.4,418.5 899,416.3 904.8,416 905.9,418.1 906.6,423.1 908.4,429.3 909.1,436.4 905.6,438 898.4,438.5 897,433.7 894.9,430.6 892.8,426"/>
<polygon class="l t" points="905.9,418.1 909.9,416.8 920.4,415.3 922.2,420.6 924.9,424.1 930.1,429.1 935.9,433.8 930.9,435.8 930.1,437.7 932.2,439.8 931.8,442 927.2,442.9 923,444.3 920.1,445.2 915.5,442.2 912.2,439.1 909.1,436.4 908.4,429.3 906.6,423.1"/>
<polygon class="l t" points="920.1,445.2 927.2,442.9 931.8,442 932.2,439.8 930.1,437.7 930.9,435.8 935.9,433.8 942.2,434.6 946.8,438.5 951.8,444.1 954.4,447.3 949.2,449.5 946.1,451.6 945.3,455.1 944.9,459.1 940.2,459.8 933,456 924.7,452.2 920.5,449.1"/>
<polygon class="l t" points="868.8,436 872.6,434.1 875.5,432.2 877.2,433.9 876.2,437 877.6,440.2 875.1,442.7 868.8,440.6"/>
<polygon class="l t" points="877.2,433.9 880.5,432.7 887.2,433.2 891.6,437.4 894.4,439.9 892.4,442.2 886.3,441 879.8,441.7 877,438.7 876.2,437"/>
<polygon class="l t" points="887.2,433.2 895.8,431.9 897,433.7 897.2,438.9 894.4,439.9 891.6,437.4"/>
<polygon class="l t" points="878.4,441.8 886.3,441 892.4,442.2 894.4,439.9 898.4,438.5 902.6,439.3 901.8,445.2 900.9,449.3 903.2,453.8 904.1,455.6 899.9,454.9 893,450.9 885.5,446 879.7,443.5"/>
<polygon class="l t" points="902.6,439.3 909.1,436.4 912.2,439.1 915.5,442.2 920.1,445.2 920.5,449.1 920,452.1 919.4,461 915.4,463.8 911.3,461.2 905.5,458.4 901.8,452.9 900.9,449.3 901.8,445.2 905.5,445.2 904.7,442.7 902.3,441.6"/>
<polygon class="l t" points="863.9,449.3 865.8,442.6 873.1,441.4 876.8,443.5 874,447.9 870.5,450.2 866.6,454.9 864.1,452.3"/>
<polygon class="l t" points="872.3,447.7 876,444.2 880.3,443.8 881.9,448.4 882.4,452.5 878.8,454.3 874,452.7"/>
<polygon class="l t" points="869.7,453.5 873,451.8 877.2,454.8 876.3,456 869.7,456"/>
<polygon class="l t" points="858.5,431.9 860.8,434.7 866.2,439.6 865.8,442.6 863.6,445.3 858.2,441.6"/>
<polygon class="l t" points="817.4,428.8 827.7,418 839.3,428.5 836.7,430.6 827.4,436.9 824,435.3"/>
<polygon class="l t" points="800.9,447.5 809,438.8 817.4,428.8 824,435.3 824.9,438.5 819.3,441.5 814.3,445.3 814,450.1 813.8,453.3 809,452.5 804.6,450.3"/>
<polygon class="l t" points="813.8,453.3 814.3,445.3 819.3,441.5 824.9,438.5 828.7,441.2 830.4,446.4 827.8,450 826.5,453.8"/>
<polygon class="l t" points="827.4,436.9 836.7,430.6 839.3,435.6 841.2,441.9 837.8,443.8 830.4,446.4 828.7,441.2"/>
<polygon class="l t" points="836.7,430.6 839.3,428.5 846.5,428.1 852.8,429.4 855.2,431.5 855.6,440 849,440 844,442.2 841.2,441.9 839.3,435.6"/>
<polygon class="l t" points="840.6,444.4 844,442.2 847.1,446.2 849,449.4 850.2,455 850.9,461.2 851.5,465.9 847.7,466.2 845.9,466.5 846.5,458.1 844,452.5 842.1,448.1"/>
<polygon class="l t" points="855.2,431.5 858.5,431.9 864.8,438.1 866.2,439.6 865.8,442.6 863.6,445.3 860.2,442.8 855.6,440"/>
<polygon class="l t" points="867.2,465 868.6,464.7 876.5,467.5 884.6,472.6 883.4,475.6 881.2,480.8 881,485.7 884.6,490 880.2,493.1 874,490 869,486.2 864.3,481.5 865.2,476.2"/>
<polygon class="l t" points="869.2,454.6 872.6,451.7 876.6,453 878.8,457.1 875.9,460 873.8,458.8"/>
<polygon class="l t" points="901.4,458.8 905.5,458.4 911.3,461.2 915.4,463.8 912.6,467.5 910.8,471.3 904.7,468.3 901.6,466.7"/>
<polygon class="l t" points="920,452.1 924.7,452.2 933,456 940.2,459.8 940.1,462.5 936.6,467.7 934,471.9 931.6,476.2 927.6,475 924.4,472.3 918,471.9 913.2,473.6 910.3,472.5 912.6,467.5 915.4,463.8 919.4,461 920,452.1"/>
<polygon class="l t" points="945.3,455.1 946.1,451.6 949.2,449.5 954.4,447.3 959.2,445 963.2,448.3 968,450.8 971.4,454.8 969.9,456.2 968.4,458.4 965.9,461.9 965.6,467.4 961.1,467.7 956.8,465.2 950.9,461.4 946.3,459.6"/>
<polygon class="l t" points="940.2,459.8 944.9,459.1 950.9,461.4 956.8,465.2 961.1,467.7 962.2,470.2 959.2,472.3 956,469.5 952,468.1 946.3,469 942,470.6 939.4,468.6 938.7,463.5"/>
<polygon class="l t" points="934,471.9 936.6,467.7 939.4,468.6 942,470.6 946.3,469 952,468.1 956,469.5 954,473.3 950.7,475.2 949.9,478.3 948.6,481.7 947.6,484.2 944.7,485.8 941.3,482.5 938,478.8 934.7,475.8 931.6,476.2"/>
<polygon class="l t" points="913.2,473.6 918,471.9 924.4,472.3 927.6,475 931.6,476.2 933,478.8 930.9,479.6 928,479.2 926.1,482.9 923,480.4 918,477.9 913.2,476.2"/>
<polygon class="l t" points="910.8,490 913.5,486.4 918.8,488.8 922.2,491 925.1,488.8 928.8,491.7 930.8,495.9 929.5,500.5 924,500.3 919,497.1 915.1,494.8 911,493.3"/>
<polygon class="l t" points="907.7,497.9 911.1,495.6 915.1,494.8 920.5,496.3 925.1,499.3 928.2,504.4 924.7,509.2 919.3,510.9 914.3,509.4 908.8,506.7"/>
<polygon class="l t" points="928.2,504.4 929.5,497 931.3,492.5 930.5,489.2 935.3,488.9 937.6,493.8 940.9,498.8 944.7,503.8 944.9,508.1 941.4,510.5 936.3,508.3 931.3,505.8"/>
<polygon class="l t" points="940.9,510.8 944.9,508.1 948,511.7 951.6,515.2 950.1,516.2 946.3,515.8"/>
<polygon class="l t" points="946.8,505 949.7,500.8 954,503.1 955.9,506.2 957.7,509.5 954.2,513.3 949.7,510"/>
<polygon class="l t" points="950.1,516.2 954.2,513.3 957.7,509.5 961.3,509 966.3,510.4 965.5,517.5 961.3,518.8 953.8,517.5"/>
<polygon class="l t" points="952.2,498.3 955.9,499.6 961.3,501.2 966.3,503.3 966.3,508.3 961.3,509 957.7,509.5 955.9,506.2 954,503.1"/>
<polygon class="l t" points="928.8,481.7 930.9,479.6 934.7,481.7 938,485 941.3,489.2 944.7,493.3 947.6,498.3 948.1,503.1 944.7,503.8 940.9,498.8 937.6,493.8 934.7,487.5 931.3,486.7 928.8,485.4"/>
<polygon class="l t" points="946.3,489.2 948.4,489.2 949.2,493.3 949.7,498.3 948,497.5"/>
<polygon class="l t" points="971.9,379.8 977.9,379 986.3,379.3 993,378.9 995.5,381.8 999.7,386 997.4,391.2 992.2,394.3 988.1,397.1 982.2,397.2 976.1,397.2 970.5,393.9 971.8,387.7"/>
<polygon class="l t" points="981,401.2 985.8,397 990.2,395.5 991.8,398.5 989.2,402.7 988.8,407.7 985.9,412 983.6,409.8 983.4,404.3"/>
<polygon class="l t" points="993,396 995.8,390.8 1000.1,388.5 1001.8,391 1003.4,394.8 1004,399.8 995.5,399.8"/>
<polygon class="l t" points="990.9,403.5 992.2,401 995.5,399.8 1004,399.8 1004.8,409.6 1000.5,409.1 995.5,408.5 990.9,407.5"/>
<polygon class="l t" points="988.6,411.2 990.9,407.5 995.5,408.5 1004.8,409.6 1004.2,412.2 1001.3,415.2 995.5,413.9 991.3,412.2"/>
<polyline class="l t" points="973.3,428.5 973.8,421 978,417.7 983.3,412.6 988.6,411.2 995.5,413.9 1001.3,415.2 1001.4,421.1 1000.2,428.2"/>
<polygon class="l t" points="1011,381.3 1021.6,381.2 1022.2,389.3 1022.5,399.7 1018,401 1013,400 1007.6,399.3 1007.2,396.8 1009.2,392.7 1011.4,386"/>
<polygon class="l t" points="1005.9,400.6 1008,400.6 1008.4,408.9 1005.9,408.9"/>
<polygon class="l t" points="1009.7,401.8 1013,400 1018,401 1022.5,399.7 1024.8,404 1025.3,409.4 1018,409.5 1009.7,408.9"/>
<polygon class="l t" points="1004.2,412.2 1004.8,409.6 1008.8,410.6 1011.3,412.7 1014,416.4 1013,419.8 1009.7,417.2 1006.6,416.4 1003.8,417"/>
<polyline class="l t" points="1000.2,428.2 1000.9,418.4 1003.8,417 1006.6,416.4 1009.7,417.2 1013,419.8 1013.8,424 1011,427.9"/>
<polygon class="l t" points="1013,411.8 1018,409.5 1025.3,409.4 1024.2,414.8 1022.6,420.6 1020.5,425.1 1018,424.8 1015.7,421.4 1014,416.4"/>
<polygon class="l t" points="1021.8,383.6 1028,384.8 1034.7,386.4 1041.3,388.1 1045.7,391.4 1045.9,396 1041.3,396.4 1034.7,397.2 1028,398.9 1022.5,399.7 1022.2,389.3"/>
<polygon class="l t" points="1035.9,403.1 1039.4,402.2 1040.1,398.9 1046,398.9 1046.4,406 1042.6,408.9 1039.2,407.2 1036.3,406"/>
<polygon class="l t" points="1022.6,420.6 1024.2,414.8 1025.3,409.4 1030.9,407.2 1036.3,406 1041,406.9 1044.9,410.2 1042.6,415.2 1041.5,418.9 1042.6,423.8 1041.3,426.9 1034.7,428.1 1030.4,429.2 1030.4,429.2 1020.8,427.3 1020.5,425.1"/>
<polygon class="l t" points="1045.5,387.7 1048.8,385 1052.2,384.5 1054.6,386.9 1058.4,392 1061.8,394.8 1062.4,398.5 1058.2,399.8 1055.5,402.2 1051.3,404.8 1046.4,406 1045.9,396"/>
<polygon class="l t" points="1052.2,384.5 1054.7,382.7 1060.1,384.7 1065.9,387.4 1070.9,389.3 1072.4,392.4 1071.3,395.6 1066.3,394.8 1061.8,394.8 1058.4,392 1054.7,388.5"/>
<polygon class="l t" points="1068.7,373.3 1073,371.8 1078.4,373 1078.9,379.4 1077.1,386.4 1075.5,391 1072.4,392.4 1070.9,389.3 1065.9,387.4 1066.2,381.4 1067.7,376.5"/>
<polygon class="l t" points="1046.4,406 1051.3,404.8 1055.5,402.2 1058.2,399.8 1062.4,398.5 1064.7,396.8 1065.5,403.9 1062.7,408.2 1060.1,411 1051.3,410.2 1045.9,410.2"/>
<polygon class="l t" points="1066.8,396.8 1071.3,395.6 1076.3,396.8 1080,398.1 1077.1,404 1072.6,406.6 1069.4,408.3 1068,404.3 1065.5,403.9"/>
<polygon class="l t" points="1060.1,411 1064.1,405.5 1066.5,404.1 1069.4,408.3 1065.5,413.5 1063.5,414.9"/>
<polygon class="l t" points="1041.5,418.9 1042.6,415.2 1044.9,410.2 1051.3,410.2 1060.1,411 1063.5,414.9 1059.5,419.3 1055.6,423.3 1051.3,425.8 1046.8,430.6 1043.8,425.8 1042.6,423.8"/>
<polyline class="l t" points="1052.2,428.2 1055.7,421.6 1059.9,417.7 1063.5,414.9 1066.3,416.4 1067.6,420.6 1065.6,428.2"/>
<polygon class="l t" points="1066.3,416.4 1070.5,410.2 1072.6,406.6 1078,403.5 1081.3,400.2 1081.3,411 1075.9,415.8 1071.8,418.9 1067.6,420.6"/>
<polyline class="l t" points="1000.2,428.2 1000.2,428.2 997.6,435 997.2,440.4 994.7,442.1 991.3,437.9 987.2,432.5 984.7,429.6 981.3,428.8 978,430.8 973.3,428.5 973.3,428.5"/>
<polyline class="l t" points="1011,427.9 1009,431 1008.4,441 1002.9,442.2 999.2,440 1000.2,428.2 1000.2,428.2"/>
<polygon class="l t" points="1009,431 1011,427.9 1013.8,424 1015.7,421.4 1018,424.8 1020.5,425.1 1021.7,430.7 1023.4,440.6 1014.7,442.1 1008.4,441"/>
<polyline class="l t" points="1052.2,428.2 1046.8,430.6 1051.3,431.9 1062.8,432.3 1065.6,428.2"/>
<polygon class="l t" points="1030.4,429.2 1034.7,428.1 1041.3,426.9 1044.7,427.3 1046.8,430.6 1043.4,434.6 1040.1,438.4 1035.6,436.6 1032.5,434.1"/>
<polygon class="l t" points="1021.1,429.2 1025.7,428 1030.4,429.2 1030.5,432.9 1034.3,434.3 1037.9,436.9 1039.9,440.2 1037.2,442.5 1029.7,441.2 1025.5,442.1 1023.4,440.6 1022.1,434.3"/>
<polygon class="l t" points="1040.1,438.4 1043.4,434.6 1046.8,430.6 1049.9,434.4 1051.8,438.3 1053.2,441.2 1048,442.1 1043,441.2 1039.7,441.7"/>
<polygon class="l t" points="1049.9,434.4 1051.3,431.9 1062.8,432.3 1063.8,437.1 1065.7,443.3 1068.8,451 1062.3,454.7 1060.1,451.2 1058,445.8 1053.8,442.5 1051.8,438.3"/>
<polygon class="l t" points="1062.3,454.7 1068.8,451 1071.6,450.8 1075.7,454.4 1083.7,464 1081.1,465.8 1072.2,467.3 1064.4,468.9 1063.2,461.7"/>
<polygon class="l t" points="1049.8,459.3 1055.5,457.5 1059.8,455.3 1062.3,454.7 1063.2,461.7 1064.4,468.9 1058.4,469.6 1053,470.4 1050.9,465"/>
<polygon class="l t" points="1045.6,448.5 1049.4,446.4 1053.8,445.8 1058.5,447.1 1060.1,451.2 1061.3,455.8 1055.5,457.5 1049.8,459.3 1047.6,453.3"/>
<polygon class="l t" points="1037.6,452.1 1041.3,450 1045.6,448.5 1047.6,453.3 1048.7,456.3 1049.8,459.3 1043,460 1037,460.4 1037.3,455.8"/>
<polygon class="l t" points="1025.4,445 1031.5,441.5 1037.2,442.5 1038.4,447.9 1037.6,452.1 1033,452.1 1029.7,449.2 1026.8,446.7"/>
<polygon class="l t" points="1028,452.5 1030.5,449.9 1033,452.1 1037.6,452.1 1037,460.4 1033.8,460.4 1029.7,458.3 1026.5,456"/>
<polygon class="l t" points="1016.8,444.4 1024.7,444.2 1026.8,446.7 1025.9,448.8 1021.5,449.4 1018,447.9"/>
<polygon class="l t" points="1020.3,448.2 1025.9,448.8 1026.3,454.8 1019.8,454.6"/>
<polygon class="l t" points="1018.5,458.1 1019.8,454.6 1026.3,454.8 1026.8,458.3 1021.3,460.6 1018.5,458.1"/>
<polygon class="l t" points="1012.2,448.8 1015.7,448.1 1018,451.7 1019.8,454.6 1018.5,458.1 1014.2,457.7 1013.2,453.8"/>
<polygon class="l t" points="996.3,445 1001.3,442.1 1006.4,440.9 1009.4,445.6 1006.3,448.8 1003,452.3 996.1,454.6 995.5,449.2"/>
<polygon class="l t" points="1007.4,450.4 1009.7,445 1013,443.8 1016.8,444.4 1015.7,448.1 1012.2,448.8 1009.6,451.1"/>
<polygon class="l t" points="996.5,456 1003,452.3 1007.4,450.4 1012.7,451.4 1013.2,453.8 1014.2,457.7 1018.5,458.1 1017.6,460.4 1009.7,461 1001.1,461 997.6,459.6"/>
<polygon class="l t" points="1001.1,461 1009.7,461 1017.6,460.4 1026.3,460.8 1025.9,464.6 1021.8,468.8 1017.5,473.2 1011.9,474 1010.1,470.4 1007.2,469.2 1003,471.2 1000.7,466.7"/>
<polygon class="l t" points="1017.5,473.2 1021.8,468.8 1025.9,464.6 1028,461.7 1033,462.5 1032.2,465 1033.6,469.6 1030.5,475.2 1026.3,477.5 1022.2,475.8"/>
<polygon class="l t" points="969.9,456.2 973,453.3 973.8,448.3 978,446.2 986.3,446.7 993.8,446.7 995.5,449.2 996.1,454.6 997.6,459.6 995.5,462.9 988,463.2 984.2,463.4 979.2,462.3 976.5,460 973,458.4"/>
<polygon class="l t" points="981.6,470.4 983,466.7 984.2,463.4 995.5,462.9 998.8,462.5 1000.7,466.7 1000.1,470.2 995.7,470.8 993.4,474.6 988.8,474.6 984.7,472.1"/>
<polygon class="l t" points="969.5,481.7 972.2,477.5 974.7,472.5 981.6,470.4 984.7,472.1 988.8,474.6 990.5,476.7 987.2,480 983.8,483.3 981.3,489.1 975.7,490.9 971.8,487.5"/>
<polygon class="l t" points="995.7,470.8 1000.1,470.2 1003,471.2 1007.2,469.2 1010.1,470.4 1011.9,474 1008.8,478.1 1004.7,481.7 1003,485 999.7,481.7 996.3,478.3 993.4,474.6"/>
<polygon class="l t" points="1005.9,483.3 1007.2,478.6 1011.9,474 1017.5,473.2 1018.8,477.5 1016.3,480.8 1013,484.2 1011.3,488.3 1008,486.7"/>
<polygon class="l t" points="1017.6,479.1 1021.3,478.3 1025.8,481.1 1028.4,485.4 1027.2,489.2 1023.8,489.2 1020.5,485.8"/>
<polygon class="l t" points="1032.4,465.8 1036.3,464.2 1039.9,466.9 1043.2,471.1 1040.8,475.9 1038.4,479 1035.5,474.2 1033.6,469.6"/>
<polygon class="l t" points="1044.2,472.9 1051.3,470.6 1058.4,469.6 1064.4,468.9 1064.9,477.5 1065.6,483.8 1061.3,485 1062.2,489.6 1055.8,492.1 1051.8,489.8 1046.8,487.3 1044.2,480"/>
<polygon class="l t" points="1064.4,468.9 1072.2,467.3 1081.1,465.8 1083,470 1083.5,476.5 1083.6,482.3 1076.5,485.4 1069.5,486.7 1065.6,483.8 1064.9,477.5"/>
<polygon class="l t" points="1035.4,482 1037.8,477.5 1041,473.3 1044.2,477.5 1042.2,483.1 1038.3,484.7"/>
<polygon class="l t" points="1030.9,488.3 1035,484.5 1042.2,483.1 1044.2,486.7 1043.4,489.4 1036.8,492.3 1032.4,492.7"/>
<polygon class="l t" points="1033.6,505.3 1034.1,494.9 1036.8,492.3 1043.4,489.4 1046.8,487.3 1051.8,489.8 1055.8,492.1 1057.7,502.9"/>
<polygon class="l t" points="1057.7,502.9 1055.8,492.1 1062.2,489.6 1066.3,486.7 1069.5,486.7 1071.3,492.5 1072.1,500.8 1069.6,503.3"/>
<polygon class="l t" points="1069.5,486.7 1076.5,485.4 1083.6,482.3 1085.4,486.2 1087.4,491.1 1083.4,493 1081.5,490.4 1079.6,494.7 1071.5,495.1 1070.8,490.8"/>
<polygon class="l t" points="965.9,461.9 968.4,458.4 973,458.4 976.5,460 979.2,462.3 982.3,463 980.5,467.5 978.8,468.8 973.6,468.6 965.6,467.4"/>
<polygon class="l t" points="956,469.5 959.2,472.3 962.2,470.2 965.6,467.4 973.6,468.6 974,474 969.7,477.5 969.5,481.7 971.8,487.5 967.6,489.9 963,487.9 956.3,485.5 952.6,484.1 948.6,481.7 949.9,478.3 950.7,475.2 954,473.3"/>
<polygon class="l t" points="951.8,486.2 956.3,485.5 963,487.9 967.6,489.9 971.8,487.5 975.7,490.9 974.3,492.5 972.6,497.1 968.4,498.6 965.7,503.1 961.3,498.3 955.5,496.7 953.4,493.3 952.2,490"/>
<polygon class="l t" points="969.8,502.1 972.6,497.1 978.3,497.8 984.8,500.6 985.5,505.3 980.5,506.5 974.7,505.8 969.2,506"/>
<polygon class="l t" points="1026.1,492.9 1029.9,491.3 1032.4,492.7 1034.1,494.9 1033.8,499.2 1030.5,501.6 1030.5,505.7 1026.3,504.6 1026.1,499.8 1026.8,496"/>
<polygon class="l t" points="1008,532.2 1011.8,530.4 1013,526.6 1015.5,523.5 1018,522.9 1019.9,525.4 1019.9,529.1 1018,532.2 1017.4,536 1013,536 1010.5,534.1"/>
<polygon class="l t" points="999.2,524.8 1001.8,522.2 1004.9,520.4 1007.4,522.2 1006.1,525.4 1003.6,527.9 1001.8,530.4 1000.5,527.9"/>
<polygon class="l t" points="993.6,516.6 997.4,514.8 1000.5,514.1 1003,516 1000.5,518.5 997.4,519.8 994.9,519.1"/>
<polygon class="l t" points="982.1,509.8 988,509.2 990.3,511.2 990.9,513.8 986.6,514.5 982.7,514.1"/>
<polygon class="l t" points="969,503.5 971,499 975.8,497.8 980.5,499.1 984.8,500.6 985.5,505.3 980.5,506.5 977.5,506.1 973,505.9"/>
<polygon class="l t" points="986.8,500.4 994.2,500.1 994.9,502.2 991.8,503.5 986.8,502.9"/>
<polygon class="l t" points="989.9,504.8 999.2,504.4 999.9,506.6 995.5,507.2 991.1,506.9"/>
<polygon class="l t" points="967.6,489.9 975.7,490.9 973.1,496.1 968.4,498.6 968.4,498.6"/>
<polygon class="l t" points="973.3,532.6 976.7,528.4 979.9,529.8 983.5,531.4 982.4,534.5 978.7,535.1 975.5,533.6"/>
<polygon class="l t" points="978.6,524.1 982.4,525.4 986.1,527.2 988.6,528.5 998,529.1 998.6,532.7 988,532.9 985.5,530.4 980.3,527.5"/>
<polygon class="l t" points="896.4,509.4 898.9,507.6 899.7,507 907.4,508.7 913,511.3 918.9,514.6 923.9,517.1 926.7,520.2 929.9,523.7 934.6,526.3 941.4,528.8 946.3,530.8 949.6,532.1 947.6,535 944.5,538.8 939.5,537.5 930.1,555 927.6,556 920.1,549.4 929.5,533.1 917,525 910.8,538.1 908.2,538.5 884.2,523.5 886.4,518.1 891.4,516.2 905.1,523.1 910.1,525 912.1,519.4 907.1,516.5 900.5,512.4 896.4,509.4"/>
<polygon class="l t" points="907.4,508.7 913.3,507.6 921.3,511.5 927.5,513.5 929.7,516.1 929.9,523.7 923.9,517.1 918.9,514.6 913,511.3 907.4,508.7"/>
<polygon class="l t" points="929.9,523.7 937.2,523.2 939.7,524 942.2,525.7 949.7,528.2 949.6,532.1 941.4,528.8 934.6,526.3"/>
<polygon class="l t" points="969.2,506 974.7,505.8 980.5,506.5 980.5,509 968.8,509"/>
<polygon class="l t" points="951.3,531.5 952.2,525.7 952,522.8 957.2,523.1 963,523.4 968.8,523.8 966.3,529 963,533.6 954.7,534.4"/>
<polygon class="l t" points="948.4,537.1 950.5,534 954.7,534.4 963,533.6 967.2,530.7 969.7,529 971.3,534 975.5,537.3 979.7,540.7 976.3,544 972,545 964.5,542.5 962,541.2 959.5,542.5 954.7,545.7 951.7,541.7"/>
<polygon class="l t" points="967.2,516.5 969.7,510.7 971.3,511.5 971.3,517.3 968,518.2"/>
<polygon class="l t" points="973,511.5 979.7,511.1 978.8,519 974.7,519.8"/>
<polygon class="l t" points="982.1,509.8 989.2,509.8 990.9,513.8 986.6,514.5 982.7,514.1"/>
<polygon class="l t" points="980.5,515.7 983,515.2 983.4,521.5 980.5,521.5"/>
<polygon class="l t" points="984.7,516.5 990.5,515.7 989.9,522.2 984.7,522.3"/>
<polygon class="l t" points="973.3,532.6 977,531.1 979.1,525 982.5,528.5 984.9,534.1 978.7,535.1"/>
<polygon class="l t" points="970.5,526.5 976.3,525.7 977,531.1 973.3,532.6"/>
<polygon class="l t" points="949.7,519.8 963,520.7 971.3,521.5 975.5,524 968.8,523.8 963,523.4 952,522.8"/>
<polygon class="l t" points="970.9,484 983.3,484.5 981.3,489.1 975.7,490.9 971.8,487.5"/>
<polygon class="l t" points="952.6,484.1 970.9,484 971.8,487.5 975.7,490.9 967.6,489.9 963,487.9 956.3,485.5"/>
<polygon class="l t" points="1109.1,438 1111.9,430.4 1115.7,422.1 1123.1,421.4 1123.6,426.7 1127.9,427.9 1130.8,436.4 1135.6,444.5 1134.4,446.7 1129.4,451.9 1124.6,452.1 1117.3,444.4 1111.5,438.6"/>
<polygon class="l t" points="1135.6,444.5 1143.6,438.4 1151.5,435 1158.1,433.9 1156.1,440.8 1154,447.9 1151.6,453.7 1146.8,458.1 1142.8,460.4 1138.8,453.6 1130.7,453.4 1129.4,451.9 1134.4,446.7"/>
<polygon class="l t" points="1099.8,441.7 1107.3,437.5 1111.5,438.6 1117.3,444.4 1124.6,452.1 1117.3,453.4 1109,452.9 1103.7,455.9 1099.8,456.2"/>
<polygon class="l t" points="1071.6,450.8 1079.5,449.2 1086.1,447.5 1091.7,444.6 1098.2,443.3 1099.8,456.2 1091.5,460.4 1083.7,464 1080.1,459.7 1075.7,454.4"/>
<polygon class="l t" points="1101.9,455.5 1109,452.9 1117.3,453.4 1130.7,453.4 1138.8,453.6 1141.1,461.2 1130.7,464.6 1117.3,468 1110.1,468.1 1109.6,461 1103.6,460.4"/>
<polygon class="l t" points="1083.7,464 1091.5,460.4 1099.8,456.2 1103.6,460.4 1109.6,461 1110.1,468.1 1100.7,470.4 1091.5,474.2 1083.5,476.5 1083,470"/>
<polygon class="l t" points="1117.3,468 1130.7,464.6 1141.1,461.2 1147.3,466.2 1150.7,470.4 1147.3,473.8 1130.7,477.9 1119.6,480.6 1117.8,474.3"/>
<polygon class="l t" points="1083.5,476.5 1091.5,474.2 1100.7,470.4 1110.1,468.1 1117.3,468 1119.2,478.1 1118.6,483.8 1105.7,487.9 1097.8,488.8 1089,490.4 1085.4,486.2"/>
<polygon class="l t" points="1119.6,480.6 1130.7,477.9 1147.3,473.8 1152.2,471.7 1155.7,476.2 1153.2,480.8 1139.3,485 1122.7,490 1120.7,485.8"/>
<polygon class="l t" points="1098.9,491.2 1105.7,487.9 1118.6,483.8 1120.3,490.7 1114.2,492.5 1100.9,495.6"/>
<polygon class="l t" points="1071.8,497.6 1080.7,494.2 1089,490.4 1097.8,488.8 1100.3,493.2 1093.6,497.9 1085.2,500.5 1074,500"/>
<polygon class="l t" points="1142.8,460.4 1150.7,455.8 1154,447.9 1156.1,440.8 1158.1,433.9 1162.4,440 1165.6,444.8 1167,442.2 1176,450 1183.5,454.2 1184.3,458.3 1181,465 1177.7,470 1183.5,474.2 1183.5,478.3 1172.7,477.5 1164.3,478.3 1157.5,479.7 1152.8,474.2 1150.7,470.4 1147.3,466.2"/>
<polygon class="l t" points="884.2,464.3 888.9,462.7 893.1,463.9 896.3,469.5 899.2,475.3 895.9,477.4 892.2,473.7 888.4,469.1 885.1,465.8"/>
<polygon class="l t" points="884.6,472.6 886.3,471.6 890.5,475.8 895.9,480.1 891.2,483.9 886.6,479.7 885.5,475.3"/>
<polygon class="l t" points="896.8,470.5 901.3,468.9 904.7,471 908,474.9 910.3,478.7 910.5,482 903.7,482.7 902.4,478.4 900.5,473.7"/>
<polygon class="l t" points="894.6,484.2 895.9,480.1 899.7,477.8 902.4,478.4 904.5,481.2 905.1,485.6 904.1,488.2 900.5,489.1 896.8,487.2"/>
<polygon class="l t" points="901.8,488.8 904.1,488.2 905.1,485.6 906.3,483.7 910.5,483.7 910.7,487.8 908.8,494.5 907.2,499.5 906.3,497.8 904.7,493.7"/>
<polygon class="l t" points="892.8,485.3 894.6,484.2 898.9,487.7 901.3,494.5 903.4,499.5 905.1,503.7 903,503.7 900.1,496.2 896.6,490.3"/>
<polyline class="l" points="833.5,490 833.5,507.5"/>
<polyline class="l" points="894.5,575.8 895.3,585 900.3,587.5 907.8,590 910.3,591.7"/>
<polyline class="l" points="889.5,629.7 894.5,629.2"/>
<polyline class="l" points="884,313.3 885.9,318.8 887.1,330 887.5,342.3 889.3,355 888.4,360 886.3,365.8 886.3,375.2 886.9,384.2"/>
<polyline class="l" points="887.5,342.3 880.2,349.4 875.9,351.2 872.8,343.8 870,342.5"/>
<polyline class="l" points="870,342.5 872.1,350 872.1,360 874,363.8 886.3,365.8"/>
<polyline class="l" points="919.8,306.7 925.8,304.7 935.7,304.1 936.8,310.9 929.2,317.1 924,315.6 920.9,312.5 919.8,306.7"/>
<polyline class="l" points="924,315.6 929.2,317.1 932.5,321.9 931.6,327.2"/>
<polyline class="l" points="935.7,304.1 947.8,298.8 950.9,306.9 949,308.8"/>
<polyline class="l" points="938.2,294.6 941.9,299.5 947.8,298.8"/>
<polyline class="l" points="950.9,306.9 955.2,310.3"/>
<polyline class="l" points="907.3,319.2 907.9,331.6"/>
<polyline class="l" points="910.9,342.8 920.2,337.8 930.2,336.2 937.8,339.1 942.9,341.4 949.1,349.2 952.6,350.9 956.8,355"/>
<polyline class="l" points="910.2,356.9 912.1,367.5 913.9,377.6 914.4,383.6 917.3,400.1"/>
<polyline class="l" points="886.9,384.2 900,383.9 914.4,383.6"/>
<polyline class="l" points="938.2,292.5 938.2,294.6 941.9,299.5 949.5,296.9 955.8,292.5 961,290.8 963.2,287.5 966,280.3"/>
<polyline class="l" points="963.2,287.5 967,289.1 970.8,290.3 972,286.2 975.8,282.5"/>
<polyline class="l" points="941.9,299.5 935.7,304.1 936.8,310.9"/>
<polyline class="l" points="949.5,296.9 949.9,304.2 952.9,308.5 961.8,314.6"/>
<polyline class="l" points="961,290.8 962,298.8 962.6,306.2 961.8,314.6"/>
<polyline class="l" points="978.9,290 979.5,291.9 982,292.5 987,293.1 990.1,295.3"/>
<polyline class="l" points="1035.1,339.4 1042,343.1 1046.7,348"/>
<polyline class="l" points="1055.8,345.6 1059.1,339.7 1062,338.1"/>
<polyline class="l" points="1056.3,347.3 1055.8,345.6 1049.5,345 1046.7,348"/>
<polyline class="l" points="1028.2,342.5 1030.1,339.6 1035.1,339.4 1037,336.2"/>
<polyline class="l" points="1036,368.6 1019,369.1 1017,366.2"/>
<polyline class="l" points="992,304.1 999.5,299.1 1006.4,294.8 1008.2,294.4 1015.8,296.9 1022,300.6 1022,300.6 1015.8,306.2 1008.9,308.8 1006.4,306.2 1005.8,298.1 1006.4,294.8"/>
<polyline class="l" points="1022,300.6 1019.6,306.4 1021.4,311.2 1022.3,315.3 1017,318.8 1012,321.9 1007.6,323.8 1004.5,323.8"/>
<polyline class="l" points="1019.6,306.4 1031.4,325.6"/>
<polyline class="l" points="1019.6,306.4 1023.2,303.8 1027,303.8 1033.2,310.6 1040.1,318.1 1040.5,322.5 1035.8,325 1031.4,325.6 1031.4,325.6 1025.5,319.4 1021.4,311.2 1019.6,306.4"/>
<polyline class="l" points="1022.3,315.3 1025.5,319.4 1028.9,326.2 1030.1,329.4 1024.1,335.8 1022,338.1"/>
<polyline class="l" points="961.8,314.6 954.3,328.4 942.9,341.4 949.1,349.2 956.4,352.8 960.1,351.9"/>
<polyline class="l" points="961.8,314.6 970.5,317.2 973.2,318.1"/>
<polyline class="l" points="977,323.8 980.1,332.5 977,338.8 979.5,339.7"/>
<polyline class="l" points="912,357.5 930.8,353.8 949.1,349.2"/>
<polyline class="l" points="956.4,352.8 962,366.9 965.8,374.4 970.1,375.4 971.8,385 968.9,390"/>
<polyline class="l" points="1090.8,350 1097,348.1 1100.1,351.2 1108.9,359.3 1114.5,365"/>
<polyline class="l" points="1093.5,349.2 1096.4,358.8 1103.2,366.2 1109.5,370.2"/>
<polyline class="l" points="1115.1,368.8 1109.5,370.2 1105.1,372.5 1103.2,371.2"/>
<polyline class="l" points="1046.7,348 1043.9,352.8 1040.3,359.2 1035.5,362.2 1036,368.6"/>
<polyline class="l" points="1055.8,349 1061.4,351.5 1070.1,352.8 1072.6,350 1073.2,345.6"/>
<polyline class="l" points="1055.8,349 1058.6,341.4 1060.1,337.8"/>
<polyline class="l" points="1096.4,388.6 1098.9,382.5 1103.9,376.2 1109.5,370.2 1115.1,368.8 1119.5,368.8"/>
<polyline class="l" points="1096.4,388.6 1098.2,394.4 1101.4,398.5 1109.5,400.6 1116.6,404.1 1119.8,397.5 1122.3,390.3 1127,385.4 1131,381.7"/>
<polyline class="l" points="1083.2,392.5 1096.4,388.6"/>
<polyline class="l" points="1083.2,392.5 1085.8,397.5 1090.8,398.1 1094.3,400.4 1098.9,396.5"/>
<polyline class="l" points="1101.4,398.5 1100.1,403.8 1103.2,407.5 1107,412.5 1113.2,413.8 1115.1,412.5"/>
<polyline class="l" points="1098.9,396.5 1094.3,400.4 1089.5,408.1 1085.6,417.1 1079.5,425 1074.5,433.8 1072,438.1"/>
<polyline class="l" points="1094.3,400.4 1090.8,405 1085.6,417.1 1083.6,419.7"/>
<polyline class="l" points="1107,412.5 1103.2,420 1100.8,428.6 1096,436.3 1095.9,443.6 1086.1,447.5"/>
<polyline class="l" points="1113.2,413.8 1114.4,423.2 1110.6,432.4 1102,437.5 1095.8,440"/>
<polyline class="l" points="1074.5,433.8 1079.5,438.8 1086.1,447.5 1083.2,450"/>
<polyline class="l" points="914.2,375.9 914.4,383.6 915.3,392.7 917.3,400.1 919.7,407.7 920.4,415.3 922.2,420.6 924.9,424.1 930.1,429.1 935.9,433.8 942.2,434.6 946.8,438.5 951.8,444.1 954.4,447.3 959.2,445 963.2,448.3 968,450.8 969.3,452.4"/>
<polyline class="l" points="858,398.5 862.2,397.2 866.3,392.9 870.9,389.1"/>
<polyline class="l" points="862.2,397.2 852.8,405.6 838.4,410.6 831.5,412.8 827.7,418"/>
<polyline class="l" points="794,447.5 800.9,447.5"/>
<polyline class="l" points="804.6,450.3 807.1,455 804.6,459.4 794,460"/>
<polyline class="l" points="813.8,453.3 813.4,457.5 815.2,460.6 828.2,461.7 829,455 830.4,446.4"/>
<polyline class="l" points="831.5,450 837.1,446.2 840.6,444.4"/>
<polyline class="l" points="846.5,458.1 844,466.5 828.2,461.7"/>
<polyline class="l" points="794,461.9 813.4,462.8 828.2,461.7 844,466.5 851.5,465.9 866.5,463.1"/>
<polyline class="l" points="813.4,462.8 814,480 806.5,478.8 794,483.9"/>
<polyline class="l" points="813.7,470 845.2,470 845.9,466.5"/>
<polyline class="l" points="845.2,470 845.2,479.4 831.5,480.9 814,480"/>
<polyline class="l" points="845.2,479.4 864.3,481.5"/>
<polyline class="l" points="814,480 816.5,486.2 818.4,493.8 823.9,496.2"/>
<polyline class="l" points="831.5,480.9 830.8,488.1 830.3,492.3"/>
<polyline class="l" points="852.8,483.8 855.2,490 856.5,497.8"/>
<polyline class="l" points="846.5,441.1 854,440 860.2,442.8 863.6,445.3 864.1,452.3 869,457.5 875.2,463.1 867.2,465"/>
<polyline class="l" points="881.9,448.4 886.4,446.6 893,450.9 901.4,455.6 901.6,466.7 896.3,465 890,464.2 883.8,462.1 883,456.7 881.9,448.4"/>
<polyline class="l" points="912.2,478.8 913.2,476.2 918,477.9 923,480.4 926.1,482.9 927.2,486.7 925.1,488.8 922.2,491 918.8,488.8 910.6,485.9 912.2,478.8"/>
<polyline class="l" points="993.5,379.5 1001.3,375.9 1016.5,374.1 1020.5,376 1021.6,381.2 1011,381.3 1007.2,381.4 1004.2,383.7 1001.3,386"/>
<polyline class="l" points="1004.2,383.7 1007.2,381.4 1011,381.3 1011.4,386 1009.2,392.7 1007.2,396.8 1007.6,399.3"/>
<polyline class="l" points="1022.9,401.2 1028,398.9 1034.7,397.2 1040.1,398.9 1039.4,402.2 1035.9,403.1 1034.9,406.3 1030.9,407.2 1025.3,409.4 1024.4,406.3 1022.9,401.2"/>
<polyline class="l" points="1019,369.1 1036,368.6 1037.1,370.1"/>
<polyline class="l" points="1019,369.1 1017.6,372 1020.5,376"/>
<polyline class="l" points="970.5,393.9 969.7,396 980.7,396.9 981.3,403.5 983.6,409.8 982.1,414.2 978,417.7 973.8,421 973.5,426.1"/>
<polyline class="l" points="1067.6,420.6 1071.8,418.9 1079.6,412.2"/>
<polyline class="l" points="1063.8,437.1 1065.6,428.2 1067.6,420.6"/>
<polyline class="l" points="1065.7,443.3 1068.8,451 1072.2,448.3 1079.5,449.2"/>
<polyline class="l" points="1037.7,444.5 1044.9,441.5 1049.7,444.2 1049.4,446.4 1045.6,448.5 1041.3,450 1038.4,447.9 1037.7,444.5"/>
<polyline class="l" points="1025.8,481.1 1028.9,475 1033,473.3 1034.7,478.3 1036.4,485.4 1031.3,485.8 1028.4,485.4 1025.8,481.1"/>
<polyline class="l" points="1038,463.3 1043,461.7 1047.9,459.5 1050.9,465 1051.3,470.6 1044.2,472.9 1041.2,469.7 1039.9,466.9 1038,463.3"/>
<polyline class="l" points="1030.5,505.7 1036.8,504 1043,503.7 1044.8,505.4 1043.6,509.6 1046.1,512.2 1050.9,517 1048,520.4 1046.8,523.3 1041.8,521.6 1038.3,519.5 1032.7,515.1 1030.2,512.6 1030.4,508.5 1030.5,505.7"/>
<polyline class="l" points="1044.8,505.4 1044.8,505.4 1052,505.4"/>
<polyline class="l" points="1018.4,510.6 1021.1,507.2 1024.2,503.5 1026.3,504.6 1027.4,504.9 1030.5,505.7 1030.2,512.6 1024.2,512.9 1017.4,512.2 1018.4,510.6"/>
<polyline class="l" points="1012.4,507.9 1015.5,505.4 1018,504.1 1019.9,505.4 1018.4,510.6 1016.1,514.4 1014.2,514.8 1012.7,512.2 1012.4,507.9"/>
<polyline class="l" points="1016.1,514.4 1019.9,515.1 1018.6,518.5 1017.1,521 1016.1,518.5 1016.1,514.4"/>
<polyline class="l" points="1018.3,519 1023,516 1026.4,514.2 1025.5,519.1 1024.9,522.5 1022.4,525.4 1020.5,523.5 1018.3,519"/>
<polyline class="l" points="1026.4,514.2 1030.2,512.6 1034.5,515.2 1038.3,519.5 1040.5,522.9 1039.3,528.3 1036.9,531.1 1032.7,532.5 1028,530.1 1024.5,527.2 1024.9,522.5 1026.4,514.2"/>
<polyline class="l" points="1023,528.5 1024.5,527.2 1028,530.1 1032.7,532.5 1030.8,536.5"/>
<polyline class="l" points="1023,528.5 1021.1,531.6 1019.2,536"/>
<polyline class="l" points="1086.1,447.5 1088.1,446.3 1093.2,440.8 1097.2,434.1 1100.8,428.6 1103.2,420"/>
<polyline class="l" points="1107.3,437.5 1111.9,430.4 1113.4,424.2 1115.7,422.1"/>
<polyline class="l" points="1047,503.5 1057.7,502.9 1069.6,503.3 1072.1,500.8"/>
<polyline class="l" points="1044.8,505.4 1043.6,509.6 1050.9,517"/>
<polyline class="l" points="739.3,432.5 744.5,437.5 750.1,443.1 754.5,440.6 757,443.1 757.6,448.1 763.2,453.1 768.2,455.6 774.5,458.8 775.8,462.5 772,469.4 767.6,475 763.9,478.8"/>
<polyline class="l" points="739.3,432.5 738.9,436.5 730.8,470 723.2,488.8 717.6,506.2 720.1,510 724.5,511.9 736.4,511.9 738.2,509.4 747,509.4 750.1,507.5"/>
<polyline class="l" points="719,489.5 723.2,488.8"/>
<polyline class="l" points="738.9,436.5 750.1,450 772,469.4"/>
<polyline class="l" points="750.1,450 740.8,460 730.8,470"/>
<polyline class="l" points="740.8,460 755.1,475 764.2,483"/>
<polyline class="l" points="730.6,470.6 735.1,473.8 743.2,482.5 746.4,484.4"/>
<polyline class="l" points="774.5,458.8 783.2,460 788.2,457.5 789.5,450 794,447.5"/>
<polyline class="l" points="788.2,457.5 792,460 794,460"/>
<polyline class="l" points="792,461.9 794,461.9"/>
<polyline class="l" points="772,469.4 792,468.5 795.8,467.9"/>
<polyline class="l" points="792,468.5 792.8,485.4 795.1,488.1"/>
<polyline class="l" points="792.8,485.4 794,483.9"/>
<polyline class="l" points="772,486.2 779.5,488.1 792.8,485.4"/>
<polyline class="l" points="757.8,490.1 764.2,483"/>
<polyline class="l" points="757.8,490.1 764.2,483"/>
<polyline class="l" points="880.5,481.6 883.8,477.8 885.5,478.7 891.2,483.9 892.8,485.3 896.6,490.3 900.1,496.2 901.9,500.8"/>
<polyline class="l" points="880.5,481.6 881,485.7 885.5,487.8 888,492.4 890.5,498.7 892.2,502"/>
<polyline class="l" points="910.3,472.5 910.3,478.7 911.1,495.6"/>
<polyline class="l" points="1082,416.2 1085.8,407.5 1089.5,401.2 1092.7,402.5 1089.5,408.1 1087,413.8 1085.6,417.1 1082,416.2"/>
<polyline class="l" points="1067.6,437.5 1069.5,431.2 1073.2,428.1 1077,423.8 1078.7,426.5 1076.4,430.4 1073.2,432.5 1072,438.1 1070.8,440 1068.2,440 1067.6,437.5"/>
</g>
<text x="423.9" y="597.8" font-size="29.7">YOUNG</text>
<rect x="427" y="614" width="27" height="26" fill="#E3EEF9" stroke="#666" stroke-width="2" shape-rendering="crispEdges"/>
<text x="460.5" y="635" font-size="21.85">0 to 620</text>
<rect x="427" y="640" width="27" height="27" fill="#BED8EC" stroke="#666" stroke-width="2" shape-rendering="crispEdges"/>
<text x="460.5" y="662" font-size="21.85">620 to 2,270</text>
<rect x="427" y="667" width="27" height="27" fill="#7FB9DA" stroke="#666" stroke-width="2" shape-rendering="crispEdges"/>
<text x="460.5" y="689" font-size="21.85">2,270 to 4,020</text>
<rect x="427" y="694" width="27" height="27" fill="#4292C6" stroke="#666" stroke-width="2" shape-rendering="crispEdges"/>
<text x="460.5" y="716" font-size="21.85">4,020 to 8,180</text>
<rect x="427" y="721" width="27" height="27" fill="#1764AB" stroke="#666" stroke-width="2" shape-rendering="crispEdges"/>
<text x="460.5" y="743" font-size="21.85">8,180 to 36,950</text>
<rect x="427" y="748" width="27" height="27" fill="#BFBFBF" stroke="#666" stroke-width="2" shape-rendering="crispEdges"/>
<text x="460.5" y="770" font-size="21.85">Missing</text>
<text x="1095.9" y="597.8" font-size="29.7">AGED</text>
<rect x="1099" y="614" width="27" height="26" fill="#E3EEF9" stroke="#666" stroke-width="2" shape-rendering="crispEdges"/>
<text x="1132.5" y="635" font-size="21.85">0 to 320</text>
<rect x="1099" y="640" width="27" height="27" fill="#BED8EC" stroke="#666" stroke-width="2" shape-rendering="crispEdges"/>
<text x="1132.5" y="662" font-size="21.85">320 to 1,360</text>
<rect x="1099" y="667" width="27" height="27" fill="#7FB9DA" stroke="#666" stroke-width="2" shape-rendering="crispEdges"/>
<text x="1132.5" y="689" font-size="21.85">1,360 to 2,630</text>
<rect x="1099" y="694" width="27" height="27" fill="#4292C6" stroke="#666" stroke-width="2" shape-rendering="crispEdges"/>
<text x="1132.5" y="716" font-size="21.85">2,630 to 4,210</text>
<rect x="1099" y="721" width="27" height="27" fill="#1764AB" stroke="#666" stroke-width="2" shape-rendering="crispEdges"/>
<text x="1132.5" y="743" font-size="21.85">4,210 to 20,240</text>
<rect x="1099" y="748" width="27" height="27" fill="#BFBFBF" stroke="#666" stroke-width="2" shape-rendering="crispEdges"/>
<text x="1132.5" y="770" font-size="21.85">Missing</text>
<rect x="13" y="157" width="1" height="645" fill="#000"/><rect x="13" y="157" width="646" height="1" fill="#000"/><rect x="657" y="157" width="2" height="645" fill="#000"/><rect x="13" y="800" width="646" height="2" fill="#000"/>
<rect x="685" y="157" width="1" height="645" fill="#000"/><rect x="685" y="157" width="646" height="1" fill="#000"/><rect x="1329" y="157" width="2" height="645" fill="#000"/><rect x="685" y="800" width="646" height="2" fill="#000"/>
</svg>
</body></html>
